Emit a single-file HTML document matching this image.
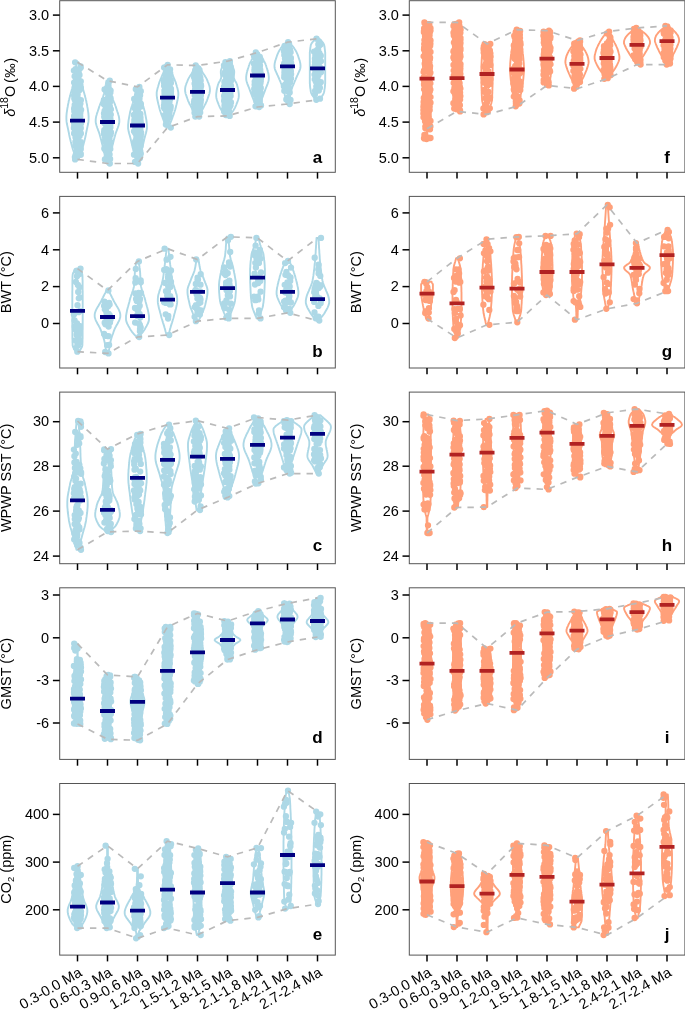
<!DOCTYPE html><html><head><meta charset="utf-8"><style>html,body{margin:0;padding:0;background:#fff;overflow:hidden;}svg{display:block;will-change:transform;}text{font-family:"Liberation Sans",sans-serif;}</style></head><body><svg width="685" height="1009" viewBox="0 0 685 1009"><path d="M75.1 62.3h0M75.1 159.4h0M75.4 93.7h0M80.4 125.5h0M77.5 114.3h0M75.5 69.1h0M80.4 103.5h0M81.1 123.2h0M77.1 118.3h0M74.9 157.1h0M75.3 145.7h0M74.6 76.3h0M76.4 124.3h0M74.6 115.5h0M75.6 128.4h0M75.8 92.8h0M78.0 106.3h0M80.3 113.3h0M79.3 133.1h0M76.9 157.5h0M76.9 102.9h0M77.7 136.5h0M76.6 147.3h0M76.3 129.8h0M74.3 118.6h0M75.9 108.3h0M80.9 142.1h0M74.8 99.8h0M77.5 78.6h0M78.4 115.7h0M80.1 89.3h0M75.5 155.3h0M75.9 79.4h0M75.7 119.5h0M76.8 98.2h0M77.1 112.4h0M80.8 128.0h0M80.0 100.4h0M80.2 68.3h0M74.1 82.6h0M74.1 95.3h0M79.0 121.9h0M80.3 86.8h0M77.3 97.7h0M78.1 107.5h0M73.9 70.6h0M76.7 95.6h0M80.6 142.8h0M79.8 113.6h0M80.1 115.0h0M80.9 87.7h0M75.7 114.0h0M74.7 94.3h0M75.0 96.8h0M77.7 83.7h0M78.8 81.4h0M80.7 122.9h0M79.1 143.9h0M78.6 125.7h0M79.4 135.1h0M77.2 132.7h0M77.9 74.6h0M74.2 96.3h0M79.5 75.0h0M75.6 113.4h0M80.5 142.5h0M78.5 86.8h0M76.1 87.5h0M74.8 96.7h0M75.7 118.9h0M78.5 111.0h0M78.9 113.1h0M74.7 105.0h0M74.4 132.7h0M77.7 94.0h0M78.1 116.2h0M76.7 86.4h0M75.5 137.3h0M78.2 116.8h0M74.0 121.8h0M76.1 112.0h0M77.2 106.2h0M80.8 153.8h0M78.5 116.6h0M80.3 143.9h0M77.3 126.4h0M75.6 101.0h0M75.7 112.4h0M80.8 81.3h0M79.0 132.4h0M76.1 116.1h0M74.1 122.9h0M77.5 88.6h0M78.8 141.8h0M76.9 117.7h0M75.8 71.0h0M78.7 129.1h0M80.6 123.9h0M75.5 106.4h0M74.1 116.0h0M76.3 88.3h0M76.9 113.5h0M78.8 72.9h0M75.3 92.6h0M79.6 136.0h0M79.2 110.9h0M77.5 96.0h0M75.4 86.6h0M80.9 133.5h0M76.1 153.1h0M79.8 141.8h0M75.6 110.4h0M75.5 100.5h0M79.4 130.9h0M76.0 101.6h0M80.8 67.6h0M77.5 87.1h0M75.2 89.7h0M75.5 90.8h0M76.9 92.4h0M78.7 108.4h0M80.7 66.3h0M75.0 91.8h0M76.7 119.2h0M75.4 135.2h0M80.9 100.1h0M74.9 132.6h0M74.3 111.3h0M74.3 119.0h0M76.7 128.6h0M80.4 84.6h0M80.3 116.5h0M79.2 123.1h0M81.1 109.8h0M80.6 111.1h0M76.3 126.3h0M75.2 133.8h0M80.6 133.1h0M79.3 110.3h0M74.1 108.8h0M78.7 136.8h0M76.6 124.7h0M76.6 134.5h0M76.3 117.4h0M75.1 127.6h0M73.9 127.9h0M75.9 112.5h0M76.4 107.6h0M80.8 149.1h0M74.8 105.9h0M80.8 154.8h0M75.4 141.9h0M76.5 109.5h0M79.8 106.1h0M79.8 143.8h0M77.0 149.8h0M74.3 98.4h0M77.3 97.3h0M76.6 89.0h0M80.5 86.5h0M75.3 111.9h0M76.5 123.6h0M80.4 132.2h0M74.1 133.4h0M76.9 135.4h0M79.7 90.1h0M79.4 152.3h0M74.2 108.1h0M74.2 126.0h0M74.4 116.4h0M109.8 80.7h0M109.8 163.5h0M107.3 108.8h0M106.0 106.9h0M107.8 158.8h0M104.8 112.7h0M109.9 116.3h0M106.5 157.5h0M110.0 131.0h0M105.8 107.2h0M106.6 145.5h0M105.7 101.2h0M107.0 102.6h0M105.2 139.5h0M103.9 100.1h0M109.1 132.1h0M105.9 135.7h0M105.7 150.3h0M106.1 127.6h0M107.4 141.8h0M107.0 101.2h0M108.5 128.6h0M108.6 122.7h0M106.5 120.0h0M110.6 90.6h0M110.1 159.0h0M104.3 130.1h0M109.9 98.7h0M110.4 92.4h0M109.5 134.7h0M104.9 136.9h0M109.9 106.5h0M108.5 85.9h0M104.0 113.4h0M104.0 133.6h0M110.8 114.6h0M108.6 106.6h0M105.7 110.3h0M104.6 110.8h0M104.9 141.0h0M105.6 115.8h0M109.5 114.3h0M106.4 118.9h0M105.0 111.4h0M110.4 123.9h0M109.6 97.0h0M105.1 120.7h0M110.3 149.0h0M108.3 145.8h0M109.5 114.2h0M108.7 149.4h0M110.3 98.8h0M109.6 123.6h0M109.9 143.4h0M105.3 150.1h0M108.9 130.3h0M107.7 132.6h0M109.2 115.5h0M107.1 116.0h0M110.3 117.7h0M107.9 121.2h0M105.8 118.6h0M105.6 119.9h0M104.9 122.9h0M107.5 133.4h0M104.3 123.1h0M107.3 122.4h0M104.9 159.4h0M107.4 121.4h0M107.5 156.5h0M107.8 143.3h0M110.1 148.2h0M103.9 122.3h0M110.0 97.9h0M107.3 122.6h0M108.0 133.4h0M108.7 132.8h0M110.0 146.7h0M106.6 110.5h0M106.9 117.3h0M110.8 142.3h0M104.4 148.6h0M108.5 129.2h0M108.5 106.6h0M104.1 131.7h0M108.3 123.1h0M108.8 91.6h0M110.6 134.8h0M106.3 129.5h0M111.0 132.4h0M107.6 100.9h0M107.4 114.0h0M110.4 127.3h0M104.1 134.2h0M109.1 114.3h0M108.4 158.6h0M106.3 122.7h0M110.1 148.0h0M106.5 106.3h0M107.3 142.4h0M107.7 142.1h0M109.4 99.4h0M105.4 99.9h0M107.0 139.6h0M106.9 126.6h0M107.9 153.6h0M109.9 102.3h0M106.0 142.5h0M109.9 132.9h0M106.8 119.6h0M107.5 116.9h0M105.9 127.9h0M107.5 92.7h0M110.9 109.3h0M108.6 83.1h0M109.6 89.6h0M106.3 90.0h0M106.2 133.0h0M106.1 89.0h0M108.1 143.4h0M108.5 107.1h0M109.5 111.2h0M104.2 116.8h0M109.1 109.4h0M110.3 125.2h0M107.8 152.1h0M104.3 148.6h0M106.1 121.4h0M103.9 104.2h0M105.3 138.6h0M110.5 132.7h0M108.3 113.9h0M108.6 154.4h0M109.6 154.3h0M110.5 97.8h0M108.3 100.0h0M108.3 124.7h0M108.4 109.6h0M108.9 154.0h0M108.2 96.6h0M108.8 93.5h0M105.4 101.2h0M108.7 123.9h0M107.2 107.9h0M109.4 141.4h0M104.6 89.5h0M105.2 112.9h0M104.2 113.7h0M109.5 138.1h0M110.5 133.1h0M108.6 114.2h0M106.6 128.2h0M109.8 115.6h0M109.6 133.8h0M107.9 106.6h0M105.8 132.8h0M106.1 115.8h0M106.9 132.2h0M106.2 145.1h0M107.0 121.3h0M108.5 125.5h0M110.6 123.1h0M104.3 113.2h0M108.0 110.1h0M104.2 103.4h0M104.8 115.5h0M109.7 109.9h0M108.0 113.2h0M110.5 119.5h0M107.1 109.9h0M139.4 86.9h0M138.1 163.5h0M137.5 118.5h0M140.8 136.3h0M138.0 98.5h0M136.9 96.8h0M139.5 142.0h0M140.2 143.1h0M138.3 142.8h0M136.6 135.1h0M137.2 122.2h0M137.2 141.8h0M139.1 149.5h0M136.0 110.7h0M136.7 124.2h0M137.9 115.1h0M136.7 120.5h0M136.2 114.7h0M139.6 135.1h0M140.0 116.4h0M137.5 130.3h0M137.1 112.3h0M135.2 132.9h0M136.1 119.7h0M134.9 115.8h0M138.0 133.0h0M138.1 148.8h0M134.5 119.3h0M140.5 130.7h0M136.2 113.5h0M140.0 129.3h0M139.9 158.3h0M140.8 133.4h0M135.4 122.5h0M137.0 147.5h0M140.5 146.0h0M134.0 131.3h0M134.2 123.4h0M138.0 101.4h0M137.5 114.7h0M140.5 117.7h0M139.5 98.3h0M137.8 147.2h0M141.1 132.6h0M137.6 126.7h0M137.6 130.3h0M138.8 146.6h0M136.7 106.4h0M136.5 102.3h0M138.2 93.3h0M136.4 129.6h0M140.7 122.0h0M138.8 156.6h0M137.7 132.7h0M134.6 106.6h0M136.6 138.2h0M136.8 121.2h0M137.9 103.9h0M138.0 106.5h0M140.2 151.0h0M140.8 91.2h0M137.4 138.7h0M137.1 132.2h0M138.4 106.6h0M141.1 123.8h0M136.4 105.2h0M137.7 138.8h0M139.8 141.8h0M135.1 121.5h0M136.2 135.0h0M140.9 103.9h0M139.8 141.6h0M137.6 107.3h0M134.7 98.8h0M140.3 151.2h0M138.9 138.1h0M139.8 123.5h0M141.0 106.6h0M140.3 155.5h0M136.9 142.5h0M135.0 161.9h0M136.0 148.7h0M137.6 97.6h0M137.5 156.8h0M135.3 130.7h0M135.2 141.4h0M138.4 93.0h0M138.2 133.5h0M136.4 107.9h0M141.1 133.8h0M138.5 102.4h0M134.2 143.0h0M136.9 142.2h0M139.6 149.0h0M136.1 124.7h0M138.9 153.7h0M133.9 115.0h0M136.1 115.3h0M140.0 121.0h0M138.1 111.5h0M138.7 116.1h0M135.3 126.2h0M137.5 128.1h0M137.9 100.9h0M135.8 89.2h0M138.6 140.4h0M137.7 131.1h0M141.1 140.7h0M138.0 90.4h0M136.9 124.7h0M134.8 108.3h0M135.0 118.0h0M139.4 132.2h0M134.7 144.1h0M134.6 116.7h0M135.1 146.4h0M137.7 105.3h0M139.8 106.0h0M138.3 135.4h0M139.7 127.6h0M134.3 120.1h0M134.0 154.7h0M139.4 136.0h0M136.2 138.9h0M139.1 128.4h0M136.4 134.5h0M135.1 126.8h0M135.8 110.3h0M134.6 107.5h0M140.4 127.8h0M138.1 96.4h0M136.4 109.4h0M137.1 109.0h0M136.7 130.6h0M134.3 122.2h0M140.3 133.8h0M138.1 110.7h0M140.8 103.9h0M137.1 116.3h0M138.4 152.9h0M135.7 129.5h0M134.2 99.0h0M140.6 120.6h0M140.1 95.3h0M136.2 98.7h0M140.4 113.9h0M139.8 134.1h0M136.1 145.1h0M138.2 157.0h0M140.8 153.6h0M167.7 64.8h0M170.8 127.6h0M171.0 95.9h0M164.1 80.1h0M167.9 109.9h0M169.5 95.2h0M170.2 80.1h0M169.5 87.3h0M168.5 100.1h0M168.5 98.3h0M166.5 90.1h0M165.9 86.9h0M169.6 76.8h0M170.2 79.7h0M170.7 106.5h0M168.8 70.6h0M166.1 117.2h0M169.4 92.6h0M169.2 115.4h0M167.6 87.0h0M168.5 96.5h0M166.4 93.2h0M167.9 109.2h0M166.8 87.9h0M164.3 103.0h0M166.3 119.6h0M166.2 97.0h0M171.0 89.0h0M167.4 100.5h0M166.5 89.3h0M165.7 85.0h0M165.6 87.5h0M166.4 83.4h0M164.9 84.3h0M164.0 82.5h0M170.2 73.1h0M167.2 106.5h0M167.1 90.7h0M168.0 108.7h0M166.1 118.0h0M165.1 104.3h0M164.4 67.3h0M166.1 75.0h0M166.1 83.8h0M169.1 104.9h0M167.9 109.8h0M170.6 92.1h0M166.4 86.7h0M170.5 82.8h0M168.1 111.9h0M164.5 108.4h0M165.2 82.5h0M168.1 104.2h0M171.0 91.7h0M166.5 123.1h0M169.5 112.6h0M167.0 81.2h0M170.2 99.0h0M164.4 90.7h0M167.4 84.3h0M170.4 109.2h0M165.9 79.7h0M165.8 97.2h0M164.1 85.7h0M165.1 99.2h0M165.8 102.4h0M169.0 72.0h0M165.5 87.4h0M166.8 92.9h0M165.3 85.2h0M168.2 87.6h0M170.1 69.3h0M168.6 92.1h0M165.3 98.9h0M169.2 105.8h0M170.8 80.2h0M168.2 117.5h0M164.5 85.3h0M169.7 116.6h0M170.2 87.9h0M166.4 88.0h0M164.9 79.8h0M165.3 100.4h0M167.8 95.8h0M170.2 74.7h0M168.5 101.3h0M170.5 108.0h0M165.4 92.6h0M166.3 70.4h0M169.3 92.4h0M168.6 110.2h0M166.8 114.2h0M168.8 82.6h0M166.3 97.1h0M164.3 86.1h0M166.9 121.6h0M164.2 83.4h0M168.4 100.2h0M166.3 77.1h0M167.5 85.1h0M168.2 115.7h0M165.8 107.3h0M167.2 83.5h0M164.0 105.5h0M170.6 107.4h0M168.0 88.2h0M171.0 90.9h0M164.3 100.3h0M168.3 72.0h0M169.1 80.7h0M166.3 98.1h0M164.6 95.5h0M165.0 79.0h0M164.9 101.8h0M169.4 90.4h0M164.5 92.4h0M169.8 99.4h0M166.9 112.3h0M167.8 89.4h0M168.1 113.5h0M167.9 113.5h0M168.6 79.7h0M168.2 78.2h0M166.3 109.2h0M169.2 86.2h0M165.8 110.1h0M169.0 102.7h0M169.4 99.3h0M169.5 107.2h0M166.1 76.9h0M169.5 71.9h0M170.9 83.0h0M167.2 88.7h0M165.9 124.4h0M167.7 86.3h0M170.7 96.3h0M164.8 115.1h0M164.0 107.5h0M167.3 94.7h0M168.6 117.9h0M169.5 101.8h0M166.5 75.5h0M171.0 94.2h0M165.5 89.2h0M169.3 85.8h0M164.5 93.7h0M164.1 67.6h0M164.9 106.9h0M164.3 82.0h0M167.5 81.3h0M195.7 65.5h0M199.2 116.6h0M195.2 93.9h0M199.6 73.1h0M196.0 73.8h0M194.4 105.3h0M197.9 98.0h0M194.6 106.4h0M197.9 86.0h0M199.6 86.4h0M198.2 77.0h0M197.2 78.9h0M194.1 77.3h0M197.6 76.6h0M194.6 109.9h0M198.6 79.9h0M194.9 90.3h0M198.1 96.0h0M196.4 95.1h0M196.6 83.9h0M198.7 109.6h0M195.1 80.7h0M195.1 70.5h0M200.7 100.4h0M196.3 115.6h0M200.0 100.7h0M200.2 91.3h0M197.4 87.5h0M195.0 91.1h0M194.6 83.6h0M200.2 79.4h0M194.7 79.0h0M197.5 86.4h0M197.8 84.0h0M194.7 100.7h0M197.3 93.3h0M195.1 85.9h0M197.8 86.9h0M197.5 85.3h0M196.5 86.4h0M195.3 116.5h0M196.8 78.5h0M195.4 84.8h0M194.8 75.6h0M195.6 111.9h0M200.2 101.0h0M197.5 98.5h0M200.3 77.5h0M194.0 103.5h0M200.7 101.9h0M197.4 92.4h0M199.6 100.1h0M198.0 97.6h0M198.9 76.9h0M195.6 89.7h0M199.3 92.2h0M195.0 76.8h0M195.8 92.3h0M194.1 107.1h0M196.7 89.0h0M197.6 109.8h0M196.0 85.0h0M200.3 107.3h0M194.5 73.4h0M198.1 106.5h0M195.6 88.6h0M198.2 101.0h0M199.5 89.9h0M199.0 104.3h0M194.3 100.3h0M195.7 92.1h0M198.2 84.4h0M201.0 85.0h0M194.2 75.8h0M198.4 68.5h0M198.9 102.2h0M199.8 82.1h0M196.4 108.1h0M199.7 75.8h0M197.2 84.5h0M200.5 88.1h0M194.0 101.9h0M200.7 86.3h0M196.9 106.9h0M196.8 85.2h0M194.5 112.8h0M195.7 84.5h0M199.2 82.3h0M198.8 104.1h0M195.0 92.4h0M196.4 89.1h0M194.9 108.4h0M195.3 89.7h0M195.5 88.0h0M196.3 91.7h0M200.9 99.8h0M201.1 86.0h0M199.6 100.2h0M197.4 71.5h0M197.5 70.7h0M199.5 104.0h0M200.4 101.8h0M199.3 86.9h0M198.5 110.1h0M195.3 82.6h0M198.4 79.5h0M200.0 81.5h0M199.6 91.6h0M194.6 109.3h0M199.1 75.8h0M196.4 92.9h0M195.1 89.2h0M200.9 95.3h0M198.7 106.5h0M199.3 92.7h0M194.9 94.4h0M199.9 80.4h0M200.6 88.7h0M200.4 88.2h0M199.3 98.2h0M199.9 109.6h0M199.7 96.0h0M198.2 106.4h0M197.0 99.9h0M199.8 80.6h0M199.5 108.3h0M200.2 112.4h0M196.1 70.7h0M200.8 86.7h0M197.7 100.6h0M200.7 80.5h0M194.7 95.2h0M200.9 94.1h0M199.6 108.5h0M195.7 85.5h0M199.9 84.9h0M195.6 76.9h0M195.3 102.7h0M197.2 100.2h0M195.6 107.8h0M197.4 80.4h0M200.4 103.8h0M198.8 113.0h0M199.0 90.3h0M196.7 96.0h0M199.5 70.0h0M199.6 108.7h0M198.8 112.7h0M200.7 99.0h0M199.8 82.5h0M229.9 61.2h0M229.7 115.9h0M227.2 83.4h0M224.8 96.9h0M228.6 79.8h0M225.4 62.1h0M227.0 105.6h0M224.7 94.3h0M230.9 79.5h0M227.8 95.1h0M226.4 66.0h0M224.6 99.6h0M229.2 97.4h0M230.0 71.3h0M230.0 94.6h0M224.6 82.8h0M226.5 106.6h0M226.1 90.0h0M229.4 86.1h0M225.0 74.9h0M228.3 108.4h0M230.9 81.0h0M229.4 95.8h0M223.9 89.8h0M224.4 98.6h0M224.7 85.7h0M228.9 102.2h0M228.2 79.0h0M227.6 92.7h0M227.2 82.7h0M226.8 96.3h0M228.3 102.9h0M228.6 91.0h0M230.5 105.2h0M229.2 100.0h0M229.6 76.4h0M230.5 92.7h0M229.9 104.6h0M229.1 68.9h0M224.1 109.2h0M228.8 101.6h0M230.0 78.3h0M227.0 77.5h0M230.2 71.4h0M225.2 112.8h0M230.7 78.8h0M227.1 67.1h0M229.0 82.8h0M225.7 113.9h0M226.1 85.8h0M226.4 96.1h0M226.2 78.4h0M224.6 102.6h0M227.1 91.8h0M231.0 102.4h0M228.6 90.2h0M230.6 95.7h0M229.4 103.4h0M229.9 106.4h0M231.1 75.7h0M229.3 102.4h0M225.9 83.8h0M225.7 67.3h0M226.9 96.5h0M224.1 95.9h0M225.6 103.6h0M230.3 79.9h0M230.5 105.3h0M226.3 90.3h0M229.4 97.8h0M229.5 68.5h0M230.3 88.7h0M229.6 97.7h0M227.7 83.3h0M224.7 102.5h0M229.8 101.8h0M226.2 96.7h0M228.4 99.7h0M226.5 76.2h0M227.8 94.2h0M230.9 76.1h0M225.1 73.4h0M227.7 105.1h0M228.6 99.5h0M227.8 107.1h0M230.7 68.8h0M226.8 91.6h0M230.5 67.2h0M228.9 95.6h0M230.9 79.3h0M224.5 105.4h0M225.4 84.4h0M226.0 95.7h0M230.4 93.2h0M224.0 89.2h0M225.8 115.1h0M229.1 87.3h0M231.0 86.0h0M225.2 100.0h0M227.1 79.9h0M228.8 83.2h0M228.9 89.4h0M229.3 72.0h0M229.3 91.8h0M225.7 100.7h0M225.8 64.6h0M224.1 100.7h0M228.9 75.6h0M225.4 63.6h0M225.8 105.2h0M230.8 66.8h0M228.5 87.3h0M228.2 68.2h0M228.6 92.0h0M228.2 72.6h0M228.9 101.3h0M226.1 68.5h0M224.4 72.9h0M224.4 81.9h0M224.0 86.6h0M226.5 109.8h0M224.9 65.1h0M224.7 95.4h0M227.5 87.7h0M230.9 72.5h0M228.9 110.7h0M225.9 68.1h0M229.4 86.2h0M225.2 96.0h0M224.6 85.2h0M226.1 100.8h0M226.8 86.9h0M228.9 98.0h0M227.1 99.1h0M229.1 94.0h0M224.6 73.7h0M230.6 95.9h0M226.4 63.3h0M229.9 63.3h0M224.1 111.5h0M229.9 69.6h0M225.5 102.6h0M230.1 70.1h0M229.7 91.6h0M228.7 88.7h0M225.9 93.7h0M224.0 65.4h0M225.3 91.0h0M230.4 82.9h0M225.0 102.0h0M255.8 52.5h0M259.2 107.0h0M260.3 88.4h0M260.4 88.5h0M257.3 60.3h0M260.8 88.0h0M258.2 64.7h0M256.0 72.3h0M257.2 66.2h0M259.1 81.0h0M259.2 68.0h0M254.8 94.2h0M255.3 63.1h0M260.8 73.4h0M254.7 87.5h0M259.8 99.9h0M256.3 65.3h0M255.7 76.4h0M255.7 77.6h0M257.3 57.6h0M261.0 78.6h0M255.0 65.1h0M260.1 58.9h0M256.2 72.2h0M255.1 56.4h0M259.3 93.1h0M256.4 99.3h0M255.3 65.6h0M256.9 99.6h0M259.8 57.0h0M260.1 92.4h0M258.0 77.2h0M254.0 63.7h0M259.4 72.2h0M258.3 62.3h0M260.4 88.1h0M260.8 92.9h0M256.3 65.3h0M260.0 85.5h0M259.8 101.7h0M255.8 64.9h0M256.5 101.6h0M256.6 64.3h0M256.4 76.4h0M256.6 74.4h0M254.7 65.2h0M255.5 80.4h0M260.4 79.3h0M256.9 86.4h0M258.5 97.9h0M260.3 70.0h0M259.3 71.2h0M255.7 66.6h0M260.5 83.1h0M259.7 60.0h0M261.0 60.6h0M259.1 81.0h0M259.3 100.8h0M259.8 65.3h0M255.7 84.4h0M258.6 74.8h0M256.6 58.2h0M259.9 68.3h0M254.9 75.4h0M257.8 88.1h0M256.3 58.9h0M259.8 88.4h0M256.4 83.6h0M260.0 90.2h0M260.0 65.4h0M260.2 81.1h0M254.9 86.5h0M260.7 87.8h0M259.3 65.2h0M258.8 74.8h0M258.6 101.6h0M254.2 92.6h0M260.2 59.5h0M257.8 64.2h0M257.2 54.4h0M256.3 74.6h0M259.5 71.9h0M259.5 76.3h0M260.2 78.8h0M255.4 89.3h0M256.4 87.5h0M255.7 68.9h0M254.6 84.6h0M256.3 92.0h0M254.1 56.3h0M259.6 66.9h0M255.5 106.3h0M254.4 70.8h0M254.4 69.9h0M259.2 78.6h0M255.3 55.5h0M257.2 61.4h0M256.8 86.5h0M259.7 92.2h0M260.8 79.3h0M256.1 55.3h0M258.5 90.2h0M260.3 91.6h0M257.3 65.1h0M260.4 88.7h0M259.2 60.0h0M256.1 84.2h0M260.2 87.1h0M258.0 66.6h0M254.7 81.6h0M258.1 64.5h0M259.9 87.4h0M257.6 63.7h0M257.4 88.6h0M256.9 61.1h0M260.2 95.8h0M258.7 69.7h0M255.4 57.4h0M256.5 80.5h0M256.5 77.7h0M260.8 80.9h0M258.9 91.5h0M254.8 94.8h0M260.5 78.9h0M254.2 88.9h0M258.2 69.8h0M257.0 72.8h0M259.1 86.2h0M257.0 77.3h0M254.6 67.7h0M257.7 59.5h0M259.8 86.3h0M259.6 94.5h0M256.5 94.4h0M255.5 58.3h0M259.3 61.4h0M259.7 97.9h0M255.5 75.7h0M260.3 59.2h0M261.0 105.5h0M288.1 42.2h0M289.7 104.0h0M285.1 69.0h0M287.5 54.7h0M288.0 62.5h0M287.9 53.7h0M286.9 73.1h0M287.8 91.3h0M284.0 64.6h0M284.3 55.0h0M286.9 76.8h0M285.6 68.4h0M289.3 58.2h0M285.6 68.2h0M289.8 71.1h0M285.6 56.8h0M284.6 74.1h0M287.3 54.7h0M286.7 59.0h0M286.3 99.4h0M289.4 47.5h0M285.5 51.0h0M288.7 63.0h0M289.9 57.3h0M287.2 52.2h0M287.5 80.4h0M290.6 52.2h0M288.2 47.5h0M285.2 61.7h0M284.4 53.5h0M284.5 71.3h0M286.3 78.8h0M284.5 52.7h0M288.6 67.1h0M286.9 68.5h0M286.1 84.9h0M287.6 77.6h0M290.6 64.1h0M285.7 68.9h0M285.0 76.5h0M286.1 51.2h0M286.2 63.2h0M290.5 76.2h0M289.0 53.5h0M287.0 71.8h0M285.1 64.7h0M284.2 63.8h0M284.8 71.7h0M290.0 66.1h0M288.6 90.8h0M285.0 65.1h0M288.4 64.6h0M284.3 75.5h0M287.5 62.7h0M286.3 51.3h0M284.6 45.8h0M289.2 69.0h0M289.1 66.0h0M287.6 44.6h0M285.1 49.9h0M288.7 49.1h0M287.0 53.4h0M288.7 64.5h0M284.6 69.0h0M290.4 57.9h0M283.9 85.8h0M285.5 53.3h0M286.8 63.9h0M285.3 84.3h0M284.5 69.4h0M288.8 77.8h0M291.1 63.0h0M286.3 51.0h0M285.8 65.9h0M288.7 67.8h0M285.5 67.5h0M286.8 80.2h0M288.9 65.5h0M287.0 61.9h0M285.0 58.4h0M284.4 72.4h0M287.8 99.2h0M291.0 78.4h0M290.5 99.9h0M284.6 90.2h0M287.5 59.3h0M287.4 87.1h0M285.3 48.2h0M288.7 86.8h0M287.5 82.6h0M289.7 65.1h0M286.0 68.6h0M290.6 70.4h0M289.8 67.0h0M287.3 71.4h0M284.9 88.5h0M287.4 84.2h0M284.8 88.0h0M288.8 81.6h0M288.9 57.6h0M288.1 97.4h0M290.9 70.9h0M284.2 63.4h0M289.0 53.7h0M289.7 92.5h0M284.7 53.7h0M286.2 63.0h0M284.3 90.8h0M288.1 81.2h0M289.1 88.2h0M286.4 70.8h0M288.9 52.1h0M286.5 76.4h0M289.0 52.6h0M285.9 71.3h0M290.9 58.8h0M287.1 78.6h0M283.9 50.9h0M284.6 76.0h0M289.1 44.0h0M290.1 49.9h0M288.5 81.1h0M285.0 64.6h0M290.2 81.4h0M289.1 64.5h0M284.7 46.2h0M286.6 76.4h0M288.7 73.6h0M283.9 86.3h0M284.2 77.3h0M286.4 67.9h0M290.2 58.7h0M291.1 74.1h0M286.2 85.3h0M290.4 58.9h0M289.6 64.7h0M290.1 82.6h0M288.1 64.4h0M290.9 58.0h0M288.5 52.0h0M316.5 38.7h0M316.3 99.8h0M318.3 50.7h0M318.0 68.2h0M315.9 61.5h0M314.5 74.6h0M320.8 55.7h0M316.6 69.5h0M314.7 79.3h0M318.6 71.2h0M317.7 85.8h0M316.3 86.4h0M316.3 53.9h0M320.0 69.9h0M316.3 56.4h0M316.9 82.0h0M320.8 68.2h0M316.5 51.7h0M316.8 60.6h0M315.1 60.7h0M318.7 83.5h0M318.7 53.0h0M317.1 78.7h0M316.8 77.5h0M315.6 55.4h0M319.6 60.7h0M317.2 79.6h0M319.9 87.8h0M316.6 59.3h0M319.2 87.3h0M314.1 68.5h0M315.5 55.2h0M320.8 82.2h0M318.8 90.6h0M318.8 65.5h0M317.5 57.9h0M317.3 49.9h0M315.3 55.9h0M315.1 90.8h0M318.5 64.8h0M318.9 85.9h0M315.8 65.6h0M318.5 75.1h0M314.9 61.9h0M318.3 61.4h0M315.1 59.0h0M317.6 76.9h0M316.2 76.0h0M317.9 50.9h0M314.9 94.3h0M317.4 74.5h0M318.3 58.4h0M314.9 58.6h0M316.1 75.5h0M318.8 46.2h0M317.8 57.7h0M318.3 60.9h0M319.5 53.4h0M318.0 53.6h0M315.5 61.7h0M317.1 87.4h0M319.9 55.1h0M318.0 68.0h0M319.3 42.0h0M316.5 52.6h0M317.1 86.2h0M320.9 72.2h0M319.8 87.6h0M318.6 54.6h0M314.7 65.6h0M318.3 44.3h0M314.1 51.7h0M320.6 44.4h0M320.9 61.2h0M319.1 69.7h0M315.8 81.6h0M320.0 98.7h0M315.2 69.9h0M319.9 61.4h0M317.6 51.5h0" stroke="#ADD8E6" stroke-width="6.3" stroke-linecap="round" fill="none"/><path d="M78.5,62.3 78.6,63.7 78.8,65.1 78.9,66.5 79.0,67.8 79.2,69.2 79.3,70.6 79.5,72.0 79.7,73.4 79.9,74.8 80.1,76.2 80.3,77.6 80.6,78.9 80.9,80.3 81.3,81.7 81.6,83.1 81.9,84.5 82.3,85.9 82.6,87.3 82.9,88.7 83.3,90.0 83.7,91.4 84.1,92.8 84.5,94.2 84.8,95.6 85.2,97.0 85.6,98.4 85.9,99.8 86.3,101.1 86.5,102.5 86.8,103.9 87.1,105.3 87.3,106.7 87.6,108.1 87.8,109.5 88.0,110.8 88.2,112.2 88.4,113.6 88.5,115.0 88.6,116.4 88.6,117.8 88.6,119.2 88.5,120.6 88.4,121.9 88.2,123.3 87.9,124.7 87.6,126.1 87.3,127.5 87.0,128.9 86.7,130.3 86.4,131.7 86.1,133.0 85.9,134.4 85.6,135.8 85.3,137.2 85.0,138.6 84.6,140.0 84.3,141.4 83.9,142.8 83.6,144.1 83.2,145.5 82.8,146.9 82.4,148.3 82.0,149.7 81.5,151.1 81.0,152.5 80.5,153.9 80.0,155.2 79.5,156.6 79.0,158.0 78.5,159.4 76.5,159.4 76.0,158.0 75.5,156.6 75.0,155.2 74.5,153.9 74.0,152.5 73.5,151.1 73.0,149.7 72.6,148.3 72.2,146.9 71.8,145.5 71.4,144.1 71.1,142.8 70.7,141.4 70.4,140.0 70.0,138.6 69.7,137.2 69.4,135.8 69.1,134.4 68.9,133.0 68.6,131.7 68.3,130.3 68.0,128.9 67.7,127.5 67.4,126.1 67.1,124.7 66.8,123.3 66.6,121.9 66.5,120.6 66.4,119.2 66.4,117.8 66.4,116.4 66.5,115.0 66.6,113.6 66.8,112.2 67.0,110.8 67.2,109.5 67.4,108.1 67.7,106.7 67.9,105.3 68.2,103.9 68.5,102.5 68.7,101.1 69.1,99.8 69.4,98.4 69.8,97.0 70.2,95.6 70.5,94.2 70.9,92.8 71.3,91.4 71.7,90.0 72.1,88.7 72.4,87.3 72.7,85.9 73.1,84.5 73.4,83.1 73.7,81.7 74.1,80.3 74.4,78.9 74.7,77.6 74.9,76.2 75.1,74.8 75.3,73.4 75.5,72.0 75.7,70.6 75.8,69.2 76.0,67.8 76.1,66.5 76.2,65.1 76.4,63.7 76.5,62.3ZM108.5,80.7 108.7,81.9 108.9,83.1 109.1,84.2 109.4,85.4 109.6,86.6 109.8,87.8 110.0,89.0 110.2,90.2 110.5,91.3 110.8,92.5 111.0,93.7 111.3,94.9 111.7,96.1 112.0,97.3 112.5,98.4 112.9,99.6 113.4,100.8 113.9,102.0 114.4,103.2 114.9,104.4 115.3,105.5 115.8,106.7 116.1,107.9 116.5,109.1 116.9,110.3 117.3,111.5 117.7,112.6 118.1,113.8 118.4,115.0 118.8,116.2 119.0,117.4 119.2,118.6 119.3,119.7 119.3,120.9 119.3,122.1 119.1,123.3 118.8,124.5 118.5,125.6 118.1,126.8 117.7,128.0 117.2,129.2 116.8,130.4 116.3,131.6 115.9,132.7 115.5,133.9 115.2,135.1 114.9,136.3 114.5,137.5 114.2,138.7 113.9,139.8 113.6,141.0 113.3,142.2 113.0,143.4 112.7,144.6 112.4,145.8 112.1,146.9 111.8,148.1 111.5,149.3 111.2,150.5 111.0,151.7 110.7,152.9 110.5,154.0 110.2,155.2 109.9,156.4 109.7,157.6 109.5,158.8 109.2,160.0 109.0,161.1 108.7,162.3 108.5,163.5 106.5,163.5 106.3,162.3 106.0,161.1 105.8,160.0 105.5,158.8 105.3,157.6 105.1,156.4 104.8,155.2 104.5,154.0 104.3,152.9 104.0,151.7 103.8,150.5 103.5,149.3 103.2,148.1 102.9,146.9 102.6,145.8 102.3,144.6 102.0,143.4 101.7,142.2 101.4,141.0 101.1,139.8 100.8,138.7 100.5,137.5 100.1,136.3 99.8,135.1 99.5,133.9 99.1,132.7 98.7,131.6 98.2,130.4 97.8,129.2 97.3,128.0 96.9,126.8 96.5,125.6 96.2,124.5 95.9,123.3 95.7,122.1 95.7,120.9 95.7,119.7 95.8,118.6 96.0,117.4 96.2,116.2 96.6,115.0 96.9,113.8 97.3,112.6 97.7,111.5 98.1,110.3 98.5,109.1 98.9,107.9 99.2,106.7 99.7,105.5 100.1,104.4 100.6,103.2 101.1,102.0 101.6,100.8 102.1,99.6 102.5,98.4 103.0,97.3 103.3,96.1 103.7,94.9 104.0,93.7 104.2,92.5 104.5,91.3 104.8,90.2 105.0,89.0 105.2,87.8 105.4,86.6 105.6,85.4 105.9,84.2 106.1,83.1 106.3,81.9 106.5,80.7ZM138.4,86.9 138.7,88.0 138.9,89.1 139.1,90.2 139.4,91.3 139.6,92.4 139.8,93.5 140.0,94.6 140.3,95.7 140.5,96.7 140.8,97.8 141.0,98.9 141.3,100.0 141.6,101.1 141.9,102.2 142.2,103.3 142.6,104.4 142.9,105.5 143.3,106.6 143.7,107.7 144.0,108.8 144.3,109.9 144.6,111.0 144.9,112.1 145.1,113.2 145.3,114.3 145.5,115.4 145.7,116.4 145.9,117.5 146.1,118.6 146.3,119.7 146.5,120.8 146.6,121.9 146.7,123.0 146.8,124.1 146.9,125.2 146.9,126.3 146.9,127.4 146.9,128.5 146.7,129.6 146.5,130.7 146.3,131.8 146.0,132.9 145.7,134.0 145.4,135.0 145.1,136.1 144.8,137.2 144.5,138.3 144.2,139.4 144.0,140.5 143.7,141.6 143.5,142.7 143.2,143.8 143.0,144.9 142.7,146.0 142.5,147.1 142.2,148.2 141.9,149.3 141.7,150.4 141.4,151.5 141.1,152.6 140.9,153.7 140.6,154.7 140.3,155.8 140.1,156.9 139.8,158.0 139.5,159.1 139.3,160.2 139.0,161.3 138.7,162.4 138.4,163.5 136.6,163.5 136.3,162.4 136.0,161.3 135.7,160.2 135.5,159.1 135.2,158.0 134.9,156.9 134.7,155.8 134.4,154.7 134.1,153.7 133.9,152.6 133.6,151.5 133.3,150.4 133.1,149.3 132.8,148.2 132.5,147.1 132.3,146.0 132.0,144.9 131.8,143.8 131.5,142.7 131.3,141.6 131.0,140.5 130.8,139.4 130.5,138.3 130.2,137.2 129.9,136.1 129.6,135.0 129.3,134.0 129.0,132.9 128.7,131.8 128.5,130.7 128.3,129.6 128.1,128.5 128.1,127.4 128.1,126.3 128.1,125.2 128.2,124.1 128.3,123.0 128.4,121.9 128.5,120.8 128.7,119.7 128.9,118.6 129.1,117.5 129.3,116.4 129.5,115.4 129.7,114.3 129.9,113.2 130.1,112.1 130.4,111.0 130.7,109.9 131.0,108.8 131.3,107.7 131.7,106.6 132.1,105.5 132.4,104.4 132.8,103.3 133.1,102.2 133.4,101.1 133.7,100.0 134.0,98.9 134.2,97.8 134.5,96.7 134.7,95.7 135.0,94.6 135.2,93.5 135.4,92.4 135.6,91.3 135.9,90.2 136.1,89.1 136.3,88.0 136.6,86.9ZM168.5,64.8 168.8,65.7 169.2,66.6 169.5,67.5 169.9,68.4 170.3,69.3 170.6,70.2 171.0,71.1 171.3,72.0 171.7,72.9 172.1,73.8 172.5,74.7 172.9,75.6 173.2,76.5 173.6,77.4 174.0,78.3 174.4,79.2 174.8,80.1 175.1,80.9 175.5,81.8 175.8,82.7 176.0,83.6 176.3,84.5 176.6,85.4 176.8,86.3 177.1,87.2 177.4,88.1 177.6,89.0 177.8,89.9 178.0,90.8 178.2,91.7 178.3,92.6 178.3,93.5 178.3,94.4 178.3,95.3 178.2,96.2 178.1,97.1 178.0,98.0 177.8,98.9 177.6,99.8 177.4,100.7 177.2,101.6 177.0,102.5 176.8,103.4 176.6,104.3 176.3,105.2 176.1,106.1 175.9,107.0 175.7,107.9 175.4,108.8 175.2,109.7 174.9,110.6 174.6,111.5 174.3,112.3 174.0,113.2 173.7,114.1 173.4,115.0 173.0,115.9 172.7,116.8 172.4,117.7 172.1,118.6 171.7,119.5 171.4,120.4 171.0,121.3 170.7,122.2 170.3,123.1 169.9,124.0 169.6,124.9 169.2,125.8 168.8,126.7 168.5,127.6 166.5,127.6 166.2,126.7 165.8,125.8 165.4,124.9 165.1,124.0 164.7,123.1 164.3,122.2 164.0,121.3 163.6,120.4 163.3,119.5 162.9,118.6 162.6,117.7 162.3,116.8 162.0,115.9 161.6,115.0 161.3,114.1 161.0,113.2 160.7,112.3 160.4,111.5 160.1,110.6 159.8,109.7 159.6,108.8 159.3,107.9 159.1,107.0 158.9,106.1 158.7,105.2 158.4,104.3 158.2,103.4 158.0,102.5 157.8,101.6 157.6,100.7 157.4,99.8 157.2,98.9 157.0,98.0 156.9,97.1 156.8,96.2 156.7,95.3 156.7,94.4 156.7,93.5 156.7,92.6 156.8,91.7 157.0,90.8 157.2,89.9 157.4,89.0 157.6,88.1 157.9,87.2 158.2,86.3 158.4,85.4 158.7,84.5 159.0,83.6 159.2,82.7 159.5,81.8 159.9,80.9 160.2,80.1 160.6,79.2 161.0,78.3 161.4,77.4 161.8,76.5 162.1,75.6 162.5,74.7 162.9,73.8 163.3,72.9 163.7,72.0 164.0,71.1 164.4,70.2 164.7,69.3 165.1,68.4 165.5,67.5 165.8,66.6 166.2,65.7 166.5,64.8ZM198.5,65.5 198.9,66.2 199.3,67.0 199.8,67.7 200.2,68.4 200.6,69.2 201.1,69.9 201.5,70.6 201.9,71.3 202.4,72.1 202.8,72.8 203.3,73.5 203.8,74.3 204.3,75.0 204.8,75.7 205.2,76.5 205.7,77.2 206.1,77.9 206.5,78.6 206.9,79.4 207.2,80.1 207.5,80.8 207.8,81.6 208.1,82.3 208.4,83.0 208.7,83.8 208.9,84.5 209.2,85.2 209.4,85.9 209.6,86.7 209.7,87.4 209.8,88.1 209.9,88.9 209.9,89.6 209.9,90.3 209.9,91.0 209.8,91.8 209.6,92.5 209.5,93.2 209.3,94.0 209.0,94.7 208.8,95.4 208.5,96.2 208.3,96.9 208.0,97.6 207.7,98.3 207.5,99.1 207.2,99.8 207.0,100.5 206.7,101.3 206.3,102.0 206.0,102.7 205.7,103.5 205.3,104.2 204.9,104.9 204.5,105.6 204.1,106.4 203.8,107.1 203.4,107.8 203.0,108.6 202.6,109.3 202.2,110.0 201.8,110.8 201.4,111.5 201.0,112.2 200.6,112.9 200.1,113.7 199.7,114.4 199.3,115.1 198.9,115.9 198.5,116.6 196.5,116.6 196.1,115.9 195.7,115.1 195.3,114.4 194.9,113.7 194.4,112.9 194.0,112.2 193.6,111.5 193.2,110.8 192.8,110.0 192.4,109.3 192.0,108.6 191.6,107.8 191.2,107.1 190.9,106.4 190.5,105.6 190.1,104.9 189.7,104.2 189.3,103.5 189.0,102.7 188.7,102.0 188.3,101.3 188.0,100.5 187.8,99.8 187.5,99.1 187.3,98.3 187.0,97.6 186.7,96.9 186.5,96.2 186.2,95.4 186.0,94.7 185.7,94.0 185.5,93.2 185.4,92.5 185.2,91.8 185.1,91.0 185.1,90.3 185.1,89.6 185.1,88.9 185.2,88.1 185.3,87.4 185.4,86.7 185.6,85.9 185.8,85.2 186.1,84.5 186.3,83.8 186.6,83.0 186.9,82.3 187.2,81.6 187.5,80.8 187.8,80.1 188.1,79.4 188.5,78.6 188.9,77.9 189.3,77.2 189.8,76.5 190.2,75.7 190.7,75.0 191.2,74.3 191.7,73.5 192.2,72.8 192.6,72.1 193.1,71.3 193.5,70.6 193.9,69.9 194.4,69.2 194.8,68.4 195.2,67.7 195.7,67.0 196.1,66.2 196.5,65.5ZM228.5,61.2 229.1,62.0 229.8,62.8 230.5,63.5 231.2,64.3 231.8,65.1 232.3,65.9 232.6,66.7 233.0,67.5 233.3,68.2 233.6,69.0 233.9,69.8 234.1,70.6 234.2,71.4 234.2,72.1 234.2,72.9 234.1,73.7 234.0,74.5 233.9,75.3 233.8,76.0 233.8,76.8 233.8,77.6 234.0,78.4 234.3,79.2 234.6,80.0 235.0,80.7 235.5,81.5 235.9,82.3 236.4,83.1 236.7,83.9 237.0,84.6 237.2,85.4 237.4,86.2 237.6,87.0 237.8,87.8 238.0,88.6 238.1,89.3 238.3,90.1 238.4,90.9 238.5,91.7 238.6,92.5 238.7,93.2 238.8,94.0 238.8,94.8 238.8,95.6 238.8,96.4 238.7,97.1 238.6,97.9 238.4,98.7 238.2,99.5 237.9,100.3 237.7,101.1 237.4,101.8 237.1,102.6 236.8,103.4 236.5,104.2 236.2,105.0 235.9,105.7 235.5,106.5 235.2,107.3 234.8,108.1 234.3,108.9 233.9,109.6 233.4,110.4 232.9,111.2 232.3,112.0 231.7,112.8 230.9,113.6 230.1,114.3 229.3,115.1 228.5,115.9 226.5,115.9 225.7,115.1 224.9,114.3 224.1,113.6 223.3,112.8 222.7,112.0 222.1,111.2 221.6,110.4 221.1,109.6 220.7,108.9 220.2,108.1 219.8,107.3 219.5,106.5 219.1,105.7 218.8,105.0 218.5,104.2 218.2,103.4 217.9,102.6 217.6,101.8 217.3,101.1 217.1,100.3 216.8,99.5 216.6,98.7 216.4,97.9 216.3,97.1 216.2,96.4 216.2,95.6 216.2,94.8 216.2,94.0 216.3,93.2 216.4,92.5 216.5,91.7 216.6,90.9 216.7,90.1 216.9,89.3 217.0,88.6 217.2,87.8 217.4,87.0 217.6,86.2 217.8,85.4 218.0,84.6 218.3,83.9 218.6,83.1 219.1,82.3 219.5,81.5 220.0,80.7 220.4,80.0 220.7,79.2 221.0,78.4 221.2,77.6 221.2,76.8 221.2,76.0 221.1,75.3 221.0,74.5 220.9,73.7 220.8,72.9 220.8,72.1 220.8,71.4 220.9,70.6 221.1,69.8 221.4,69.0 221.7,68.2 222.0,67.5 222.4,66.7 222.7,65.9 223.2,65.1 223.8,64.3 224.5,63.5 225.2,62.8 225.9,62.0 226.5,61.2ZM258.5,52.5 259.0,53.3 259.6,54.1 260.2,54.8 260.7,55.6 261.3,56.4 261.8,57.2 262.3,58.0 262.7,58.7 263.2,59.5 263.6,60.3 264.0,61.1 264.4,61.8 264.8,62.6 265.2,63.4 265.5,64.2 265.8,65.0 266.1,65.7 266.3,66.5 266.6,67.3 266.8,68.1 267.1,68.8 267.3,69.6 267.5,70.4 267.8,71.2 268.0,72.0 268.2,72.7 268.3,73.5 268.5,74.3 268.6,75.1 268.7,75.9 268.8,76.6 268.8,77.4 268.8,78.2 268.8,79.0 268.7,79.8 268.6,80.5 268.4,81.3 268.2,82.1 267.9,82.9 267.7,83.6 267.4,84.4 267.1,85.2 266.8,86.0 266.4,86.8 266.1,87.5 265.8,88.3 265.5,89.1 265.2,89.9 265.0,90.7 264.7,91.4 264.4,92.2 264.1,93.0 263.8,93.8 263.5,94.5 263.2,95.3 262.9,96.1 262.6,96.9 262.3,97.7 262.0,98.4 261.7,99.2 261.4,100.0 261.0,100.8 260.7,101.5 260.4,102.3 260.1,103.1 259.8,103.9 259.4,104.7 259.1,105.4 258.8,106.2 258.5,107.0 256.5,107.0 256.2,106.2 255.9,105.4 255.6,104.7 255.2,103.9 254.9,103.1 254.6,102.3 254.3,101.5 254.0,100.8 253.6,100.0 253.3,99.2 253.0,98.4 252.7,97.7 252.4,96.9 252.1,96.1 251.8,95.3 251.5,94.5 251.2,93.8 250.9,93.0 250.6,92.2 250.3,91.4 250.0,90.7 249.8,89.9 249.5,89.1 249.2,88.3 248.9,87.5 248.6,86.8 248.2,86.0 247.9,85.2 247.6,84.4 247.3,83.6 247.1,82.9 246.8,82.1 246.6,81.3 246.4,80.5 246.3,79.8 246.2,79.0 246.2,78.2 246.2,77.4 246.2,76.6 246.3,75.9 246.4,75.1 246.5,74.3 246.7,73.5 246.8,72.7 247.0,72.0 247.2,71.2 247.5,70.4 247.7,69.6 247.9,68.8 248.2,68.1 248.4,67.3 248.7,66.5 248.9,65.7 249.2,65.0 249.5,64.2 249.8,63.4 250.2,62.6 250.6,61.8 251.0,61.1 251.4,60.3 251.8,59.5 252.3,58.7 252.7,58.0 253.2,57.2 253.7,56.4 254.3,55.6 254.8,54.8 255.4,54.1 256.0,53.3 256.5,52.5ZM288.5,42.2 289.4,43.1 290.4,44.0 291.3,44.8 292.2,45.7 293.0,46.6 293.7,47.5 294.3,48.4 294.8,49.3 295.4,50.1 295.9,51.0 296.4,51.9 296.8,52.8 297.2,53.7 297.6,54.6 297.9,55.4 298.2,56.3 298.5,57.2 298.8,58.1 299.1,59.0 299.4,59.9 299.7,60.7 299.9,61.6 300.1,62.5 300.3,63.4 300.4,64.3 300.5,65.2 300.5,66.0 300.5,66.9 300.4,67.8 300.2,68.7 299.9,69.6 299.6,70.5 299.2,71.3 298.8,72.2 298.4,73.1 298.0,74.0 297.6,74.9 297.2,75.7 296.8,76.6 296.4,77.5 296.0,78.4 295.7,79.3 295.3,80.2 294.9,81.0 294.5,81.9 294.2,82.8 293.8,83.7 293.4,84.6 293.0,85.5 292.6,86.3 292.3,87.2 292.0,88.1 291.7,89.0 291.4,89.9 291.2,90.8 290.9,91.6 290.7,92.5 290.5,93.4 290.3,94.3 290.2,95.2 290.0,96.1 289.8,96.9 289.6,97.8 289.5,98.7 289.3,99.6 289.2,100.5 289.0,101.4 288.8,102.2 288.6,103.1 288.5,104.0 286.5,104.0 286.4,103.1 286.2,102.2 286.0,101.4 285.8,100.5 285.7,99.6 285.5,98.7 285.4,97.8 285.2,96.9 285.0,96.1 284.8,95.2 284.7,94.3 284.5,93.4 284.3,92.5 284.1,91.6 283.8,90.8 283.6,89.9 283.3,89.0 283.0,88.1 282.7,87.2 282.4,86.3 282.0,85.5 281.6,84.6 281.2,83.7 280.8,82.8 280.5,81.9 280.1,81.0 279.7,80.2 279.3,79.3 279.0,78.4 278.6,77.5 278.2,76.6 277.8,75.7 277.4,74.9 277.0,74.0 276.6,73.1 276.2,72.2 275.8,71.3 275.4,70.5 275.1,69.6 274.8,68.7 274.6,67.8 274.5,66.9 274.5,66.0 274.5,65.2 274.6,64.3 274.7,63.4 274.9,62.5 275.1,61.6 275.3,60.7 275.6,59.9 275.9,59.0 276.2,58.1 276.5,57.2 276.8,56.3 277.1,55.4 277.4,54.6 277.8,53.7 278.2,52.8 278.6,51.9 279.1,51.0 279.6,50.1 280.2,49.3 280.7,48.4 281.3,47.5 282.0,46.6 282.8,45.7 283.7,44.8 284.6,44.0 285.6,43.1 286.5,42.2ZM319.4,38.7 320.1,39.6 320.9,40.4 321.7,41.3 322.5,42.2 323.2,43.1 323.7,43.9 324.1,44.8 324.3,45.7 324.4,46.6 324.6,47.4 324.7,48.3 324.8,49.2 324.9,50.0 325.0,50.9 325.1,51.8 325.2,52.7 325.2,53.5 325.2,54.4 325.2,55.3 325.2,56.2 325.2,57.0 325.2,57.9 325.2,58.8 325.2,59.6 325.2,60.5 325.2,61.4 325.2,62.3 325.2,63.1 325.2,64.0 325.2,64.9 325.2,65.8 325.2,66.6 325.2,67.5 325.2,68.4 325.2,69.2 325.2,70.1 325.2,71.0 325.2,71.9 325.2,72.7 325.2,73.6 325.2,74.5 325.2,75.4 325.2,76.2 325.2,77.1 325.2,78.0 325.2,78.9 325.2,79.7 325.2,80.6 325.2,81.5 325.2,82.3 325.2,83.2 325.1,84.1 325.0,85.0 325.0,85.8 324.9,86.7 324.8,87.6 324.7,88.5 324.5,89.3 324.4,90.2 324.3,91.1 324.1,91.9 323.9,92.8 323.5,93.7 323.1,94.6 322.5,95.4 321.9,96.3 321.2,97.2 320.6,98.1 320.0,98.9 319.4,99.8 315.6,99.8 315.0,98.9 314.4,98.1 313.8,97.2 313.1,96.3 312.5,95.4 311.9,94.6 311.5,93.7 311.1,92.8 310.9,91.9 310.7,91.1 310.6,90.2 310.5,89.3 310.3,88.5 310.2,87.6 310.1,86.7 310.0,85.8 310.0,85.0 309.9,84.1 309.8,83.2 309.8,82.3 309.8,81.5 309.8,80.6 309.8,79.7 309.8,78.9 309.8,78.0 309.8,77.1 309.8,76.2 309.8,75.4 309.8,74.5 309.8,73.6 309.8,72.7 309.8,71.9 309.8,71.0 309.8,70.1 309.8,69.2 309.8,68.4 309.8,67.5 309.8,66.6 309.8,65.8 309.8,64.9 309.8,64.0 309.8,63.1 309.8,62.3 309.8,61.4 309.8,60.5 309.8,59.6 309.8,58.8 309.8,57.9 309.8,57.0 309.8,56.2 309.8,55.3 309.8,54.4 309.8,53.5 309.8,52.7 309.9,51.8 310.0,50.9 310.1,50.0 310.2,49.2 310.3,48.3 310.4,47.4 310.6,46.6 310.7,45.7 310.9,44.8 311.3,43.9 311.8,43.1 312.5,42.2 313.3,41.3 314.1,40.4 314.9,39.6 315.6,38.7Z" fill="none" stroke="#ADD8E6" stroke-width="1.9" stroke-linejoin="round"/><path d="M77.5,62.3 L107.5,80.7 L137.5,86.9 L167.5,64.8 L197.5,65.5 L227.5,61.2 L257.5,52.5 L287.5,42.2 L317.5,38.7" fill="none" stroke="#bababa" stroke-width="1.7" stroke-dasharray="6.4,6.05"/><path d="M77.5,159.4 L107.5,163.5 L137.5,163.5 L167.5,127.6 L197.5,116.6 L227.5,115.9 L257.5,107.0 L287.5,104.0 L317.5,99.8" fill="none" stroke="#bababa" stroke-width="1.7" stroke-dasharray="6.4,6.05"/><path d="M70.0 120.6h15M100.0 122.0h15M130.0 125.5h15M160.0 97.7h15M190.0 91.8h15M220.0 90.0h15M250.0 75.5h15M280.0 66.3h15M310.0 68.3h15" stroke="#000080" stroke-width="3.8"/><rect x="59.7" y="0.7" width="275.6" height="171.60000000000002" fill="none" stroke="#555" stroke-width="1"/><line x1="52.900000000000006" y1="15.1" x2="59.7" y2="15.1" stroke="#000" stroke-width="1.5"/><text x="49.2" y="19.8" font-size="14.5" text-anchor="end">3.0</text><line x1="52.900000000000006" y1="50.8" x2="59.7" y2="50.8" stroke="#000" stroke-width="1.5"/><text x="49.2" y="55.5" font-size="14.5" text-anchor="end">3.5</text><line x1="52.900000000000006" y1="86.4" x2="59.7" y2="86.4" stroke="#000" stroke-width="1.5"/><text x="49.2" y="91.10000000000001" font-size="14.5" text-anchor="end">4.0</text><line x1="52.900000000000006" y1="122.1" x2="59.7" y2="122.1" stroke="#000" stroke-width="1.5"/><text x="49.2" y="126.8" font-size="14.5" text-anchor="end">4.5</text><line x1="52.900000000000006" y1="157.8" x2="59.7" y2="157.8" stroke="#000" stroke-width="1.5"/><text x="49.2" y="162.5" font-size="14.5" text-anchor="end">5.0</text><line x1="77.5" y1="172.3" x2="77.5" y2="178.60000000000002" stroke="#000" stroke-width="1.5"/><line x1="107.5" y1="172.3" x2="107.5" y2="178.60000000000002" stroke="#000" stroke-width="1.5"/><line x1="137.5" y1="172.3" x2="137.5" y2="178.60000000000002" stroke="#000" stroke-width="1.5"/><line x1="167.5" y1="172.3" x2="167.5" y2="178.60000000000002" stroke="#000" stroke-width="1.5"/><line x1="197.5" y1="172.3" x2="197.5" y2="178.60000000000002" stroke="#000" stroke-width="1.5"/><line x1="227.5" y1="172.3" x2="227.5" y2="178.60000000000002" stroke="#000" stroke-width="1.5"/><line x1="257.5" y1="172.3" x2="257.5" y2="178.60000000000002" stroke="#000" stroke-width="1.5"/><line x1="287.5" y1="172.3" x2="287.5" y2="178.60000000000002" stroke="#000" stroke-width="1.5"/><line x1="317.5" y1="172.3" x2="317.5" y2="178.60000000000002" stroke="#000" stroke-width="1.5"/><text x="317.5" y="163.0" font-size="17" font-weight="bold" text-anchor="middle">a</text><text transform="translate(15.2,87.4) rotate(-90)" font-size="14.5" text-anchor="middle"><tspan font-style="italic">δ</tspan><tspan font-size="10.5" dy="-7.2">18</tspan><tspan dy="7.2">O</tspan><tspan dx="-1.2"> (</tspan><tspan dx="0.4">‰</tspan><tspan dx="0.5">)</tspan></text><path d="M80.5 268.6h0M77.3 351.7h0M77.5 305.2h0M79.6 325.8h0M75.3 340.3h0M79.1 343.3h0M76.4 270.8h0M79.7 274.1h0M74.6 320.5h0M75.9 281.9h0M78.5 291.8h0M77.4 343.8h0M76.6 334.7h0M78.1 345.6h0M75.5 329.4h0M77.0 276.2h0M73.9 314.5h0M79.7 340.2h0M75.7 326.7h0M79.9 333.9h0M77.9 284.9h0M78.2 292.0h0M78.4 337.7h0M74.8 326.4h0M79.5 287.2h0M76.0 347.9h0M80.1 311.0h0M79.6 330.5h0M78.8 298.3h0M79.8 297.5h0M77.0 323.3h0M78.7 312.2h0M108.4 290.4h0M108.5 353.4h0M110.0 322.5h0M107.3 314.8h0M104.8 302.4h0M106.1 324.3h0M109.0 322.1h0M109.1 303.0h0M105.4 324.3h0M108.5 336.2h0M108.6 326.5h0M108.6 313.8h0M104.1 334.0h0M107.1 345.2h0M106.2 306.0h0M108.2 306.3h0M106.3 321.2h0M104.8 309.3h0M108.7 313.8h0M106.0 335.9h0M109.6 304.5h0M106.1 311.1h0M107.8 316.3h0M109.7 315.1h0M104.7 322.7h0M109.2 317.9h0M104.4 301.6h0M110.6 319.5h0M104.1 305.8h0M109.1 344.9h0M106.6 313.6h0M105.2 352.0h0M138.9 261.4h0M139.2 337.0h0M138.6 292.8h0M136.8 300.9h0M138.0 294.3h0M137.6 310.3h0M135.3 282.5h0M140.7 327.5h0M140.8 282.3h0M139.5 300.7h0M141.0 292.9h0M137.3 315.1h0M139.9 331.3h0M135.6 278.2h0M139.2 300.5h0M139.0 323.5h0M140.7 280.4h0M139.9 324.9h0M140.2 317.5h0M135.8 269.0h0M139.6 313.8h0M137.3 315.9h0M136.1 299.0h0M136.6 294.4h0M139.7 305.7h0M140.0 298.9h0M140.0 328.9h0M138.7 307.7h0M135.1 322.6h0M135.0 308.0h0M138.0 310.5h0M135.4 293.5h0M164.6 248.7h0M169.2 335.0h0M169.7 277.7h0M168.2 274.8h0M164.7 282.8h0M168.2 286.3h0M170.2 281.1h0M171.0 270.5h0M169.4 298.9h0M164.2 269.9h0M170.2 296.1h0M168.7 298.2h0M165.9 302.9h0M170.5 297.6h0M169.8 304.4h0M170.3 287.1h0M165.7 314.3h0M168.1 318.5h0M166.6 259.7h0M166.0 291.2h0M169.4 303.2h0M168.3 316.0h0M166.3 269.2h0M167.8 291.1h0M170.6 304.4h0M168.0 277.7h0M170.5 256.8h0M168.0 298.8h0M171.0 281.8h0M164.1 302.3h0M167.2 295.5h0M167.9 291.2h0M196.2 259.5h0M195.9 321.2h0M200.1 298.0h0M198.5 298.6h0M197.4 313.6h0M196.6 308.3h0M200.5 299.5h0M200.7 274.2h0M197.1 292.1h0M198.0 279.6h0M200.1 291.3h0M195.7 289.9h0M195.8 284.0h0M194.6 316.8h0M197.5 279.8h0M199.4 302.7h0M195.0 290.8h0M197.0 309.5h0M201.0 310.5h0M197.4 298.6h0M196.7 294.5h0M199.9 314.4h0M200.3 302.5h0M196.6 306.8h0M194.8 307.1h0M198.5 309.8h0M199.2 313.8h0M200.5 284.7h0M198.7 303.6h0M196.1 292.3h0M197.6 277.6h0M196.0 305.1h0M230.9 236.8h0M228.7 318.4h0M227.7 273.2h0M228.5 315.5h0M224.6 308.0h0M226.3 317.7h0M225.6 275.0h0M230.0 296.4h0M224.0 267.4h0M227.1 283.8h0M230.2 266.6h0M229.5 284.4h0M229.1 265.4h0M226.1 285.0h0M225.6 271.5h0M229.0 262.5h0M226.1 282.7h0M229.1 309.4h0M226.4 300.5h0M229.4 280.7h0M228.0 240.3h0M229.8 291.3h0M231.0 303.7h0M226.6 290.2h0M231.0 287.8h0M224.0 273.2h0M230.2 252.0h0M224.1 303.4h0M227.8 295.2h0M226.7 302.6h0M229.4 290.2h0M226.2 282.6h0M256.4 237.9h0M260.5 318.4h0M259.6 254.7h0M257.9 282.2h0M257.3 277.3h0M256.3 300.0h0M254.9 275.9h0M260.3 258.7h0M258.3 299.4h0M254.6 273.6h0M260.6 291.7h0M260.3 281.0h0M254.1 296.6h0M258.9 262.9h0M255.6 245.6h0M257.8 296.6h0M259.9 249.8h0M256.4 258.2h0M257.5 259.6h0M258.7 313.4h0M255.3 298.3h0M258.4 283.1h0M257.0 263.7h0M261.0 272.5h0M255.3 262.8h0M259.0 310.3h0M254.2 255.0h0M255.9 267.5h0M254.7 252.4h0M255.0 284.5h0M257.7 262.5h0M255.2 300.2h0M288.0 261.0h0M290.3 312.8h0M287.6 302.2h0M287.6 293.3h0M291.0 267.6h0M285.4 300.6h0M284.0 307.2h0M286.3 289.3h0M286.2 301.1h0M284.8 292.1h0M286.9 310.6h0M284.1 301.6h0M290.5 277.4h0M287.4 282.3h0M290.2 280.9h0M288.9 285.4h0M289.2 276.6h0M289.4 296.1h0M286.1 310.6h0M289.1 297.5h0M285.4 292.4h0M287.9 291.8h0M288.2 275.3h0M289.5 308.8h0M285.1 263.1h0M286.4 271.9h0M289.8 291.2h0M289.7 286.5h0M290.9 302.5h0M284.8 306.4h0M285.4 274.8h0M284.7 284.8h0M321.0 237.9h0M319.3 320.6h0M316.4 297.8h0M314.2 292.2h0M321.0 285.3h0M315.7 318.3h0M320.0 286.8h0M314.7 257.7h0M318.6 264.7h0M316.5 295.6h0M320.3 275.9h0M316.0 292.9h0M314.6 288.9h0M315.3 286.6h0M319.7 298.3h0M320.9 285.3h0M318.5 316.6h0M318.8 288.0h0M315.9 290.7h0M315.9 284.3h0M314.5 312.4h0M321.0 300.7h0M314.2 301.9h0M318.3 269.4h0M316.4 282.8h0M315.2 296.7h0M317.0 283.4h0M320.6 303.3h0M315.7 295.6h0M315.1 292.0h0M318.4 305.9h0M318.6 273.4h0" stroke="#ADD8E6" stroke-width="6.3" stroke-linecap="round" fill="none"/><path d="M79.3,268.6 79.9,269.8 80.7,271.0 81.4,272.2 82.0,273.3 82.3,274.5 82.4,275.7 82.5,276.9 82.5,278.1 82.5,279.3 82.6,280.5 82.6,281.7 82.6,282.8 82.6,284.0 82.6,285.2 82.6,286.4 82.6,287.6 82.6,288.8 82.6,290.0 82.7,291.2 82.7,292.3 82.7,293.5 82.7,294.7 82.7,295.9 82.7,297.1 82.7,298.3 82.7,299.5 82.7,300.7 82.7,301.8 82.7,303.0 82.7,304.2 82.7,305.4 82.7,306.6 82.7,307.8 82.7,309.0 82.7,310.1 82.7,311.3 82.7,312.5 82.7,313.7 82.7,314.9 82.7,316.1 82.7,317.3 82.7,318.5 82.7,319.6 82.7,320.8 82.7,322.0 82.7,323.2 82.7,324.4 82.7,325.6 82.7,326.8 82.7,328.0 82.7,329.1 82.6,330.3 82.6,331.5 82.6,332.7 82.6,333.9 82.6,335.1 82.6,336.3 82.6,337.5 82.6,338.6 82.5,339.8 82.5,341.0 82.5,342.2 82.4,343.4 82.4,344.6 82.3,345.8 81.9,347.0 81.3,348.1 80.6,349.3 79.9,350.5 79.3,351.7 75.7,351.7 75.1,350.5 74.4,349.3 73.7,348.1 73.1,347.0 72.7,345.8 72.6,344.6 72.6,343.4 72.5,342.2 72.5,341.0 72.5,339.8 72.4,338.6 72.4,337.5 72.4,336.3 72.4,335.1 72.4,333.9 72.4,332.7 72.4,331.5 72.4,330.3 72.3,329.1 72.3,328.0 72.3,326.8 72.3,325.6 72.3,324.4 72.3,323.2 72.3,322.0 72.3,320.8 72.3,319.6 72.3,318.5 72.3,317.3 72.3,316.1 72.3,314.9 72.3,313.7 72.3,312.5 72.3,311.3 72.3,310.1 72.3,309.0 72.3,307.8 72.3,306.6 72.3,305.4 72.3,304.2 72.3,303.0 72.3,301.8 72.3,300.7 72.3,299.5 72.3,298.3 72.3,297.1 72.3,295.9 72.3,294.7 72.3,293.5 72.3,292.3 72.3,291.2 72.4,290.0 72.4,288.8 72.4,287.6 72.4,286.4 72.4,285.2 72.4,284.0 72.4,282.8 72.4,281.7 72.4,280.5 72.5,279.3 72.5,278.1 72.5,276.9 72.6,275.7 72.7,274.5 73.0,273.3 73.6,272.2 74.3,271.0 75.1,269.8 75.7,268.6ZM108.5,290.4 108.9,291.3 109.4,292.2 109.8,293.1 110.3,294.0 110.8,294.9 111.2,295.8 111.7,296.7 112.1,297.6 112.6,298.5 113.0,299.4 113.4,300.3 113.9,301.2 114.4,302.1 114.9,303.0 115.4,303.9 116.0,304.8 116.5,305.7 117.1,306.6 117.6,307.5 118.1,308.4 118.6,309.3 119.0,310.2 119.4,311.1 119.7,312.0 120.0,312.9 120.2,313.8 120.3,314.7 120.3,315.6 120.3,316.5 120.2,317.4 119.9,318.3 119.6,319.2 119.3,320.1 118.9,321.0 118.4,321.9 118.0,322.8 117.5,323.7 117.0,324.6 116.4,325.5 116.0,326.4 115.5,327.3 115.0,328.2 114.6,329.1 114.3,330.0 113.9,330.9 113.6,331.8 113.3,332.7 113.0,333.6 112.6,334.5 112.3,335.4 112.0,336.3 111.7,337.2 111.4,338.1 111.2,339.0 110.9,339.9 110.7,340.8 110.5,341.7 110.3,342.6 110.1,343.5 109.9,344.4 109.8,345.3 109.6,346.2 109.5,347.1 109.3,348.0 109.2,348.9 109.0,349.8 108.9,350.7 108.8,351.6 108.6,352.5 108.5,353.4 106.5,353.4 106.4,352.5 106.2,351.6 106.1,350.7 106.0,349.8 105.8,348.9 105.7,348.0 105.5,347.1 105.4,346.2 105.2,345.3 105.1,344.4 104.9,343.5 104.7,342.6 104.5,341.7 104.3,340.8 104.1,339.9 103.8,339.0 103.6,338.1 103.3,337.2 103.0,336.3 102.7,335.4 102.4,334.5 102.0,333.6 101.7,332.7 101.4,331.8 101.1,330.9 100.7,330.0 100.4,329.1 100.0,328.2 99.5,327.3 99.0,326.4 98.6,325.5 98.0,324.6 97.5,323.7 97.0,322.8 96.6,321.9 96.1,321.0 95.7,320.1 95.4,319.2 95.1,318.3 94.8,317.4 94.7,316.5 94.7,315.6 94.7,314.7 94.8,313.8 95.0,312.9 95.3,312.0 95.6,311.1 96.0,310.2 96.4,309.3 96.9,308.4 97.4,307.5 97.9,306.6 98.5,305.7 99.0,304.8 99.6,303.9 100.1,303.0 100.6,302.1 101.1,301.2 101.6,300.3 102.0,299.4 102.4,298.5 102.9,297.6 103.3,296.7 103.8,295.8 104.2,294.9 104.7,294.0 105.2,293.1 105.6,292.2 106.1,291.3 106.5,290.4ZM138.5,261.4 138.7,262.5 138.9,263.6 139.1,264.6 139.3,265.7 139.5,266.8 139.6,267.9 139.8,269.0 139.9,270.0 140.0,271.1 140.1,272.2 140.2,273.3 140.2,274.4 140.3,275.4 140.3,276.5 140.4,277.6 140.4,278.7 140.5,279.8 140.5,280.8 140.6,281.9 140.7,283.0 140.8,284.1 140.9,285.2 141.0,286.2 141.2,287.3 141.5,288.4 141.8,289.5 142.1,290.6 142.5,291.6 142.9,292.7 143.2,293.8 143.6,294.9 144.0,296.0 144.3,297.0 144.7,298.1 145.0,299.2 145.3,300.3 145.5,301.4 145.8,302.4 146.1,303.5 146.4,304.6 146.7,305.7 147.0,306.8 147.3,307.8 147.6,308.9 147.9,310.0 148.1,311.1 148.3,312.2 148.5,313.2 148.7,314.3 148.9,315.4 149.0,316.5 149.0,317.6 149.0,318.6 149.0,319.7 148.8,320.8 148.5,321.9 148.1,323.0 147.6,324.0 147.0,325.1 146.5,326.2 145.8,327.3 145.2,328.4 144.6,329.4 143.9,330.5 143.2,331.6 142.3,332.7 141.3,333.8 140.4,334.8 139.4,335.9 138.5,337.0 136.5,337.0 135.6,335.9 134.6,334.8 133.7,333.8 132.7,332.7 131.8,331.6 131.1,330.5 130.4,329.4 129.8,328.4 129.2,327.3 128.5,326.2 128.0,325.1 127.4,324.0 126.9,323.0 126.5,321.9 126.2,320.8 126.0,319.7 126.0,318.6 126.0,317.6 126.0,316.5 126.1,315.4 126.3,314.3 126.5,313.2 126.7,312.2 126.9,311.1 127.1,310.0 127.4,308.9 127.7,307.8 128.0,306.8 128.3,305.7 128.6,304.6 128.9,303.5 129.2,302.4 129.5,301.4 129.7,300.3 130.0,299.2 130.3,298.1 130.7,297.0 131.0,296.0 131.4,294.9 131.8,293.8 132.1,292.7 132.5,291.6 132.9,290.6 133.2,289.5 133.5,288.4 133.8,287.3 134.0,286.2 134.1,285.2 134.2,284.1 134.3,283.0 134.4,281.9 134.5,280.8 134.5,279.8 134.6,278.7 134.6,277.6 134.7,276.5 134.7,275.4 134.8,274.4 134.8,273.3 134.9,272.2 135.0,271.1 135.1,270.0 135.2,269.0 135.4,267.9 135.5,266.8 135.7,265.7 135.9,264.6 136.1,263.6 136.3,262.5 136.5,261.4ZM168.5,248.7 168.6,249.9 168.7,251.2 168.8,252.4 169.0,253.6 169.1,254.9 169.2,256.1 169.4,257.3 169.5,258.6 169.6,259.8 169.8,261.0 169.9,262.3 170.1,263.5 170.2,264.7 170.4,266.0 170.5,267.2 170.6,268.4 170.8,269.7 170.9,270.9 171.1,272.1 171.3,273.4 171.4,274.6 171.6,275.8 171.8,277.1 172.0,278.3 172.2,279.5 172.4,280.8 172.7,282.0 173.0,283.2 173.4,284.5 173.8,285.7 174.2,286.9 174.6,288.2 175.0,289.4 175.4,290.6 175.8,291.9 176.1,293.1 176.5,294.3 176.8,295.5 177.0,296.8 177.1,298.0 177.2,299.2 177.2,300.5 177.2,301.7 177.1,302.9 176.9,304.2 176.6,305.4 176.4,306.6 176.1,307.9 175.8,309.1 175.4,310.3 175.1,311.6 174.8,312.8 174.4,314.0 174.1,315.3 173.8,316.5 173.5,317.7 173.1,319.0 172.7,320.2 172.4,321.4 172.0,322.7 171.6,323.9 171.2,325.1 170.8,326.4 170.5,327.6 170.1,328.8 169.8,330.1 169.5,331.3 169.1,332.5 168.8,333.8 168.5,335.0 166.5,335.0 166.2,333.8 165.9,332.5 165.5,331.3 165.2,330.1 164.9,328.8 164.5,327.6 164.2,326.4 163.8,325.1 163.4,323.9 163.0,322.7 162.6,321.4 162.3,320.2 161.9,319.0 161.5,317.7 161.2,316.5 160.9,315.3 160.6,314.0 160.2,312.8 159.9,311.6 159.6,310.3 159.2,309.1 158.9,307.9 158.6,306.6 158.4,305.4 158.1,304.2 157.9,302.9 157.8,301.7 157.8,300.5 157.8,299.2 157.9,298.0 158.0,296.8 158.2,295.5 158.5,294.3 158.9,293.1 159.2,291.9 159.6,290.6 160.0,289.4 160.4,288.2 160.8,286.9 161.2,285.7 161.6,284.5 162.0,283.2 162.3,282.0 162.6,280.8 162.8,279.5 163.0,278.3 163.2,277.1 163.4,275.8 163.6,274.6 163.7,273.4 163.9,272.1 164.1,270.9 164.2,269.7 164.4,268.4 164.5,267.2 164.6,266.0 164.8,264.7 164.9,263.5 165.1,262.3 165.2,261.0 165.4,259.8 165.5,258.6 165.6,257.3 165.8,256.1 165.9,254.9 166.0,253.6 166.2,252.4 166.3,251.2 166.4,249.9 166.5,248.7ZM198.5,259.5 198.6,260.4 198.8,261.3 198.9,262.1 199.0,263.0 199.2,263.9 199.3,264.8 199.5,265.7 199.6,266.6 199.8,267.4 200.0,268.3 200.2,269.2 200.4,270.1 200.6,271.0 200.9,271.8 201.2,272.7 201.6,273.6 201.9,274.5 202.3,275.4 202.7,276.2 203.1,277.1 203.4,278.0 203.8,278.9 204.1,279.8 204.4,280.7 204.8,281.5 205.1,282.4 205.5,283.3 205.9,284.2 206.2,285.1 206.5,285.9 206.8,286.8 207.1,287.7 207.3,288.6 207.5,289.5 207.5,290.4 207.5,291.2 207.5,292.1 207.5,293.0 207.4,293.9 207.3,294.8 207.2,295.6 207.0,296.5 206.9,297.4 206.7,298.3 206.5,299.2 206.3,300.0 206.1,300.9 205.9,301.8 205.7,302.7 205.5,303.6 205.3,304.5 205.1,305.3 204.8,306.2 204.6,307.1 204.3,308.0 203.9,308.9 203.6,309.7 203.2,310.6 202.8,311.5 202.5,312.4 202.1,313.3 201.7,314.1 201.3,315.0 200.9,315.9 200.5,316.8 200.1,317.7 199.7,318.6 199.3,319.4 198.9,320.3 198.5,321.2 196.5,321.2 196.1,320.3 195.7,319.4 195.3,318.6 194.9,317.7 194.5,316.8 194.1,315.9 193.7,315.0 193.3,314.1 192.9,313.3 192.5,312.4 192.2,311.5 191.8,310.6 191.4,309.7 191.1,308.9 190.7,308.0 190.4,307.1 190.2,306.2 189.9,305.3 189.7,304.5 189.5,303.6 189.3,302.7 189.1,301.8 188.9,300.9 188.7,300.0 188.5,299.2 188.3,298.3 188.1,297.4 188.0,296.5 187.8,295.6 187.7,294.8 187.6,293.9 187.5,293.0 187.5,292.1 187.5,291.2 187.5,290.4 187.5,289.5 187.7,288.6 187.9,287.7 188.2,286.8 188.5,285.9 188.8,285.1 189.1,284.2 189.5,283.3 189.9,282.4 190.2,281.5 190.6,280.7 190.9,279.8 191.2,278.9 191.6,278.0 191.9,277.1 192.3,276.2 192.7,275.4 193.1,274.5 193.4,273.6 193.8,272.7 194.1,271.8 194.4,271.0 194.6,270.1 194.8,269.2 195.0,268.3 195.2,267.4 195.4,266.6 195.5,265.7 195.7,264.8 195.8,263.9 196.0,263.0 196.1,262.1 196.2,261.3 196.4,260.4 196.5,259.5ZM228.4,236.8 228.5,238.0 228.6,239.1 228.7,240.3 228.8,241.5 228.8,242.6 228.9,243.8 229.0,245.0 229.1,246.1 229.2,247.3 229.2,248.5 229.3,249.6 229.4,250.8 229.5,252.0 229.7,253.1 229.8,254.3 229.9,255.5 230.1,256.6 230.4,257.8 230.7,258.9 231.0,260.1 231.4,261.3 231.7,262.4 232.1,263.6 232.4,264.8 232.7,265.9 233.0,267.1 233.3,268.3 233.5,269.4 233.7,270.6 234.0,271.8 234.2,272.9 234.5,274.1 234.7,275.3 234.9,276.4 235.1,277.6 235.3,278.8 235.5,279.9 235.7,281.1 235.8,282.3 235.9,283.4 236.0,284.6 236.0,285.8 236.0,286.9 236.0,288.1 236.0,289.3 235.9,290.4 235.9,291.6 235.8,292.8 235.7,293.9 235.6,295.1 235.5,296.3 235.4,297.4 235.3,298.6 235.1,299.7 235.0,300.9 234.7,302.1 234.5,303.2 234.1,304.4 233.7,305.6 233.3,306.7 232.9,307.9 232.4,309.1 232.0,310.2 231.5,311.4 231.1,312.6 230.6,313.7 230.1,314.9 229.5,316.1 229.0,317.2 228.4,318.4 226.6,318.4 226.0,317.2 225.5,316.1 224.9,314.9 224.4,313.7 223.9,312.6 223.5,311.4 223.0,310.2 222.6,309.1 222.1,307.9 221.7,306.7 221.3,305.6 220.9,304.4 220.5,303.2 220.3,302.1 220.0,300.9 219.9,299.7 219.7,298.6 219.6,297.4 219.5,296.3 219.4,295.1 219.3,293.9 219.2,292.8 219.1,291.6 219.1,290.4 219.0,289.3 219.0,288.1 219.0,286.9 219.0,285.8 219.0,284.6 219.1,283.4 219.2,282.3 219.3,281.1 219.5,279.9 219.7,278.8 219.9,277.6 220.1,276.4 220.3,275.3 220.5,274.1 220.8,272.9 221.0,271.8 221.3,270.6 221.5,269.4 221.7,268.3 222.0,267.1 222.3,265.9 222.6,264.8 222.9,263.6 223.3,262.4 223.6,261.3 224.0,260.1 224.3,258.9 224.6,257.8 224.9,256.6 225.1,255.5 225.2,254.3 225.3,253.1 225.5,252.0 225.6,250.8 225.7,249.6 225.8,248.5 225.8,247.3 225.9,246.1 226.0,245.0 226.1,243.8 226.2,242.6 226.2,241.5 226.3,240.3 226.4,239.1 226.5,238.0 226.6,236.8ZM258.4,237.9 258.7,239.1 259.0,240.2 259.3,241.3 259.6,242.5 259.9,243.7 260.2,244.8 260.6,245.9 261.0,247.1 261.4,248.2 261.9,249.4 262.3,250.6 262.7,251.7 263.1,252.8 263.4,254.0 263.6,255.2 263.7,256.3 263.9,257.4 264.0,258.6 264.1,259.8 264.3,260.9 264.4,262.1 264.5,263.2 264.6,264.4 264.7,265.5 264.7,266.6 264.8,267.8 264.9,268.9 264.9,270.1 264.9,271.2 264.9,272.4 264.9,273.6 264.9,274.7 264.9,275.9 264.9,277.0 264.9,278.1 264.9,279.3 264.8,280.4 264.8,281.6 264.8,282.8 264.7,283.9 264.7,285.0 264.6,286.2 264.6,287.3 264.5,288.5 264.5,289.6 264.4,290.8 264.4,291.9 264.3,293.1 264.2,294.2 264.2,295.4 264.1,296.5 264.0,297.7 263.9,298.8 263.7,300.0 263.6,301.1 263.5,302.3 263.3,303.4 263.1,304.6 263.0,305.8 262.7,306.9 262.4,308.0 262.0,309.2 261.6,310.3 261.2,311.5 260.7,312.6 260.2,313.8 259.8,314.9 259.3,316.1 258.8,317.2 258.4,318.4 256.6,318.4 256.2,317.2 255.7,316.1 255.2,314.9 254.8,313.8 254.3,312.6 253.8,311.5 253.4,310.3 253.0,309.2 252.6,308.0 252.3,306.9 252.0,305.8 251.9,304.6 251.7,303.4 251.5,302.3 251.4,301.1 251.3,300.0 251.1,298.8 251.0,297.7 250.9,296.5 250.8,295.4 250.8,294.2 250.7,293.1 250.6,291.9 250.6,290.8 250.5,289.6 250.5,288.5 250.4,287.3 250.4,286.2 250.3,285.0 250.3,283.9 250.2,282.8 250.2,281.6 250.2,280.4 250.1,279.3 250.1,278.1 250.1,277.0 250.1,275.9 250.1,274.7 250.1,273.6 250.1,272.4 250.1,271.2 250.1,270.1 250.1,268.9 250.2,267.8 250.3,266.6 250.3,265.5 250.4,264.4 250.5,263.2 250.6,262.1 250.7,260.9 250.9,259.8 251.0,258.6 251.1,257.4 251.3,256.3 251.4,255.2 251.6,254.0 251.9,252.8 252.3,251.7 252.7,250.6 253.1,249.4 253.6,248.2 254.0,247.1 254.4,245.9 254.8,244.8 255.1,243.7 255.4,242.5 255.7,241.3 256.0,240.2 256.3,239.1 256.6,237.9ZM289.4,261.0 289.7,261.7 290.0,262.5 290.4,263.2 290.7,264.0 291.0,264.7 291.3,265.4 291.6,266.2 291.9,266.9 292.2,267.7 292.4,268.4 292.7,269.1 293.0,269.9 293.3,270.6 293.5,271.4 293.8,272.1 294.0,272.8 294.3,273.6 294.5,274.3 294.8,275.1 295.0,275.8 295.2,276.5 295.4,277.3 295.6,278.0 295.8,278.8 296.0,279.5 296.2,280.2 296.4,281.0 296.6,281.7 296.7,282.5 296.9,283.2 297.1,283.9 297.3,284.7 297.4,285.4 297.6,286.2 297.8,286.9 297.9,287.6 298.0,288.4 298.1,289.1 298.2,289.9 298.3,290.6 298.4,291.3 298.4,292.1 298.4,292.8 298.4,293.6 298.4,294.3 298.2,295.0 298.1,295.8 297.9,296.5 297.6,297.3 297.4,298.0 297.1,298.7 296.8,299.5 296.4,300.2 296.1,301.0 295.8,301.7 295.4,302.4 295.1,303.2 294.7,303.9 294.3,304.7 293.9,305.4 293.4,306.1 292.9,306.9 292.3,307.6 291.8,308.4 291.2,309.1 290.6,309.8 290.1,310.6 289.5,311.3 289.0,312.1 288.5,312.8 286.5,312.8 286.0,312.1 285.5,311.3 284.9,310.6 284.4,309.8 283.8,309.1 283.2,308.4 282.7,307.6 282.1,306.9 281.6,306.1 281.1,305.4 280.7,304.7 280.3,303.9 279.9,303.2 279.6,302.4 279.2,301.7 278.9,301.0 278.6,300.2 278.2,299.5 277.9,298.7 277.6,298.0 277.4,297.3 277.1,296.5 276.9,295.8 276.8,295.0 276.6,294.3 276.6,293.6 276.6,292.8 276.6,292.1 276.6,291.3 276.7,290.6 276.8,289.9 276.9,289.1 277.0,288.4 277.1,287.6 277.2,286.9 277.4,286.2 277.6,285.4 277.7,284.7 277.9,283.9 278.1,283.2 278.3,282.5 278.4,281.7 278.6,281.0 278.8,280.2 279.0,279.5 279.2,278.8 279.4,278.0 279.6,277.3 279.8,276.5 280.0,275.8 280.2,275.1 280.5,274.3 280.7,273.6 281.0,272.8 281.2,272.1 281.5,271.4 281.7,270.6 282.0,269.9 282.3,269.1 282.6,268.4 282.8,267.7 283.1,266.9 283.4,266.2 283.7,265.4 284.0,264.7 284.3,264.0 284.6,263.2 285.0,262.5 285.3,261.7 285.6,261.0ZM318.5,237.9 318.5,239.1 318.6,240.3 318.7,241.4 318.8,242.6 318.8,243.8 318.9,245.0 319.0,246.2 319.0,247.4 319.1,248.5 319.2,249.7 319.3,250.9 319.3,252.1 319.4,253.3 319.5,254.4 319.6,255.6 319.7,256.8 319.7,258.0 319.8,259.2 319.9,260.3 320.0,261.5 320.1,262.7 320.3,263.9 320.4,265.1 320.5,266.3 320.6,267.4 320.7,268.6 320.9,269.8 321.0,271.0 321.2,272.2 321.3,273.3 321.5,274.5 321.6,275.7 321.8,276.9 322.0,278.1 322.2,279.2 322.4,280.4 322.7,281.6 323.0,282.8 323.4,284.0 323.8,285.2 324.3,286.3 324.8,287.5 325.3,288.7 325.8,289.9 326.3,291.1 326.8,292.2 327.3,293.4 327.8,294.6 328.2,295.8 328.5,297.0 328.8,298.2 329.0,299.3 329.2,300.5 329.2,301.7 329.2,302.9 328.9,304.1 328.6,305.2 328.1,306.4 327.6,307.6 327.0,308.8 326.3,310.0 325.7,311.1 325.0,312.3 324.3,313.5 323.4,314.7 322.5,315.9 321.5,317.1 320.4,318.2 319.4,319.4 318.5,320.6 316.5,320.6 315.6,319.4 314.6,318.2 313.5,317.1 312.5,315.9 311.6,314.7 310.7,313.5 310.0,312.3 309.3,311.1 308.7,310.0 308.0,308.8 307.4,307.6 306.9,306.4 306.4,305.2 306.1,304.1 305.8,302.9 305.8,301.7 305.8,300.5 306.0,299.3 306.2,298.2 306.5,297.0 306.8,295.8 307.2,294.6 307.7,293.4 308.2,292.2 308.7,291.1 309.2,289.9 309.7,288.7 310.2,287.5 310.7,286.3 311.2,285.2 311.6,284.0 312.0,282.8 312.3,281.6 312.6,280.4 312.8,279.2 313.0,278.1 313.2,276.9 313.4,275.7 313.5,274.5 313.7,273.3 313.8,272.2 314.0,271.0 314.1,269.8 314.3,268.6 314.4,267.4 314.5,266.3 314.6,265.1 314.7,263.9 314.9,262.7 315.0,261.5 315.1,260.3 315.2,259.2 315.3,258.0 315.3,256.8 315.4,255.6 315.5,254.4 315.6,253.3 315.7,252.1 315.7,250.9 315.8,249.7 315.9,248.5 316.0,247.4 316.0,246.2 316.1,245.0 316.2,243.8 316.2,242.6 316.3,241.4 316.4,240.3 316.5,239.1 316.5,237.9Z" fill="none" stroke="#ADD8E6" stroke-width="1.9" stroke-linejoin="round"/><path d="M77.5,268.6 L107.5,290.4 L137.5,261.4 L167.5,248.7 L197.5,259.5 L227.5,236.8 L257.5,237.9 L287.5,261.0 L317.5,237.9" fill="none" stroke="#bababa" stroke-width="1.7" stroke-dasharray="6.4,6.05"/><path d="M77.5,351.7 L107.5,353.4 L137.5,337.0 L167.5,335.0 L197.5,321.2 L227.5,318.4 L257.5,318.4 L287.5,312.8 L317.5,320.6" fill="none" stroke="#bababa" stroke-width="1.7" stroke-dasharray="6.4,6.05"/><path d="M70.0 310.9h15M100.0 317.0h15M130.0 316.2h15M160.0 299.6h15M190.0 291.9h15M220.0 288.2h15M250.0 277.6h15M280.0 291.9h15M310.0 299.2h15" stroke="#000080" stroke-width="3.8"/><rect x="59.7" y="196.39999999999998" width="275.6" height="171.60000000000002" fill="none" stroke="#555" stroke-width="1"/><line x1="52.900000000000006" y1="323.5" x2="59.7" y2="323.5" stroke="#000" stroke-width="1.5"/><text x="49.2" y="328.2" font-size="14.5" text-anchor="end">0</text><line x1="52.900000000000006" y1="286.6" x2="59.7" y2="286.6" stroke="#000" stroke-width="1.5"/><text x="49.2" y="291.3" font-size="14.5" text-anchor="end">2</text><line x1="52.900000000000006" y1="249.8" x2="59.7" y2="249.8" stroke="#000" stroke-width="1.5"/><text x="49.2" y="254.5" font-size="14.5" text-anchor="end">4</text><line x1="52.900000000000006" y1="212.9" x2="59.7" y2="212.9" stroke="#000" stroke-width="1.5"/><text x="49.2" y="217.6" font-size="14.5" text-anchor="end">6</text><line x1="77.5" y1="368.0" x2="77.5" y2="374.3" stroke="#000" stroke-width="1.5"/><line x1="107.5" y1="368.0" x2="107.5" y2="374.3" stroke="#000" stroke-width="1.5"/><line x1="137.5" y1="368.0" x2="137.5" y2="374.3" stroke="#000" stroke-width="1.5"/><line x1="167.5" y1="368.0" x2="167.5" y2="374.3" stroke="#000" stroke-width="1.5"/><line x1="197.5" y1="368.0" x2="197.5" y2="374.3" stroke="#000" stroke-width="1.5"/><line x1="227.5" y1="368.0" x2="227.5" y2="374.3" stroke="#000" stroke-width="1.5"/><line x1="257.5" y1="368.0" x2="257.5" y2="374.3" stroke="#000" stroke-width="1.5"/><line x1="287.5" y1="368.0" x2="287.5" y2="374.3" stroke="#000" stroke-width="1.5"/><line x1="317.5" y1="368.0" x2="317.5" y2="374.3" stroke="#000" stroke-width="1.5"/><text x="317.5" y="357.0" font-size="17" font-weight="bold" text-anchor="middle">b</text><text transform="translate(11.2,282.2) rotate(-90)" font-size="14.5" text-anchor="middle">BWT (°C)</text><path d="M78.1 421.0h0M81.0 549.8h0M75.4 486.8h0M74.4 533.6h0M78.9 443.4h0M74.7 487.2h0M75.5 492.3h0M77.1 536.2h0M81.0 423.4h0M76.2 521.7h0M76.2 509.8h0M77.3 509.4h0M75.1 473.6h0M76.8 505.9h0M78.9 438.2h0M76.2 472.8h0M79.6 470.6h0M75.2 492.1h0M74.6 524.1h0M78.4 519.6h0M77.2 522.4h0M80.5 436.1h0M74.7 462.5h0M79.3 490.3h0M78.7 511.9h0M76.6 461.9h0M74.8 519.1h0M78.3 468.9h0M79.4 464.8h0M77.3 487.1h0M77.3 534.7h0M78.8 510.3h0M78.3 492.5h0M76.9 524.2h0M75.2 431.9h0M77.2 545.2h0M77.9 525.3h0M80.4 492.4h0M81.1 473.8h0M77.9 434.3h0M76.3 507.6h0M75.5 524.9h0M78.4 540.9h0M79.2 422.4h0M75.7 521.3h0M78.9 489.4h0M81.1 472.3h0M76.7 521.8h0M80.7 483.7h0M77.0 509.2h0M78.6 493.5h0M80.1 513.0h0M75.4 530.5h0M76.4 527.1h0M81.0 426.8h0M74.4 462.5h0M76.1 478.7h0M77.3 493.0h0M79.3 527.4h0M78.4 436.9h0M80.6 437.2h0M78.7 544.5h0M73.9 449.6h0M74.4 456.2h0M74.2 489.0h0M77.0 507.8h0M74.1 497.9h0M77.7 515.6h0M78.5 513.0h0M75.4 480.7h0M80.1 500.4h0M76.9 483.9h0M80.8 547.8h0M76.5 463.4h0M78.4 496.9h0M77.8 541.6h0M75.8 453.6h0M79.5 542.9h0M73.9 493.2h0M75.7 495.4h0M76.2 542.6h0M80.3 468.3h0M77.5 505.0h0M74.2 539.5h0M76.1 510.7h0M78.3 439.5h0M79.7 489.6h0M74.7 515.1h0M79.5 529.6h0M76.7 493.0h0M77.7 495.0h0M76.9 539.8h0M77.1 444.8h0M81.0 497.2h0M80.5 421.4h0M80.5 512.9h0M79.2 443.5h0M78.9 518.1h0M74.9 467.9h0M74.2 476.6h0M111.0 449.2h0M111.1 532.0h0M109.7 518.0h0M105.8 501.4h0M108.7 493.3h0M107.5 477.4h0M110.7 524.0h0M107.1 516.2h0M106.5 514.8h0M104.1 450.3h0M107.3 518.9h0M107.7 491.9h0M106.1 520.2h0M104.7 476.1h0M107.4 530.6h0M104.4 513.1h0M105.1 513.3h0M107.1 529.0h0M106.4 511.4h0M107.5 476.1h0M107.7 531.0h0M106.7 485.2h0M104.9 507.3h0M104.0 512.7h0M107.9 507.4h0M110.9 510.2h0M105.9 483.0h0M106.4 455.6h0M106.2 475.0h0M109.2 509.8h0M107.5 517.6h0M109.6 481.9h0M103.9 463.4h0M104.9 491.4h0M105.4 474.2h0M106.6 497.0h0M106.8 479.5h0M106.7 459.7h0M110.9 460.1h0M107.1 490.1h0M108.0 470.6h0M110.8 466.2h0M108.5 470.7h0M108.2 476.0h0M109.9 479.0h0M106.3 510.3h0M104.2 449.4h0M110.8 523.8h0M107.7 523.0h0M108.1 490.7h0M104.4 458.9h0M109.3 500.4h0M106.6 501.2h0M108.5 480.5h0M105.9 520.8h0M110.5 463.4h0M106.6 517.0h0M105.9 505.0h0M110.3 480.8h0M105.5 515.2h0M105.9 460.5h0M107.4 502.2h0M111.0 511.5h0M104.7 493.5h0M105.4 469.2h0M109.6 455.6h0M104.4 522.6h0M106.9 456.5h0M109.5 498.2h0M109.0 451.4h0M109.6 496.1h0M104.7 493.1h0M110.3 527.6h0M106.5 484.2h0M109.8 512.9h0M107.3 508.6h0M110.3 512.1h0M107.3 496.3h0M105.8 489.7h0M105.0 507.7h0M140.6 433.9h0M140.1 531.0h0M138.5 482.1h0M139.7 489.6h0M134.5 448.5h0M137.2 479.4h0M139.7 459.5h0M136.4 504.2h0M134.9 493.1h0M140.1 449.9h0M139.0 447.2h0M134.0 490.5h0M134.4 479.5h0M137.9 503.6h0M140.8 463.9h0M138.3 529.5h0M140.2 471.6h0M134.7 458.8h0M138.0 521.8h0M135.2 483.0h0M136.3 520.2h0M135.0 444.1h0M137.2 484.2h0M134.2 452.0h0M138.6 529.5h0M138.6 493.2h0M140.4 506.8h0M139.4 523.8h0M134.4 519.1h0M140.2 438.5h0M137.8 441.3h0M140.6 528.3h0M137.4 503.5h0M134.5 484.0h0M139.0 443.4h0M135.1 477.2h0M141.0 514.5h0M137.8 445.6h0M140.4 439.0h0M137.4 507.9h0M136.3 445.4h0M138.7 446.5h0M139.0 494.5h0M137.2 434.9h0M135.9 528.4h0M136.9 459.6h0M139.0 521.0h0M135.5 493.0h0M135.0 492.8h0M137.4 508.8h0M138.6 445.0h0M134.4 497.3h0M135.9 444.3h0M140.9 511.2h0M135.8 468.6h0M139.5 490.3h0M136.1 488.8h0M134.5 469.7h0M137.4 495.9h0M140.2 490.4h0M139.5 479.9h0M134.2 464.4h0M139.0 513.6h0M138.4 495.0h0M137.4 458.8h0M138.7 485.6h0M137.7 508.2h0M135.2 468.4h0M138.9 525.0h0M134.8 499.8h0M136.1 476.8h0M140.0 449.5h0M138.0 510.3h0M137.6 490.7h0M139.0 455.0h0M137.4 489.5h0M136.7 487.7h0M137.9 479.4h0M134.1 461.2h0M136.4 524.9h0M134.2 453.1h0M141.1 483.3h0M140.4 442.4h0M138.6 501.9h0M135.0 497.3h0M140.1 437.4h0M135.9 515.0h0M139.7 438.2h0M138.6 521.7h0M138.3 449.9h0M169.0 424.7h0M167.5 533.0h0M164.7 505.0h0M167.3 452.3h0M170.7 463.9h0M166.7 477.8h0M167.9 520.0h0M166.9 463.5h0M167.5 482.6h0M164.2 452.7h0M170.3 497.3h0M168.1 529.8h0M166.4 480.4h0M165.9 463.6h0M165.2 507.3h0M170.6 454.6h0M170.0 517.4h0M166.6 466.8h0M168.2 490.6h0M167.9 460.1h0M165.3 495.6h0M164.1 464.1h0M169.2 530.1h0M165.1 493.5h0M168.0 441.8h0M164.0 444.0h0M164.1 459.9h0M165.1 509.3h0M168.6 532.3h0M168.3 431.4h0M171.0 463.5h0M168.7 493.0h0M167.7 454.7h0M164.0 476.5h0M170.8 440.5h0M167.4 511.2h0M170.1 440.5h0M164.2 470.4h0M169.9 471.8h0M167.3 468.3h0M165.5 455.1h0M166.8 445.3h0M164.4 484.1h0M168.1 502.8h0M165.5 498.0h0M169.0 525.1h0M165.2 471.6h0M168.9 482.5h0M168.3 497.2h0M169.0 501.4h0M170.7 474.1h0M166.0 471.2h0M168.8 436.9h0M166.8 444.6h0M170.3 496.4h0M169.8 523.0h0M169.4 451.3h0M168.2 440.3h0M165.8 487.3h0M170.4 471.1h0M170.9 495.8h0M170.7 434.6h0M166.3 493.9h0M169.8 465.1h0M168.8 480.2h0M169.9 447.4h0M169.7 499.1h0M167.2 515.5h0M166.7 491.8h0M169.6 470.7h0M168.6 484.1h0M167.8 456.5h0M170.2 454.7h0M164.1 447.3h0M164.0 484.8h0M167.2 433.4h0M164.6 446.7h0M170.0 457.8h0M164.5 449.8h0M170.3 428.2h0M195.8 420.7h0M200.0 510.0h0M200.0 440.8h0M198.9 457.3h0M198.9 466.0h0M197.6 462.0h0M198.0 482.3h0M198.7 488.7h0M194.0 452.3h0M197.1 428.9h0M200.9 437.1h0M195.4 492.8h0M197.3 497.3h0M194.5 450.7h0M195.7 485.6h0M199.8 447.7h0M194.1 455.7h0M199.7 440.7h0M199.6 483.8h0M200.2 479.8h0M195.8 446.4h0M200.6 506.3h0M196.6 426.4h0M197.1 434.4h0M200.7 466.9h0M197.8 445.0h0M198.8 436.3h0M194.7 501.5h0M193.9 441.5h0M195.8 430.8h0M194.7 478.6h0M199.8 469.7h0M195.7 487.2h0M200.8 437.0h0M198.8 426.3h0M195.3 446.0h0M199.0 445.5h0M196.2 454.2h0M197.7 468.1h0M194.4 435.7h0M199.9 435.1h0M199.6 453.5h0M198.1 438.6h0M198.9 488.7h0M196.3 487.9h0M194.8 431.8h0M196.2 428.2h0M199.2 451.6h0M198.0 496.0h0M194.9 471.2h0M195.6 435.9h0M197.3 440.4h0M194.0 475.5h0M194.2 489.3h0M197.1 494.6h0M194.9 496.4h0M200.3 477.1h0M194.8 482.9h0M199.3 485.1h0M199.6 433.2h0M196.2 487.9h0M197.8 477.1h0M201.0 484.5h0M198.3 463.3h0M196.7 487.6h0M200.9 466.3h0M195.8 473.3h0M200.8 439.1h0M196.1 500.6h0M196.9 444.7h0M196.2 477.0h0M198.6 467.0h0M200.3 480.6h0M198.9 499.7h0M195.2 499.5h0M201.0 495.4h0M199.1 462.3h0M197.5 486.3h0M200.0 456.4h0M194.7 466.0h0M229.1 428.4h0M227.6 497.4h0M229.4 469.7h0M225.3 482.0h0M225.9 432.7h0M225.4 446.9h0M230.0 455.8h0M229.0 465.5h0M225.0 489.8h0M229.1 447.4h0M224.2 491.8h0M227.3 453.3h0M225.8 496.9h0M229.4 433.0h0M229.1 463.1h0M228.8 445.9h0M225.3 475.4h0M224.2 436.9h0M228.5 434.7h0M228.9 489.1h0M224.0 473.3h0M229.9 485.0h0M230.4 480.4h0M226.5 438.5h0M227.6 474.8h0M228.6 461.3h0M230.6 476.1h0M228.6 482.2h0M227.6 469.1h0M229.4 480.5h0M227.4 447.6h0M224.1 443.1h0M227.8 464.3h0M226.9 478.0h0M226.3 463.5h0M226.7 468.4h0M225.5 463.5h0M226.1 489.2h0M229.3 482.5h0M230.3 436.7h0M227.2 450.0h0M230.0 462.3h0M224.8 454.0h0M227.6 492.2h0M229.3 454.3h0M229.5 483.9h0M226.7 457.1h0M225.1 460.4h0M230.8 481.3h0M228.3 453.9h0M228.6 442.2h0M226.4 440.6h0M224.7 437.5h0M228.0 456.8h0M226.8 475.7h0M230.3 448.7h0M228.7 476.5h0M229.3 466.2h0M228.0 447.9h0M229.3 496.1h0M224.9 469.2h0M231.1 440.8h0M228.1 434.0h0M228.2 482.9h0M225.3 495.4h0M224.6 438.1h0M229.0 484.0h0M229.1 482.8h0M228.7 483.5h0M225.7 431.3h0M254.0 417.4h0M255.6 483.5h0M256.1 449.6h0M260.0 452.7h0M254.6 445.1h0M258.8 474.7h0M260.3 451.1h0M260.9 479.5h0M259.7 431.2h0M254.3 431.9h0M257.4 445.6h0M255.5 418.9h0M254.8 470.9h0M255.7 437.2h0M259.2 452.1h0M258.0 444.2h0M254.8 449.0h0M256.0 483.5h0M254.4 429.3h0M260.6 468.8h0M259.3 453.1h0M257.3 457.3h0M260.8 446.3h0M260.9 442.4h0M255.4 423.4h0M255.7 450.8h0M255.3 442.6h0M258.4 430.6h0M258.2 418.5h0M257.6 429.0h0M259.5 466.2h0M257.7 475.3h0M256.2 474.0h0M258.7 468.7h0M260.7 422.9h0M254.3 457.5h0M257.4 429.2h0M254.9 481.4h0M259.3 461.9h0M257.0 445.0h0M259.9 425.6h0M258.7 435.9h0M260.8 476.9h0M258.1 464.4h0M258.2 433.5h0M260.9 438.0h0M259.7 439.8h0M256.3 452.2h0M254.6 430.5h0M260.5 449.5h0M254.4 463.3h0M260.5 426.1h0M260.6 421.5h0M258.7 426.3h0M260.7 432.5h0M258.3 455.9h0M259.3 445.3h0M258.2 440.7h0M255.5 439.9h0M254.5 449.9h0M259.2 473.2h0M257.2 432.3h0M254.8 449.9h0M257.9 444.2h0M255.8 451.7h0M255.8 475.4h0M260.2 430.1h0M258.4 483.3h0M259.3 435.0h0M259.8 439.6h0M286.9 420.2h0M289.7 473.6h0M290.9 443.5h0M289.3 443.3h0M289.0 436.1h0M289.9 431.7h0M290.5 458.6h0M290.8 427.7h0M287.7 443.4h0M286.7 440.4h0M284.0 448.4h0M287.7 423.4h0M286.5 441.4h0M283.9 421.1h0M291.1 421.2h0M286.1 448.1h0M290.6 448.3h0M284.0 467.5h0M286.5 455.2h0M289.5 426.4h0M288.7 437.3h0M288.7 460.5h0M287.4 448.2h0M284.6 423.3h0M289.9 450.5h0M289.4 438.5h0M287.3 459.5h0M287.9 439.9h0M289.7 434.6h0M287.5 441.2h0M287.3 428.4h0M287.4 447.1h0M289.2 442.2h0M289.2 440.8h0M286.3 451.5h0M289.5 421.7h0M286.6 438.2h0M288.8 429.5h0M286.6 434.7h0M290.4 456.9h0M290.7 424.7h0M289.5 446.0h0M286.6 470.2h0M286.4 465.6h0M287.0 454.9h0M288.3 464.2h0M284.1 444.5h0M287.8 440.1h0M290.6 457.2h0M284.4 423.1h0M290.3 470.0h0M288.0 435.9h0M291.1 472.7h0M289.1 432.2h0M289.1 443.9h0M289.3 424.0h0M286.9 426.2h0M284.7 427.3h0M290.1 439.6h0M290.2 442.7h0M289.1 427.3h0M285.5 427.7h0M287.5 460.9h0M287.6 453.2h0M286.5 437.4h0M287.4 453.3h0M287.2 437.8h0M291.0 443.0h0M288.4 436.8h0M290.9 465.9h0M314.6 415.1h0M318.8 473.6h0M317.3 468.2h0M319.6 460.2h0M316.9 450.0h0M321.0 458.4h0M320.2 454.8h0M316.2 460.9h0M317.8 431.5h0M318.1 467.5h0M317.1 452.9h0M319.8 467.2h0M319.0 457.6h0M319.8 436.3h0M315.7 436.5h0M317.5 461.3h0M317.8 452.7h0M318.1 437.4h0M314.0 427.9h0M319.7 441.3h0M317.1 425.9h0M315.0 436.0h0M320.1 425.9h0M317.9 434.1h0M319.2 458.4h0M319.2 458.5h0M318.4 437.1h0M320.5 464.4h0M314.3 449.0h0M316.3 451.2h0M315.1 450.0h0M318.5 451.6h0M315.5 422.8h0M314.1 433.3h0M314.9 417.3h0M315.2 430.8h0M317.8 470.1h0M317.2 432.0h0M317.2 452.5h0M314.0 454.3h0M317.7 417.7h0M315.7 457.4h0M314.6 455.5h0M314.3 439.1h0M315.0 420.2h0M316.8 459.2h0M315.1 449.3h0M317.2 453.5h0M315.1 432.7h0M319.2 435.3h0M320.2 438.6h0M316.2 435.9h0M314.4 426.1h0M320.8 431.7h0M314.5 460.3h0M318.6 443.6h0M319.3 452.9h0M317.4 428.0h0M320.3 432.8h0M315.0 461.4h0M319.1 441.8h0M320.4 420.4h0M320.4 426.5h0M320.0 432.7h0M317.0 457.3h0M317.6 430.5h0M320.0 450.1h0M316.6 444.0h0M315.7 419.6h0M314.1 460.3h0" stroke="#ADD8E6" stroke-width="6.3" stroke-linecap="round" fill="none"/><path d="M78.5,421.0 78.6,422.8 78.7,424.7 78.9,426.5 79.0,428.4 79.2,430.2 79.3,432.0 79.5,433.9 79.6,435.7 79.7,437.6 79.9,439.4 80.0,441.2 80.1,443.1 80.1,444.9 80.2,446.8 80.3,448.6 80.4,450.4 80.4,452.3 80.5,454.1 80.5,456.0 80.6,457.8 80.7,459.6 80.8,461.5 80.9,463.3 81.0,465.2 81.1,467.0 81.2,468.8 81.4,470.7 81.7,472.5 82.1,474.4 82.7,476.2 83.2,478.0 83.8,479.9 84.4,481.7 84.9,483.6 85.2,485.4 85.6,487.2 86.0,489.1 86.3,490.9 86.7,492.8 87.0,494.6 87.3,496.4 87.5,498.3 87.6,500.1 87.7,502.0 87.7,503.8 87.7,505.6 87.6,507.5 87.4,509.3 87.3,511.2 87.1,513.0 86.8,514.8 86.6,516.7 86.3,518.5 86.1,520.4 85.7,522.2 85.3,524.0 84.9,525.9 84.4,527.7 83.8,529.6 83.3,531.4 82.8,533.2 82.3,535.1 81.8,536.9 81.3,538.8 80.8,540.6 80.4,542.4 79.9,544.3 79.4,546.1 78.9,548.0 78.5,549.8 76.5,549.8 76.1,548.0 75.6,546.1 75.1,544.3 74.6,542.4 74.2,540.6 73.7,538.8 73.2,536.9 72.7,535.1 72.2,533.2 71.7,531.4 71.2,529.6 70.6,527.7 70.1,525.9 69.7,524.0 69.3,522.2 68.9,520.4 68.7,518.5 68.4,516.7 68.2,514.8 67.9,513.0 67.7,511.2 67.6,509.3 67.4,507.5 67.3,505.6 67.3,503.8 67.3,502.0 67.4,500.1 67.5,498.3 67.7,496.4 68.0,494.6 68.3,492.8 68.7,490.9 69.0,489.1 69.4,487.2 69.8,485.4 70.1,483.6 70.6,481.7 71.2,479.9 71.8,478.0 72.3,476.2 72.9,474.4 73.3,472.5 73.6,470.7 73.8,468.8 73.9,467.0 74.0,465.2 74.1,463.3 74.2,461.5 74.3,459.6 74.4,457.8 74.5,456.0 74.5,454.1 74.6,452.3 74.6,450.4 74.7,448.6 74.8,446.8 74.9,444.9 74.9,443.1 75.0,441.2 75.1,439.4 75.3,437.6 75.4,435.7 75.5,433.9 75.7,432.0 75.8,430.2 76.0,428.4 76.1,426.5 76.3,424.7 76.4,422.8 76.5,421.0ZM108.5,449.2 108.7,450.4 108.8,451.6 109.0,452.7 109.3,453.9 109.5,455.1 109.7,456.3 109.9,457.5 110.1,458.7 110.2,459.8 110.4,461.0 110.6,462.2 110.7,463.4 110.8,464.6 110.9,465.8 111.0,466.9 111.1,468.1 111.2,469.3 111.2,470.5 111.3,471.7 111.4,472.9 111.4,474.0 111.5,475.2 111.5,476.4 111.5,477.6 111.6,478.8 111.6,480.0 111.7,481.1 111.7,482.3 111.8,483.5 111.9,484.7 112.0,485.9 112.0,487.1 112.2,488.2 112.3,489.4 112.4,490.6 112.7,491.8 113.0,493.0 113.4,494.1 113.9,495.3 114.5,496.5 115.1,497.7 115.7,498.9 116.2,500.1 116.8,501.2 117.3,502.4 117.7,503.6 118.1,504.8 118.4,506.0 118.6,507.2 118.9,508.3 119.2,509.5 119.5,510.7 119.6,511.9 119.8,513.1 119.8,514.3 119.8,515.4 119.7,516.6 119.4,517.8 119.0,519.0 118.6,520.2 118.1,521.4 117.5,522.5 116.9,523.7 116.2,524.9 115.4,526.1 114.3,527.3 112.9,528.5 111.4,529.6 109.9,530.8 108.5,532.0 106.5,532.0 105.1,530.8 103.6,529.6 102.1,528.5 100.7,527.3 99.6,526.1 98.8,524.9 98.1,523.7 97.5,522.5 96.9,521.4 96.4,520.2 96.0,519.0 95.6,517.8 95.3,516.6 95.2,515.4 95.2,514.3 95.2,513.1 95.4,511.9 95.5,510.7 95.8,509.5 96.1,508.3 96.4,507.2 96.6,506.0 96.9,504.8 97.3,503.6 97.7,502.4 98.2,501.2 98.8,500.1 99.3,498.9 99.9,497.7 100.5,496.5 101.1,495.3 101.6,494.1 102.0,493.0 102.3,491.8 102.6,490.6 102.7,489.4 102.8,488.2 103.0,487.1 103.0,485.9 103.1,484.7 103.2,483.5 103.3,482.3 103.3,481.1 103.4,480.0 103.4,478.8 103.5,477.6 103.5,476.4 103.5,475.2 103.6,474.0 103.6,472.9 103.7,471.7 103.8,470.5 103.8,469.3 103.9,468.1 104.0,466.9 104.1,465.8 104.2,464.6 104.3,463.4 104.4,462.2 104.6,461.0 104.8,459.8 104.9,458.7 105.1,457.5 105.3,456.3 105.5,455.1 105.7,453.9 106.0,452.7 106.2,451.6 106.3,450.4 106.5,449.2ZM138.4,433.9 138.9,435.3 139.4,436.7 139.9,438.1 140.4,439.4 140.9,440.8 141.4,442.2 141.8,443.6 142.2,445.0 142.6,446.4 143.0,447.8 143.3,449.2 143.7,450.5 144.0,451.9 144.4,453.3 144.7,454.7 144.9,456.1 145.2,457.5 145.4,458.9 145.6,460.3 145.7,461.6 145.8,463.0 146.0,464.4 146.1,465.8 146.2,467.2 146.3,468.6 146.5,470.0 146.5,471.4 146.6,472.7 146.7,474.1 146.7,475.5 146.7,476.9 146.7,478.3 146.7,479.7 146.6,481.1 146.6,482.4 146.4,483.8 146.3,485.2 146.1,486.6 146.0,488.0 145.8,489.4 145.6,490.8 145.4,492.2 145.2,493.5 145.1,494.9 144.9,496.3 144.7,497.7 144.6,499.1 144.4,500.5 144.2,501.9 144.0,503.3 143.8,504.6 143.6,506.0 143.4,507.4 143.2,508.8 143.0,510.2 142.8,511.6 142.6,513.0 142.3,514.4 142.1,515.7 141.8,517.1 141.5,518.5 141.2,519.9 140.9,521.3 140.5,522.7 140.2,524.1 139.8,525.5 139.5,526.8 139.1,528.2 138.8,529.6 138.4,531.0 136.6,531.0 136.2,529.6 135.9,528.2 135.5,526.8 135.2,525.5 134.8,524.1 134.5,522.7 134.1,521.3 133.8,519.9 133.5,518.5 133.2,517.1 132.9,515.7 132.7,514.4 132.4,513.0 132.2,511.6 132.0,510.2 131.8,508.8 131.6,507.4 131.4,506.0 131.2,504.6 131.0,503.3 130.8,501.9 130.6,500.5 130.4,499.1 130.3,497.7 130.1,496.3 129.9,494.9 129.8,493.5 129.6,492.2 129.4,490.8 129.2,489.4 129.0,488.0 128.9,486.6 128.7,485.2 128.6,483.8 128.4,482.4 128.4,481.1 128.3,479.7 128.3,478.3 128.3,476.9 128.3,475.5 128.3,474.1 128.4,472.7 128.5,471.4 128.5,470.0 128.7,468.6 128.8,467.2 128.9,465.8 129.0,464.4 129.2,463.0 129.3,461.6 129.4,460.3 129.6,458.9 129.8,457.5 130.1,456.1 130.3,454.7 130.6,453.3 131.0,451.9 131.3,450.5 131.7,449.2 132.0,447.8 132.4,446.4 132.8,445.0 133.2,443.6 133.6,442.2 134.1,440.8 134.6,439.4 135.1,438.1 135.6,436.7 136.1,435.3 136.6,433.9ZM168.5,424.7 169.4,426.2 170.3,427.8 171.3,429.3 172.2,430.9 173.1,432.4 173.8,434.0 174.4,435.5 175.0,437.1 175.5,438.6 176.1,440.2 176.6,441.7 177.1,443.3 177.6,444.8 178.0,446.4 178.4,447.9 178.7,449.5 179.0,451.0 179.3,452.5 179.5,454.1 179.6,455.6 179.6,457.2 179.6,458.7 179.4,460.3 179.2,461.8 178.8,463.4 178.4,464.9 177.9,466.5 177.4,468.0 176.9,469.6 176.4,471.1 175.9,472.7 175.4,474.2 175.0,475.8 174.6,477.3 174.1,478.9 173.6,480.4 173.1,481.9 172.7,483.5 172.3,485.0 171.9,486.6 171.6,488.1 171.4,489.7 171.3,491.2 171.2,492.8 171.1,494.3 171.0,495.9 170.9,497.4 170.9,499.0 170.8,500.5 170.7,502.1 170.7,503.6 170.6,505.2 170.6,506.7 170.5,508.2 170.4,509.8 170.3,511.3 170.2,512.9 170.1,514.4 170.0,516.0 169.8,517.5 169.7,519.1 169.6,520.6 169.4,522.2 169.3,523.7 169.2,525.3 169.0,526.8 168.9,528.4 168.7,529.9 168.6,531.5 168.5,533.0 166.5,533.0 166.4,531.5 166.3,529.9 166.1,528.4 166.0,526.8 165.8,525.3 165.7,523.7 165.6,522.2 165.4,520.6 165.3,519.1 165.2,517.5 165.0,516.0 164.9,514.4 164.8,512.9 164.7,511.3 164.6,509.8 164.5,508.2 164.4,506.7 164.4,505.2 164.3,503.6 164.3,502.1 164.2,500.5 164.1,499.0 164.1,497.4 164.0,495.9 163.9,494.3 163.8,492.8 163.7,491.2 163.6,489.7 163.4,488.1 163.1,486.6 162.7,485.0 162.3,483.5 161.9,481.9 161.4,480.4 160.9,478.9 160.4,477.3 160.0,475.8 159.6,474.2 159.1,472.7 158.6,471.1 158.1,469.6 157.6,468.0 157.1,466.5 156.6,464.9 156.2,463.4 155.8,461.8 155.6,460.3 155.4,458.7 155.4,457.2 155.4,455.6 155.5,454.1 155.7,452.5 156.0,451.0 156.3,449.5 156.6,447.9 157.0,446.4 157.4,444.8 157.9,443.3 158.4,441.7 158.9,440.2 159.5,438.6 160.0,437.1 160.6,435.5 161.2,434.0 161.9,432.4 162.8,430.9 163.7,429.3 164.7,427.8 165.6,426.2 166.5,424.7ZM198.5,420.7 199.1,422.0 199.8,423.3 200.6,424.5 201.3,425.8 202.0,427.1 202.6,428.4 203.1,429.6 203.6,430.9 204.0,432.2 204.5,433.5 204.9,434.7 205.3,436.0 205.7,437.3 206.1,438.6 206.4,439.8 206.7,441.1 206.9,442.4 207.0,443.7 207.0,444.9 207.0,446.2 207.0,447.5 206.9,448.8 206.9,450.0 206.8,451.3 206.6,452.6 206.5,453.9 206.4,455.1 206.2,456.4 206.1,457.7 205.9,459.0 205.7,460.2 205.6,461.5 205.4,462.8 205.2,464.1 205.1,465.4 204.9,466.6 204.8,467.9 204.6,469.2 204.4,470.5 204.2,471.7 204.0,473.0 203.8,474.3 203.6,475.6 203.4,476.8 203.2,478.1 203.0,479.4 202.8,480.7 202.6,481.9 202.4,483.2 202.2,484.5 202.0,485.8 201.8,487.0 201.6,488.3 201.4,489.6 201.2,490.9 201.0,492.1 200.8,493.4 200.6,494.7 200.5,496.0 200.3,497.2 200.1,498.5 199.9,499.8 199.7,501.1 199.5,502.3 199.4,503.6 199.2,504.9 199.0,506.2 198.8,507.4 198.6,508.7 198.5,510.0 196.5,510.0 196.4,508.7 196.2,507.4 196.0,506.2 195.8,504.9 195.6,503.6 195.5,502.3 195.3,501.1 195.1,499.8 194.9,498.5 194.7,497.2 194.5,496.0 194.4,494.7 194.2,493.4 194.0,492.1 193.8,490.9 193.6,489.6 193.4,488.3 193.2,487.0 193.0,485.8 192.8,484.5 192.6,483.2 192.4,481.9 192.2,480.7 192.0,479.4 191.8,478.1 191.6,476.8 191.4,475.6 191.2,474.3 191.0,473.0 190.8,471.7 190.6,470.5 190.4,469.2 190.2,467.9 190.1,466.6 189.9,465.4 189.8,464.1 189.6,462.8 189.4,461.5 189.3,460.2 189.1,459.0 188.9,457.7 188.8,456.4 188.6,455.1 188.5,453.9 188.4,452.6 188.2,451.3 188.1,450.0 188.1,448.8 188.0,447.5 188.0,446.2 188.0,444.9 188.0,443.7 188.1,442.4 188.3,441.1 188.6,439.8 188.9,438.6 189.3,437.3 189.7,436.0 190.1,434.7 190.5,433.5 191.0,432.2 191.4,430.9 191.9,429.6 192.4,428.4 193.0,427.1 193.7,425.8 194.4,424.5 195.2,423.3 195.9,422.0 196.5,420.7ZM228.5,428.4 229.0,429.4 229.5,430.4 230.0,431.4 230.5,432.3 231.1,433.3 231.6,434.3 232.1,435.3 232.6,436.3 233.1,437.3 233.5,438.3 233.9,439.2 234.3,440.2 234.7,441.2 235.1,442.2 235.5,443.2 235.9,444.2 236.3,445.2 236.7,446.1 237.1,447.1 237.4,448.1 237.8,449.1 238.1,450.1 238.4,451.1 238.6,452.1 238.8,453.0 238.9,454.0 239.0,455.0 239.1,456.0 239.0,457.0 239.0,458.0 238.9,459.0 238.8,459.9 238.6,460.9 238.5,461.9 238.3,462.9 238.1,463.9 237.9,464.9 237.6,465.9 237.4,466.8 237.1,467.8 236.9,468.8 236.6,469.8 236.3,470.8 236.1,471.8 235.8,472.8 235.5,473.7 235.3,474.7 235.0,475.7 234.7,476.7 234.5,477.7 234.1,478.7 233.8,479.7 233.5,480.6 233.2,481.6 232.8,482.6 232.5,483.6 232.1,484.6 231.8,485.6 231.5,486.6 231.1,487.5 230.8,488.5 230.5,489.5 230.2,490.5 230.0,491.5 229.7,492.5 229.5,493.5 229.2,494.4 229.0,495.4 228.7,496.4 228.5,497.4 226.5,497.4 226.3,496.4 226.0,495.4 225.8,494.4 225.5,493.5 225.3,492.5 225.0,491.5 224.8,490.5 224.5,489.5 224.2,488.5 223.9,487.5 223.5,486.6 223.2,485.6 222.9,484.6 222.5,483.6 222.2,482.6 221.8,481.6 221.5,480.6 221.2,479.7 220.9,478.7 220.5,477.7 220.3,476.7 220.0,475.7 219.7,474.7 219.5,473.7 219.2,472.8 218.9,471.8 218.7,470.8 218.4,469.8 218.1,468.8 217.9,467.8 217.6,466.8 217.4,465.9 217.1,464.9 216.9,463.9 216.7,462.9 216.5,461.9 216.4,460.9 216.2,459.9 216.1,459.0 216.0,458.0 216.0,457.0 215.9,456.0 216.0,455.0 216.1,454.0 216.2,453.0 216.4,452.1 216.6,451.1 216.9,450.1 217.2,449.1 217.6,448.1 217.9,447.1 218.3,446.1 218.7,445.2 219.1,444.2 219.5,443.2 219.9,442.2 220.3,441.2 220.7,440.2 221.1,439.2 221.5,438.3 221.9,437.3 222.4,436.3 222.9,435.3 223.4,434.3 223.9,433.3 224.5,432.3 225.0,431.4 225.5,430.4 226.0,429.4 226.5,428.4ZM258.5,417.4 259.1,418.3 259.7,419.3 260.4,420.2 261.0,421.2 261.7,422.1 262.3,423.1 262.9,424.0 263.5,425.0 264.1,425.9 264.7,426.8 265.1,427.8 265.6,428.7 266.1,429.7 266.6,430.6 267.0,431.6 267.5,432.5 268.0,433.5 268.5,434.4 268.9,435.3 269.3,436.3 269.7,437.2 270.1,438.2 270.5,439.1 270.8,440.1 271.0,441.0 271.2,442.0 271.4,442.9 271.5,443.8 271.5,444.8 271.5,445.7 271.4,446.7 271.2,447.6 271.0,448.6 270.7,449.5 270.4,450.4 270.0,451.4 269.6,452.3 269.1,453.3 268.7,454.2 268.3,455.2 267.8,456.1 267.4,457.1 267.0,458.0 266.6,458.9 266.3,459.9 265.9,460.8 265.6,461.8 265.3,462.7 265.0,463.7 264.7,464.6 264.4,465.6 264.1,466.5 263.8,467.4 263.5,468.4 263.2,469.3 262.9,470.3 262.6,471.2 262.3,472.2 262.0,473.1 261.7,474.1 261.4,475.0 261.1,475.9 260.7,476.9 260.4,477.8 260.1,478.8 259.8,479.7 259.4,480.7 259.1,481.6 258.8,482.6 258.5,483.5 256.5,483.5 256.2,482.6 255.9,481.6 255.6,480.7 255.2,479.7 254.9,478.8 254.6,477.8 254.3,476.9 253.9,475.9 253.6,475.0 253.3,474.1 253.0,473.1 252.7,472.2 252.4,471.2 252.1,470.3 251.8,469.3 251.5,468.4 251.2,467.4 250.9,466.5 250.6,465.6 250.3,464.6 250.0,463.7 249.7,462.7 249.4,461.8 249.1,460.8 248.7,459.9 248.4,458.9 248.0,458.0 247.6,457.1 247.2,456.1 246.7,455.2 246.3,454.2 245.9,453.3 245.4,452.3 245.0,451.4 244.6,450.4 244.3,449.5 244.0,448.6 243.8,447.6 243.6,446.7 243.5,445.7 243.5,444.8 243.5,443.8 243.6,442.9 243.8,442.0 244.0,441.0 244.2,440.1 244.5,439.1 244.9,438.2 245.3,437.2 245.7,436.3 246.1,435.3 246.5,434.4 247.0,433.5 247.5,432.5 248.0,431.6 248.4,430.6 248.9,429.7 249.4,428.7 249.9,427.8 250.3,426.8 250.9,425.9 251.5,425.0 252.1,424.0 252.7,423.1 253.3,422.1 254.0,421.2 254.6,420.2 255.3,419.3 255.9,418.3 256.5,417.4ZM291.4,420.2 292.3,421.0 293.3,421.7 294.3,422.5 295.5,423.3 296.6,424.0 297.6,424.8 298.6,425.5 299.6,426.3 300.3,427.1 301.0,427.8 301.4,428.6 301.5,429.4 301.5,430.1 301.5,430.9 301.4,431.6 301.3,432.4 301.1,433.2 301.0,433.9 300.8,434.7 300.5,435.5 300.3,436.2 300.0,437.0 299.8,437.7 299.5,438.5 299.2,439.3 298.9,440.0 298.6,440.8 298.4,441.6 298.1,442.3 297.8,443.1 297.6,443.8 297.3,444.6 297.1,445.4 296.8,446.1 296.6,446.9 296.4,447.7 296.1,448.4 295.9,449.2 295.6,450.0 295.4,450.7 295.1,451.5 294.9,452.2 294.6,453.0 294.3,453.8 294.1,454.5 293.8,455.3 293.6,456.1 293.3,456.8 293.1,457.6 292.9,458.3 292.6,459.1 292.4,459.9 292.2,460.6 291.9,461.4 291.7,462.2 291.5,462.9 291.3,463.7 291.0,464.4 290.8,465.2 290.6,466.0 290.4,466.7 290.2,467.5 290.0,468.3 289.8,469.0 289.5,469.8 289.3,470.5 289.1,471.3 288.9,472.1 288.7,472.8 288.5,473.6 286.5,473.6 286.3,472.8 286.1,472.1 285.9,471.3 285.7,470.5 285.5,469.8 285.2,469.0 285.0,468.3 284.8,467.5 284.6,466.7 284.4,466.0 284.2,465.2 284.0,464.4 283.7,463.7 283.5,462.9 283.3,462.2 283.1,461.4 282.8,460.6 282.6,459.9 282.4,459.1 282.1,458.3 281.9,457.6 281.7,456.8 281.4,456.1 281.2,455.3 280.9,454.5 280.7,453.8 280.4,453.0 280.1,452.2 279.9,451.5 279.6,450.7 279.4,450.0 279.1,449.2 278.9,448.4 278.6,447.7 278.4,446.9 278.2,446.1 277.9,445.4 277.7,444.6 277.4,443.8 277.2,443.1 276.9,442.3 276.6,441.6 276.4,440.8 276.1,440.0 275.8,439.3 275.5,438.5 275.2,437.7 275.0,437.0 274.7,436.2 274.5,435.5 274.2,434.7 274.0,433.9 273.9,433.2 273.7,432.4 273.6,431.6 273.5,430.9 273.5,430.1 273.5,429.4 273.6,428.6 274.0,427.8 274.7,427.1 275.4,426.3 276.4,425.5 277.4,424.8 278.4,424.0 279.5,423.3 280.7,422.5 281.7,421.7 282.7,421.0 283.6,420.2ZM320.4,415.1 321.2,415.9 322.0,416.8 323.0,417.6 324.0,418.4 324.9,419.3 325.9,420.1 326.9,421.0 327.8,421.8 328.6,422.6 329.4,423.5 330.0,424.3 330.5,425.1 330.8,426.0 330.9,426.8 330.9,427.6 330.8,428.5 330.6,429.3 330.4,430.1 330.1,431.0 329.8,431.8 329.4,432.7 329.0,433.5 328.6,434.3 328.2,435.2 327.7,436.0 327.3,436.8 326.9,437.7 326.6,438.5 326.3,439.3 326.0,440.2 325.8,441.0 325.7,441.8 325.7,442.7 325.7,443.5 325.7,444.4 325.8,445.2 326.0,446.0 326.1,446.9 326.3,447.7 326.4,448.5 326.6,449.4 326.8,450.2 327.0,451.0 327.1,451.9 327.3,452.7 327.4,453.5 327.5,454.4 327.6,455.2 327.6,456.1 327.5,456.9 327.3,457.7 327.0,458.6 326.6,459.4 326.1,460.2 325.5,461.1 325.0,461.9 324.4,462.7 323.8,463.6 323.2,464.4 322.7,465.2 322.3,466.1 321.8,466.9 321.4,467.8 321.0,468.6 320.6,469.4 320.1,470.3 319.7,471.1 319.3,471.9 318.9,472.8 318.5,473.6 316.5,473.6 316.1,472.8 315.7,471.9 315.3,471.1 314.9,470.3 314.4,469.4 314.0,468.6 313.6,467.8 313.2,466.9 312.7,466.1 312.3,465.2 311.8,464.4 311.2,463.6 310.6,462.7 310.0,461.9 309.5,461.1 308.9,460.2 308.4,459.4 308.0,458.6 307.7,457.7 307.5,456.9 307.4,456.1 307.4,455.2 307.5,454.4 307.6,453.5 307.7,452.7 307.9,451.9 308.0,451.0 308.2,450.2 308.4,449.4 308.6,448.5 308.7,447.7 308.9,446.9 309.0,446.0 309.2,445.2 309.3,444.4 309.3,443.5 309.3,442.7 309.3,441.8 309.2,441.0 309.0,440.2 308.7,439.3 308.4,438.5 308.1,437.7 307.7,436.8 307.3,436.0 306.8,435.2 306.4,434.3 306.0,433.5 305.6,432.7 305.2,431.8 304.9,431.0 304.6,430.1 304.4,429.3 304.2,428.5 304.1,427.6 304.1,426.8 304.2,426.0 304.5,425.1 305.0,424.3 305.6,423.5 306.4,422.6 307.2,421.8 308.1,421.0 309.1,420.1 310.1,419.3 311.0,418.4 312.0,417.6 313.0,416.8 313.8,415.9 314.6,415.1Z" fill="none" stroke="#ADD8E6" stroke-width="1.9" stroke-linejoin="round"/><path d="M77.5,421.0 L107.5,449.2 L137.5,433.9 L167.5,424.7 L197.5,420.7 L227.5,428.4 L257.5,417.4 L287.5,420.2 L317.5,415.1" fill="none" stroke="#bababa" stroke-width="1.7" stroke-dasharray="6.4,6.05"/><path d="M77.5,549.8 L107.5,532.0 L137.5,531.0 L167.5,533.0 L197.5,510.0 L227.5,497.4 L257.5,483.5 L287.5,473.6 L317.5,473.6" fill="none" stroke="#bababa" stroke-width="1.7" stroke-dasharray="6.4,6.05"/><path d="M70.0 500.3h15M100.0 509.9h15M130.0 477.8h15M160.0 459.9h15M190.0 456.6h15M220.0 458.8h15M250.0 444.9h15M280.0 437.6h15M310.0 433.9h15" stroke="#000080" stroke-width="3.8"/><rect x="59.7" y="392.09999999999997" width="275.6" height="171.60000000000008" fill="none" stroke="#555" stroke-width="1"/><line x1="52.900000000000006" y1="556.1" x2="59.7" y2="556.1" stroke="#000" stroke-width="1.5"/><text x="49.2" y="560.8000000000001" font-size="14.5" text-anchor="end">24</text><line x1="52.900000000000006" y1="511.1" x2="59.7" y2="511.1" stroke="#000" stroke-width="1.5"/><text x="49.2" y="515.8000000000001" font-size="14.5" text-anchor="end">26</text><line x1="52.900000000000006" y1="466.2" x2="59.7" y2="466.2" stroke="#000" stroke-width="1.5"/><text x="49.2" y="470.9" font-size="14.5" text-anchor="end">28</text><line x1="52.900000000000006" y1="421.7" x2="59.7" y2="421.7" stroke="#000" stroke-width="1.5"/><text x="49.2" y="426.4" font-size="14.5" text-anchor="end">30</text><line x1="77.5" y1="563.7" x2="77.5" y2="570.0" stroke="#000" stroke-width="1.5"/><line x1="107.5" y1="563.7" x2="107.5" y2="570.0" stroke="#000" stroke-width="1.5"/><line x1="137.5" y1="563.7" x2="137.5" y2="570.0" stroke="#000" stroke-width="1.5"/><line x1="167.5" y1="563.7" x2="167.5" y2="570.0" stroke="#000" stroke-width="1.5"/><line x1="197.5" y1="563.7" x2="197.5" y2="570.0" stroke="#000" stroke-width="1.5"/><line x1="227.5" y1="563.7" x2="227.5" y2="570.0" stroke="#000" stroke-width="1.5"/><line x1="257.5" y1="563.7" x2="257.5" y2="570.0" stroke="#000" stroke-width="1.5"/><line x1="287.5" y1="563.7" x2="287.5" y2="570.0" stroke="#000" stroke-width="1.5"/><line x1="317.5" y1="563.7" x2="317.5" y2="570.0" stroke="#000" stroke-width="1.5"/><text x="317.5" y="550.7" font-size="17" font-weight="bold" text-anchor="middle">c</text><text transform="translate(11.2,477.9) rotate(-90)" font-size="14.5" text-anchor="middle">WPWP SST (°C)</text><path d="M74.2 643.6h0M80.3 723.9h0M79.9 660.0h0M78.2 718.2h0M77.3 699.1h0M79.7 665.3h0M74.1 715.8h0M76.8 706.9h0M75.7 688.4h0M78.3 718.3h0M76.4 699.1h0M78.3 696.2h0M80.4 698.9h0M76.9 659.2h0M74.7 702.5h0M74.0 692.4h0M79.9 715.2h0M77.3 698.8h0M77.1 708.1h0M74.1 693.8h0M74.6 697.1h0M73.9 666.0h0M80.3 684.0h0M74.2 701.7h0M76.2 703.8h0M77.3 647.1h0M78.0 695.9h0M75.5 695.2h0M78.5 674.7h0M78.5 711.1h0M81.0 679.5h0M74.6 692.4h0M76.0 716.0h0M74.6 698.7h0M76.0 696.3h0M75.4 707.9h0M74.1 709.8h0M79.7 699.5h0M75.9 673.5h0M79.3 673.0h0M79.8 680.2h0M79.6 681.7h0M74.1 702.0h0M78.1 718.7h0M80.0 694.3h0M78.5 687.7h0M78.2 710.7h0M77.0 663.2h0M79.8 714.2h0M77.7 682.0h0M76.4 678.1h0M77.5 680.1h0M77.3 679.9h0M75.2 704.6h0M78.7 669.1h0M79.9 669.1h0M78.6 704.0h0M74.0 689.2h0M76.8 648.0h0M79.4 723.6h0M74.8 688.2h0M77.5 673.2h0M78.8 706.4h0M77.7 717.1h0M76.3 671.6h0M74.0 723.5h0M79.0 699.1h0M75.1 686.1h0M78.2 669.1h0M77.7 701.0h0M79.1 699.9h0M74.7 703.5h0M80.9 708.4h0M79.3 716.1h0M80.2 720.4h0M75.2 706.4h0M79.1 680.4h0M76.6 708.2h0M78.9 715.8h0M78.9 685.4h0M76.8 693.4h0M80.7 707.7h0M77.1 698.5h0M77.3 670.1h0M79.0 673.9h0M75.0 713.6h0M80.3 704.8h0M76.3 670.0h0M80.3 711.5h0M74.9 715.2h0M74.8 691.2h0M78.2 674.2h0M75.6 701.1h0M77.1 700.9h0M75.3 650.6h0M79.1 719.2h0M79.2 709.0h0M78.8 661.6h0M74.9 678.0h0M74.2 648.0h0M78.1 703.8h0M74.5 676.0h0M79.1 700.5h0M77.8 672.1h0M80.6 662.6h0M79.8 703.6h0M78.6 689.4h0M79.9 674.7h0M77.6 672.9h0M76.0 713.9h0M74.3 716.4h0M79.0 688.1h0M78.7 676.5h0M78.5 714.5h0M77.6 648.4h0M77.2 714.1h0M80.5 704.2h0M76.6 669.6h0M74.9 689.2h0M80.7 699.1h0M79.4 681.1h0M80.4 670.0h0M81.0 667.5h0M77.0 665.2h0M75.0 700.8h0M77.4 676.8h0M77.4 708.5h0M76.7 701.3h0M79.6 679.3h0M75.7 680.5h0M80.9 708.4h0M75.4 722.5h0M75.9 675.8h0M79.9 665.4h0M75.6 681.0h0M79.1 693.9h0M75.9 721.7h0M76.8 661.5h0M77.3 672.9h0M75.7 716.1h0M79.8 689.7h0M80.7 664.3h0M80.6 679.3h0M75.0 706.0h0M74.1 709.2h0M77.1 675.0h0M79.2 698.6h0M77.8 677.1h0M80.8 664.7h0M81.0 671.4h0M78.8 675.0h0M75.8 717.8h0M76.8 723.8h0M74.4 681.1h0M76.7 713.2h0M79.3 698.2h0M76.2 687.1h0M75.2 717.0h0M77.8 720.1h0M80.4 671.0h0M78.5 718.4h0M74.7 709.8h0M77.0 693.3h0M75.5 710.4h0M79.7 695.7h0M76.9 704.9h0M77.1 705.6h0M80.2 711.0h0M76.0 716.3h0M77.1 678.5h0M108.3 674.9h0M110.8 739.2h0M110.9 737.9h0M108.0 709.6h0M106.3 696.4h0M108.6 702.0h0M109.2 710.7h0M108.8 711.8h0M108.8 700.0h0M106.7 698.3h0M109.1 708.6h0M106.4 720.2h0M105.6 683.0h0M104.6 707.6h0M107.9 730.1h0M105.1 697.0h0M105.9 724.4h0M106.0 723.1h0M106.6 722.6h0M106.9 712.2h0M110.9 711.4h0M107.7 681.5h0M107.9 734.7h0M106.8 724.7h0M107.8 720.8h0M109.8 713.2h0M107.7 708.6h0M107.6 694.7h0M106.4 722.6h0M105.2 679.4h0M105.4 715.7h0M104.5 724.0h0M105.9 698.5h0M104.2 684.3h0M106.9 716.5h0M108.0 717.8h0M104.7 737.4h0M109.3 734.2h0M107.2 688.7h0M108.4 714.4h0M107.0 719.5h0M109.6 718.6h0M108.8 702.8h0M104.8 738.8h0M107.9 687.2h0M105.8 706.4h0M109.3 690.2h0M106.6 676.1h0M105.5 701.1h0M104.1 691.5h0M111.0 688.6h0M104.8 730.5h0M105.7 693.9h0M110.6 698.7h0M104.3 683.9h0M106.9 731.2h0M107.0 727.5h0M108.8 689.7h0M109.5 683.3h0M110.9 710.0h0M106.2 720.7h0M104.5 714.0h0M105.5 683.9h0M103.9 686.8h0M105.8 723.8h0M108.4 704.1h0M110.3 683.9h0M104.6 698.7h0M105.8 698.6h0M110.3 685.4h0M108.1 702.7h0M106.8 731.0h0M104.4 689.6h0M104.3 710.9h0M105.5 720.1h0M108.3 702.0h0M104.3 680.9h0M107.5 730.9h0M109.8 732.8h0M103.9 734.1h0M106.0 702.1h0M106.9 694.9h0M108.3 676.2h0M109.2 710.3h0M108.8 691.6h0M107.0 686.0h0M106.3 731.0h0M108.4 683.3h0M107.2 693.9h0M110.6 720.5h0M107.7 692.4h0M108.1 721.4h0M108.7 697.5h0M107.4 689.1h0M107.4 712.2h0M108.7 713.8h0M108.2 677.7h0M111.1 701.5h0M106.1 710.0h0M107.5 715.1h0M110.9 714.0h0M109.8 734.7h0M107.9 728.1h0M106.1 702.8h0M105.2 705.8h0M106.9 726.0h0M107.0 708.2h0M107.0 698.8h0M105.7 702.3h0M107.4 724.6h0M108.0 687.2h0M104.6 711.3h0M108.6 708.4h0M109.0 678.5h0M105.3 713.1h0M105.7 713.6h0M104.2 687.8h0M107.3 709.5h0M108.8 700.4h0M106.9 731.6h0M108.1 719.4h0M108.3 693.2h0M104.2 691.3h0M104.3 687.3h0M107.6 719.5h0M110.6 682.5h0M109.0 696.6h0M107.1 717.1h0M105.8 730.7h0M104.8 689.2h0M108.6 728.5h0M109.4 736.4h0M106.7 733.1h0M104.5 713.6h0M105.9 721.3h0M109.0 697.5h0M109.5 733.0h0M106.8 724.5h0M110.3 688.6h0M106.7 724.4h0M104.1 733.9h0M105.4 703.7h0M110.3 692.5h0M109.0 691.7h0M104.5 726.5h0M106.0 694.3h0M106.7 682.5h0M107.4 692.9h0M104.1 703.2h0M110.5 733.3h0M107.7 718.5h0M105.8 681.8h0M104.1 691.8h0M108.0 711.6h0M110.6 688.8h0M109.1 698.6h0M110.1 675.5h0M110.2 676.8h0M108.7 676.5h0M104.3 714.7h0M106.1 688.8h0M108.1 698.5h0M106.9 701.5h0M105.5 685.7h0M104.4 703.9h0M110.1 738.6h0M108.7 675.2h0M106.1 731.3h0M107.3 708.2h0M110.2 728.9h0M134.4 676.9h0M140.1 740.3h0M137.0 701.2h0M135.1 697.3h0M134.6 707.9h0M137.7 734.5h0M136.4 694.9h0M137.5 720.7h0M134.7 693.1h0M136.5 708.8h0M137.5 720.5h0M134.5 709.9h0M137.5 692.2h0M140.0 699.5h0M138.1 692.2h0M134.8 689.3h0M138.4 691.4h0M134.5 714.3h0M134.9 692.3h0M134.0 719.2h0M137.7 713.1h0M135.2 698.8h0M135.9 704.5h0M134.8 729.4h0M140.3 705.6h0M134.9 723.6h0M138.8 714.1h0M139.7 723.3h0M137.1 700.8h0M138.1 728.2h0M136.3 695.8h0M139.8 715.2h0M138.8 721.0h0M134.5 714.3h0M139.0 695.0h0M134.9 708.9h0M137.4 721.6h0M135.2 701.2h0M137.4 704.0h0M138.6 733.9h0M139.2 718.8h0M136.2 692.7h0M134.3 709.6h0M137.1 698.5h0M140.5 686.6h0M137.9 733.0h0M138.4 727.7h0M139.4 706.7h0M138.5 727.8h0M140.7 701.8h0M140.8 690.3h0M139.2 720.7h0M139.7 683.5h0M134.9 701.3h0M135.8 706.0h0M139.0 691.2h0M138.1 706.8h0M140.1 683.6h0M139.5 687.9h0M136.3 698.7h0M135.1 726.5h0M138.6 701.2h0M134.7 690.3h0M137.5 728.1h0M135.9 700.1h0M136.8 719.5h0M138.6 700.1h0M138.5 707.6h0M138.3 712.6h0M134.3 706.7h0M140.3 687.5h0M139.0 721.4h0M140.4 708.5h0M138.3 703.6h0M138.6 690.5h0M140.3 712.9h0M139.3 701.1h0M138.5 698.6h0M134.2 694.6h0M134.1 706.0h0M139.1 723.4h0M140.0 734.2h0M136.7 680.3h0M135.4 731.9h0M137.1 726.6h0M140.0 721.7h0M139.3 706.3h0M134.8 691.3h0M135.4 694.2h0M135.4 732.3h0M139.3 712.4h0M135.7 719.9h0M140.3 730.1h0M136.9 729.5h0M135.3 678.9h0M136.9 721.2h0M134.9 698.6h0M140.2 682.5h0M134.1 704.9h0M136.9 691.1h0M136.6 725.8h0M134.2 678.1h0M135.5 736.7h0M141.0 695.2h0M140.1 701.3h0M136.9 678.7h0M140.2 700.5h0M140.4 685.8h0M140.1 731.0h0M139.1 680.4h0M138.0 681.9h0M137.6 713.6h0M139.1 695.0h0M138.2 698.0h0M140.9 690.2h0M135.2 688.9h0M140.4 693.7h0M139.3 711.7h0M137.1 695.2h0M140.0 738.6h0M136.0 724.3h0M136.7 714.8h0M138.1 722.5h0M140.9 696.6h0M135.6 677.2h0M140.0 734.5h0M138.6 702.1h0M140.5 704.4h0M136.1 715.2h0M138.7 709.0h0M140.3 720.0h0M140.3 702.8h0M138.9 693.8h0M139.9 723.4h0M138.5 680.9h0M137.9 690.8h0M135.3 701.9h0M137.6 691.7h0M140.9 704.1h0M140.7 723.4h0M134.2 722.7h0M136.1 728.0h0M135.6 678.4h0M140.0 695.4h0M135.2 713.7h0M139.4 720.5h0M135.3 722.4h0M136.3 704.0h0M140.9 700.4h0M134.8 682.9h0M138.1 739.8h0M135.9 717.6h0M139.3 690.0h0M134.4 738.1h0M138.8 709.4h0M135.8 688.5h0M140.8 725.1h0M136.3 734.2h0M138.7 723.6h0M134.1 732.9h0M140.7 706.3h0M138.5 693.1h0M140.5 730.6h0M139.3 707.9h0M134.3 725.3h0M139.3 692.0h0M136.6 719.6h0M135.3 677.0h0M140.3 686.4h0M138.7 694.3h0M170.3 626.8h0M167.3 723.9h0M167.0 660.7h0M170.4 689.8h0M169.8 650.0h0M170.2 643.5h0M168.8 653.9h0M165.7 698.3h0M164.6 685.5h0M164.4 678.4h0M170.2 635.2h0M167.8 721.2h0M170.0 654.0h0M170.4 702.5h0M165.8 689.0h0M170.5 684.8h0M166.1 629.5h0M165.4 703.7h0M166.0 645.6h0M170.7 683.4h0M170.3 703.0h0M166.6 721.2h0M167.4 662.2h0M169.6 659.1h0M169.4 659.4h0M170.0 651.7h0M166.6 654.3h0M165.8 640.4h0M167.6 647.4h0M170.3 692.2h0M168.2 705.2h0M169.9 675.0h0M165.6 661.0h0M167.5 652.1h0M170.2 647.4h0M168.0 693.2h0M169.4 691.2h0M169.5 631.5h0M167.1 708.2h0M168.7 678.4h0M168.7 649.7h0M167.1 637.6h0M167.6 655.2h0M169.5 707.2h0M169.9 645.5h0M170.6 646.0h0M166.7 648.2h0M168.6 627.5h0M167.8 710.7h0M169.8 663.2h0M165.8 694.8h0M167.3 658.8h0M165.9 638.0h0M169.4 714.7h0M168.8 648.5h0M164.3 652.7h0M165.0 675.5h0M165.2 638.2h0M168.1 705.6h0M169.3 679.0h0M166.5 682.2h0M164.8 723.6h0M168.0 673.8h0M168.2 708.4h0M167.1 680.2h0M166.0 713.3h0M166.5 639.5h0M165.8 650.5h0M169.5 704.3h0M166.7 677.4h0M168.9 713.3h0M167.8 666.2h0M165.8 673.5h0M166.1 707.0h0M168.6 646.5h0M169.8 656.5h0M170.2 701.8h0M165.3 687.5h0M166.0 637.9h0M164.9 686.0h0M165.5 675.5h0M166.8 703.0h0M168.9 688.1h0M170.2 628.6h0M168.1 665.6h0M165.2 717.1h0M166.7 651.0h0M165.2 658.8h0M166.1 674.5h0M168.0 715.4h0M167.5 701.5h0M165.4 653.1h0M166.1 678.7h0M170.0 682.3h0M168.3 648.7h0M168.1 676.8h0M166.4 670.2h0M166.2 642.8h0M169.2 697.4h0M164.4 693.6h0M168.5 676.6h0M170.4 715.6h0M168.4 671.3h0M164.6 663.4h0M164.5 666.2h0M169.3 638.9h0M165.5 653.2h0M167.0 656.3h0M168.5 689.3h0M168.6 710.4h0M166.1 709.9h0M168.7 703.8h0M170.1 651.8h0M167.3 688.6h0M166.8 677.5h0M168.7 720.9h0M169.9 655.7h0M168.7 669.1h0M170.2 718.8h0M169.3 643.0h0M170.4 656.2h0M165.9 664.0h0M168.6 630.2h0M165.6 676.1h0M165.1 673.6h0M166.5 710.3h0M170.4 628.9h0M166.2 682.7h0M166.3 659.0h0M170.2 700.5h0M170.6 672.2h0M169.1 680.6h0M166.6 658.0h0M169.6 660.2h0M164.7 669.6h0M164.4 672.8h0M164.7 628.3h0M166.4 663.8h0M165.8 626.9h0M169.8 714.4h0M167.2 664.4h0M169.7 641.1h0M167.4 691.1h0M166.7 642.7h0M166.5 717.1h0M164.6 647.0h0M167.2 646.5h0M170.4 640.7h0M170.5 648.7h0M170.3 649.9h0M164.9 650.1h0M167.1 667.5h0M169.6 631.8h0M165.3 631.6h0M164.7 656.5h0M165.6 668.3h0M164.8 632.0h0M169.0 640.7h0M168.9 658.9h0M170.6 686.6h0M164.6 676.4h0M168.8 675.1h0M169.4 702.6h0M165.4 647.4h0M164.8 694.1h0M170.6 655.0h0M169.4 672.6h0M164.7 708.8h0M165.5 648.7h0M168.5 649.8h0M194.0 613.4h0M197.8 683.9h0M196.7 625.4h0M194.4 624.0h0M200.5 647.5h0M198.6 673.1h0M201.1 638.4h0M198.5 652.4h0M198.4 659.2h0M194.8 656.1h0M197.3 661.7h0M200.4 637.7h0M197.9 659.6h0M198.5 625.2h0M197.2 648.7h0M196.5 649.1h0M194.0 615.2h0M195.5 627.6h0M195.2 654.9h0M194.6 646.5h0M194.3 662.7h0M199.3 681.6h0M201.1 656.1h0M198.9 623.7h0M199.9 621.7h0M195.4 621.9h0M200.0 642.7h0M196.6 679.5h0M200.1 654.2h0M195.6 640.4h0M196.1 613.8h0M197.7 664.4h0M195.5 661.8h0M195.8 642.4h0M199.1 654.8h0M199.6 651.1h0M201.0 634.1h0M198.6 643.7h0M196.4 676.2h0M197.3 645.5h0M198.1 680.6h0M198.2 647.3h0M200.5 645.9h0M198.0 614.4h0M200.8 648.6h0M197.3 634.8h0M197.1 636.3h0M194.1 620.7h0M196.2 628.9h0M197.4 663.4h0M194.0 648.5h0M197.1 676.4h0M194.7 672.5h0M195.8 629.2h0M200.3 666.7h0M200.5 678.6h0M194.7 677.4h0M198.1 651.6h0M197.4 625.2h0M194.3 614.5h0M196.0 680.8h0M197.7 643.5h0M197.0 679.1h0M198.0 673.7h0M194.4 646.1h0M198.3 655.0h0M198.3 653.8h0M195.3 614.8h0M198.0 660.5h0M200.6 673.1h0M200.3 679.9h0M198.3 653.7h0M197.6 656.9h0M199.3 676.8h0M197.2 676.3h0M199.0 661.6h0M196.6 658.4h0M197.9 640.7h0M199.2 659.1h0M198.1 645.8h0M198.2 683.9h0M196.7 658.2h0M196.4 653.9h0M198.6 632.0h0M197.1 636.4h0M197.1 627.6h0M196.6 640.9h0M196.0 623.4h0M198.4 650.3h0M200.2 635.6h0M195.3 622.2h0M198.6 640.1h0M197.7 630.3h0M198.5 665.9h0M198.7 677.9h0M196.8 633.4h0M194.0 628.2h0M196.5 675.8h0M197.7 641.6h0M198.4 679.4h0M200.6 660.5h0M198.6 642.3h0M198.6 634.1h0M196.4 649.6h0M199.6 645.6h0M194.8 654.1h0M200.3 628.4h0M197.4 649.3h0M197.2 625.5h0M198.9 645.0h0M197.8 626.5h0M201.1 651.7h0M194.8 636.0h0M194.4 679.7h0M198.2 637.8h0M195.5 649.9h0M195.5 621.6h0M201.1 656.8h0M197.7 665.2h0M196.0 617.8h0M196.5 650.4h0M195.5 652.7h0M195.7 637.7h0M194.9 641.4h0M200.9 629.5h0M199.2 647.2h0M196.5 666.6h0M194.7 662.9h0M200.9 632.1h0M200.3 642.9h0M194.6 621.6h0M200.2 663.5h0M197.9 624.2h0M201.0 658.3h0M197.1 657.9h0M197.0 653.0h0M194.0 637.7h0M198.0 655.8h0M195.6 668.1h0M200.2 651.8h0M195.5 655.9h0M200.3 635.3h0M196.3 652.7h0M199.7 681.8h0M199.0 676.5h0M200.6 626.9h0M198.0 656.9h0M196.5 635.3h0M195.8 648.2h0M195.6 635.7h0M194.6 644.8h0M196.1 661.3h0M196.2 671.9h0M199.8 630.0h0M193.9 680.5h0M197.5 669.3h0M197.6 676.2h0M195.0 648.5h0M198.9 624.6h0M195.4 651.6h0M199.3 626.6h0M195.1 619.0h0M200.2 660.6h0M196.1 650.3h0M194.6 675.6h0M195.0 681.4h0M195.4 661.5h0M194.9 616.0h0M196.2 620.8h0M200.9 636.4h0M224.3 621.1h0M227.4 659.6h0M224.3 635.5h0M225.3 650.1h0M225.3 633.7h0M226.7 648.5h0M225.0 628.9h0M230.6 634.2h0M226.1 651.7h0M226.1 636.0h0M224.4 644.8h0M226.6 628.5h0M229.5 628.8h0M227.8 644.1h0M230.3 632.1h0M228.3 640.9h0M228.5 627.5h0M227.0 641.7h0M229.9 646.0h0M227.1 639.2h0M224.9 637.3h0M225.5 632.8h0M229.6 632.6h0M224.3 639.7h0M225.2 641.8h0M228.4 659.1h0M228.8 633.5h0M227.3 659.1h0M228.6 642.4h0M226.9 634.0h0M228.1 640.3h0M224.2 645.5h0M226.9 638.9h0M230.9 628.0h0M228.0 636.5h0M226.4 647.7h0M228.4 635.6h0M230.9 648.1h0M227.3 654.6h0M226.9 653.3h0M229.8 641.5h0M230.0 637.7h0M225.5 638.9h0M228.7 642.0h0M226.1 639.4h0M226.4 653.9h0M229.7 647.6h0M226.5 623.2h0M230.5 653.8h0M227.4 656.5h0M230.1 656.8h0M224.8 646.5h0M226.8 643.0h0M224.1 648.8h0M230.1 648.9h0M230.3 624.9h0M227.4 625.0h0M227.2 647.9h0M230.9 657.2h0M226.7 629.9h0M226.1 633.6h0M224.9 633.2h0M230.5 641.5h0M229.7 651.0h0M227.7 632.7h0M229.2 651.2h0M229.9 659.4h0M228.7 637.5h0M224.7 650.2h0M228.6 633.8h0M230.2 646.0h0M227.3 624.0h0M227.0 641.5h0M228.5 637.9h0M225.3 641.8h0M225.5 645.0h0M228.8 641.7h0M231.1 641.8h0M224.7 647.0h0M228.7 636.5h0M227.5 635.7h0M224.2 641.1h0M225.1 627.3h0M226.1 642.6h0M228.9 643.5h0M224.9 643.8h0M226.6 631.6h0M228.4 642.2h0M229.3 625.4h0M231.1 624.5h0M229.9 659.1h0M225.3 648.6h0M227.9 657.4h0M228.3 639.0h0M227.9 642.5h0M228.2 641.2h0M226.7 640.5h0M225.6 637.7h0M228.7 650.1h0M230.2 645.3h0M228.8 644.6h0M228.6 625.4h0M230.8 626.6h0M225.7 621.7h0M228.0 621.6h0M229.9 633.5h0M228.6 652.5h0M223.9 645.4h0M227.6 646.3h0M229.8 631.4h0M225.4 642.2h0M226.7 643.6h0M231.0 652.7h0M227.2 642.1h0M227.8 630.3h0M228.2 644.0h0M230.0 638.6h0M227.2 627.0h0M230.4 656.2h0M229.0 652.2h0M226.8 629.9h0M228.3 643.9h0M226.1 649.0h0M224.3 625.2h0M227.4 643.3h0M224.2 639.0h0M226.1 628.3h0M230.0 643.6h0M230.9 640.3h0M225.3 639.1h0M258.3 611.1h0M255.1 649.7h0M255.0 617.5h0M255.5 628.5h0M260.6 642.2h0M260.4 631.9h0M254.7 636.1h0M258.0 611.7h0M256.9 637.0h0M254.1 645.8h0M255.7 634.3h0M258.6 612.9h0M254.0 622.7h0M260.8 635.6h0M256.0 634.9h0M256.4 619.8h0M260.7 635.7h0M254.9 621.0h0M254.8 640.2h0M257.3 637.9h0M256.2 623.3h0M256.2 627.1h0M258.1 622.2h0M260.7 637.8h0M256.9 637.4h0M254.2 618.6h0M256.6 633.1h0M260.0 617.3h0M257.0 614.6h0M254.3 626.4h0M255.7 613.7h0M255.5 649.1h0M256.4 619.6h0M256.2 620.2h0M258.7 620.9h0M259.1 635.7h0M254.2 616.3h0M254.9 622.8h0M259.8 629.3h0M260.2 620.2h0M259.6 615.6h0M255.2 623.4h0M258.9 622.5h0M254.4 620.4h0M258.8 643.9h0M255.5 641.8h0M259.9 635.6h0M260.0 638.6h0M257.3 623.0h0M259.1 615.7h0M260.7 636.2h0M260.3 622.7h0M258.6 627.7h0M258.3 615.5h0M256.5 613.2h0M258.8 633.7h0M254.9 623.8h0M257.2 639.3h0M254.5 617.5h0M254.6 644.7h0M258.7 627.2h0M257.0 637.9h0M255.4 622.6h0M260.7 634.1h0M256.0 639.5h0M257.8 637.1h0M257.4 631.3h0M255.2 625.3h0M261.1 639.8h0M259.4 618.7h0M260.3 624.7h0M256.1 626.4h0M260.5 614.2h0M260.5 644.8h0M260.7 622.1h0M255.2 623.0h0M255.0 625.7h0M254.5 619.1h0M254.5 616.9h0M259.0 615.2h0M254.3 631.5h0M257.2 613.4h0M256.5 622.4h0M259.1 622.5h0M254.2 637.7h0M259.1 635.6h0M260.8 619.3h0M256.0 647.0h0M256.8 643.9h0M259.2 629.6h0M256.1 620.5h0M260.0 618.9h0M261.1 647.8h0M255.5 642.1h0M257.3 633.5h0M255.0 631.3h0M257.9 638.6h0M256.7 633.4h0M260.9 617.0h0M259.1 611.8h0M261.0 633.6h0M259.7 642.8h0M259.8 648.2h0M256.7 616.7h0M258.7 623.4h0M254.7 615.7h0M256.4 621.8h0M260.5 619.9h0M261.0 616.1h0M255.1 619.6h0M257.5 622.1h0M256.8 645.7h0M258.4 625.1h0M258.2 640.7h0M255.8 629.4h0M260.2 617.1h0M257.1 623.0h0M259.5 622.1h0M259.1 636.9h0M261.0 619.0h0M257.6 638.0h0M258.1 628.1h0M259.5 616.1h0M255.6 634.3h0M254.2 619.7h0M259.8 619.5h0M258.9 632.9h0M259.3 641.0h0M259.7 628.0h0M255.3 616.9h0M284.5 603.4h0M287.1 642.0h0M284.5 636.8h0M285.4 609.8h0M287.9 629.2h0M288.6 612.4h0M290.7 626.3h0M286.2 616.1h0M285.6 624.0h0M284.3 624.4h0M285.3 619.0h0M284.2 617.7h0M283.9 616.2h0M284.7 615.0h0M287.8 627.5h0M287.2 619.4h0M290.4 617.4h0M287.4 624.4h0M284.5 613.4h0M285.0 611.8h0M288.9 619.1h0M291.0 619.1h0M289.3 619.8h0M285.6 636.1h0M286.4 633.9h0M287.0 607.9h0M287.0 614.2h0M285.9 621.6h0M285.0 629.3h0M284.1 608.4h0M290.2 610.8h0M290.9 626.4h0M290.9 620.8h0M286.6 621.2h0M288.8 640.5h0M285.4 618.2h0M284.7 604.7h0M283.9 612.5h0M286.3 630.5h0M289.6 628.3h0M287.7 616.4h0M285.6 632.9h0M287.4 623.2h0M287.8 624.4h0M285.3 640.5h0M287.1 623.6h0M290.6 638.3h0M287.1 615.1h0M291.0 632.2h0M289.1 636.7h0M284.8 608.3h0M290.5 606.7h0M288.9 623.6h0M287.1 611.6h0M285.3 623.5h0M288.6 622.0h0M285.3 608.8h0M287.2 630.5h0M285.0 616.2h0M286.9 639.0h0M290.9 631.0h0M288.2 605.0h0M287.6 628.2h0M288.4 606.8h0M288.6 609.0h0M288.2 622.9h0M286.0 606.5h0M285.4 627.5h0M288.3 621.6h0M290.6 619.4h0M290.2 637.0h0M287.4 611.3h0M286.0 626.3h0M288.1 607.3h0M284.2 625.6h0M287.5 613.8h0M289.5 623.3h0M290.9 618.9h0M284.6 641.6h0M285.3 617.4h0M287.4 613.1h0M288.3 618.3h0M290.8 634.1h0M284.7 620.4h0M284.8 618.1h0M287.4 640.2h0M289.6 603.6h0M284.1 639.8h0M286.6 611.0h0M289.0 620.8h0M286.9 614.5h0M285.2 614.3h0M284.4 640.1h0M289.4 610.9h0M287.6 621.2h0M287.8 641.7h0M288.8 606.5h0M289.4 622.2h0M286.8 606.8h0M286.5 621.3h0M290.5 630.1h0M284.4 623.5h0M289.5 637.1h0M287.2 610.4h0M287.7 613.1h0M285.7 629.9h0M290.7 619.6h0M286.1 640.5h0M286.2 639.8h0M284.3 640.2h0M290.3 609.4h0M289.9 611.9h0M284.3 627.1h0M285.0 619.1h0M286.0 633.3h0M284.1 603.4h0M287.5 606.8h0M290.0 612.0h0M289.1 620.3h0M287.5 618.8h0M290.9 617.4h0M286.1 613.5h0M286.2 610.6h0M285.8 619.6h0M288.2 615.4h0M287.3 616.0h0M284.8 614.8h0M287.4 638.4h0M290.9 610.0h0M290.2 618.8h0M320.6 597.9h0M315.7 637.0h0M315.2 622.3h0M321.1 616.9h0M320.5 625.1h0M316.2 621.1h0M320.6 609.5h0M314.5 610.8h0M315.5 624.1h0M320.1 629.7h0M314.7 606.6h0M320.1 601.1h0M315.5 606.5h0M319.4 614.2h0M314.8 621.1h0M317.5 624.6h0M318.0 603.4h0M317.9 632.3h0M320.1 630.9h0M314.2 610.9h0M319.0 616.2h0M320.0 634.1h0M317.7 617.3h0M315.6 627.0h0M319.6 623.2h0M317.0 603.2h0M315.8 615.7h0M319.5 602.1h0M319.4 615.8h0M319.8 628.9h0M317.5 608.8h0M314.0 610.3h0M314.1 625.9h0M317.9 625.9h0M314.2 627.8h0M318.4 611.6h0M314.9 630.4h0M319.5 634.0h0M314.0 605.1h0M318.9 615.1h0M315.5 618.1h0M321.1 622.2h0M317.3 617.3h0M317.6 630.5h0M320.0 625.1h0M315.9 625.1h0M320.9 615.6h0M316.0 632.5h0M314.2 630.0h0M315.9 621.3h0M316.5 607.8h0M318.2 618.5h0M314.4 620.3h0M320.4 628.5h0M319.5 617.2h0M319.3 601.5h0M321.0 627.5h0M314.3 625.3h0M318.8 599.5h0M320.1 609.7h0M315.2 603.4h0M316.9 611.4h0M315.3 629.3h0M320.6 609.9h0M317.3 618.5h0M319.9 629.1h0M315.7 634.0h0M318.2 621.3h0M319.3 617.7h0M316.4 626.0h0M315.8 616.5h0M314.5 619.1h0M318.4 608.2h0M316.9 628.4h0M315.3 609.3h0M316.2 622.9h0M316.2 624.6h0M314.8 618.3h0M318.2 631.5h0M315.0 616.2h0M315.5 619.1h0M316.5 617.6h0M321.0 608.9h0M319.0 616.0h0M315.4 615.8h0M320.0 615.3h0M320.7 636.8h0M316.3 615.2h0M319.6 624.3h0M318.4 631.0h0M317.9 622.2h0M320.4 626.4h0M318.7 629.8h0M318.6 614.3h0M320.6 612.9h0M317.2 620.9h0M314.7 604.4h0M314.0 623.2h0M319.1 620.7h0M317.3 616.4h0M320.2 632.1h0M320.9 634.4h0M315.7 622.9h0M315.3 627.5h0M318.0 612.9h0M314.1 611.8h0M314.6 606.9h0M314.4 602.2h0M316.0 603.6h0M317.1 627.6h0M315.3 603.3h0M318.9 619.5h0M319.4 600.7h0M319.9 601.6h0M317.8 605.0h0M319.3 610.5h0M319.6 609.5h0M319.1 611.3h0M316.2 619.9h0M318.0 608.8h0M319.8 620.3h0M315.7 606.1h0M316.5 625.9h0M314.0 619.2h0M318.2 602.5h0M314.7 603.0h0M317.1 601.5h0M315.2 628.3h0M314.7 620.6h0M320.3 622.8h0" stroke="#ADD8E6" stroke-width="6.3" stroke-linecap="round" fill="none"/><path d="M77.7,643.6 77.7,644.7 77.7,645.9 77.7,647.0 77.7,648.2 77.7,649.3 77.7,650.5 77.7,651.6 77.7,652.8 77.7,653.9 77.7,655.1 77.7,656.2 77.7,657.4 77.8,658.5 77.9,659.7 78.2,660.8 78.6,662.0 79.1,663.1 79.3,664.2 79.5,665.4 79.7,666.5 79.8,667.7 80.0,668.8 80.1,670.0 80.2,671.1 80.3,672.3 80.4,673.4 80.4,674.6 80.5,675.7 80.5,676.9 80.6,678.0 80.6,679.2 80.7,680.3 80.7,681.5 80.8,682.6 80.8,683.8 80.8,684.9 80.9,686.0 80.9,687.2 80.9,688.3 81.0,689.5 81.0,690.6 81.0,691.8 81.0,692.9 81.0,694.1 81.0,695.2 81.0,696.4 81.0,697.5 81.0,698.7 81.0,699.8 81.0,701.0 81.0,702.1 81.0,703.3 81.0,704.4 80.9,705.5 80.9,706.7 80.8,707.8 80.8,709.0 80.7,710.1 80.7,711.3 80.6,712.4 80.5,713.6 80.5,714.7 80.4,715.9 80.2,717.0 80.0,718.2 79.8,719.3 79.5,720.5 79.2,721.6 78.9,722.8 78.7,723.9 76.3,723.9 76.1,722.8 75.8,721.6 75.5,720.5 75.2,719.3 75.0,718.2 74.8,717.0 74.6,715.9 74.5,714.7 74.5,713.6 74.4,712.4 74.3,711.3 74.3,710.1 74.2,709.0 74.2,707.8 74.1,706.7 74.1,705.5 74.0,704.4 74.0,703.3 74.0,702.1 74.0,701.0 74.0,699.8 74.0,698.7 74.0,697.5 74.0,696.4 74.0,695.2 74.0,694.1 74.0,692.9 74.0,691.8 74.0,690.6 74.0,689.5 74.1,688.3 74.1,687.2 74.1,686.0 74.2,684.9 74.2,683.8 74.2,682.6 74.3,681.5 74.3,680.3 74.4,679.2 74.4,678.0 74.5,676.9 74.5,675.7 74.6,674.6 74.6,673.4 74.7,672.3 74.8,671.1 74.9,670.0 75.0,668.8 75.2,667.7 75.3,666.5 75.5,665.4 75.7,664.2 75.9,663.1 76.4,662.0 76.8,660.8 77.1,659.7 77.2,658.5 77.3,657.4 77.3,656.2 77.3,655.1 77.3,653.9 77.3,652.8 77.3,651.6 77.3,650.5 77.3,649.3 77.3,648.2 77.3,647.0 77.3,645.9 77.3,644.7 77.3,643.6ZM108.7,674.9 108.9,675.8 109.0,676.7 109.2,677.7 109.4,678.6 109.6,679.5 109.8,680.4 110.0,681.3 110.2,682.2 110.3,683.2 110.4,684.1 110.5,685.0 110.5,685.9 110.5,686.8 110.6,687.8 110.6,688.7 110.6,689.6 110.7,690.5 110.7,691.4 110.7,692.4 110.8,693.3 110.8,694.2 110.8,695.1 110.9,696.0 110.9,696.9 110.9,697.9 110.9,698.8 110.9,699.7 111.0,700.6 111.0,701.5 111.0,702.5 111.0,703.4 111.0,704.3 111.0,705.2 111.0,706.1 111.0,707.0 111.0,708.0 111.0,708.9 111.0,709.8 111.0,710.7 111.0,711.6 111.0,712.6 111.0,713.5 111.0,714.4 111.0,715.3 111.0,716.2 111.0,717.2 111.0,718.1 110.9,719.0 110.9,719.9 110.9,720.8 110.9,721.7 110.8,722.7 110.8,723.6 110.7,724.5 110.7,725.4 110.7,726.3 110.6,727.3 110.6,728.2 110.5,729.1 110.5,730.0 110.4,730.9 110.3,731.9 110.1,732.8 109.9,733.7 109.7,734.6 109.5,735.5 109.3,736.4 109.1,737.4 108.9,738.3 108.7,739.2 106.3,739.2 106.1,738.3 105.9,737.4 105.7,736.4 105.5,735.5 105.3,734.6 105.1,733.7 104.9,732.8 104.7,731.9 104.6,730.9 104.5,730.0 104.5,729.1 104.4,728.2 104.4,727.3 104.3,726.3 104.3,725.4 104.3,724.5 104.2,723.6 104.2,722.7 104.1,721.7 104.1,720.8 104.1,719.9 104.1,719.0 104.0,718.1 104.0,717.2 104.0,716.2 104.0,715.3 104.0,714.4 104.0,713.5 104.0,712.6 104.0,711.6 104.0,710.7 104.0,709.8 104.0,708.9 104.0,708.0 104.0,707.0 104.0,706.1 104.0,705.2 104.0,704.3 104.0,703.4 104.0,702.5 104.0,701.5 104.0,700.6 104.1,699.7 104.1,698.8 104.1,697.9 104.1,696.9 104.1,696.0 104.2,695.1 104.2,694.2 104.2,693.3 104.3,692.4 104.3,691.4 104.3,690.5 104.4,689.6 104.4,688.7 104.4,687.8 104.5,686.8 104.5,685.9 104.5,685.0 104.6,684.1 104.7,683.2 104.8,682.2 105.0,681.3 105.2,680.4 105.4,679.5 105.6,678.6 105.8,677.7 106.0,676.7 106.1,675.8 106.3,674.9ZM138.4,676.9 138.6,677.8 138.7,678.7 138.9,679.6 139.1,680.5 139.2,681.4 139.4,682.3 139.6,683.2 139.8,684.1 139.9,685.1 140.1,686.0 140.3,686.9 140.5,687.8 140.7,688.7 140.9,689.6 141.2,690.5 141.4,691.4 141.8,692.3 142.1,693.2 142.5,694.1 142.9,695.0 143.3,695.9 143.7,696.8 144.0,697.7 144.2,698.6 144.4,699.5 144.5,700.4 144.5,701.4 144.5,702.3 144.4,703.2 144.3,704.1 144.1,705.0 143.9,705.9 143.7,706.8 143.5,707.7 143.2,708.6 143.0,709.5 142.8,710.4 142.5,711.3 142.3,712.2 142.2,713.1 142.0,714.0 141.9,714.9 141.8,715.8 141.8,716.8 141.7,717.7 141.7,718.6 141.6,719.5 141.6,720.4 141.5,721.3 141.5,722.2 141.5,723.1 141.4,724.0 141.4,724.9 141.3,725.8 141.3,726.7 141.2,727.6 141.2,728.5 141.1,729.4 141.0,730.3 140.9,731.2 140.7,732.1 140.5,733.1 140.2,734.0 140.0,734.9 139.7,735.8 139.4,736.7 139.2,737.6 138.9,738.5 138.6,739.4 138.4,740.3 136.6,740.3 136.4,739.4 136.1,738.5 135.8,737.6 135.6,736.7 135.3,735.8 135.0,734.9 134.8,734.0 134.5,733.1 134.3,732.1 134.1,731.2 134.0,730.3 133.9,729.4 133.8,728.5 133.8,727.6 133.7,726.7 133.7,725.8 133.6,724.9 133.6,724.0 133.5,723.1 133.5,722.2 133.5,721.3 133.4,720.4 133.4,719.5 133.3,718.6 133.3,717.7 133.2,716.8 133.2,715.8 133.1,714.9 133.0,714.0 132.8,713.1 132.7,712.2 132.5,711.3 132.2,710.4 132.0,709.5 131.8,708.6 131.5,707.7 131.3,706.8 131.1,705.9 130.9,705.0 130.7,704.1 130.6,703.2 130.5,702.3 130.5,701.4 130.5,700.4 130.6,699.5 130.8,698.6 131.0,697.7 131.3,696.8 131.7,695.9 132.1,695.0 132.5,694.1 132.9,693.2 133.2,692.3 133.6,691.4 133.8,690.5 134.1,689.6 134.3,688.7 134.5,687.8 134.7,686.9 134.9,686.0 135.1,685.1 135.2,684.1 135.4,683.2 135.6,682.3 135.8,681.4 135.9,680.5 136.1,679.6 136.3,678.7 136.4,677.8 136.6,676.9ZM168.2,626.8 168.4,628.2 168.6,629.6 168.9,631.0 169.1,632.3 169.4,633.7 169.6,635.1 169.8,636.5 170.0,637.9 170.1,639.3 170.2,640.7 170.3,642.1 170.4,643.4 170.5,644.8 170.6,646.2 170.7,647.6 170.8,649.0 170.9,650.4 171.0,651.8 171.0,653.2 171.1,654.5 171.2,655.9 171.2,657.3 171.3,658.7 171.3,660.1 171.4,661.5 171.4,662.9 171.5,664.3 171.5,665.6 171.5,667.0 171.5,668.4 171.5,669.8 171.5,671.2 171.5,672.6 171.5,674.0 171.4,675.3 171.2,676.7 171.1,678.1 170.9,679.5 170.8,680.9 170.6,682.3 170.4,683.7 170.3,685.1 170.1,686.4 170.0,687.8 169.9,689.2 169.8,690.6 169.8,692.0 169.7,693.4 169.7,694.8 169.6,696.2 169.6,697.5 169.5,698.9 169.5,700.3 169.5,701.7 169.4,703.1 169.4,704.5 169.4,705.9 169.3,707.3 169.2,708.6 169.2,710.0 169.1,711.4 169.0,712.8 168.9,714.2 168.8,715.6 168.7,717.0 168.6,718.4 168.5,719.7 168.4,721.1 168.3,722.5 168.2,723.9 166.8,723.9 166.7,722.5 166.6,721.1 166.5,719.7 166.4,718.4 166.3,717.0 166.2,715.6 166.1,714.2 166.0,712.8 165.9,711.4 165.8,710.0 165.8,708.6 165.7,707.3 165.6,705.9 165.6,704.5 165.6,703.1 165.5,701.7 165.5,700.3 165.5,698.9 165.4,697.5 165.4,696.2 165.3,694.8 165.3,693.4 165.2,692.0 165.2,690.6 165.1,689.2 165.0,687.8 164.9,686.4 164.7,685.1 164.6,683.7 164.4,682.3 164.2,680.9 164.1,679.5 163.9,678.1 163.8,676.7 163.6,675.3 163.5,674.0 163.5,672.6 163.5,671.2 163.5,669.8 163.5,668.4 163.5,667.0 163.5,665.6 163.5,664.3 163.6,662.9 163.6,661.5 163.7,660.1 163.7,658.7 163.8,657.3 163.8,655.9 163.9,654.5 164.0,653.2 164.0,651.8 164.1,650.4 164.2,649.0 164.3,647.6 164.4,646.2 164.5,644.8 164.6,643.4 164.7,642.1 164.8,640.7 164.9,639.3 165.0,637.9 165.2,636.5 165.4,635.1 165.6,633.7 165.9,632.3 166.1,631.0 166.4,629.6 166.6,628.2 166.8,626.8ZM198.2,613.4 198.4,614.4 198.6,615.4 198.8,616.4 199.0,617.4 199.2,618.4 199.4,619.4 199.6,620.4 199.7,621.5 199.9,622.5 200.0,623.5 200.2,624.5 200.2,625.5 200.3,626.5 200.4,627.5 200.5,628.5 200.6,629.5 200.6,630.5 200.7,631.5 200.8,632.5 200.9,633.5 200.9,634.5 201.0,635.6 201.0,636.6 201.1,637.6 201.2,638.6 201.2,639.6 201.3,640.6 201.3,641.6 201.4,642.6 201.4,643.6 201.4,644.6 201.5,645.6 201.5,646.6 201.5,647.6 201.5,648.6 201.5,649.7 201.5,650.7 201.5,651.7 201.5,652.7 201.5,653.7 201.5,654.7 201.5,655.7 201.5,656.7 201.5,657.7 201.4,658.7 201.4,659.7 201.4,660.7 201.3,661.7 201.3,662.8 201.2,663.8 201.2,664.8 201.1,665.8 201.1,666.8 201.0,667.8 201.0,668.8 200.9,669.8 200.8,670.8 200.7,671.8 200.6,672.8 200.4,673.8 200.2,674.8 200.0,675.8 199.8,676.9 199.5,677.9 199.3,678.9 199.1,679.9 198.8,680.9 198.6,681.9 198.4,682.9 198.2,683.9 196.8,683.9 196.6,682.9 196.4,681.9 196.2,680.9 195.9,679.9 195.7,678.9 195.5,677.9 195.2,676.9 195.0,675.8 194.8,674.8 194.6,673.8 194.4,672.8 194.3,671.8 194.2,670.8 194.1,669.8 194.0,668.8 194.0,667.8 193.9,666.8 193.9,665.8 193.8,664.8 193.8,663.8 193.7,662.8 193.7,661.7 193.6,660.7 193.6,659.7 193.6,658.7 193.5,657.7 193.5,656.7 193.5,655.7 193.5,654.7 193.5,653.7 193.5,652.7 193.5,651.7 193.5,650.7 193.5,649.7 193.5,648.6 193.5,647.6 193.5,646.6 193.5,645.6 193.6,644.6 193.6,643.6 193.6,642.6 193.7,641.6 193.7,640.6 193.8,639.6 193.8,638.6 193.9,637.6 194.0,636.6 194.0,635.6 194.1,634.5 194.1,633.5 194.2,632.5 194.3,631.5 194.4,630.5 194.4,629.5 194.5,628.5 194.6,627.5 194.7,626.5 194.8,625.5 194.8,624.5 195.0,623.5 195.1,622.5 195.3,621.5 195.4,620.4 195.6,619.4 195.8,618.4 196.0,617.4 196.2,616.4 196.4,615.4 196.6,614.4 196.8,613.4ZM228.5,621.1 228.6,621.6 228.7,622.2 228.8,622.8 228.9,623.3 229.0,623.9 229.1,624.4 229.2,625.0 229.3,625.5 229.4,626.1 229.5,626.6 229.6,627.1 229.7,627.7 229.9,628.2 230.0,628.8 230.2,629.4 230.4,629.9 230.6,630.5 230.9,631.0 231.2,631.6 231.6,632.1 232.0,632.6 232.5,633.2 233.0,633.8 233.5,634.3 234.1,634.9 234.6,635.4 235.2,636.0 235.8,636.5 236.7,637.1 237.6,637.6 238.5,638.1 239.4,638.7 240.0,639.2 240.3,639.8 240.3,640.4 239.8,640.9 239.2,641.5 238.3,642.0 237.4,642.6 236.4,643.1 235.6,643.6 235.0,644.2 234.5,644.8 233.9,645.3 233.4,645.9 232.9,646.4 232.4,647.0 231.9,647.5 231.5,648.1 231.1,648.6 230.8,649.1 230.5,649.7 230.3,650.2 230.1,650.8 230.0,651.4 229.8,651.9 229.7,652.5 229.6,653.0 229.5,653.6 229.4,654.1 229.3,654.6 229.2,655.2 229.1,655.8 229.0,656.3 228.9,656.9 228.9,657.4 228.8,658.0 228.7,658.5 228.6,659.1 228.5,659.6 226.5,659.6 226.4,659.1 226.3,658.5 226.2,658.0 226.1,657.4 226.1,656.9 226.0,656.3 225.9,655.8 225.8,655.2 225.7,654.6 225.6,654.1 225.5,653.6 225.4,653.0 225.3,652.5 225.2,651.9 225.0,651.4 224.9,650.8 224.7,650.2 224.5,649.7 224.2,649.1 223.9,648.6 223.5,648.1 223.1,647.5 222.6,647.0 222.1,646.4 221.6,645.9 221.1,645.3 220.5,644.8 220.0,644.2 219.4,643.6 218.6,643.1 217.6,642.6 216.7,642.0 215.8,641.5 215.2,640.9 214.7,640.4 214.7,639.8 215.0,639.2 215.6,638.7 216.5,638.1 217.4,637.6 218.3,637.1 219.2,636.5 219.8,636.0 220.4,635.4 220.9,634.9 221.5,634.3 222.0,633.8 222.5,633.2 223.0,632.6 223.4,632.1 223.8,631.6 224.1,631.0 224.4,630.5 224.6,629.9 224.8,629.4 225.0,628.8 225.1,628.2 225.3,627.7 225.4,627.1 225.5,626.6 225.6,626.1 225.7,625.5 225.8,625.0 225.9,624.4 226.0,623.9 226.1,623.3 226.2,622.8 226.3,622.2 226.4,621.6 226.5,621.1ZM258.5,611.1 259.1,611.7 259.7,612.2 260.3,612.8 261.0,613.3 261.6,613.9 262.2,614.4 262.8,615.0 263.5,615.5 264.2,616.1 264.9,616.6 265.6,617.2 266.3,617.7 266.9,618.3 267.3,618.8 267.6,619.4 267.7,619.9 267.7,620.5 267.4,621.0 267.1,621.6 266.6,622.1 266.0,622.7 265.4,623.2 264.8,623.8 264.1,624.3 263.5,624.9 263.0,625.4 262.6,626.0 262.3,626.5 262.1,627.1 261.9,627.6 261.8,628.2 261.6,628.7 261.5,629.3 261.3,629.8 261.2,630.4 261.1,631.0 261.0,631.5 260.9,632.1 260.8,632.6 260.7,633.2 260.6,633.7 260.5,634.3 260.4,634.8 260.3,635.4 260.2,635.9 260.1,636.5 260.1,637.0 260.0,637.6 259.9,638.1 259.8,638.7 259.7,639.2 259.7,639.8 259.6,640.3 259.5,640.9 259.5,641.4 259.4,642.0 259.3,642.5 259.3,643.1 259.2,643.6 259.1,644.2 259.1,644.7 259.0,645.3 258.9,645.8 258.9,646.4 258.8,646.9 258.7,647.5 258.7,648.0 258.6,648.6 258.5,649.1 258.5,649.7 256.5,649.7 256.5,649.1 256.4,648.6 256.3,648.0 256.3,647.5 256.2,646.9 256.1,646.4 256.1,645.8 256.0,645.3 255.9,644.7 255.9,644.2 255.8,643.6 255.7,643.1 255.7,642.5 255.6,642.0 255.5,641.4 255.5,640.9 255.4,640.3 255.3,639.8 255.3,639.2 255.2,638.7 255.1,638.1 255.0,637.6 254.9,637.0 254.9,636.5 254.8,635.9 254.7,635.4 254.6,634.8 254.5,634.3 254.4,633.7 254.3,633.2 254.2,632.6 254.1,632.1 254.0,631.5 253.9,631.0 253.8,630.4 253.7,629.8 253.5,629.3 253.4,628.7 253.2,628.2 253.1,627.6 252.9,627.1 252.7,626.5 252.4,626.0 252.0,625.4 251.5,624.9 250.9,624.3 250.2,623.8 249.6,623.2 249.0,622.7 248.4,622.1 247.9,621.6 247.6,621.0 247.3,620.5 247.3,619.9 247.4,619.4 247.7,618.8 248.1,618.3 248.7,617.7 249.4,617.2 250.1,616.6 250.8,616.1 251.5,615.5 252.2,615.0 252.8,614.4 253.4,613.9 254.0,613.3 254.7,612.8 255.3,612.2 255.9,611.7 256.5,611.1ZM288.5,603.4 288.8,604.0 289.2,604.5 289.6,605.1 290.0,605.6 290.3,606.2 290.7,606.7 291.1,607.3 291.5,607.8 291.9,608.4 292.2,608.9 292.6,609.5 293.1,610.0 293.5,610.6 294.0,611.1 294.5,611.7 295.0,612.2 295.5,612.8 296.0,613.3 296.4,613.9 296.8,614.4 297.1,615.0 297.3,615.5 297.5,616.1 297.5,616.6 297.5,617.2 297.4,617.7 297.2,618.3 296.9,618.8 296.5,619.4 296.2,619.9 295.7,620.5 295.3,621.0 294.8,621.6 294.4,622.1 293.9,622.7 293.5,623.3 293.1,623.8 292.8,624.4 292.5,624.9 292.3,625.5 292.1,626.0 292.0,626.6 291.9,627.1 291.7,627.7 291.6,628.2 291.5,628.8 291.4,629.3 291.3,629.9 291.2,630.4 291.1,631.0 291.0,631.5 290.9,632.1 290.8,632.6 290.7,633.2 290.6,633.7 290.5,634.3 290.4,634.8 290.3,635.4 290.1,635.9 290.0,636.5 289.9,637.0 289.7,637.6 289.6,638.1 289.4,638.7 289.2,639.2 289.1,639.8 288.9,640.3 288.8,640.9 288.6,641.4 288.5,642.0 286.5,642.0 286.4,641.4 286.2,640.9 286.1,640.3 285.9,639.8 285.8,639.2 285.6,638.7 285.4,638.1 285.3,637.6 285.1,637.0 285.0,636.5 284.9,635.9 284.7,635.4 284.6,634.8 284.5,634.3 284.4,633.7 284.3,633.2 284.2,632.6 284.1,632.1 284.0,631.5 283.9,631.0 283.8,630.4 283.7,629.9 283.6,629.3 283.5,628.8 283.4,628.2 283.3,627.7 283.1,627.1 283.0,626.6 282.9,626.0 282.7,625.5 282.5,624.9 282.2,624.4 281.9,623.8 281.5,623.3 281.1,622.7 280.6,622.1 280.2,621.6 279.7,621.0 279.3,620.5 278.8,619.9 278.5,619.4 278.1,618.8 277.8,618.3 277.6,617.7 277.5,617.2 277.5,616.6 277.5,616.1 277.7,615.5 277.9,615.0 278.2,614.4 278.6,613.9 279.0,613.3 279.5,612.8 280.0,612.2 280.5,611.7 281.0,611.1 281.5,610.6 281.9,610.0 282.4,609.5 282.8,608.9 283.1,608.4 283.5,607.8 283.9,607.3 284.3,606.7 284.7,606.2 285.0,605.6 285.4,605.1 285.8,604.5 286.2,604.0 286.5,603.4ZM318.5,597.9 318.6,598.5 318.8,599.0 318.9,599.6 319.1,600.1 319.2,600.7 319.4,601.3 319.5,601.8 319.7,602.4 319.8,602.9 320.0,603.5 320.1,604.0 320.3,604.6 320.4,605.2 320.6,605.7 320.7,606.3 320.9,606.8 321.0,607.4 321.2,608.0 321.3,608.5 321.5,609.1 321.6,609.6 321.8,610.2 321.9,610.7 322.1,611.3 322.3,611.9 322.5,612.4 322.7,613.0 322.9,613.5 323.1,614.1 323.3,614.7 323.6,615.2 324.0,615.8 324.4,616.3 324.9,616.9 325.4,617.5 325.9,618.0 326.4,618.6 326.9,619.1 327.3,619.7 327.7,620.2 328.0,620.8 328.2,621.4 328.3,621.9 328.3,622.5 328.2,623.0 327.9,623.6 327.5,624.2 327.1,624.7 326.6,625.3 326.0,625.8 325.5,626.4 324.9,626.9 324.3,627.5 323.8,628.1 323.4,628.6 323.0,629.2 322.7,629.7 322.3,630.3 322.0,630.9 321.6,631.4 321.3,632.0 321.0,632.5 320.7,633.1 320.4,633.6 320.0,634.2 319.7,634.8 319.4,635.3 319.1,635.9 318.8,636.4 318.5,637.0 316.5,637.0 316.2,636.4 315.9,635.9 315.6,635.3 315.3,634.8 315.0,634.2 314.6,633.6 314.3,633.1 314.0,632.5 313.7,632.0 313.4,631.4 313.0,630.9 312.7,630.3 312.3,629.7 312.0,629.2 311.6,628.6 311.2,628.1 310.7,627.5 310.1,626.9 309.5,626.4 309.0,625.8 308.4,625.3 307.9,624.7 307.5,624.2 307.1,623.6 306.8,623.0 306.7,622.5 306.7,621.9 306.8,621.4 307.0,620.8 307.3,620.2 307.7,619.7 308.1,619.1 308.6,618.6 309.1,618.0 309.6,617.5 310.1,616.9 310.6,616.3 311.0,615.8 311.4,615.2 311.7,614.7 311.9,614.1 312.1,613.5 312.3,613.0 312.5,612.4 312.7,611.9 312.9,611.3 313.1,610.7 313.2,610.2 313.4,609.6 313.5,609.1 313.7,608.5 313.8,608.0 314.0,607.4 314.1,606.8 314.3,606.3 314.4,605.7 314.6,605.2 314.7,604.6 314.9,604.0 315.0,603.5 315.2,602.9 315.3,602.4 315.5,601.8 315.6,601.3 315.8,600.7 315.9,600.1 316.1,599.6 316.2,599.0 316.4,598.5 316.5,597.9Z" fill="none" stroke="#ADD8E6" stroke-width="1.9" stroke-linejoin="round"/><path d="M77.5,643.6 L107.5,674.9 L137.5,676.9 L167.5,626.8 L197.5,613.4 L227.5,621.1 L257.5,611.1 L287.5,603.4 L317.5,597.9" fill="none" stroke="#bababa" stroke-width="1.7" stroke-dasharray="6.4,6.05"/><path d="M77.5,723.9 L107.5,739.2 L137.5,740.3 L167.5,723.9 L197.5,683.9 L227.5,659.6 L257.5,649.7 L287.5,642.0 L317.5,637.0" fill="none" stroke="#bababa" stroke-width="1.7" stroke-dasharray="6.4,6.05"/><path d="M70.0 698.6h15M100.0 711.0h15M130.0 701.8h15M160.0 670.8h15M190.0 652.4h15M220.0 640.0h15M250.0 623.3h15M280.0 619.5h15M310.0 621.0h15" stroke="#000080" stroke-width="3.8"/><rect x="59.7" y="587.8" width="275.6" height="171.5999999999999" fill="none" stroke="#555" stroke-width="1"/><line x1="52.900000000000006" y1="723.0" x2="59.7" y2="723.0" stroke="#000" stroke-width="1.5"/><text x="49.2" y="727.7" font-size="14.5" text-anchor="end">-6</text><line x1="52.900000000000006" y1="680.5" x2="59.7" y2="680.5" stroke="#000" stroke-width="1.5"/><text x="49.2" y="685.2" font-size="14.5" text-anchor="end">-3</text><line x1="52.900000000000006" y1="637.8" x2="59.7" y2="637.8" stroke="#000" stroke-width="1.5"/><text x="49.2" y="642.5" font-size="14.5" text-anchor="end">0</text><line x1="52.900000000000006" y1="595.0" x2="59.7" y2="595.0" stroke="#000" stroke-width="1.5"/><text x="49.2" y="599.7" font-size="14.5" text-anchor="end">3</text><line x1="77.5" y1="759.3999999999999" x2="77.5" y2="765.6999999999998" stroke="#000" stroke-width="1.5"/><line x1="107.5" y1="759.3999999999999" x2="107.5" y2="765.6999999999998" stroke="#000" stroke-width="1.5"/><line x1="137.5" y1="759.3999999999999" x2="137.5" y2="765.6999999999998" stroke="#000" stroke-width="1.5"/><line x1="167.5" y1="759.3999999999999" x2="167.5" y2="765.6999999999998" stroke="#000" stroke-width="1.5"/><line x1="197.5" y1="759.3999999999999" x2="197.5" y2="765.6999999999998" stroke="#000" stroke-width="1.5"/><line x1="227.5" y1="759.3999999999999" x2="227.5" y2="765.6999999999998" stroke="#000" stroke-width="1.5"/><line x1="257.5" y1="759.3999999999999" x2="257.5" y2="765.6999999999998" stroke="#000" stroke-width="1.5"/><line x1="287.5" y1="759.3999999999999" x2="287.5" y2="765.6999999999998" stroke="#000" stroke-width="1.5"/><line x1="317.5" y1="759.3999999999999" x2="317.5" y2="765.6999999999998" stroke="#000" stroke-width="1.5"/><text x="317.5" y="743.4" font-size="17" font-weight="bold" text-anchor="middle">d</text><text transform="translate(11.2,673.5999999999999) rotate(-90)" font-size="14.5" text-anchor="middle">GMST (°C)</text><path d="M77.6 866.2h0M77.1 928.1h0M77.8 911.9h0M78.7 916.4h0M81.0 899.7h0M78.1 877.8h0M81.0 915.0h0M76.2 893.0h0M78.3 898.7h0M78.1 905.0h0M77.1 901.6h0M77.2 882.7h0M75.6 901.5h0M81.0 911.5h0M74.4 918.9h0M79.7 901.6h0M77.4 879.9h0M76.4 891.1h0M76.1 880.7h0M80.7 918.4h0M76.3 915.8h0M78.1 905.3h0M76.9 900.9h0M78.7 912.6h0M77.9 893.1h0M77.7 901.0h0M74.7 885.4h0M74.1 899.3h0M78.6 917.1h0M73.9 917.8h0M77.6 901.0h0M75.9 880.4h0M79.2 904.3h0M76.2 915.1h0M74.3 914.5h0M75.0 903.3h0M76.3 880.3h0M78.5 906.4h0M79.0 917.9h0M79.9 883.4h0M80.8 874.9h0M77.9 892.7h0M74.2 868.0h0M78.7 909.7h0M76.5 923.9h0M78.3 887.9h0M75.2 918.2h0M76.8 902.5h0M75.7 900.7h0M78.8 901.4h0M80.7 916.6h0M76.5 914.3h0M77.5 908.9h0M78.5 921.1h0M79.4 913.2h0M76.5 874.1h0M75.8 904.1h0M78.6 905.7h0M76.1 909.7h0M77.5 926.0h0M78.4 898.0h0M77.9 913.2h0M80.9 902.3h0M76.4 907.7h0M75.4 918.7h0M76.8 924.8h0M80.4 890.9h0M80.1 926.5h0M74.3 917.3h0M75.1 894.3h0M75.6 913.1h0M79.5 907.6h0M78.9 888.4h0M75.1 912.3h0M79.6 890.6h0M80.1 913.9h0M79.8 908.6h0M76.4 922.4h0M79.8 897.8h0M75.8 919.2h0M80.6 917.2h0M74.9 915.1h0M76.7 904.3h0M76.1 911.6h0M79.8 919.9h0M79.4 925.2h0M77.7 870.3h0M77.8 883.7h0M76.0 896.3h0M78.1 911.3h0M74.2 892.4h0M79.1 910.1h0M80.8 891.8h0M77.2 881.6h0M77.2 885.6h0M78.1 904.9h0M76.6 911.8h0M80.6 904.3h0M75.4 895.8h0M77.4 885.4h0M105.6 845.7h0M106.7 928.1h0M109.4 902.7h0M107.9 871.0h0M104.7 902.5h0M106.5 913.6h0M104.1 909.9h0M107.2 867.1h0M105.6 901.3h0M106.1 907.7h0M106.3 903.0h0M110.1 921.1h0M104.5 913.3h0M104.5 896.9h0M104.8 910.7h0M107.0 863.2h0M107.0 898.0h0M110.6 920.7h0M109.1 886.8h0M105.8 905.1h0M104.8 894.2h0M107.8 904.5h0M109.9 901.6h0M105.5 872.5h0M109.4 891.6h0M106.5 920.9h0M110.8 882.6h0M110.8 877.6h0M105.2 911.5h0M109.7 898.4h0M108.2 880.1h0M106.7 889.8h0M107.6 858.8h0M110.4 919.6h0M107.4 897.9h0M108.0 899.6h0M107.5 915.4h0M104.1 899.9h0M109.4 904.2h0M104.7 909.7h0M110.4 907.9h0M104.0 897.4h0M108.0 889.0h0M105.7 897.1h0M108.8 902.2h0M108.4 897.9h0M109.3 891.2h0M109.8 922.0h0M111.0 907.6h0M104.7 882.0h0M105.6 897.0h0M107.4 898.7h0M110.6 906.6h0M106.8 895.0h0M105.4 901.8h0M107.7 910.4h0M106.2 893.4h0M104.5 921.3h0M109.7 898.3h0M107.2 906.7h0M110.0 918.3h0M104.7 869.4h0M106.3 913.8h0M104.7 891.9h0M110.0 875.9h0M107.1 877.8h0M108.3 907.0h0M104.3 884.8h0M107.1 901.6h0M106.7 909.7h0M109.0 892.8h0M105.6 913.6h0M111.0 891.9h0M106.3 889.1h0M107.6 883.6h0M107.3 906.8h0M106.4 907.0h0M104.3 907.3h0M104.2 912.9h0M110.5 911.1h0M111.0 883.8h0M108.3 889.5h0M104.9 879.0h0M105.3 916.5h0M106.2 923.5h0M104.1 918.0h0M106.4 881.3h0M105.9 903.8h0M106.2 881.1h0M109.9 908.2h0M107.9 909.3h0M111.1 907.8h0M106.1 914.2h0M104.4 901.5h0M109.4 871.3h0M109.1 887.8h0M109.8 900.0h0M106.6 912.4h0M109.8 927.3h0M104.6 913.4h0M134.8 868.8h0M136.1 938.3h0M136.8 919.0h0M140.8 908.1h0M136.3 901.0h0M140.3 901.8h0M134.0 907.5h0M137.3 920.6h0M135.0 924.1h0M134.3 916.2h0M136.0 907.2h0M138.9 918.4h0M138.3 900.6h0M136.0 898.9h0M139.1 915.8h0M139.0 913.9h0M140.1 904.2h0M138.9 906.8h0M134.5 913.8h0M139.5 911.5h0M140.8 898.2h0M140.2 910.0h0M138.6 917.9h0M134.8 922.5h0M140.1 920.1h0M137.5 907.1h0M139.1 901.5h0M140.6 902.5h0M135.4 920.6h0M134.1 909.4h0M140.6 926.3h0M140.3 920.5h0M134.5 928.1h0M137.2 898.6h0M140.1 913.0h0M138.3 920.0h0M137.7 915.3h0M141.1 893.9h0M134.1 908.9h0M136.6 919.4h0M135.0 919.7h0M140.8 876.3h0M138.1 912.7h0M135.8 894.5h0M140.2 904.7h0M140.5 897.8h0M137.4 891.1h0M140.7 913.8h0M135.5 905.6h0M138.9 896.3h0M141.1 903.7h0M135.6 907.0h0M139.0 911.9h0M139.9 910.8h0M140.1 923.5h0M135.8 912.2h0M136.7 923.9h0M134.7 897.6h0M137.5 907.8h0M140.1 935.1h0M136.0 890.9h0M140.2 917.9h0M135.8 889.1h0M137.3 913.6h0M138.7 914.1h0M139.7 924.5h0M140.7 905.6h0M136.5 903.0h0M136.7 922.6h0M139.4 899.1h0M139.6 908.3h0M139.6 903.3h0M135.8 915.0h0M140.1 897.0h0M139.4 885.2h0M138.2 894.6h0M136.3 898.7h0M139.1 906.8h0M134.4 913.4h0M139.2 908.1h0M136.9 916.4h0M139.4 904.1h0M138.1 903.4h0M136.5 917.8h0M136.2 902.8h0M137.5 903.1h0M134.9 911.9h0M135.8 912.0h0M138.5 908.8h0M135.3 903.4h0M140.5 921.8h0M137.7 937.1h0M136.2 907.8h0M135.2 920.9h0M135.9 911.2h0M136.8 921.8h0M134.9 898.2h0M136.1 901.6h0M140.8 925.9h0M140.6 902.2h0M166.6 841.2h0M164.0 928.1h0M166.6 896.8h0M169.4 855.9h0M169.5 904.0h0M167.0 916.8h0M167.1 917.1h0M168.3 912.9h0M164.3 910.1h0M167.7 882.1h0M170.0 914.4h0M164.8 899.4h0M164.5 915.4h0M167.5 863.9h0M168.3 922.0h0M166.6 884.2h0M166.9 879.1h0M170.6 911.5h0M171.1 844.1h0M171.0 898.7h0M165.1 884.0h0M166.2 880.8h0M165.8 865.9h0M170.4 916.9h0M168.3 869.1h0M167.9 870.5h0M164.5 854.9h0M169.6 871.7h0M170.9 873.0h0M165.5 918.1h0M166.0 874.3h0M164.0 900.0h0M170.0 887.5h0M165.6 850.6h0M165.1 880.7h0M170.2 874.4h0M168.8 914.0h0M167.1 887.0h0M165.6 869.1h0M170.8 913.2h0M166.4 910.7h0M169.2 912.7h0M168.5 886.1h0M166.7 908.5h0M170.9 919.1h0M166.9 860.0h0M165.8 870.6h0M165.5 865.3h0M164.2 871.9h0M167.1 868.6h0M170.6 846.3h0M169.2 871.9h0M166.4 910.9h0M166.1 923.9h0M169.7 904.9h0M169.8 859.6h0M166.1 873.7h0M165.7 883.8h0M165.8 910.1h0M169.7 908.0h0M167.3 918.1h0M168.8 885.2h0M168.8 858.8h0M169.7 893.5h0M167.8 846.9h0M164.1 900.3h0M168.7 880.2h0M165.6 874.7h0M170.1 886.5h0M168.1 863.6h0M168.9 921.7h0M168.8 870.3h0M170.0 876.8h0M169.8 856.1h0M170.5 846.2h0M169.8 897.3h0M165.7 869.2h0M169.3 870.9h0M166.4 914.7h0M169.3 886.1h0M167.9 926.6h0M168.0 844.6h0M164.6 905.0h0M165.2 902.5h0M164.8 886.8h0M164.6 896.7h0M170.1 855.2h0M170.5 920.5h0M166.4 881.1h0M167.2 888.6h0M168.0 919.9h0M168.9 876.4h0M164.5 894.8h0M170.9 886.4h0M164.1 868.1h0M164.7 885.4h0M169.1 881.1h0M166.3 883.7h0M168.5 925.9h0M167.9 858.4h0M167.4 885.4h0M167.6 851.7h0M169.8 917.9h0M166.8 870.6h0M169.4 862.6h0M168.1 867.6h0M170.3 908.7h0M164.7 917.2h0M166.0 868.4h0M164.1 909.7h0M164.1 890.1h0M167.8 905.0h0M167.2 883.2h0M165.2 888.5h0M165.0 849.5h0M165.3 884.3h0M170.3 872.5h0M167.9 863.7h0M166.9 910.3h0M168.0 921.1h0M198.2 848.4h0M200.7 935.0h0M198.2 885.9h0M195.7 899.1h0M195.4 926.3h0M199.7 853.6h0M195.8 863.2h0M200.6 882.4h0M197.0 899.7h0M194.6 891.6h0M199.1 924.6h0M199.2 906.8h0M198.7 919.3h0M194.0 882.7h0M196.6 871.9h0M197.4 892.1h0M200.5 910.0h0M194.6 927.6h0M197.0 865.6h0M196.4 888.1h0M198.4 900.0h0M197.2 894.0h0M196.2 884.9h0M197.4 925.9h0M197.8 866.6h0M194.2 878.9h0M196.2 874.6h0M195.7 890.1h0M195.9 879.2h0M196.5 855.7h0M195.9 919.3h0M196.5 880.3h0M198.8 866.6h0M195.6 869.2h0M200.8 925.8h0M194.5 926.1h0M196.0 855.2h0M199.1 884.6h0M198.6 926.9h0M196.1 914.1h0M195.9 906.3h0M199.0 852.9h0M196.6 871.7h0M199.7 879.0h0M200.4 875.6h0M195.0 872.6h0M198.8 872.7h0M195.6 923.9h0M198.0 874.0h0M200.3 866.7h0M198.5 872.6h0M200.2 914.8h0M196.3 910.9h0M195.9 883.6h0M197.8 919.4h0M196.5 918.9h0M197.7 858.0h0M195.7 917.2h0M195.4 884.8h0M198.3 863.0h0M194.7 891.0h0M195.6 923.7h0M194.5 896.5h0M198.9 901.5h0M195.0 885.7h0M195.9 868.5h0M200.1 870.2h0M197.7 917.9h0M197.3 881.8h0M196.3 912.4h0M197.6 862.7h0M199.5 887.4h0M196.5 865.4h0M194.9 863.1h0M195.2 880.3h0M198.9 863.3h0M197.3 880.4h0M200.6 911.5h0M195.5 868.6h0M199.0 891.1h0M196.7 916.5h0M195.9 849.8h0M199.1 903.0h0M196.2 882.2h0M195.5 887.5h0M197.1 875.6h0M197.0 857.8h0M194.5 863.0h0M201.0 919.2h0M196.8 918.1h0M196.5 868.0h0M194.8 866.8h0M195.0 873.3h0M195.2 874.4h0M194.4 919.9h0M197.8 887.7h0M198.6 917.0h0M200.0 869.5h0M195.8 886.3h0M199.7 854.4h0M199.3 887.1h0M194.3 873.4h0M195.3 909.6h0M195.4 863.8h0M200.2 871.7h0M199.3 905.9h0M194.4 855.1h0M195.6 919.7h0M195.1 874.5h0M198.4 875.8h0M197.0 888.4h0M200.7 895.4h0M199.9 898.2h0M196.0 882.3h0M195.9 916.5h0M197.5 878.4h0M196.8 855.2h0M199.6 888.8h0M195.3 919.7h0M200.1 917.7h0M226.1 856.8h0M230.4 920.7h0M230.8 894.4h0M229.0 918.6h0M226.9 885.1h0M226.4 910.1h0M225.2 885.7h0M230.2 906.7h0M230.6 906.3h0M229.0 881.9h0M230.5 876.4h0M226.3 893.5h0M224.5 899.1h0M227.4 861.3h0M231.1 891.6h0M228.2 869.8h0M229.9 880.8h0M228.6 865.4h0M226.9 883.8h0M227.4 918.4h0M225.6 914.4h0M226.7 875.8h0M230.8 892.1h0M230.5 902.2h0M228.3 909.2h0M229.0 904.0h0M226.2 887.6h0M228.5 887.9h0M230.4 890.7h0M224.4 861.7h0M230.9 867.4h0M225.1 919.1h0M224.2 875.1h0M224.1 895.5h0M226.8 873.1h0M229.2 885.7h0M225.6 880.1h0M230.7 858.9h0M229.4 918.6h0M224.9 879.2h0M229.5 876.6h0M225.4 912.4h0M229.0 898.2h0M224.3 864.9h0M229.7 905.8h0M226.4 899.2h0M228.9 893.4h0M224.4 869.2h0M227.5 884.7h0M226.7 871.1h0M225.0 909.6h0M226.9 863.7h0M230.9 908.5h0M224.2 901.3h0M230.8 902.4h0M226.4 879.8h0M229.7 873.9h0M229.8 863.9h0M228.1 900.7h0M228.3 880.7h0M230.9 897.3h0M227.1 905.3h0M229.7 911.9h0M227.4 905.4h0M226.2 891.8h0M231.1 910.7h0M224.9 892.2h0M230.8 874.9h0M229.3 903.7h0M225.2 878.6h0M230.3 890.7h0M224.2 882.5h0M229.1 879.1h0M230.8 896.8h0M229.4 868.2h0M230.5 869.4h0M228.9 905.7h0M229.2 866.5h0M230.4 900.3h0M230.6 884.6h0M226.5 872.6h0M225.2 890.7h0M226.6 871.8h0M224.7 868.8h0M230.4 893.5h0M227.0 879.8h0M230.9 905.9h0M224.7 878.8h0M227.2 873.7h0M228.2 915.3h0M226.6 906.9h0M229.0 919.4h0M225.8 868.0h0M224.1 878.8h0M230.3 911.6h0M227.8 871.2h0M226.2 871.8h0M229.6 870.7h0M224.6 898.6h0M226.1 876.0h0M256.5 847.9h0M258.4 917.4h0M256.5 888.6h0M256.3 891.4h0M256.5 873.9h0M260.0 885.3h0M260.9 879.2h0M259.4 886.7h0M259.4 893.6h0M256.6 887.4h0M259.1 888.9h0M258.7 876.2h0M261.0 848.1h0M255.6 884.4h0M253.9 864.3h0M257.6 875.8h0M259.0 891.5h0M256.2 885.1h0M260.9 885.1h0M255.3 892.4h0M258.5 882.3h0M260.0 885.3h0M261.0 863.3h0M256.7 859.6h0M259.2 916.2h0M254.9 886.6h0M257.5 905.2h0M254.9 901.2h0M259.5 881.4h0M257.7 854.3h0M254.3 885.5h0M260.9 893.9h0M257.5 892.2h0M260.0 906.0h0M260.5 882.7h0M258.1 890.3h0M257.1 885.3h0M258.8 907.4h0M257.5 902.1h0M255.2 909.8h0M253.9 896.3h0M259.4 894.7h0M260.5 866.7h0M259.0 889.1h0M257.7 876.3h0M259.9 891.4h0M256.3 885.4h0M255.9 895.4h0M259.6 870.1h0M260.3 882.9h0M257.9 878.1h0M257.7 885.6h0M258.3 888.2h0M256.7 884.7h0M257.0 872.3h0M288.0 790.6h0M285.1 908.6h0M287.5 885.5h0M289.4 873.4h0M284.6 871.7h0M290.6 843.2h0M289.3 894.7h0M286.5 802.7h0M284.6 884.1h0M288.8 853.8h0M287.0 872.4h0M291.1 822.8h0M287.3 853.7h0M288.3 899.6h0M286.3 863.5h0M285.0 804.0h0M286.8 821.5h0M285.5 800.7h0M287.5 851.6h0M285.7 864.0h0M289.1 836.7h0M290.1 826.9h0M288.8 857.0h0M285.9 816.2h0M284.3 901.6h0M289.3 851.8h0M286.8 878.0h0M290.9 854.6h0M284.8 829.0h0M288.3 886.2h0M290.1 845.2h0M286.1 799.9h0M286.7 885.8h0M285.8 857.9h0M284.0 832.6h0M290.8 906.0h0M286.8 821.9h0M289.8 872.0h0M283.9 806.7h0M290.4 846.2h0M316.2 811.6h0M318.0 904.1h0M319.5 856.8h0M320.7 839.8h0M318.0 854.2h0M320.3 842.3h0M320.3 814.3h0M320.9 825.1h0M315.4 888.7h0M317.2 863.5h0M318.3 844.9h0M318.3 834.8h0M314.6 860.9h0M318.0 816.5h0M320.5 837.7h0M317.8 840.4h0M315.2 857.5h0M316.1 844.7h0M320.4 864.6h0M316.9 880.1h0M314.5 822.8h0M316.0 870.7h0M318.0 895.5h0M315.1 867.0h0M317.4 836.5h0M317.4 845.4h0M318.7 901.1h0M315.9 859.2h0M315.3 888.2h0M317.3 890.4h0M315.2 859.1h0M317.9 866.7h0M316.7 879.5h0M320.0 847.7h0M315.2 853.7h0M317.7 814.3h0M315.9 876.2h0M314.9 885.6h0M314.9 893.4h0M317.9 883.0h0" stroke="#ADD8E6" stroke-width="6.3" stroke-linecap="round" fill="none"/><path d="M78.5,866.2 78.6,867.1 78.7,868.0 78.8,868.9 78.9,869.7 79.1,870.6 79.2,871.5 79.3,872.4 79.4,873.3 79.5,874.2 79.7,875.0 79.8,875.9 79.9,876.8 80.0,877.7 80.2,878.6 80.3,879.5 80.4,880.3 80.5,881.2 80.7,882.1 80.8,883.0 80.9,883.9 81.0,884.8 81.2,885.7 81.3,886.5 81.4,887.4 81.5,888.3 81.7,889.2 81.8,890.1 81.9,891.0 82.1,891.8 82.2,892.7 82.4,893.6 82.5,894.5 82.7,895.4 82.9,896.3 83.1,897.2 83.2,898.0 83.5,898.9 83.8,899.8 84.1,900.7 84.4,901.6 84.8,902.5 85.2,903.3 85.6,904.2 86.0,905.1 86.3,906.0 86.6,906.9 86.9,907.8 87.1,908.6 87.3,909.5 87.3,910.4 87.3,911.3 87.3,912.2 87.1,913.1 87.0,914.0 86.8,914.8 86.5,915.7 86.2,916.6 85.9,917.5 85.5,918.4 85.1,919.3 84.7,920.1 84.3,921.0 83.8,921.9 83.3,922.8 82.8,923.7 82.1,924.6 81.2,925.4 80.3,926.3 79.3,927.2 78.5,928.1 76.5,928.1 75.7,927.2 74.7,926.3 73.8,925.4 72.9,924.6 72.2,923.7 71.7,922.8 71.2,921.9 70.7,921.0 70.3,920.1 69.9,919.3 69.5,918.4 69.1,917.5 68.8,916.6 68.5,915.7 68.2,914.8 68.0,914.0 67.9,913.1 67.7,912.2 67.7,911.3 67.7,910.4 67.7,909.5 67.9,908.6 68.1,907.8 68.4,906.9 68.7,906.0 69.0,905.1 69.4,904.2 69.8,903.3 70.2,902.5 70.6,901.6 70.9,900.7 71.2,899.8 71.5,898.9 71.8,898.0 71.9,897.2 72.1,896.3 72.3,895.4 72.5,894.5 72.6,893.6 72.8,892.7 72.9,891.8 73.1,891.0 73.2,890.1 73.3,889.2 73.5,888.3 73.6,887.4 73.7,886.5 73.8,885.7 74.0,884.8 74.1,883.9 74.2,883.0 74.3,882.1 74.5,881.2 74.6,880.3 74.7,879.5 74.8,878.6 75.0,877.7 75.1,876.8 75.2,875.9 75.3,875.0 75.5,874.2 75.6,873.3 75.7,872.4 75.8,871.5 75.9,870.6 76.1,869.7 76.2,868.9 76.3,868.0 76.4,867.1 76.5,866.2ZM107.9,845.7 107.9,846.9 107.9,848.1 107.9,849.2 107.9,850.4 107.9,851.6 107.9,852.8 107.9,853.9 107.9,855.1 107.9,856.3 108.0,857.5 108.0,858.6 108.0,859.8 108.0,861.0 108.1,862.2 108.2,863.4 108.3,864.5 108.4,865.7 108.5,866.9 108.7,868.1 108.8,869.2 109.0,870.4 109.3,871.6 109.6,872.8 109.8,874.0 110.1,875.1 110.4,876.3 110.7,877.5 111.0,878.7 111.3,879.8 111.6,881.0 111.8,882.2 112.0,883.4 112.3,884.5 112.5,885.7 112.7,886.9 112.9,888.1 113.2,889.3 113.4,890.4 113.6,891.6 113.9,892.8 114.2,894.0 114.5,895.1 114.8,896.3 115.2,897.5 115.8,898.7 116.4,899.8 117.0,901.0 117.6,902.2 118.1,903.4 118.5,904.6 118.8,905.7 118.8,906.9 118.7,908.1 118.3,909.3 117.9,910.4 117.3,911.6 116.6,912.8 115.9,914.0 115.2,915.2 114.6,916.3 114.0,917.5 113.4,918.7 112.8,919.9 112.2,921.0 111.6,922.2 111.0,923.4 110.3,924.6 109.7,925.7 109.1,926.9 108.5,928.1 106.5,928.1 105.9,926.9 105.3,925.7 104.7,924.6 104.0,923.4 103.4,922.2 102.8,921.0 102.2,919.9 101.6,918.7 101.0,917.5 100.4,916.3 99.8,915.2 99.1,914.0 98.4,912.8 97.7,911.6 97.1,910.4 96.7,909.3 96.3,908.1 96.2,906.9 96.2,905.7 96.5,904.6 96.9,903.4 97.4,902.2 98.0,901.0 98.6,899.8 99.2,898.7 99.8,897.5 100.2,896.3 100.5,895.1 100.8,894.0 101.1,892.8 101.4,891.6 101.6,890.4 101.8,889.3 102.1,888.1 102.3,886.9 102.5,885.7 102.7,884.5 103.0,883.4 103.2,882.2 103.4,881.0 103.7,879.8 104.0,878.7 104.3,877.5 104.6,876.3 104.9,875.1 105.2,874.0 105.4,872.8 105.7,871.6 106.0,870.4 106.2,869.2 106.3,868.1 106.5,866.9 106.6,865.7 106.7,864.5 106.8,863.4 106.9,862.2 107.0,861.0 107.0,859.8 107.0,858.6 107.0,857.5 107.1,856.3 107.1,855.1 107.1,853.9 107.1,852.8 107.1,851.6 107.1,850.4 107.1,849.2 107.1,848.1 107.1,846.9 107.1,845.7ZM137.9,868.8 137.9,869.8 137.9,870.8 137.9,871.8 137.9,872.8 137.9,873.8 137.9,874.8 137.9,875.8 137.9,876.7 138.0,877.7 138.0,878.7 138.0,879.7 138.0,880.7 138.1,881.7 138.1,882.7 138.3,883.7 138.4,884.7 138.5,885.7 138.7,886.7 138.9,887.7 139.1,888.7 139.5,889.6 139.9,890.6 140.4,891.6 141.0,892.6 141.7,893.6 142.3,894.6 142.9,895.6 143.5,896.6 144.1,897.6 144.5,898.6 145.0,899.6 145.6,900.6 146.1,901.6 146.7,902.6 147.2,903.5 147.7,904.5 148.2,905.5 148.7,906.5 149.1,907.5 149.5,908.5 149.8,909.5 150.1,910.5 150.3,911.5 150.3,912.5 150.3,913.5 150.1,914.5 149.8,915.5 149.3,916.5 148.7,917.4 148.1,918.4 147.3,919.4 146.6,920.4 145.8,921.4 145.1,922.4 144.3,923.4 143.7,924.4 143.1,925.4 142.4,926.4 141.6,927.4 140.9,928.4 140.2,929.4 139.6,930.4 139.1,931.3 138.9,932.3 138.7,933.3 138.5,934.3 138.4,935.3 138.3,936.3 138.2,937.3 138.1,938.3 136.9,938.3 136.8,937.3 136.7,936.3 136.6,935.3 136.5,934.3 136.3,933.3 136.1,932.3 135.9,931.3 135.4,930.4 134.8,929.4 134.1,928.4 133.4,927.4 132.6,926.4 131.9,925.4 131.3,924.4 130.7,923.4 129.9,922.4 129.2,921.4 128.4,920.4 127.7,919.4 126.9,918.4 126.3,917.4 125.7,916.5 125.2,915.5 124.9,914.5 124.7,913.5 124.7,912.5 124.7,911.5 124.9,910.5 125.2,909.5 125.5,908.5 125.9,907.5 126.3,906.5 126.8,905.5 127.3,904.5 127.8,903.5 128.3,902.6 128.9,901.6 129.4,900.6 130.0,899.6 130.5,898.6 130.9,897.6 131.5,896.6 132.1,895.6 132.7,894.6 133.3,893.6 134.0,892.6 134.6,891.6 135.1,890.6 135.5,889.6 135.9,888.7 136.1,887.7 136.3,886.7 136.5,885.7 136.6,884.7 136.7,883.7 136.9,882.7 136.9,881.7 137.0,880.7 137.0,879.7 137.0,878.7 137.0,877.7 137.1,876.7 137.1,875.8 137.1,874.8 137.1,873.8 137.1,872.8 137.1,871.8 137.1,870.8 137.1,869.8 137.1,868.8ZM168.2,841.2 168.5,842.4 168.8,843.7 169.2,844.9 169.5,846.2 169.8,847.4 170.0,848.6 170.2,849.9 170.3,851.1 170.4,852.4 170.4,853.6 170.5,854.9 170.6,856.1 170.7,857.3 170.7,858.6 170.8,859.8 170.9,861.1 170.9,862.3 171.0,863.5 171.0,864.8 171.1,866.0 171.1,867.3 171.2,868.5 171.2,869.8 171.3,871.0 171.3,872.2 171.3,873.5 171.4,874.7 171.4,876.0 171.4,877.2 171.5,878.4 171.5,879.7 171.5,880.9 171.5,882.2 171.5,883.4 171.5,884.7 171.5,885.9 171.5,887.1 171.5,888.4 171.5,889.6 171.5,890.9 171.5,892.1 171.5,893.3 171.5,894.6 171.5,895.8 171.5,897.1 171.5,898.3 171.4,899.5 171.4,900.8 171.4,902.0 171.3,903.3 171.3,904.5 171.3,905.8 171.2,907.0 171.2,908.2 171.1,909.5 171.1,910.7 171.0,912.0 171.0,913.2 170.9,914.4 170.8,915.7 170.7,916.9 170.5,918.2 170.3,919.4 170.0,920.7 169.7,921.9 169.4,923.1 169.1,924.4 168.7,925.6 168.4,926.9 168.2,928.1 166.8,928.1 166.6,926.9 166.3,925.6 165.9,924.4 165.6,923.1 165.3,921.9 165.0,920.7 164.7,919.4 164.5,918.2 164.3,916.9 164.2,915.7 164.1,914.4 164.0,913.2 164.0,912.0 163.9,910.7 163.9,909.5 163.8,908.2 163.8,907.0 163.7,905.8 163.7,904.5 163.7,903.3 163.6,902.0 163.6,900.8 163.6,899.5 163.5,898.3 163.5,897.1 163.5,895.8 163.5,894.6 163.5,893.3 163.5,892.1 163.5,890.9 163.5,889.6 163.5,888.4 163.5,887.1 163.5,885.9 163.5,884.7 163.5,883.4 163.5,882.2 163.5,880.9 163.5,879.7 163.5,878.4 163.6,877.2 163.6,876.0 163.6,874.7 163.7,873.5 163.7,872.2 163.7,871.0 163.8,869.8 163.8,868.5 163.9,867.3 163.9,866.0 164.0,864.8 164.0,863.5 164.1,862.3 164.1,861.1 164.2,859.8 164.3,858.6 164.3,857.3 164.4,856.1 164.5,854.9 164.6,853.6 164.6,852.4 164.7,851.1 164.8,849.9 165.0,848.6 165.2,847.4 165.5,846.2 165.8,844.9 166.2,843.7 166.5,842.4 166.8,841.2ZM198.2,848.4 198.5,849.6 198.8,850.9 199.2,852.1 199.6,853.3 199.9,854.6 200.2,855.8 200.5,857.1 200.7,858.3 200.8,859.5 200.9,860.8 201.0,862.0 201.0,863.2 201.1,864.5 201.1,865.7 201.1,867.0 201.2,868.2 201.2,869.4 201.3,870.7 201.3,871.9 201.3,873.1 201.4,874.4 201.4,875.6 201.4,876.9 201.4,878.1 201.5,879.3 201.5,880.6 201.5,881.8 201.5,883.0 201.5,884.3 201.5,885.5 201.5,886.8 201.5,888.0 201.5,889.2 201.5,890.5 201.5,891.7 201.5,892.9 201.5,894.2 201.5,895.4 201.5,896.6 201.5,897.9 201.5,899.1 201.5,900.4 201.5,901.6 201.4,902.8 201.4,904.1 201.4,905.3 201.4,906.5 201.3,907.8 201.3,909.0 201.3,910.3 201.2,911.5 201.2,912.7 201.1,914.0 201.1,915.2 201.0,916.4 201.0,917.7 200.9,918.9 200.9,920.2 200.8,921.4 200.6,922.6 200.5,923.9 200.3,925.1 200.0,926.3 199.8,927.6 199.5,928.8 199.2,930.1 198.9,931.3 198.7,932.5 198.4,933.8 198.2,935.0 196.8,935.0 196.6,933.8 196.3,932.5 196.1,931.3 195.8,930.1 195.5,928.8 195.2,927.6 195.0,926.3 194.7,925.1 194.5,923.9 194.4,922.6 194.2,921.4 194.1,920.2 194.1,918.9 194.0,917.7 194.0,916.4 193.9,915.2 193.9,914.0 193.8,912.7 193.8,911.5 193.7,910.3 193.7,909.0 193.7,907.8 193.6,906.5 193.6,905.3 193.6,904.1 193.6,902.8 193.5,901.6 193.5,900.4 193.5,899.1 193.5,897.9 193.5,896.6 193.5,895.4 193.5,894.2 193.5,892.9 193.5,891.7 193.5,890.5 193.5,889.2 193.5,888.0 193.5,886.8 193.5,885.5 193.5,884.3 193.5,883.0 193.5,881.8 193.5,880.6 193.5,879.3 193.6,878.1 193.6,876.9 193.6,875.6 193.6,874.4 193.7,873.1 193.7,871.9 193.7,870.7 193.8,869.4 193.8,868.2 193.9,867.0 193.9,865.7 193.9,864.5 194.0,863.2 194.0,862.0 194.1,860.8 194.2,859.5 194.3,858.3 194.5,857.1 194.8,855.8 195.1,854.6 195.4,853.3 195.8,852.1 196.2,850.9 196.5,849.6 196.8,848.4ZM228.8,856.8 229.1,857.7 229.4,858.6 229.6,859.5 229.9,860.5 230.2,861.4 230.4,862.3 230.6,863.2 230.8,864.1 230.9,865.0 230.9,865.9 231.0,866.8 231.1,867.8 231.1,868.7 231.2,869.6 231.2,870.5 231.3,871.4 231.3,872.3 231.3,873.2 231.4,874.1 231.4,875.1 231.4,876.0 231.5,876.9 231.5,877.8 231.5,878.7 231.5,879.6 231.5,880.5 231.5,881.4 231.5,882.4 231.5,883.3 231.5,884.2 231.5,885.1 231.5,886.0 231.5,886.9 231.5,887.8 231.5,888.8 231.5,889.7 231.5,890.6 231.5,891.5 231.5,892.4 231.5,893.3 231.4,894.2 231.4,895.1 231.4,896.1 231.4,897.0 231.3,897.9 231.3,898.8 231.3,899.7 231.3,900.6 231.2,901.5 231.2,902.4 231.2,903.4 231.1,904.3 231.1,905.2 231.1,906.1 231.0,907.0 231.0,907.9 230.9,908.8 230.9,909.7 230.8,910.7 230.7,911.6 230.6,912.5 230.5,913.4 230.3,914.3 230.1,915.2 229.9,916.1 229.7,917.0 229.4,918.0 229.2,918.9 229.0,919.8 228.8,920.7 226.2,920.7 226.0,919.8 225.8,918.9 225.6,918.0 225.3,917.0 225.1,916.1 224.9,915.2 224.7,914.3 224.5,913.4 224.4,912.5 224.3,911.6 224.2,910.7 224.1,909.7 224.1,908.8 224.0,907.9 224.0,907.0 223.9,906.1 223.9,905.2 223.9,904.3 223.8,903.4 223.8,902.4 223.8,901.5 223.7,900.6 223.7,899.7 223.7,898.8 223.7,897.9 223.6,897.0 223.6,896.1 223.6,895.1 223.6,894.2 223.5,893.3 223.5,892.4 223.5,891.5 223.5,890.6 223.5,889.7 223.5,888.8 223.5,887.8 223.5,886.9 223.5,886.0 223.5,885.1 223.5,884.2 223.5,883.3 223.5,882.4 223.5,881.4 223.5,880.5 223.5,879.6 223.5,878.7 223.5,877.8 223.5,876.9 223.6,876.0 223.6,875.1 223.6,874.1 223.7,873.2 223.7,872.3 223.7,871.4 223.8,870.5 223.8,869.6 223.9,868.7 223.9,867.8 224.0,866.8 224.1,865.9 224.1,865.0 224.2,864.1 224.4,863.2 224.6,862.3 224.8,861.4 225.1,860.5 225.4,859.5 225.6,858.6 225.9,857.7 226.2,856.8ZM258.4,847.9 258.6,848.9 258.8,849.9 258.9,850.9 259.1,851.9 259.3,852.9 259.4,853.9 259.6,854.9 259.7,855.8 259.9,856.8 260.0,857.8 260.2,858.8 260.3,859.8 260.4,860.8 260.5,861.8 260.6,862.8 260.7,863.8 260.8,864.8 260.9,865.8 260.9,866.8 261.0,867.8 261.1,868.8 261.2,869.7 261.2,870.7 261.3,871.7 261.4,872.7 261.5,873.7 261.6,874.7 261.6,875.7 261.7,876.7 261.8,877.7 261.9,878.7 262.0,879.7 262.1,880.7 262.3,881.7 262.5,882.6 262.7,883.6 262.9,884.6 263.1,885.6 263.4,886.6 263.6,887.6 263.8,888.6 264.0,889.6 264.1,890.6 264.2,891.6 264.2,892.6 264.2,893.6 264.1,894.6 264.0,895.6 263.8,896.5 263.6,897.5 263.3,898.5 263.1,899.5 262.8,900.5 262.5,901.5 262.3,902.5 262.1,903.5 261.8,904.5 261.6,905.5 261.4,906.5 261.1,907.5 260.8,908.5 260.6,909.5 260.3,910.4 260.0,911.4 259.8,912.4 259.5,913.4 259.2,914.4 259.0,915.4 258.7,916.4 258.4,917.4 256.6,917.4 256.3,916.4 256.0,915.4 255.8,914.4 255.5,913.4 255.2,912.4 255.0,911.4 254.7,910.4 254.4,909.5 254.2,908.5 253.9,907.5 253.6,906.5 253.4,905.5 253.2,904.5 252.9,903.5 252.7,902.5 252.5,901.5 252.2,900.5 251.9,899.5 251.7,898.5 251.4,897.5 251.2,896.5 251.0,895.6 250.9,894.6 250.8,893.6 250.8,892.6 250.8,891.6 250.9,890.6 251.0,889.6 251.2,888.6 251.4,887.6 251.6,886.6 251.9,885.6 252.1,884.6 252.3,883.6 252.5,882.6 252.7,881.7 252.9,880.7 253.0,879.7 253.1,878.7 253.2,877.7 253.3,876.7 253.4,875.7 253.4,874.7 253.5,873.7 253.6,872.7 253.7,871.7 253.8,870.7 253.8,869.7 253.9,868.8 254.0,867.8 254.1,866.8 254.1,865.8 254.2,864.8 254.3,863.8 254.4,862.8 254.5,861.8 254.6,860.8 254.7,859.8 254.8,858.8 255.0,857.8 255.1,856.8 255.3,855.8 255.4,854.9 255.6,853.9 255.7,852.9 255.9,851.9 256.1,850.9 256.2,849.9 256.4,848.9 256.6,847.9ZM288.3,790.6 288.6,792.3 289.0,794.0 289.3,795.7 289.6,797.3 289.9,799.0 290.0,800.7 290.1,802.4 290.2,804.1 290.3,805.8 290.3,807.5 290.4,809.1 290.5,810.8 290.6,812.5 290.7,814.2 290.7,815.9 290.8,817.6 290.9,819.3 290.9,820.9 291.0,822.6 291.1,824.3 291.1,826.0 291.2,827.7 291.2,829.4 291.3,831.1 291.3,832.7 291.3,834.4 291.4,836.1 291.4,837.8 291.4,839.5 291.5,841.2 291.5,842.9 291.5,844.5 291.5,846.2 291.5,847.9 291.5,849.6 291.5,851.3 291.5,853.0 291.5,854.7 291.5,856.3 291.5,858.0 291.5,859.7 291.5,861.4 291.5,863.1 291.5,864.8 291.5,866.5 291.5,868.1 291.5,869.8 291.5,871.5 291.4,873.2 291.4,874.9 291.4,876.6 291.4,878.3 291.3,879.9 291.3,881.6 291.3,883.3 291.2,885.0 291.2,886.7 291.1,888.4 291.1,890.1 291.0,891.7 291.0,893.4 290.9,895.1 290.9,896.8 290.8,898.5 290.7,900.2 290.5,901.9 290.0,903.5 289.5,905.2 288.9,906.9 288.3,908.6 286.7,908.6 286.1,906.9 285.5,905.2 285.0,903.5 284.5,901.9 284.3,900.2 284.2,898.5 284.1,896.8 284.1,895.1 284.0,893.4 284.0,891.7 283.9,890.1 283.9,888.4 283.8,886.7 283.8,885.0 283.7,883.3 283.7,881.6 283.7,879.9 283.6,878.3 283.6,876.6 283.6,874.9 283.6,873.2 283.5,871.5 283.5,869.8 283.5,868.1 283.5,866.5 283.5,864.8 283.5,863.1 283.5,861.4 283.5,859.7 283.5,858.0 283.5,856.3 283.5,854.7 283.5,853.0 283.5,851.3 283.5,849.6 283.5,847.9 283.5,846.2 283.5,844.5 283.5,842.9 283.5,841.2 283.6,839.5 283.6,837.8 283.6,836.1 283.7,834.4 283.7,832.7 283.7,831.1 283.8,829.4 283.8,827.7 283.9,826.0 283.9,824.3 284.0,822.6 284.1,820.9 284.1,819.3 284.2,817.6 284.3,815.9 284.3,814.2 284.4,812.5 284.5,810.8 284.6,809.1 284.7,807.5 284.7,805.8 284.8,804.1 284.9,802.4 285.0,800.7 285.1,799.0 285.4,797.3 285.7,795.7 286.0,794.0 286.4,792.3 286.7,790.6ZM318.3,811.6 318.6,812.9 318.9,814.2 319.2,815.6 319.5,816.9 319.7,818.2 319.9,819.5 320.0,820.9 320.1,822.2 320.2,823.5 320.3,824.8 320.3,826.1 320.4,827.5 320.5,828.8 320.6,830.1 320.6,831.4 320.7,832.7 320.8,834.1 320.8,835.4 320.9,836.7 321.0,838.0 321.0,839.4 321.1,840.7 321.1,842.0 321.2,843.3 321.2,844.6 321.3,846.0 321.3,847.3 321.3,848.6 321.4,849.9 321.4,851.2 321.4,852.6 321.5,853.9 321.5,855.2 321.5,856.5 321.5,857.9 321.5,859.2 321.5,860.5 321.5,861.8 321.5,863.1 321.5,864.5 321.5,865.8 321.5,867.1 321.5,868.4 321.5,869.7 321.5,871.1 321.5,872.4 321.5,873.7 321.5,875.0 321.4,876.4 321.4,877.7 321.4,879.0 321.4,880.3 321.3,881.6 321.3,883.0 321.2,884.3 321.2,885.6 321.1,886.9 321.1,888.2 321.0,889.6 321.0,890.9 320.9,892.2 320.8,893.5 320.7,894.9 320.6,896.2 320.3,897.5 320.0,898.8 319.6,900.1 319.1,901.5 318.7,902.8 318.3,904.1 316.7,904.1 316.3,902.8 315.9,901.5 315.4,900.1 315.0,898.8 314.7,897.5 314.4,896.2 314.3,894.9 314.2,893.5 314.1,892.2 314.0,890.9 314.0,889.6 313.9,888.2 313.9,886.9 313.8,885.6 313.8,884.3 313.7,883.0 313.7,881.6 313.6,880.3 313.6,879.0 313.6,877.7 313.6,876.4 313.5,875.0 313.5,873.7 313.5,872.4 313.5,871.1 313.5,869.7 313.5,868.4 313.5,867.1 313.5,865.8 313.5,864.5 313.5,863.1 313.5,861.8 313.5,860.5 313.5,859.2 313.5,857.9 313.5,856.5 313.5,855.2 313.5,853.9 313.6,852.6 313.6,851.2 313.6,849.9 313.7,848.6 313.7,847.3 313.7,846.0 313.8,844.6 313.8,843.3 313.9,842.0 313.9,840.7 314.0,839.4 314.0,838.0 314.1,836.7 314.2,835.4 314.2,834.1 314.3,832.7 314.4,831.4 314.4,830.1 314.5,828.8 314.6,827.5 314.7,826.1 314.7,824.8 314.8,823.5 314.9,822.2 315.0,820.9 315.1,819.5 315.3,818.2 315.5,816.9 315.8,815.6 316.1,814.2 316.4,812.9 316.7,811.6Z" fill="none" stroke="#ADD8E6" stroke-width="1.9" stroke-linejoin="round"/><path d="M77.5,866.2 L107.5,845.7 L137.5,868.8 L167.5,841.2 L197.5,848.4 L227.5,856.8 L257.5,847.9 L287.5,790.6 L317.5,811.6" fill="none" stroke="#bababa" stroke-width="1.7" stroke-dasharray="6.4,6.05"/><path d="M77.5,928.1 L107.5,928.1 L137.5,938.3 L167.5,928.1 L197.5,935.0 L227.5,920.7 L257.5,917.4 L287.5,908.6 L317.5,904.1" fill="none" stroke="#bababa" stroke-width="1.7" stroke-dasharray="6.4,6.05"/><path d="M70.0 906.6h15M100.0 902.5h15M130.0 910.7h15M160.0 889.7h15M190.0 892.5h15M220.0 883.2h15M250.0 892.5h15M280.0 855.0h15M310.0 865.1h15" stroke="#000080" stroke-width="3.8"/><rect x="59.7" y="783.5" width="275.6" height="171.5999999999999" fill="none" stroke="#555" stroke-width="1"/><line x1="52.900000000000006" y1="909.8" x2="59.7" y2="909.8" stroke="#000" stroke-width="1.5"/><text x="49.2" y="914.5" font-size="14.5" text-anchor="end">200</text><line x1="52.900000000000006" y1="862.1" x2="59.7" y2="862.1" stroke="#000" stroke-width="1.5"/><text x="49.2" y="866.8000000000001" font-size="14.5" text-anchor="end">300</text><line x1="52.900000000000006" y1="814.4" x2="59.7" y2="814.4" stroke="#000" stroke-width="1.5"/><text x="49.2" y="819.1" font-size="14.5" text-anchor="end">400</text><line x1="77.5" y1="955.0999999999999" x2="77.5" y2="961.3999999999999" stroke="#000" stroke-width="1.5"/><line x1="107.5" y1="955.0999999999999" x2="107.5" y2="961.3999999999999" stroke="#000" stroke-width="1.5"/><line x1="137.5" y1="955.0999999999999" x2="137.5" y2="961.3999999999999" stroke="#000" stroke-width="1.5"/><line x1="167.5" y1="955.0999999999999" x2="167.5" y2="961.3999999999999" stroke="#000" stroke-width="1.5"/><line x1="197.5" y1="955.0999999999999" x2="197.5" y2="961.3999999999999" stroke="#000" stroke-width="1.5"/><line x1="227.5" y1="955.0999999999999" x2="227.5" y2="961.3999999999999" stroke="#000" stroke-width="1.5"/><line x1="257.5" y1="955.0999999999999" x2="257.5" y2="961.3999999999999" stroke="#000" stroke-width="1.5"/><line x1="287.5" y1="955.0999999999999" x2="287.5" y2="961.3999999999999" stroke="#000" stroke-width="1.5"/><line x1="317.5" y1="955.0999999999999" x2="317.5" y2="961.3999999999999" stroke="#000" stroke-width="1.5"/><text x="317.5" y="939.7" font-size="17" font-weight="bold" text-anchor="middle">e</text><text transform="translate(11.2,869.3) rotate(-90)" font-size="14.5" text-anchor="middle">CO<tspan font-size="9.5" dy="3">2</tspan><tspan dy="-3"> (ppm)</tspan></text><text transform="translate(83.0,975.0999999999999) rotate(-30)" font-size="14.5" text-anchor="end">0.3-0.0 Ma</text><text transform="translate(113.0,975.0999999999999) rotate(-30)" font-size="14.5" text-anchor="end">0.6-0.3 Ma</text><text transform="translate(143.0,975.0999999999999) rotate(-30)" font-size="14.5" text-anchor="end">0.9-0.6 Ma</text><text transform="translate(173.0,975.0999999999999) rotate(-30)" font-size="14.5" text-anchor="end">1.2-0.9 Ma</text><text transform="translate(203.0,975.0999999999999) rotate(-30)" font-size="14.5" text-anchor="end">1.5-1.2 Ma</text><text transform="translate(233.0,975.0999999999999) rotate(-30)" font-size="14.5" text-anchor="end">1.8-1.5 Ma</text><text transform="translate(263.0,975.0999999999999) rotate(-30)" font-size="14.5" text-anchor="end">2.1-1.8 Ma</text><text transform="translate(293.0,975.0999999999999) rotate(-30)" font-size="14.5" text-anchor="end">2.4-2.1 Ma</text><text transform="translate(323.0,975.0999999999999) rotate(-30)" font-size="14.5" text-anchor="end">2.7-2.4 Ma</text><path d="M424.4 22.3h0M426.6 139.0h0M425.6 82.9h0M426.0 101.6h0M425.0 52.6h0M426.3 115.0h0M430.5 97.1h0M424.4 134.9h0M429.4 79.6h0M429.1 37.3h0M426.7 114.2h0M428.4 138.2h0M427.4 56.8h0M430.5 52.0h0M423.8 98.0h0M428.9 56.0h0M429.3 105.8h0M428.1 109.9h0M430.4 43.7h0M423.8 77.5h0M427.8 80.7h0M428.8 59.1h0M423.9 31.2h0M427.3 32.5h0M429.3 124.2h0M428.2 82.8h0M426.1 35.5h0M429.3 127.2h0M430.0 129.3h0M425.0 101.5h0M425.2 43.0h0M429.3 55.2h0M428.8 39.1h0M426.5 56.0h0M430.5 121.0h0M430.4 89.6h0M427.7 114.3h0M426.1 125.5h0M424.0 138.2h0M423.5 117.3h0M426.2 124.5h0M426.5 32.8h0M424.0 70.6h0M425.0 121.0h0M429.6 46.7h0M428.8 92.3h0M426.0 83.3h0M424.2 44.1h0M430.1 66.1h0M429.9 59.3h0M428.9 76.8h0M428.3 69.8h0M428.3 39.2h0M425.3 126.6h0M427.4 101.7h0M423.4 106.8h0M425.7 43.0h0M424.7 96.6h0M424.2 138.6h0M428.6 72.4h0M426.6 104.3h0M425.7 35.2h0M429.0 41.1h0M428.0 104.0h0M428.3 46.0h0M429.9 31.9h0M424.7 55.2h0M426.6 30.5h0M423.9 80.5h0M428.7 31.5h0M428.8 121.6h0M423.6 105.2h0M425.9 42.3h0M423.9 32.3h0M429.3 64.3h0M427.8 28.2h0M425.2 89.1h0M428.4 117.3h0M430.1 57.7h0M429.7 39.1h0M426.2 80.7h0M423.6 56.3h0M426.1 107.3h0M425.3 85.8h0M428.5 91.9h0M425.8 60.7h0M429.5 81.5h0M425.4 113.8h0M429.8 91.6h0M430.1 41.5h0M427.3 37.6h0M423.7 77.5h0M429.1 37.2h0M429.6 74.6h0M424.4 77.7h0M428.6 137.7h0M424.1 28.5h0M425.7 36.2h0M425.5 109.7h0M424.5 23.0h0M428.0 47.0h0M430.5 138.0h0M427.0 67.7h0M430.2 45.8h0M425.3 104.5h0M424.3 115.2h0M425.4 61.4h0M429.3 24.2h0M425.7 115.2h0M425.9 92.7h0M429.7 27.8h0M427.8 35.3h0M426.3 111.6h0M429.7 106.5h0M424.4 40.1h0M424.8 96.1h0M427.8 36.4h0M427.0 30.0h0M428.3 120.9h0M429.3 79.5h0M428.3 68.2h0M424.7 63.7h0M428.6 91.3h0M425.1 42.1h0M424.1 89.3h0M425.5 83.0h0M426.2 84.4h0M427.0 92.5h0M424.2 71.7h0M428.0 62.0h0M426.1 94.2h0M430.5 28.2h0M426.9 50.6h0M429.4 106.8h0M429.2 80.7h0M427.8 38.0h0M428.2 53.3h0M424.0 49.4h0M429.9 68.5h0M430.4 83.3h0M430.0 52.3h0M424.0 83.9h0M424.9 70.6h0M425.7 39.9h0M424.7 101.7h0M425.2 105.5h0M424.1 47.7h0M427.6 38.2h0M429.7 87.2h0M425.8 90.4h0M429.4 74.1h0M429.6 35.3h0M427.5 111.4h0M429.6 33.5h0M425.2 42.4h0M427.8 39.1h0M428.0 104.1h0M423.4 113.4h0M430.5 30.5h0M425.3 97.7h0M427.1 62.7h0M429.1 66.5h0M426.8 102.4h0M424.3 97.9h0M430.5 102.7h0M429.7 110.0h0M427.0 91.5h0M425.7 52.5h0M423.4 110.1h0M425.7 56.1h0M430.5 40.5h0M428.8 82.8h0M424.5 98.0h0M428.1 34.8h0M424.0 80.3h0M426.9 96.2h0M430.3 28.0h0M423.6 101.9h0M427.0 66.0h0M430.4 126.5h0M424.1 116.7h0M426.6 118.1h0M429.2 105.5h0M429.5 62.8h0M427.3 63.2h0M427.6 60.8h0M427.3 94.9h0M428.2 32.1h0M430.4 72.7h0M428.1 37.1h0M425.0 35.9h0M425.1 34.0h0M426.9 105.0h0M428.2 89.7h0M429.1 34.5h0M425.4 128.3h0M424.8 105.2h0M424.0 84.7h0M428.9 31.0h0M423.6 72.1h0M459.2 22.3h0M460.1 111.4h0M457.7 23.3h0M457.6 46.1h0M456.5 32.0h0M455.8 39.8h0M456.1 85.5h0M453.4 91.3h0M455.1 108.6h0M456.8 45.9h0M455.8 44.4h0M457.8 90.0h0M454.5 52.2h0M456.2 75.0h0M460.1 47.6h0M455.0 76.9h0M460.5 50.1h0M453.4 51.6h0M460.4 73.8h0M460.4 88.6h0M460.0 76.1h0M460.6 29.5h0M460.4 66.1h0M457.0 109.1h0M459.3 25.3h0M454.7 66.0h0M459.3 85.7h0M454.6 64.9h0M459.6 91.6h0M458.9 56.7h0M458.3 61.5h0M459.0 33.9h0M455.8 84.4h0M459.2 26.8h0M460.0 87.2h0M458.0 71.7h0M458.3 99.9h0M455.1 56.0h0M456.3 52.0h0M458.5 98.7h0M457.6 43.2h0M457.3 27.2h0M454.4 58.6h0M453.5 25.9h0M456.9 25.7h0M459.3 61.7h0M460.5 39.5h0M454.4 24.4h0M460.5 49.6h0M455.4 94.2h0M460.4 96.1h0M456.4 71.9h0M459.2 105.5h0M457.5 79.5h0M458.0 58.6h0M453.9 90.3h0M454.4 103.4h0M459.9 52.5h0M453.8 75.3h0M457.8 96.2h0M460.2 44.8h0M458.0 91.4h0M457.5 31.1h0M458.5 98.3h0M459.1 36.6h0M455.5 85.1h0M454.2 53.1h0M455.6 37.5h0M457.9 87.8h0M455.0 51.2h0M455.9 77.5h0M456.7 47.6h0M455.9 105.5h0M458.1 48.0h0M460.2 32.6h0M457.3 106.2h0M459.2 39.9h0M455.1 47.1h0M459.8 58.6h0M459.6 83.1h0M454.2 24.4h0M453.5 32.7h0M456.4 56.3h0M455.2 47.6h0M453.5 65.0h0M454.6 43.7h0M459.3 87.5h0M456.9 72.8h0M458.0 65.8h0M457.0 54.3h0M454.2 92.2h0M460.5 56.6h0M460.2 27.9h0M456.6 107.3h0M460.4 68.6h0M458.2 28.5h0M456.4 52.6h0M454.2 108.6h0M460.5 64.1h0M453.7 70.6h0M456.4 88.2h0M455.7 84.8h0M458.7 42.1h0M456.2 61.9h0M453.8 35.5h0M456.2 25.6h0M453.6 56.8h0M457.6 102.9h0M460.1 99.6h0M458.2 26.2h0M460.3 55.0h0M457.5 47.5h0M457.4 87.2h0M457.5 91.1h0M453.6 33.3h0M455.7 75.0h0M456.8 31.0h0M457.3 48.7h0M459.9 105.2h0M458.5 39.9h0M455.8 70.0h0M460.5 37.8h0M457.8 59.6h0M453.9 76.7h0M457.1 54.0h0M455.5 71.6h0M456.3 102.9h0M457.8 50.8h0M459.4 64.9h0M458.6 29.2h0M460.2 70.6h0M457.5 100.2h0M454.2 81.8h0M457.6 55.5h0M459.7 41.0h0M455.8 107.9h0M460.4 32.7h0M453.9 58.8h0M457.8 92.7h0M455.0 83.2h0M457.6 81.9h0M455.1 33.1h0M457.2 76.5h0M454.8 105.8h0M460.1 110.4h0M460.0 37.4h0M457.1 64.4h0M454.6 74.7h0M457.4 25.5h0M454.9 32.1h0M460.1 92.6h0M459.5 36.9h0M454.3 34.4h0M454.4 29.9h0M458.0 51.2h0M455.2 103.7h0M454.3 50.7h0M454.6 81.9h0M453.7 82.9h0M459.6 52.5h0M454.4 36.2h0M453.9 42.6h0M455.4 99.5h0M453.6 51.0h0M459.0 102.7h0M458.9 32.6h0M457.2 46.6h0M460.5 48.5h0M460.0 50.9h0M457.6 98.8h0M454.5 69.5h0M458.8 53.0h0M453.4 57.4h0M460.3 74.5h0M459.1 50.5h0M458.3 81.6h0M454.3 104.6h0M459.2 38.3h0M459.1 32.3h0M460.2 47.8h0M456.5 106.6h0M456.1 51.0h0M459.7 86.1h0M456.5 48.6h0M458.2 53.7h0M458.8 49.4h0M454.9 64.3h0M457.5 70.7h0M459.2 85.5h0M460.5 42.9h0M455.2 73.9h0M455.8 32.3h0M456.7 38.9h0M454.6 67.3h0M453.4 103.2h0M458.2 92.7h0M458.7 45.1h0M456.4 48.1h0M454.4 88.0h0M456.3 45.7h0M490.3 43.9h0M483.6 114.4h0M488.9 52.5h0M483.5 48.6h0M484.2 47.7h0M483.7 52.5h0M484.8 91.1h0M487.4 85.7h0M486.4 72.1h0M487.5 47.5h0M489.9 83.0h0M485.8 50.7h0M483.9 66.4h0M489.9 74.5h0M490.5 79.1h0M490.4 75.6h0M489.9 56.5h0M487.3 60.2h0M484.1 90.0h0M490.1 59.9h0M490.3 53.5h0M486.0 106.2h0M484.7 56.6h0M483.8 46.5h0M486.3 78.5h0M485.1 57.2h0M485.9 49.4h0M485.9 73.6h0M489.2 77.9h0M486.4 93.6h0M484.6 44.1h0M487.7 65.0h0M486.9 102.5h0M483.9 82.5h0M486.8 93.9h0M485.5 108.2h0M485.2 52.5h0M489.9 54.8h0M490.6 56.6h0M486.9 85.4h0M489.8 108.3h0M486.4 70.5h0M489.6 57.4h0M487.1 66.6h0M485.6 104.6h0M485.7 46.7h0M489.9 50.7h0M489.6 61.2h0M490.1 83.9h0M490.1 97.3h0M485.2 73.3h0M483.6 49.4h0M488.3 71.2h0M487.6 53.0h0M485.8 54.4h0M485.2 105.8h0M488.6 56.7h0M489.0 83.8h0M484.5 91.7h0M485.8 63.8h0M485.7 108.0h0M485.4 98.2h0M488.9 79.8h0M483.5 74.7h0M485.8 70.0h0M489.1 81.2h0M483.9 77.5h0M486.5 70.2h0M490.4 53.4h0M490.4 64.9h0M488.5 91.8h0M489.0 82.7h0M487.9 111.2h0M486.4 61.0h0M483.6 77.8h0M486.9 91.9h0M483.4 108.5h0M484.1 75.9h0M487.1 81.9h0M489.9 98.7h0M516.7 29.6h0M515.7 106.3h0M516.2 60.0h0M516.6 39.7h0M515.6 33.8h0M516.0 65.4h0M516.8 75.1h0M519.6 81.3h0M519.2 82.1h0M519.6 59.0h0M516.8 60.8h0M520.3 90.1h0M513.8 45.4h0M519.5 73.4h0M518.2 74.3h0M513.6 78.9h0M519.5 87.8h0M515.8 53.9h0M517.8 78.1h0M513.8 57.6h0M518.1 30.8h0M518.1 71.1h0M515.9 103.5h0M515.8 101.5h0M519.1 73.9h0M520.0 38.0h0M513.4 83.4h0M515.5 41.8h0M517.2 38.5h0M515.7 53.7h0M515.8 82.8h0M517.5 82.5h0M519.5 68.7h0M519.2 45.0h0M516.2 96.0h0M519.7 71.2h0M520.4 84.9h0M514.4 76.4h0M514.7 73.3h0M520.4 42.5h0M514.1 83.2h0M515.2 67.3h0M520.6 70.3h0M519.3 53.2h0M514.8 57.7h0M516.3 99.0h0M520.6 44.4h0M515.2 66.1h0M519.0 63.6h0M515.2 66.1h0M516.5 40.6h0M520.2 72.9h0M518.1 40.2h0M516.5 73.4h0M520.3 49.1h0M519.9 87.2h0M520.2 44.4h0M517.2 47.0h0M514.3 79.6h0M515.7 32.2h0M514.7 37.3h0M515.4 89.6h0M514.5 53.8h0M518.2 71.3h0M519.0 43.5h0M513.6 69.0h0M519.3 63.6h0M519.2 72.5h0M517.1 96.9h0M520.5 69.9h0M514.1 90.2h0M513.7 73.0h0M514.2 35.8h0M514.4 68.2h0M518.9 44.6h0M517.9 42.9h0M514.3 50.0h0M519.3 103.5h0M518.5 85.7h0M517.5 97.8h0M515.3 48.0h0M516.2 59.5h0M520.5 86.4h0M517.8 66.4h0M513.8 89.5h0M516.5 51.3h0M517.5 64.6h0M518.4 97.4h0M517.2 86.0h0M514.9 81.9h0M518.3 40.3h0M517.0 57.1h0M518.2 96.6h0M520.5 83.5h0M519.9 34.7h0M515.7 33.3h0M518.9 74.1h0M514.9 93.9h0M515.9 94.8h0M513.8 96.6h0M519.1 52.5h0M515.0 86.6h0M519.4 59.0h0M517.7 69.4h0M519.3 71.2h0M518.4 64.1h0M514.7 58.7h0M518.7 100.2h0M519.2 56.3h0M516.5 40.1h0M519.1 36.8h0M515.7 50.8h0M514.1 45.3h0M517.1 62.3h0M513.9 54.9h0M516.0 67.6h0M520.1 31.0h0M519.6 100.3h0M518.8 74.3h0M516.3 39.9h0M514.5 96.4h0M517.1 30.7h0M514.0 69.6h0M518.9 53.9h0M519.2 57.6h0M514.0 51.9h0M515.7 38.8h0M517.2 56.4h0M516.2 95.1h0M518.4 56.7h0M549.0 30.7h0M548.8 85.4h0M548.0 67.0h0M547.6 35.0h0M547.8 39.1h0M543.9 39.2h0M548.0 51.1h0M547.8 63.4h0M549.8 46.4h0M548.9 53.9h0M546.9 40.1h0M547.8 65.5h0M545.4 75.2h0M545.1 62.7h0M544.5 79.7h0M547.7 63.6h0M545.5 35.5h0M545.0 80.3h0M548.6 52.4h0M549.8 57.2h0M544.3 52.6h0M550.5 64.3h0M546.0 69.6h0M546.5 49.9h0M548.3 84.1h0M549.9 70.6h0M549.5 58.6h0M549.5 45.7h0M547.8 63.6h0M547.9 44.7h0M543.4 35.7h0M547.3 64.4h0M543.8 66.0h0M549.9 48.2h0M545.4 78.8h0M548.0 79.4h0M543.8 54.7h0M549.3 38.3h0M544.8 64.4h0M543.8 42.6h0M545.6 32.9h0M548.3 66.0h0M547.7 37.8h0M545.5 65.1h0M546.4 79.0h0M543.5 64.5h0M544.7 51.3h0M544.1 52.1h0M550.3 58.8h0M544.8 51.3h0M548.1 79.4h0M548.1 54.9h0M544.0 53.5h0M548.9 41.8h0M549.2 44.5h0M548.9 42.6h0M544.1 68.1h0M543.9 53.7h0M548.1 39.6h0M550.3 38.4h0M548.6 58.5h0M543.5 35.5h0M548.2 61.5h0M544.2 44.3h0M544.9 72.6h0M546.3 38.7h0M548.4 39.5h0M545.9 45.5h0M545.3 57.4h0M548.7 38.8h0M545.9 36.7h0M546.1 74.8h0M544.0 66.8h0M545.4 66.2h0M548.8 55.8h0M543.5 74.7h0M547.1 57.6h0M545.5 41.2h0M548.1 69.2h0M545.2 64.3h0M546.8 73.4h0M548.1 55.2h0M550.1 71.5h0M544.4 67.3h0M547.0 84.8h0M547.8 64.4h0M543.6 58.1h0M544.4 53.6h0M545.0 64.8h0M546.4 42.1h0M543.4 60.8h0M544.9 54.3h0M546.6 53.5h0M549.1 64.7h0M550.3 50.2h0M549.9 32.7h0M544.1 49.8h0M544.1 32.9h0M547.5 64.1h0M547.1 70.2h0M544.3 65.3h0M547.1 79.7h0M550.1 31.9h0M546.9 72.3h0M546.6 64.4h0M545.8 54.4h0M547.9 71.7h0M550.3 59.3h0M547.6 60.5h0M545.9 76.1h0M548.4 60.9h0M547.3 72.6h0M547.8 55.4h0M546.3 71.6h0M544.1 64.6h0M548.9 67.6h0M545.6 70.4h0M543.9 73.4h0M546.0 56.7h0M545.0 46.0h0M548.5 81.6h0M543.6 31.7h0M549.4 70.6h0M547.6 70.0h0M544.1 74.1h0M548.7 82.6h0M546.3 71.5h0M547.7 44.5h0M545.5 36.3h0M544.5 71.2h0M545.8 49.0h0M547.6 42.7h0M550.5 47.8h0M548.2 58.2h0M547.0 46.6h0M548.8 33.3h0M548.8 42.1h0M546.1 65.8h0M543.7 82.4h0M549.7 36.5h0M544.5 63.4h0M544.6 72.3h0M545.6 44.5h0M548.4 83.7h0M546.5 38.7h0M546.4 46.6h0M544.5 37.8h0M549.0 53.0h0M548.7 52.6h0M547.9 31.6h0M549.9 51.4h0M543.7 70.7h0M549.3 59.7h0M549.0 31.2h0M546.8 68.2h0M546.1 82.5h0M550.5 36.8h0M549.1 42.2h0M550.2 48.1h0M543.7 79.9h0M580.0 40.5h0M574.1 88.7h0M575.9 76.4h0M577.1 66.7h0M580.2 54.2h0M579.8 44.4h0M579.1 53.3h0M574.5 55.5h0M578.8 64.2h0M578.3 66.3h0M573.7 61.4h0M576.4 65.8h0M577.1 65.7h0M574.7 58.5h0M574.5 79.2h0M576.3 51.0h0M573.4 70.9h0M575.8 72.3h0M577.1 62.0h0M575.3 71.6h0M577.1 77.2h0M579.8 42.4h0M576.8 50.1h0M576.2 73.1h0M578.3 62.6h0M579.8 49.8h0M574.3 56.0h0M579.4 64.2h0M579.9 45.2h0M580.0 82.1h0M574.8 66.7h0M579.9 74.5h0M575.8 46.0h0M575.9 48.4h0M575.5 72.7h0M579.1 66.1h0M578.0 58.9h0M574.5 56.7h0M575.6 65.1h0M577.6 72.9h0M579.4 76.8h0M577.8 80.8h0M578.2 46.9h0M575.6 49.6h0M579.5 50.4h0M577.8 57.4h0M577.7 79.2h0M575.4 51.2h0M577.5 72.1h0M575.7 85.0h0M576.3 58.7h0M580.2 68.7h0M576.6 66.8h0M574.8 55.3h0M576.4 45.1h0M575.0 48.8h0M578.5 65.1h0M574.9 81.2h0M578.5 41.3h0M576.7 69.9h0M576.4 64.5h0M577.6 71.7h0M580.4 49.2h0M577.7 77.8h0M574.9 47.7h0M575.7 56.4h0M574.4 76.1h0M578.0 70.0h0M579.9 57.2h0M573.8 60.6h0M575.3 54.9h0M574.2 43.7h0M577.2 57.5h0M579.4 67.4h0M574.5 48.9h0M579.4 75.4h0M576.3 51.7h0M577.3 66.7h0M577.7 79.1h0M580.1 41.7h0M580.2 58.1h0M580.5 54.5h0M577.6 63.7h0M580.3 60.5h0M579.1 80.2h0M577.5 43.3h0M577.7 75.8h0M575.6 69.2h0M574.5 81.2h0M576.7 63.2h0M575.2 72.4h0M573.4 51.4h0M580.1 58.5h0M574.9 56.0h0M580.4 68.8h0M577.0 47.0h0M575.3 43.1h0M576.3 59.9h0M574.1 78.5h0M577.4 63.9h0M575.6 48.3h0M573.4 65.7h0M575.0 49.8h0M576.4 47.2h0M580.0 60.0h0M575.0 77.5h0M579.4 46.4h0M576.6 71.1h0M575.9 63.7h0M576.2 56.1h0M609.1 31.7h0M604.3 78.8h0M605.4 55.9h0M606.5 60.4h0M605.7 73.4h0M608.1 59.1h0M609.5 56.1h0M609.3 40.6h0M608.0 49.4h0M607.3 58.3h0M608.2 42.7h0M605.5 57.1h0M608.5 65.0h0M604.7 65.3h0M610.1 71.3h0M608.9 51.0h0M608.7 51.5h0M606.8 66.6h0M607.7 78.2h0M606.7 47.8h0M608.2 74.6h0M604.0 54.7h0M607.0 66.9h0M606.4 71.4h0M609.7 70.9h0M604.0 59.5h0M609.6 56.5h0M610.2 45.2h0M610.3 67.2h0M605.4 57.9h0M605.6 77.6h0M604.5 52.1h0M609.1 48.5h0M608.5 67.5h0M605.0 66.2h0M608.5 71.8h0M605.2 47.5h0M609.0 74.7h0M603.8 63.4h0M609.7 49.1h0M606.4 51.4h0M609.8 66.7h0M607.1 33.5h0M604.3 47.4h0M608.9 47.9h0M608.6 51.7h0M603.6 70.0h0M604.4 59.4h0M604.4 65.3h0M606.3 58.1h0M607.4 59.3h0M607.6 56.1h0M610.0 39.9h0M606.8 49.8h0M607.3 57.4h0M608.4 47.7h0M610.3 40.9h0M610.0 64.4h0M607.2 66.7h0M606.2 70.7h0M604.2 62.9h0M604.6 74.2h0M604.8 60.1h0M606.7 65.9h0M607.7 53.3h0M604.1 61.6h0M607.2 59.3h0M609.7 61.0h0M609.8 36.7h0M609.6 58.7h0M609.4 52.0h0M606.8 58.7h0M607.0 75.4h0M603.9 50.0h0M610.4 69.0h0M606.5 72.9h0M603.5 53.0h0M609.6 41.3h0M608.8 41.5h0M608.2 49.3h0M605.0 57.8h0M603.9 63.2h0M607.6 48.5h0M604.9 45.8h0M607.3 68.3h0M608.5 67.4h0M606.0 69.8h0M609.3 70.5h0M609.7 54.1h0M610.5 51.7h0M603.7 59.6h0M606.9 43.3h0M608.8 60.5h0M605.9 48.1h0M608.7 65.4h0M604.4 50.1h0M607.0 60.9h0M610.6 75.2h0M606.2 47.4h0M604.0 46.2h0M607.4 52.7h0M604.6 58.4h0M607.1 65.8h0M609.8 74.8h0M610.4 37.5h0M608.4 33.4h0M608.4 73.1h0M606.4 67.7h0M608.1 64.8h0M607.2 46.2h0M636.2 28.0h0M640.6 64.6h0M637.7 42.8h0M640.3 45.2h0M636.2 54.9h0M634.6 40.5h0M638.4 55.0h0M638.8 48.0h0M639.0 38.3h0M639.0 42.8h0M640.5 59.8h0M640.1 33.5h0M638.4 31.5h0M635.8 43.2h0M636.9 54.6h0M634.0 29.0h0M636.4 55.9h0M636.0 44.9h0M635.9 31.9h0M639.3 42.2h0M633.9 43.1h0M636.4 52.1h0M636.0 49.6h0M635.8 50.4h0M638.3 54.4h0M637.6 29.6h0M639.8 47.4h0M638.9 37.9h0M638.9 32.8h0M639.9 45.1h0M640.1 61.0h0M637.7 46.9h0M635.1 58.7h0M635.1 44.2h0M637.9 53.8h0M638.0 61.0h0M634.8 40.7h0M640.6 46.8h0M637.6 49.4h0M633.5 37.0h0M635.4 43.5h0M638.0 46.9h0M635.4 59.4h0M637.8 36.6h0M637.4 54.3h0M640.3 39.2h0M633.5 32.4h0M633.6 37.3h0M635.4 36.5h0M639.3 34.7h0M636.1 38.4h0M636.4 51.7h0M639.5 59.8h0M640.4 62.2h0M639.3 44.8h0M639.7 53.6h0M637.3 42.6h0M636.5 54.5h0M636.2 33.2h0M634.1 45.1h0M636.4 49.4h0M633.5 55.5h0M636.8 54.5h0M636.3 48.0h0M633.5 39.6h0M637.4 54.8h0M636.1 30.6h0M637.7 39.9h0M639.7 35.4h0M639.9 38.1h0M636.1 45.5h0M637.5 46.0h0M640.3 44.7h0M640.5 40.6h0M635.4 56.6h0M635.4 33.1h0M634.6 48.5h0M640.3 35.4h0M637.2 46.5h0M635.1 31.6h0M639.7 54.5h0M639.8 46.3h0M635.5 31.2h0M637.6 46.1h0M636.1 33.3h0M639.4 43.0h0M640.2 47.5h0M639.9 36.5h0M635.3 56.8h0M633.7 41.6h0M634.9 45.0h0M637.3 53.2h0M638.8 47.5h0M637.1 59.9h0M639.7 50.0h0M636.0 46.1h0M637.1 35.8h0M636.8 57.9h0M639.4 51.8h0M637.5 62.2h0M665.4 25.8h0M666.7 64.6h0M668.6 43.7h0M668.1 39.6h0M667.2 30.4h0M668.2 38.9h0M665.8 45.4h0M670.4 48.6h0M670.5 58.6h0M669.4 45.0h0M668.3 52.2h0M663.8 57.2h0M665.9 48.0h0M665.4 39.3h0M670.1 49.9h0M668.0 47.4h0M668.2 43.4h0M667.8 51.1h0M670.6 32.5h0M667.1 36.5h0M665.1 41.0h0M670.5 37.3h0M665.3 40.5h0M668.0 47.6h0M667.4 31.5h0M670.3 37.9h0M668.9 40.6h0M670.5 44.7h0M669.1 43.3h0M667.9 50.1h0M664.4 42.8h0M664.6 31.5h0M666.0 49.1h0M665.9 43.2h0M664.7 45.3h0M668.0 34.6h0M669.8 61.1h0M667.3 46.7h0M668.9 35.6h0M666.1 55.3h0M666.1 44.3h0M668.0 52.6h0M664.5 31.0h0M668.6 43.3h0M668.4 41.9h0M665.9 33.5h0M670.1 30.8h0M669.2 50.9h0M668.6 50.3h0M666.7 34.8h0M667.5 40.0h0M667.9 45.9h0M670.6 30.4h0M668.0 40.5h0M665.3 60.5h0M669.5 40.5h0M667.7 43.2h0M666.6 49.4h0M667.8 31.0h0M666.8 48.9h0M666.2 28.1h0M667.2 26.5h0M669.6 60.4h0M669.8 46.5h0M670.1 51.6h0M668.2 36.7h0M663.5 53.2h0M669.5 50.5h0M663.6 45.2h0M669.7 59.2h0M666.3 51.5h0M666.8 58.7h0M666.1 34.7h0M668.9 40.1h0M669.3 39.1h0M670.0 63.5h0M665.5 53.9h0M670.6 56.0h0M666.1 31.8h0M667.3 38.0h0M667.6 30.7h0M664.5 48.9h0M667.3 40.8h0M665.5 49.9h0M664.8 44.8h0M663.6 32.0h0M667.7 27.7h0M663.9 33.8h0M668.5 36.4h0M668.1 48.9h0M668.6 38.0h0M665.7 43.3h0M669.5 36.4h0M669.8 41.2h0M668.3 52.7h0M665.2 51.9h0M669.8 41.8h0M667.0 51.7h0M665.5 46.2h0M665.7 42.7h0" stroke="#FFA07A" stroke-width="6.3" stroke-linecap="round" fill="none"/><path d="M429.0,22.3 429.4,24.0 429.9,25.6 430.4,27.3 430.6,29.0 430.7,30.6 430.8,32.3 430.8,34.0 430.8,35.6 430.8,37.3 430.8,39.0 430.9,40.6 430.9,42.3 430.9,44.0 430.9,45.6 430.9,47.3 430.9,49.0 431.0,50.6 431.0,52.3 431.0,54.0 431.0,55.6 431.0,57.3 431.0,59.0 431.0,60.6 431.0,62.3 431.0,64.0 431.0,65.6 431.0,67.3 431.0,69.0 431.0,70.6 431.0,72.3 431.0,74.0 431.0,75.6 431.0,77.3 431.0,79.0 431.0,80.7 431.0,82.3 431.0,84.0 431.0,85.7 431.0,87.3 431.0,89.0 431.0,90.7 431.0,92.3 431.0,94.0 431.0,95.7 431.0,97.3 431.0,99.0 431.0,100.7 431.0,102.3 430.9,104.0 430.9,105.7 430.9,107.3 430.9,109.0 430.9,110.7 430.8,112.3 430.8,114.0 430.8,115.7 430.8,117.3 430.7,119.0 430.7,120.7 430.5,122.3 430.2,124.0 429.7,125.7 429.2,127.3 428.3,129.0 427.4,130.7 427.4,132.3 427.3,134.0 427.3,135.7 427.3,137.3 427.3,139.0 426.7,139.0 426.7,137.3 426.7,135.7 426.7,134.0 426.6,132.3 426.6,130.7 425.7,129.0 424.8,127.3 424.3,125.7 423.8,124.0 423.5,122.3 423.3,120.7 423.3,119.0 423.2,117.3 423.2,115.7 423.2,114.0 423.2,112.3 423.1,110.7 423.1,109.0 423.1,107.3 423.1,105.7 423.1,104.0 423.0,102.3 423.0,100.7 423.0,99.0 423.0,97.3 423.0,95.7 423.0,94.0 423.0,92.3 423.0,90.7 423.0,89.0 423.0,87.3 423.0,85.7 423.0,84.0 423.0,82.3 423.0,80.7 423.0,79.0 423.0,77.3 423.0,75.6 423.0,74.0 423.0,72.3 423.0,70.6 423.0,69.0 423.0,67.3 423.0,65.6 423.0,64.0 423.0,62.3 423.0,60.6 423.0,59.0 423.0,57.3 423.0,55.6 423.0,54.0 423.0,52.3 423.0,50.6 423.1,49.0 423.1,47.3 423.1,45.6 423.1,44.0 423.1,42.3 423.1,40.6 423.2,39.0 423.2,37.3 423.2,35.6 423.2,34.0 423.2,32.3 423.3,30.6 423.4,29.0 423.6,27.3 424.1,25.6 424.6,24.0 425.0,22.3ZM459.0,22.3 459.4,23.6 459.8,24.8 460.3,26.1 460.7,27.4 460.9,28.7 461.0,29.9 461.1,31.2 461.1,32.5 461.1,33.8 461.1,35.0 461.1,36.3 461.1,37.6 461.1,38.8 461.1,40.1 461.1,41.4 461.1,42.7 461.1,43.9 461.1,45.2 461.1,46.5 461.1,47.8 461.1,49.0 461.1,50.3 461.1,51.6 461.1,52.8 461.1,54.1 461.1,55.4 461.1,56.7 461.1,57.9 461.1,59.2 461.1,60.5 461.1,61.8 461.1,63.0 461.1,64.3 461.1,65.6 461.1,66.9 461.1,68.1 461.1,69.4 461.1,70.7 461.1,71.9 461.1,73.2 461.1,74.5 461.1,75.8 461.1,77.0 461.0,78.3 461.0,79.6 461.0,80.9 461.0,82.1 461.0,83.4 461.0,84.7 461.0,85.9 461.0,87.2 461.0,88.5 460.9,89.8 460.9,91.0 460.9,92.3 460.8,93.6 460.8,94.9 460.8,96.1 460.7,97.4 460.7,98.7 460.6,99.9 460.6,101.2 460.5,102.5 460.4,103.8 460.4,105.0 460.2,106.3 459.8,107.6 459.3,108.9 458.8,110.1 458.4,111.4 455.6,111.4 455.2,110.1 454.7,108.9 454.2,107.6 453.8,106.3 453.6,105.0 453.6,103.8 453.5,102.5 453.4,101.2 453.4,99.9 453.3,98.7 453.3,97.4 453.2,96.1 453.2,94.9 453.2,93.6 453.1,92.3 453.1,91.0 453.1,89.8 453.0,88.5 453.0,87.2 453.0,85.9 453.0,84.7 453.0,83.4 453.0,82.1 453.0,80.9 453.0,79.6 453.0,78.3 452.9,77.0 452.9,75.8 452.9,74.5 452.9,73.2 452.9,71.9 452.9,70.7 452.9,69.4 452.9,68.1 452.9,66.9 452.9,65.6 452.9,64.3 452.9,63.0 452.9,61.8 452.9,60.5 452.9,59.2 452.9,57.9 452.9,56.7 452.9,55.4 452.9,54.1 452.9,52.8 452.9,51.6 452.9,50.3 452.9,49.0 452.9,47.8 452.9,46.5 452.9,45.2 452.9,43.9 452.9,42.7 452.9,41.4 452.9,40.1 452.9,38.8 452.9,37.6 452.9,36.3 452.9,35.0 452.9,33.8 452.9,32.5 452.9,31.2 453.0,29.9 453.1,28.7 453.3,27.4 453.7,26.1 454.2,24.8 454.6,23.6 455.0,22.3ZM488.8,43.9 489.3,44.9 489.8,45.9 490.4,46.9 490.9,47.9 491.3,48.9 491.5,49.9 491.6,50.9 491.7,52.0 491.8,53.0 491.9,54.0 491.9,55.0 492.0,56.0 492.1,57.0 492.2,58.0 492.2,59.0 492.3,60.0 492.3,61.0 492.4,62.0 492.4,63.0 492.5,64.0 492.5,65.0 492.5,66.1 492.6,67.1 492.6,68.1 492.6,69.1 492.6,70.1 492.6,71.1 492.6,72.1 492.6,73.1 492.6,74.1 492.6,75.1 492.6,76.1 492.6,77.1 492.6,78.1 492.6,79.2 492.6,80.2 492.6,81.2 492.6,82.2 492.6,83.2 492.5,84.2 492.5,85.2 492.5,86.2 492.5,87.2 492.4,88.2 492.4,89.2 492.4,90.2 492.3,91.2 492.3,92.2 492.3,93.2 492.2,94.3 492.2,95.3 492.1,96.3 492.1,97.3 492.0,98.3 492.0,99.3 491.9,100.3 491.8,101.3 491.5,102.3 491.3,103.3 490.9,104.3 490.6,105.3 490.2,106.3 489.9,107.3 489.6,108.4 489.3,109.4 489.0,110.4 488.7,111.4 488.5,112.4 488.2,113.4 487.9,114.4 486.1,114.4 485.8,113.4 485.5,112.4 485.3,111.4 485.0,110.4 484.7,109.4 484.4,108.4 484.1,107.3 483.8,106.3 483.4,105.3 483.1,104.3 482.7,103.3 482.5,102.3 482.2,101.3 482.1,100.3 482.0,99.3 482.0,98.3 481.9,97.3 481.9,96.3 481.8,95.3 481.8,94.3 481.7,93.2 481.7,92.2 481.7,91.2 481.6,90.2 481.6,89.2 481.6,88.2 481.5,87.2 481.5,86.2 481.5,85.2 481.5,84.2 481.4,83.2 481.4,82.2 481.4,81.2 481.4,80.2 481.4,79.2 481.4,78.1 481.4,77.1 481.4,76.1 481.4,75.1 481.4,74.1 481.4,73.1 481.4,72.1 481.4,71.1 481.4,70.1 481.4,69.1 481.4,68.1 481.4,67.1 481.5,66.1 481.5,65.0 481.5,64.0 481.6,63.0 481.6,62.0 481.7,61.0 481.7,60.0 481.8,59.0 481.8,58.0 481.9,57.0 482.0,56.0 482.1,55.0 482.1,54.0 482.2,53.0 482.3,52.0 482.4,50.9 482.5,49.9 482.7,48.9 483.1,47.9 483.6,46.9 484.2,45.9 484.7,44.9 485.2,43.9ZM517.9,29.6 518.2,30.7 518.5,31.8 518.9,32.9 519.2,34.0 519.5,35.1 519.8,36.2 520.1,37.3 520.4,38.4 520.6,39.5 520.8,40.6 521.0,41.7 521.2,42.7 521.3,43.8 521.5,44.9 521.7,46.0 521.9,47.1 522.0,48.2 522.2,49.3 522.4,50.4 522.5,51.5 522.7,52.6 522.8,53.7 523.0,54.8 523.1,55.9 523.2,57.0 523.3,58.1 523.4,59.2 523.5,60.3 523.6,61.4 523.7,62.5 523.8,63.6 523.8,64.7 523.9,65.8 523.9,66.9 523.9,67.9 523.9,69.0 523.9,70.1 523.9,71.2 523.9,72.3 523.8,73.4 523.7,74.5 523.6,75.6 523.5,76.7 523.4,77.8 523.3,78.9 523.2,80.0 523.0,81.1 522.8,82.2 522.7,83.3 522.5,84.4 522.3,85.5 522.2,86.6 522.0,87.7 521.8,88.8 521.7,89.9 521.5,91.0 521.3,92.1 521.1,93.2 520.8,94.2 520.6,95.3 520.3,96.4 520.1,97.5 519.8,98.6 519.5,99.7 519.3,100.8 519.0,101.9 518.7,103.0 518.4,104.1 518.2,105.2 517.9,106.3 516.1,106.3 515.8,105.2 515.6,104.1 515.3,103.0 515.0,101.9 514.7,100.8 514.5,99.7 514.2,98.6 513.9,97.5 513.7,96.4 513.4,95.3 513.2,94.2 512.9,93.2 512.7,92.1 512.5,91.0 512.3,89.9 512.2,88.8 512.0,87.7 511.8,86.6 511.7,85.5 511.5,84.4 511.3,83.3 511.2,82.2 511.0,81.1 510.8,80.0 510.7,78.9 510.6,77.8 510.5,76.7 510.4,75.6 510.3,74.5 510.2,73.4 510.1,72.3 510.1,71.2 510.1,70.1 510.1,69.0 510.1,67.9 510.1,66.9 510.1,65.8 510.2,64.7 510.2,63.6 510.3,62.5 510.4,61.4 510.5,60.3 510.6,59.2 510.7,58.1 510.8,57.0 510.9,55.9 511.0,54.8 511.2,53.7 511.3,52.6 511.5,51.5 511.6,50.4 511.8,49.3 512.0,48.2 512.1,47.1 512.3,46.0 512.5,44.9 512.7,43.8 512.8,42.7 513.0,41.7 513.2,40.6 513.4,39.5 513.6,38.4 513.9,37.3 514.2,36.2 514.5,35.1 514.8,34.0 515.1,32.9 515.5,31.8 515.8,30.7 516.1,29.6ZM548.2,30.7 548.5,31.5 548.7,32.3 549.0,33.0 549.2,33.8 549.5,34.6 549.8,35.4 550.0,36.2 550.2,37.0 550.4,37.7 550.6,38.5 550.7,39.3 550.7,40.1 550.8,40.9 550.8,41.6 550.8,42.4 550.8,43.2 550.9,44.0 550.9,44.8 550.9,45.5 550.9,46.3 550.9,47.1 550.9,47.9 551.0,48.7 551.0,49.5 551.0,50.2 551.0,51.0 551.0,51.8 551.0,52.6 551.0,53.4 551.0,54.1 551.0,54.9 551.0,55.7 551.0,56.5 551.0,57.3 551.0,58.0 551.0,58.8 551.0,59.6 551.0,60.4 551.0,61.2 551.0,62.0 551.0,62.7 551.0,63.5 551.0,64.3 551.0,65.1 551.0,65.9 551.0,66.6 551.0,67.4 550.9,68.2 550.9,69.0 550.9,69.8 550.9,70.6 550.9,71.3 550.8,72.1 550.8,72.9 550.8,73.7 550.8,74.5 550.7,75.2 550.7,76.0 550.6,76.8 550.4,77.6 550.2,78.4 550.0,79.1 549.8,79.9 549.6,80.7 549.4,81.5 549.1,82.3 548.9,83.1 548.7,83.8 548.4,84.6 548.2,85.4 545.8,85.4 545.6,84.6 545.3,83.8 545.1,83.1 544.9,82.3 544.6,81.5 544.4,80.7 544.2,79.9 544.0,79.1 543.8,78.4 543.6,77.6 543.4,76.8 543.3,76.0 543.3,75.2 543.2,74.5 543.2,73.7 543.2,72.9 543.2,72.1 543.1,71.3 543.1,70.6 543.1,69.8 543.1,69.0 543.1,68.2 543.0,67.4 543.0,66.6 543.0,65.9 543.0,65.1 543.0,64.3 543.0,63.5 543.0,62.7 543.0,62.0 543.0,61.2 543.0,60.4 543.0,59.6 543.0,58.8 543.0,58.0 543.0,57.3 543.0,56.5 543.0,55.7 543.0,54.9 543.0,54.1 543.0,53.4 543.0,52.6 543.0,51.8 543.0,51.0 543.0,50.2 543.0,49.5 543.0,48.7 543.1,47.9 543.1,47.1 543.1,46.3 543.1,45.5 543.1,44.8 543.1,44.0 543.2,43.2 543.2,42.4 543.2,41.6 543.2,40.9 543.3,40.1 543.3,39.3 543.4,38.5 543.6,37.7 543.8,37.0 544.0,36.2 544.2,35.4 544.5,34.6 544.8,33.8 545.0,33.0 545.3,32.3 545.5,31.5 545.8,30.7ZM578.0,40.5 578.3,41.2 578.7,41.9 579.1,42.6 579.5,43.3 580.1,43.9 580.7,44.6 581.3,45.3 581.8,46.0 582.3,46.7 582.8,47.4 583.3,48.1 583.8,48.8 584.2,49.5 584.7,50.1 585.1,50.8 585.5,51.5 585.8,52.2 586.2,52.9 586.5,53.6 586.8,54.3 587.1,55.0 587.4,55.6 587.6,56.3 587.8,57.0 588.0,57.7 588.2,58.4 588.3,59.1 588.4,59.8 588.5,60.5 588.6,61.2 588.6,61.8 588.6,62.5 588.5,63.2 588.4,63.9 588.2,64.6 588.0,65.3 587.9,66.0 587.6,66.7 587.4,67.4 587.2,68.0 587.0,68.7 586.7,69.4 586.5,70.1 586.2,70.8 585.9,71.5 585.6,72.2 585.3,72.9 585.0,73.6 584.7,74.2 584.4,74.9 584.1,75.6 583.8,76.3 583.5,77.0 583.1,77.7 582.8,78.4 582.4,79.1 582.1,79.7 581.7,80.4 581.3,81.1 581.0,81.8 580.6,82.5 580.2,83.2 579.8,83.9 579.4,84.6 579.0,85.3 578.8,85.9 578.6,86.6 578.4,87.3 578.2,88.0 578.0,88.7 576.0,88.7 575.8,88.0 575.6,87.3 575.4,86.6 575.2,85.9 575.0,85.3 574.6,84.6 574.2,83.9 573.8,83.2 573.4,82.5 573.0,81.8 572.7,81.1 572.3,80.4 571.9,79.7 571.6,79.1 571.2,78.4 570.9,77.7 570.5,77.0 570.2,76.3 569.9,75.6 569.6,74.9 569.3,74.2 569.0,73.6 568.7,72.9 568.4,72.2 568.1,71.5 567.8,70.8 567.5,70.1 567.3,69.4 567.0,68.7 566.8,68.0 566.6,67.4 566.4,66.7 566.1,66.0 566.0,65.3 565.8,64.6 565.6,63.9 565.5,63.2 565.4,62.5 565.4,61.8 565.4,61.2 565.5,60.5 565.6,59.8 565.7,59.1 565.8,58.4 566.0,57.7 566.2,57.0 566.4,56.3 566.6,55.6 566.9,55.0 567.2,54.3 567.5,53.6 567.8,52.9 568.2,52.2 568.5,51.5 568.9,50.8 569.3,50.1 569.8,49.5 570.2,48.8 570.7,48.1 571.2,47.4 571.7,46.7 572.2,46.0 572.7,45.3 573.3,44.6 573.9,43.9 574.5,43.3 574.9,42.6 575.3,41.9 575.7,41.2 576.0,40.5ZM608.0,31.7 608.3,32.4 608.6,33.0 608.9,33.7 609.2,34.4 609.6,35.1 610.0,35.7 610.5,36.4 611.0,37.1 611.5,37.8 611.9,38.4 612.4,39.1 612.8,39.8 613.2,40.4 613.6,41.1 614.0,41.8 614.4,42.5 614.7,43.1 615.1,43.8 615.4,44.5 615.8,45.2 616.1,45.8 616.4,46.5 616.7,47.2 617.0,47.8 617.3,48.5 617.5,49.2 617.8,49.9 618.0,50.5 618.2,51.2 618.4,51.9 618.6,52.6 618.8,53.2 618.9,53.9 619.1,54.6 619.2,55.2 619.3,55.9 619.4,56.6 619.4,57.3 619.4,57.9 619.4,58.6 619.3,59.3 619.1,60.0 618.9,60.6 618.7,61.3 618.4,62.0 618.1,62.7 617.8,63.3 617.5,64.0 617.2,64.7 616.8,65.3 616.5,66.0 616.1,66.7 615.7,67.4 615.3,68.0 614.9,68.7 614.4,69.4 614.0,70.1 613.5,70.7 613.0,71.4 612.5,72.1 612.0,72.7 611.5,73.4 611.0,74.1 610.4,74.8 609.8,75.4 609.3,76.1 608.9,76.8 608.6,77.5 608.3,78.1 608.0,78.8 606.0,78.8 605.7,78.1 605.4,77.5 605.1,76.8 604.7,76.1 604.2,75.4 603.6,74.8 603.0,74.1 602.5,73.4 602.0,72.7 601.5,72.1 601.0,71.4 600.5,70.7 600.0,70.1 599.6,69.4 599.1,68.7 598.7,68.0 598.3,67.4 597.9,66.7 597.5,66.0 597.2,65.3 596.8,64.7 596.5,64.0 596.2,63.3 595.9,62.7 595.6,62.0 595.3,61.3 595.1,60.6 594.9,60.0 594.7,59.3 594.6,58.6 594.6,57.9 594.6,57.3 594.6,56.6 594.7,55.9 594.8,55.2 594.9,54.6 595.1,53.9 595.2,53.2 595.4,52.6 595.6,51.9 595.8,51.2 596.0,50.5 596.2,49.9 596.5,49.2 596.7,48.5 597.0,47.8 597.3,47.2 597.6,46.5 597.9,45.8 598.2,45.2 598.6,44.5 598.9,43.8 599.3,43.1 599.6,42.5 600.0,41.8 600.4,41.1 600.8,40.4 601.2,39.8 601.6,39.1 602.1,38.4 602.5,37.8 603.0,37.1 603.5,36.4 604.0,35.7 604.4,35.1 604.8,34.4 605.1,33.7 605.4,33.0 605.7,32.4 606.0,31.7ZM638.0,28.0 638.5,28.5 639.1,29.0 639.7,29.6 640.4,30.1 641.2,30.6 641.9,31.1 642.7,31.7 643.4,32.2 644.0,32.7 644.6,33.2 645.2,33.8 645.8,34.3 646.3,34.8 646.8,35.3 647.2,35.8 647.6,36.4 648.0,36.9 648.4,37.4 648.7,37.9 649.0,38.5 649.2,39.0 649.4,39.5 649.6,40.0 649.8,40.5 649.9,41.1 650.0,41.6 650.0,42.1 650.0,42.6 650.0,43.2 649.9,43.7 649.7,44.2 649.5,44.7 649.2,45.3 649.0,45.8 648.8,46.3 648.6,46.8 648.3,47.3 648.1,47.9 647.8,48.4 647.5,48.9 647.2,49.4 646.9,50.0 646.6,50.5 646.4,51.0 646.0,51.5 645.7,52.1 645.4,52.6 645.1,53.1 644.8,53.6 644.4,54.1 644.1,54.7 643.8,55.2 643.4,55.7 643.1,56.2 642.7,56.8 642.4,57.3 642.0,57.8 641.6,58.3 641.3,58.8 640.9,59.4 640.5,59.9 640.1,60.4 639.7,60.9 639.3,61.5 639.0,62.0 638.8,62.5 638.6,63.0 638.4,63.6 638.2,64.1 638.0,64.6 636.0,64.6 635.8,64.1 635.6,63.6 635.4,63.0 635.2,62.5 635.0,62.0 634.7,61.5 634.3,60.9 633.9,60.4 633.5,59.9 633.1,59.4 632.7,58.8 632.4,58.3 632.0,57.8 631.6,57.3 631.3,56.8 630.9,56.2 630.6,55.7 630.2,55.2 629.9,54.7 629.6,54.1 629.2,53.6 628.9,53.1 628.6,52.6 628.3,52.1 628.0,51.5 627.6,51.0 627.4,50.5 627.1,50.0 626.8,49.4 626.5,48.9 626.2,48.4 625.9,47.9 625.7,47.3 625.4,46.8 625.2,46.3 625.0,45.8 624.8,45.3 624.5,44.7 624.3,44.2 624.1,43.7 624.0,43.2 624.0,42.6 624.0,42.1 624.0,41.6 624.1,41.1 624.2,40.5 624.4,40.0 624.6,39.5 624.8,39.0 625.0,38.5 625.3,37.9 625.6,37.4 626.0,36.9 626.4,36.4 626.8,35.8 627.2,35.3 627.7,34.8 628.2,34.3 628.8,33.8 629.4,33.2 630.0,32.7 630.6,32.2 631.3,31.7 632.1,31.1 632.8,30.6 633.6,30.1 634.3,29.6 634.9,29.0 635.5,28.5 636.0,28.0ZM668.0,25.8 668.5,26.4 669.1,26.9 669.6,27.5 670.3,28.0 671.1,28.6 671.9,29.1 672.6,29.7 673.2,30.2 673.8,30.8 674.4,31.3 675.0,31.9 675.5,32.5 676.0,33.0 676.4,33.6 676.9,34.1 677.2,34.7 677.6,35.2 677.9,35.8 678.2,36.3 678.4,36.9 678.6,37.4 678.8,38.0 678.9,38.5 679.0,39.1 679.1,39.7 679.1,40.2 679.1,40.8 679.1,41.3 678.9,41.9 678.7,42.4 678.5,43.0 678.3,43.5 678.1,44.1 677.9,44.6 677.7,45.2 677.5,45.8 677.2,46.3 677.0,46.9 676.8,47.4 676.5,48.0 676.2,48.5 676.0,49.1 675.7,49.6 675.4,50.2 675.2,50.7 674.9,51.3 674.6,51.9 674.3,52.4 674.0,53.0 673.7,53.5 673.4,54.1 673.1,54.6 672.8,55.2 672.5,55.7 672.1,56.3 671.8,56.8 671.5,57.4 671.2,57.9 670.8,58.5 670.5,59.1 670.1,59.6 669.7,60.2 669.4,60.7 669.1,61.3 668.8,61.8 668.6,62.4 668.5,62.9 668.3,63.5 668.1,64.0 668.0,64.6 666.0,64.6 665.9,64.0 665.7,63.5 665.5,62.9 665.4,62.4 665.2,61.8 664.9,61.3 664.6,60.7 664.3,60.2 663.9,59.6 663.5,59.1 663.2,58.5 662.8,57.9 662.5,57.4 662.2,56.8 661.9,56.3 661.5,55.7 661.2,55.2 660.9,54.6 660.6,54.1 660.3,53.5 660.0,53.0 659.7,52.4 659.4,51.9 659.1,51.3 658.8,50.7 658.6,50.2 658.3,49.6 658.0,49.1 657.8,48.5 657.5,48.0 657.2,47.4 657.0,46.9 656.8,46.3 656.5,45.8 656.3,45.2 656.1,44.6 655.9,44.1 655.7,43.5 655.5,43.0 655.3,42.4 655.1,41.9 654.9,41.3 654.9,40.8 654.9,40.2 654.9,39.7 655.0,39.1 655.1,38.5 655.2,38.0 655.4,37.4 655.6,36.9 655.8,36.3 656.1,35.8 656.4,35.2 656.8,34.7 657.1,34.1 657.6,33.6 658.0,33.0 658.5,32.5 659.0,31.9 659.6,31.3 660.2,30.8 660.8,30.2 661.4,29.7 662.1,29.1 662.9,28.6 663.7,28.0 664.4,27.5 664.9,26.9 665.5,26.4 666.0,25.8Z" fill="none" stroke="#FFA07A" stroke-width="1.9" stroke-linejoin="round"/><path d="M427.0,22.3 L457.0,22.3 L487.0,43.9 L517.0,29.6 L547.0,30.7 L577.0,40.5 L607.0,31.7 L637.0,28.0 L667.0,25.8" fill="none" stroke="#bababa" stroke-width="1.7" stroke-dasharray="6.4,6.05"/><path d="M427.0,128.8 L457.0,111.4 L487.0,114.4 L517.0,106.3 L547.0,85.4 L577.0,88.7 L607.0,78.8 L637.0,64.6 L667.0,64.6" fill="none" stroke="#bababa" stroke-width="1.7" stroke-dasharray="6.4,6.05"/><path d="M419.5 78.7h15M449.5 78.1h15M479.5 74.0h15M509.5 69.5h15M539.5 58.7h15M569.5 63.9h15M599.5 58.0h15M629.5 44.9h15M659.5 41.2h15" stroke="#B22222" stroke-width="3.8"/><rect x="409.3" y="0.7" width="275.59999999999997" height="171.60000000000002" fill="none" stroke="#555" stroke-width="1"/><line x1="402.5" y1="15.1" x2="409.3" y2="15.1" stroke="#000" stroke-width="1.5"/><text x="398.8" y="19.8" font-size="14.5" text-anchor="end">3.0</text><line x1="402.5" y1="50.8" x2="409.3" y2="50.8" stroke="#000" stroke-width="1.5"/><text x="398.8" y="55.5" font-size="14.5" text-anchor="end">3.5</text><line x1="402.5" y1="86.4" x2="409.3" y2="86.4" stroke="#000" stroke-width="1.5"/><text x="398.8" y="91.10000000000001" font-size="14.5" text-anchor="end">4.0</text><line x1="402.5" y1="122.1" x2="409.3" y2="122.1" stroke="#000" stroke-width="1.5"/><text x="398.8" y="126.8" font-size="14.5" text-anchor="end">4.5</text><line x1="402.5" y1="157.8" x2="409.3" y2="157.8" stroke="#000" stroke-width="1.5"/><text x="398.8" y="162.5" font-size="14.5" text-anchor="end">5.0</text><line x1="427.0" y1="172.3" x2="427.0" y2="178.60000000000002" stroke="#000" stroke-width="1.5"/><line x1="457.0" y1="172.3" x2="457.0" y2="178.60000000000002" stroke="#000" stroke-width="1.5"/><line x1="487.0" y1="172.3" x2="487.0" y2="178.60000000000002" stroke="#000" stroke-width="1.5"/><line x1="517.0" y1="172.3" x2="517.0" y2="178.60000000000002" stroke="#000" stroke-width="1.5"/><line x1="547.0" y1="172.3" x2="547.0" y2="178.60000000000002" stroke="#000" stroke-width="1.5"/><line x1="577.0" y1="172.3" x2="577.0" y2="178.60000000000002" stroke="#000" stroke-width="1.5"/><line x1="607.0" y1="172.3" x2="607.0" y2="178.60000000000002" stroke="#000" stroke-width="1.5"/><line x1="637.0" y1="172.3" x2="637.0" y2="178.60000000000002" stroke="#000" stroke-width="1.5"/><line x1="667.0" y1="172.3" x2="667.0" y2="178.60000000000002" stroke="#000" stroke-width="1.5"/><text x="667.0" y="163.0" font-size="17" font-weight="bold" text-anchor="middle">f</text><text transform="translate(365.2,87.4) rotate(-90)" font-size="14.5" text-anchor="middle"><tspan font-style="italic">δ</tspan><tspan font-size="10.5" dy="-7.2">18</tspan><tspan dy="7.2">O</tspan><tspan dx="-1.2"> (</tspan><tspan dx="0.4">‰</tspan><tspan dx="0.5">)</tspan></text><path d="M424.5 281.8h0M428.6 318.6h0M425.1 294.8h0M425.2 312.9h0M425.7 300.0h0M427.4 287.4h0M427.2 296.3h0M428.8 312.6h0M426.3 283.7h0M426.5 282.3h0M426.4 291.2h0M423.4 294.3h0M429.9 300.9h0M425.6 311.4h0M428.9 291.3h0M428.9 308.2h0M429.5 296.9h0M428.5 300.4h0M459.9 258.3h0M454.8 338.0h0M458.3 327.9h0M454.9 313.1h0M453.5 291.9h0M454.0 277.9h0M454.5 309.1h0M460.6 315.5h0M460.3 281.9h0M454.6 290.2h0M456.6 301.6h0M459.2 279.4h0M459.1 273.5h0M459.9 309.0h0M454.3 328.9h0M456.1 275.8h0M457.8 333.5h0M456.3 331.5h0M455.3 300.1h0M456.1 330.4h0M456.0 321.5h0M460.0 325.2h0M458.5 269.4h0M456.0 269.4h0M457.3 326.0h0M456.0 299.8h0M457.9 308.9h0M459.3 282.7h0M456.1 318.8h0M455.6 281.6h0M486.5 239.3h0M489.4 324.8h0M485.1 296.2h0M488.1 266.7h0M486.4 281.6h0M487.9 258.4h0M486.8 295.6h0M484.9 243.9h0M486.4 255.4h0M485.4 250.4h0M486.6 292.1h0M484.0 286.7h0M487.6 244.2h0M488.2 278.3h0M490.5 291.4h0M483.9 271.4h0M487.1 261.2h0M487.5 297.8h0M488.5 270.4h0M483.4 304.7h0M483.6 243.9h0M487.0 276.5h0M487.4 268.4h0M487.2 297.1h0M488.2 284.0h0M483.9 253.3h0M484.9 270.6h0M486.0 277.6h0M485.7 289.6h0M490.4 251.3h0M489.5 279.9h0M488.9 299.2h0M488.0 256.1h0M489.3 309.9h0M489.1 248.1h0M518.8 236.9h0M517.3 322.3h0M513.5 261.4h0M520.2 296.6h0M515.1 298.2h0M514.2 283.5h0M516.2 257.4h0M520.0 288.3h0M516.6 308.1h0M519.1 257.0h0M515.7 266.2h0M515.6 303.2h0M513.9 296.0h0M515.0 265.5h0M520.3 290.9h0M516.5 269.3h0M519.6 281.9h0M513.9 283.6h0M518.2 250.0h0M517.4 289.7h0M515.0 267.4h0M519.2 243.3h0M517.6 279.0h0M516.1 302.0h0M516.4 237.2h0M515.4 263.6h0M516.9 305.7h0M519.6 291.5h0M518.1 311.0h0M517.3 250.0h0M514.2 266.9h0M513.8 258.1h0M514.9 257.5h0M517.4 308.3h0M516.2 311.1h0M550.6 235.9h0M546.1 295.1h0M547.8 283.5h0M544.2 292.8h0M545.0 275.6h0M549.8 286.4h0M545.1 282.6h0M543.4 267.7h0M548.8 275.3h0M550.3 255.0h0M545.7 250.8h0M545.5 236.0h0M547.0 247.2h0M547.0 271.0h0M546.2 287.9h0M548.3 254.6h0M549.3 285.0h0M543.4 292.4h0M546.3 283.3h0M547.0 294.5h0M549.3 289.0h0M543.9 269.7h0M550.4 280.2h0M545.8 283.0h0M544.1 282.8h0M546.1 260.2h0M543.9 263.0h0M545.8 248.1h0M543.6 272.2h0M545.7 293.2h0M546.3 288.6h0M548.1 270.9h0M549.9 294.0h0M547.4 272.8h0M549.3 260.5h0M545.0 274.6h0M544.6 283.4h0M549.3 292.6h0M549.1 288.6h0M546.6 253.0h0M549.0 288.9h0M543.8 279.4h0M549.5 256.2h0M545.3 271.0h0M546.6 246.0h0M544.0 261.6h0M549.6 269.7h0M549.5 281.1h0M543.9 283.8h0M547.8 277.0h0M545.0 258.6h0M546.7 282.8h0M547.4 247.6h0M550.3 248.4h0M546.7 266.5h0M544.2 283.6h0M546.6 271.7h0M547.5 266.8h0M543.5 248.9h0M550.1 270.9h0M549.0 275.2h0M547.6 265.1h0M545.4 258.5h0M546.2 289.8h0M546.1 245.0h0M550.1 253.5h0M544.9 271.5h0M549.2 264.6h0M549.6 245.9h0M545.1 265.2h0M576.7 233.7h0M574.9 319.7h0M575.0 274.5h0M574.6 265.9h0M573.6 290.3h0M578.6 266.0h0M574.7 240.4h0M578.3 263.7h0M576.1 278.9h0M574.1 275.0h0M575.0 278.9h0M578.6 302.3h0M575.7 241.0h0M577.4 272.1h0M574.0 249.6h0M580.2 281.9h0M576.7 284.0h0M579.2 296.2h0M575.0 256.6h0M580.2 261.9h0M575.1 302.3h0M578.3 251.0h0M579.9 253.1h0M578.0 280.9h0M574.2 246.3h0M579.7 234.2h0M579.0 237.3h0M578.3 244.6h0M577.9 289.6h0M573.8 263.9h0M575.6 267.3h0M575.8 287.5h0M575.1 243.7h0M579.2 251.3h0M574.3 274.9h0M575.3 276.8h0M574.7 283.4h0M574.6 253.9h0M579.7 283.9h0M573.7 291.1h0M573.7 243.8h0M578.9 284.0h0M575.6 267.9h0M575.5 288.7h0M574.6 251.1h0M577.8 265.5h0M574.2 280.7h0M576.5 263.3h0M578.0 260.2h0M573.4 249.8h0M576.6 255.6h0M574.4 261.9h0M573.7 288.3h0M579.1 304.4h0M573.6 301.1h0M574.7 286.7h0M580.3 306.9h0M573.7 268.8h0M576.6 274.6h0M578.5 250.9h0M607.8 204.8h0M606.3 308.8h0M606.1 263.9h0M606.7 231.9h0M605.9 267.4h0M609.8 302.3h0M606.3 228.6h0M608.8 292.4h0M607.4 244.7h0M606.6 232.7h0M607.7 256.0h0M609.0 260.5h0M606.8 282.7h0M608.2 283.9h0M605.4 291.3h0M608.3 240.7h0M605.1 289.2h0M605.4 239.1h0M610.1 224.8h0M608.4 270.4h0M608.0 263.5h0M605.6 254.1h0M607.5 253.9h0M605.5 293.5h0M605.0 260.5h0M608.0 272.7h0M604.4 260.6h0M603.6 277.2h0M608.2 292.2h0M606.0 251.0h0M605.9 248.5h0M607.9 266.0h0M609.7 207.3h0M608.1 228.6h0M604.3 247.0h0M635.9 243.1h0M637.0 303.3h0M633.6 299.1h0M639.4 264.4h0M633.5 261.3h0M639.0 270.0h0M635.5 277.8h0M636.0 280.0h0M639.3 293.2h0M633.6 274.8h0M636.7 265.9h0M634.5 267.5h0M638.8 268.3h0M638.7 258.3h0M634.9 267.5h0M639.1 259.0h0M634.5 261.7h0M634.5 267.4h0M634.6 257.5h0M636.4 271.5h0M640.1 267.7h0M635.4 257.3h0M636.6 254.0h0M637.3 265.6h0M639.5 289.0h0M634.9 284.5h0M635.8 264.0h0M634.4 264.1h0M640.2 265.9h0M638.8 273.9h0M637.0 300.3h0M636.0 249.3h0M637.6 267.1h0M636.0 276.3h0M636.0 247.8h0M667.6 229.9h0M665.3 291.2h0M669.0 272.0h0M665.3 236.1h0M668.1 291.1h0M666.5 255.9h0M667.7 258.7h0M667.3 274.6h0M666.6 269.5h0M668.7 250.1h0M669.2 253.1h0M663.7 264.2h0M663.9 246.3h0M667.1 258.9h0M668.9 232.0h0M668.7 238.3h0M668.5 268.3h0M665.8 272.8h0M667.2 262.9h0M667.5 266.7h0M664.1 236.9h0M668.2 275.1h0M663.6 283.0h0M667.1 271.9h0M666.6 287.6h0M666.9 252.4h0M669.5 258.5h0M668.5 246.3h0M667.7 258.8h0M666.8 279.7h0" stroke="#FFA07A" stroke-width="6.3" stroke-linecap="round" fill="none"/><path d="M431.6,281.8 431.8,282.3 432.1,282.9 432.4,283.4 432.7,283.9 432.9,284.4 432.9,285.0 432.9,285.5 432.9,286.0 432.9,286.5 432.9,287.1 432.9,287.6 432.9,288.1 432.9,288.6 432.9,289.2 432.9,289.7 432.9,290.2 432.8,290.7 432.8,291.3 432.8,291.8 432.8,292.3 432.8,292.8 432.8,293.4 432.7,293.9 432.7,294.4 432.6,294.9 432.6,295.5 432.5,296.0 432.5,296.5 432.4,297.0 432.4,297.6 432.3,298.1 432.2,298.6 432.1,299.1 432.0,299.7 432.0,300.2 431.9,300.7 431.8,301.3 431.7,301.8 431.6,302.3 431.5,302.8 431.4,303.4 431.3,303.9 431.2,304.4 431.1,304.9 431.0,305.5 430.9,306.0 430.8,306.5 430.7,307.0 430.6,307.6 430.5,308.1 430.4,308.6 430.3,309.1 430.1,309.7 430.0,310.2 429.9,310.7 429.8,311.2 429.6,311.8 429.5,312.3 429.4,312.8 429.2,313.3 429.1,313.9 429.0,314.4 428.8,314.9 428.7,315.4 428.6,316.0 428.4,316.5 428.3,317.0 428.2,317.5 428.0,318.1 427.9,318.6 426.1,318.6 426.0,318.1 425.8,317.5 425.7,317.0 425.6,316.5 425.4,316.0 425.3,315.4 425.2,314.9 425.0,314.4 424.9,313.9 424.8,313.3 424.6,312.8 424.5,312.3 424.4,311.8 424.2,311.2 424.1,310.7 424.0,310.2 423.9,309.7 423.7,309.1 423.6,308.6 423.5,308.1 423.4,307.6 423.3,307.0 423.2,306.5 423.1,306.0 423.0,305.5 422.9,304.9 422.8,304.4 422.7,303.9 422.6,303.4 422.5,302.8 422.4,302.3 422.3,301.8 422.2,301.3 422.1,300.7 422.0,300.2 422.0,299.7 421.9,299.1 421.8,298.6 421.7,298.1 421.6,297.6 421.6,297.0 421.5,296.5 421.5,296.0 421.4,295.5 421.4,294.9 421.3,294.4 421.3,293.9 421.2,293.4 421.2,292.8 421.2,292.3 421.2,291.8 421.2,291.3 421.2,290.7 421.1,290.2 421.1,289.7 421.1,289.2 421.1,288.6 421.1,288.1 421.1,287.6 421.1,287.1 421.1,286.5 421.1,286.0 421.1,285.5 421.1,285.0 421.1,284.4 421.3,283.9 421.6,283.4 421.9,282.9 422.2,282.3 422.4,281.8ZM457.9,258.3 458.2,259.4 458.5,260.6 458.8,261.7 459.2,262.9 459.5,264.0 459.8,265.1 460.1,266.3 460.3,267.4 460.5,268.5 460.6,269.7 460.7,270.8 460.7,272.0 460.8,273.1 460.9,274.2 460.9,275.4 461.0,276.5 461.0,277.7 461.1,278.8 461.1,279.9 461.2,281.1 461.2,282.2 461.2,283.3 461.3,284.5 461.3,285.6 461.3,286.8 461.4,287.9 461.4,289.0 461.4,290.2 461.4,291.3 461.5,292.5 461.5,293.6 461.5,294.7 461.5,295.9 461.5,297.0 461.5,298.1 461.5,299.3 461.5,300.4 461.5,301.6 461.5,302.7 461.5,303.8 461.5,305.0 461.5,306.1 461.5,307.3 461.5,308.4 461.5,309.5 461.4,310.7 461.4,311.8 461.3,313.0 461.3,314.1 461.2,315.2 461.2,316.4 461.1,317.5 461.1,318.6 461.0,319.8 460.9,320.9 460.8,322.1 460.8,323.2 460.7,324.3 460.6,325.5 460.5,326.6 460.3,327.8 460.1,328.9 459.8,330.0 459.6,331.2 459.3,332.3 459.0,333.4 458.7,334.6 458.4,335.7 458.2,336.9 457.9,338.0 456.1,338.0 455.8,336.9 455.6,335.7 455.3,334.6 455.0,333.4 454.7,332.3 454.4,331.2 454.2,330.0 453.9,328.9 453.7,327.8 453.5,326.6 453.4,325.5 453.3,324.3 453.2,323.2 453.2,322.1 453.1,320.9 453.0,319.8 452.9,318.6 452.9,317.5 452.8,316.4 452.8,315.2 452.7,314.1 452.7,313.0 452.6,311.8 452.6,310.7 452.5,309.5 452.5,308.4 452.5,307.3 452.5,306.1 452.5,305.0 452.5,303.8 452.5,302.7 452.5,301.6 452.5,300.4 452.5,299.3 452.5,298.1 452.5,297.0 452.5,295.9 452.5,294.7 452.5,293.6 452.5,292.5 452.6,291.3 452.6,290.2 452.6,289.0 452.6,287.9 452.7,286.8 452.7,285.6 452.7,284.5 452.8,283.3 452.8,282.2 452.8,281.1 452.9,279.9 452.9,278.8 453.0,277.7 453.0,276.5 453.1,275.4 453.1,274.2 453.2,273.1 453.3,272.0 453.3,270.8 453.4,269.7 453.5,268.5 453.7,267.4 453.9,266.3 454.2,265.1 454.5,264.0 454.8,262.9 455.2,261.7 455.5,260.6 455.8,259.4 456.1,258.3ZM487.8,239.3 488.0,240.5 488.3,241.7 488.5,243.0 488.7,244.2 488.9,245.4 489.2,246.6 489.4,247.9 489.6,249.1 489.8,250.3 490.0,251.5 490.1,252.7 490.3,254.0 490.4,255.2 490.5,256.4 490.6,257.6 490.7,258.8 490.8,260.1 490.9,261.3 491.0,262.5 491.1,263.7 491.2,264.9 491.2,266.2 491.3,267.4 491.4,268.6 491.5,269.8 491.5,271.1 491.6,272.3 491.7,273.5 491.7,274.7 491.8,275.9 491.8,277.2 491.9,278.4 491.9,279.6 492.0,280.8 492.0,282.1 492.0,283.3 492.0,284.5 492.0,285.7 492.0,286.9 492.0,288.2 492.0,289.4 492.0,290.6 492.0,291.8 491.9,293.0 491.9,294.3 491.8,295.5 491.8,296.7 491.7,297.9 491.6,299.2 491.6,300.4 491.5,301.6 491.4,302.8 491.3,304.0 491.2,305.3 491.1,306.5 491.0,307.7 490.9,308.9 490.8,310.1 490.6,311.4 490.5,312.6 490.3,313.8 490.0,315.0 489.8,316.2 489.5,317.5 489.2,318.7 488.9,319.9 488.6,321.1 488.4,322.4 488.1,323.6 487.8,324.8 486.2,324.8 485.9,323.6 485.6,322.4 485.4,321.1 485.1,319.9 484.8,318.7 484.5,317.5 484.2,316.2 484.0,315.0 483.7,313.8 483.5,312.6 483.4,311.4 483.2,310.1 483.1,308.9 483.0,307.7 482.9,306.5 482.8,305.3 482.7,304.0 482.6,302.8 482.5,301.6 482.4,300.4 482.4,299.2 482.3,297.9 482.2,296.7 482.2,295.5 482.1,294.3 482.1,293.0 482.0,291.8 482.0,290.6 482.0,289.4 482.0,288.2 482.0,286.9 482.0,285.7 482.0,284.5 482.0,283.3 482.0,282.1 482.0,280.8 482.1,279.6 482.1,278.4 482.2,277.2 482.2,275.9 482.3,274.7 482.3,273.5 482.4,272.3 482.5,271.1 482.5,269.8 482.6,268.6 482.7,267.4 482.8,266.2 482.8,264.9 482.9,263.7 483.0,262.5 483.1,261.3 483.2,260.1 483.3,258.8 483.4,257.6 483.5,256.4 483.6,255.2 483.7,254.0 483.9,252.7 484.0,251.5 484.2,250.3 484.4,249.1 484.6,247.9 484.8,246.6 485.1,245.4 485.3,244.2 485.5,243.0 485.7,241.7 486.0,240.5 486.2,239.3ZM517.8,236.9 518.1,238.1 518.4,239.3 518.6,240.6 518.9,241.8 519.2,243.0 519.5,244.2 519.7,245.4 519.9,246.7 520.1,247.9 520.3,249.1 520.4,250.3 520.5,251.5 520.6,252.8 520.7,254.0 520.8,255.2 520.9,256.4 520.9,257.6 521.0,258.9 521.1,260.1 521.2,261.3 521.2,262.5 521.3,263.7 521.4,265.0 521.5,266.2 521.5,267.4 521.6,268.6 521.6,269.8 521.7,271.1 521.7,272.3 521.8,273.5 521.8,274.7 521.9,275.9 521.9,277.2 521.9,278.4 522.0,279.6 522.0,280.8 522.0,282.0 522.0,283.3 522.0,284.5 522.0,285.7 522.0,286.9 522.0,288.1 522.0,289.4 522.0,290.6 522.0,291.8 522.0,293.0 522.0,294.2 521.9,295.5 521.9,296.7 521.9,297.9 521.8,299.1 521.8,300.3 521.7,301.6 521.7,302.8 521.6,304.0 521.5,305.2 521.4,306.4 521.4,307.7 521.3,308.9 521.2,310.1 521.1,311.3 520.8,312.5 520.5,313.8 520.2,315.0 519.8,316.2 519.4,317.4 519.0,318.6 518.6,319.9 518.2,321.1 517.8,322.3 516.2,322.3 515.8,321.1 515.4,319.9 515.0,318.6 514.6,317.4 514.2,316.2 513.8,315.0 513.5,313.8 513.2,312.5 512.9,311.3 512.8,310.1 512.7,308.9 512.6,307.7 512.6,306.4 512.5,305.2 512.4,304.0 512.3,302.8 512.3,301.6 512.2,300.3 512.2,299.1 512.1,297.9 512.1,296.7 512.1,295.5 512.0,294.2 512.0,293.0 512.0,291.8 512.0,290.6 512.0,289.4 512.0,288.1 512.0,286.9 512.0,285.7 512.0,284.5 512.0,283.3 512.0,282.0 512.0,280.8 512.0,279.6 512.1,278.4 512.1,277.2 512.1,275.9 512.2,274.7 512.2,273.5 512.3,272.3 512.3,271.1 512.4,269.8 512.4,268.6 512.5,267.4 512.5,266.2 512.6,265.0 512.7,263.7 512.8,262.5 512.8,261.3 512.9,260.1 513.0,258.9 513.1,257.6 513.1,256.4 513.2,255.2 513.3,254.0 513.4,252.8 513.5,251.5 513.6,250.3 513.7,249.1 513.9,247.9 514.1,246.7 514.3,245.4 514.5,244.2 514.8,243.0 515.1,241.8 515.4,240.6 515.6,239.3 515.9,238.1 516.2,236.9ZM548.7,235.9 549.0,236.7 549.2,237.6 549.5,238.4 549.8,239.3 550.1,240.1 550.4,241.0 550.6,241.8 550.9,242.7 551.0,243.5 551.2,244.4 551.3,245.2 551.4,246.0 551.4,246.9 551.5,247.7 551.6,248.6 551.6,249.4 551.7,250.3 551.8,251.1 551.8,252.0 551.9,252.8 551.9,253.7 552.0,254.5 552.1,255.4 552.1,256.2 552.1,257.0 552.2,257.9 552.2,258.7 552.3,259.6 552.3,260.4 552.3,261.3 552.4,262.1 552.4,263.0 552.4,263.8 552.5,264.7 552.5,265.5 552.5,266.3 552.5,267.2 552.5,268.0 552.5,268.9 552.5,269.7 552.5,270.6 552.5,271.4 552.5,272.3 552.5,273.1 552.5,274.0 552.5,274.8 552.5,275.6 552.4,276.5 552.4,277.3 552.3,278.2 552.3,279.0 552.2,279.9 552.1,280.7 552.1,281.6 552.0,282.4 551.9,283.3 551.8,284.1 551.7,285.0 551.6,285.8 551.5,286.6 551.3,287.5 551.2,288.3 551.0,289.2 550.8,290.0 550.5,290.9 550.1,291.7 549.8,292.6 549.4,293.4 549.0,294.3 548.7,295.1 545.3,295.1 545.0,294.3 544.6,293.4 544.2,292.6 543.9,291.7 543.5,290.9 543.2,290.0 543.0,289.2 542.8,288.3 542.7,287.5 542.5,286.6 542.4,285.8 542.3,285.0 542.2,284.1 542.1,283.3 542.0,282.4 541.9,281.6 541.9,280.7 541.8,279.9 541.7,279.0 541.7,278.2 541.6,277.3 541.6,276.5 541.5,275.6 541.5,274.8 541.5,274.0 541.5,273.1 541.5,272.3 541.5,271.4 541.5,270.6 541.5,269.7 541.5,268.9 541.5,268.0 541.5,267.2 541.5,266.3 541.5,265.5 541.5,264.7 541.6,263.8 541.6,263.0 541.6,262.1 541.7,261.3 541.7,260.4 541.7,259.6 541.8,258.7 541.8,257.9 541.9,257.0 541.9,256.2 541.9,255.4 542.0,254.5 542.1,253.7 542.1,252.8 542.2,252.0 542.2,251.1 542.3,250.3 542.4,249.4 542.4,248.6 542.5,247.7 542.6,246.9 542.6,246.0 542.7,245.2 542.8,244.4 543.0,243.5 543.1,242.7 543.4,241.8 543.6,241.0 543.9,240.1 544.2,239.3 544.5,238.4 544.8,237.6 545.0,236.7 545.3,235.9ZM578.6,233.7 578.8,234.9 579.1,236.2 579.4,237.4 579.7,238.6 580.0,239.8 580.3,241.1 580.5,242.3 580.7,243.5 580.9,244.8 581.0,246.0 581.1,247.2 581.1,248.4 581.2,249.7 581.3,250.9 581.4,252.1 581.5,253.4 581.5,254.6 581.6,255.8 581.7,257.0 581.7,258.3 581.8,259.5 581.8,260.7 581.9,262.0 581.9,263.2 581.9,264.4 582.0,265.6 582.0,266.9 582.0,268.1 582.0,269.3 582.0,270.6 582.0,271.8 582.0,273.0 582.0,274.2 582.0,275.5 582.0,276.7 582.0,277.9 581.9,279.2 581.9,280.4 581.8,281.6 581.8,282.8 581.7,284.1 581.6,285.3 581.6,286.5 581.5,287.8 581.4,289.0 581.3,290.2 581.2,291.4 581.1,292.7 580.9,293.9 580.8,295.1 580.7,296.4 580.5,297.6 580.3,298.8 579.9,300.0 579.4,301.3 578.9,302.5 578.4,303.7 578.2,305.0 578.1,306.2 578.0,307.4 577.9,308.6 577.8,309.9 577.8,311.1 577.7,312.3 577.7,313.6 577.7,314.8 577.6,316.0 577.6,317.2 577.5,318.5 577.5,319.7 576.5,319.7 576.5,318.5 576.4,317.2 576.4,316.0 576.3,314.8 576.3,313.6 576.3,312.3 576.2,311.1 576.2,309.9 576.1,308.6 576.0,307.4 575.9,306.2 575.8,305.0 575.6,303.7 575.1,302.5 574.6,301.3 574.1,300.0 573.7,298.8 573.5,297.6 573.3,296.4 573.2,295.1 573.1,293.9 572.9,292.7 572.8,291.4 572.7,290.2 572.6,289.0 572.5,287.8 572.4,286.5 572.4,285.3 572.3,284.1 572.2,282.8 572.2,281.6 572.1,280.4 572.1,279.2 572.0,277.9 572.0,276.7 572.0,275.5 572.0,274.2 572.0,273.0 572.0,271.8 572.0,270.6 572.0,269.3 572.0,268.1 572.0,266.9 572.0,265.6 572.1,264.4 572.1,263.2 572.1,262.0 572.2,260.7 572.2,259.5 572.3,258.3 572.3,257.0 572.4,255.8 572.5,254.6 572.5,253.4 572.6,252.1 572.7,250.9 572.8,249.7 572.9,248.4 572.9,247.2 573.0,246.0 573.1,244.8 573.3,243.5 573.5,242.3 573.7,241.1 574.0,239.8 574.3,238.6 574.6,237.4 574.9,236.2 575.2,234.9 575.4,233.7ZM607.8,204.8 607.9,206.3 608.0,207.8 608.1,209.3 608.2,210.7 608.3,212.2 608.4,213.7 608.5,215.2 608.6,216.7 608.7,218.2 608.8,219.7 608.9,221.1 609.0,222.6 609.1,224.1 609.2,225.6 609.3,227.1 609.4,228.6 609.5,230.1 609.6,231.5 609.7,233.0 609.8,234.5 609.9,236.0 610.0,237.5 610.1,239.0 610.3,240.5 610.4,241.9 610.5,243.4 610.6,244.9 610.7,246.4 610.9,247.9 611.0,249.4 611.1,250.9 611.2,252.3 611.2,253.8 611.3,255.3 611.4,256.8 611.4,258.3 611.5,259.8 611.5,261.3 611.5,262.7 611.5,264.2 611.5,265.7 611.5,267.2 611.5,268.7 611.5,270.2 611.5,271.7 611.4,273.1 611.4,274.6 611.3,276.1 611.3,277.6 611.2,279.1 611.2,280.6 611.1,282.1 611.0,283.5 611.0,285.0 610.9,286.5 610.8,288.0 610.8,289.5 610.7,291.0 610.5,292.5 610.4,293.9 610.2,295.4 609.9,296.9 609.7,298.4 609.4,299.9 609.1,301.4 608.9,302.9 608.6,304.3 608.3,305.8 608.1,307.3 607.8,308.8 606.2,308.8 605.9,307.3 605.7,305.8 605.4,304.3 605.1,302.9 604.9,301.4 604.6,299.9 604.3,298.4 604.1,296.9 603.8,295.4 603.6,293.9 603.5,292.5 603.3,291.0 603.2,289.5 603.2,288.0 603.1,286.5 603.0,285.0 603.0,283.5 602.9,282.1 602.8,280.6 602.8,279.1 602.7,277.6 602.7,276.1 602.6,274.6 602.6,273.1 602.5,271.7 602.5,270.2 602.5,268.7 602.5,267.2 602.5,265.7 602.5,264.2 602.5,262.7 602.5,261.3 602.5,259.8 602.6,258.3 602.6,256.8 602.7,255.3 602.8,253.8 602.8,252.3 602.9,250.9 603.0,249.4 603.1,247.9 603.3,246.4 603.4,244.9 603.5,243.4 603.6,241.9 603.7,240.5 603.9,239.0 604.0,237.5 604.1,236.0 604.2,234.5 604.3,233.0 604.4,231.5 604.5,230.1 604.6,228.6 604.7,227.1 604.8,225.6 604.9,224.1 605.0,222.6 605.1,221.1 605.2,219.7 605.3,218.2 605.4,216.7 605.5,215.2 605.6,213.7 605.7,212.2 605.8,210.7 605.9,209.3 606.0,207.8 606.1,206.3 606.2,204.8ZM638.0,243.1 638.2,244.0 638.4,244.8 638.6,245.7 638.8,246.5 638.9,247.4 639.1,248.3 639.3,249.1 639.5,250.0 639.7,250.8 639.9,251.7 640.2,252.6 640.4,253.4 640.6,254.3 640.9,255.1 641.2,256.0 641.5,256.9 641.8,257.7 642.1,258.6 642.4,259.4 642.8,260.3 643.3,261.2 643.8,262.0 644.5,262.9 645.6,263.7 646.9,264.6 648.1,265.5 649.1,266.3 649.8,267.2 649.9,268.0 649.6,268.9 649.0,269.8 648.1,270.6 647.1,271.5 646.0,272.3 645.1,273.2 644.3,274.1 643.8,274.9 643.5,275.8 643.3,276.6 643.0,277.5 642.8,278.4 642.6,279.2 642.5,280.1 642.3,280.9 642.2,281.8 642.0,282.7 641.9,283.5 641.8,284.4 641.7,285.2 641.5,286.1 641.4,287.0 641.3,287.8 641.1,288.7 641.0,289.5 640.8,290.4 640.6,291.3 640.4,292.1 640.2,293.0 640.1,293.8 639.9,294.7 639.7,295.6 639.5,296.4 639.3,297.3 639.1,298.1 638.9,299.0 638.7,299.9 638.5,300.7 638.3,301.6 638.2,302.4 638.0,303.3 636.0,303.3 635.8,302.4 635.7,301.6 635.5,300.7 635.3,299.9 635.1,299.0 634.9,298.1 634.7,297.3 634.5,296.4 634.3,295.6 634.1,294.7 633.9,293.8 633.8,293.0 633.6,292.1 633.4,291.3 633.2,290.4 633.0,289.5 632.9,288.7 632.7,287.8 632.6,287.0 632.5,286.1 632.3,285.2 632.2,284.4 632.1,283.5 632.0,282.7 631.8,281.8 631.7,280.9 631.5,280.1 631.4,279.2 631.2,278.4 631.0,277.5 630.7,276.6 630.5,275.8 630.2,274.9 629.7,274.1 628.9,273.2 628.0,272.3 626.9,271.5 625.9,270.6 625.0,269.8 624.4,268.9 624.1,268.0 624.2,267.2 624.9,266.3 625.9,265.5 627.1,264.6 628.4,263.7 629.5,262.9 630.2,262.0 630.7,261.2 631.2,260.3 631.6,259.4 631.9,258.6 632.2,257.7 632.5,256.9 632.8,256.0 633.1,255.1 633.4,254.3 633.6,253.4 633.8,252.6 634.1,251.7 634.3,250.8 634.5,250.0 634.7,249.1 634.9,248.3 635.1,247.4 635.2,246.5 635.4,245.7 635.6,244.8 635.8,244.0 636.0,243.1ZM667.9,229.9 668.3,230.8 668.6,231.7 669.0,232.5 669.4,233.4 669.8,234.3 670.1,235.2 670.5,236.0 670.8,236.9 671.1,237.8 671.4,238.7 671.6,239.5 671.7,240.4 671.8,241.3 672.0,242.2 672.1,243.0 672.2,243.9 672.3,244.8 672.4,245.7 672.5,246.5 672.6,247.4 672.7,248.3 672.8,249.2 672.9,250.0 672.9,250.9 673.0,251.8 673.0,252.7 673.0,253.5 673.0,254.4 673.0,255.3 673.0,256.2 673.0,257.0 673.0,257.9 673.0,258.8 673.0,259.7 673.0,260.6 672.9,261.4 672.9,262.3 672.9,263.2 672.8,264.1 672.8,264.9 672.7,265.8 672.7,266.7 672.6,267.6 672.6,268.4 672.5,269.3 672.5,270.2 672.4,271.1 672.4,271.9 672.3,272.8 672.2,273.7 672.2,274.6 672.1,275.4 672.0,276.3 671.8,277.2 671.7,278.1 671.5,278.9 671.3,279.8 671.1,280.7 670.8,281.6 670.6,282.4 670.3,283.3 670.0,284.2 669.8,285.1 669.5,285.9 669.2,286.8 668.9,287.7 668.7,288.6 668.4,289.4 668.2,290.3 667.9,291.2 666.1,291.2 665.8,290.3 665.6,289.4 665.3,288.6 665.1,287.7 664.8,286.8 664.5,285.9 664.2,285.1 664.0,284.2 663.7,283.3 663.4,282.4 663.2,281.6 662.9,280.7 662.7,279.8 662.5,278.9 662.3,278.1 662.2,277.2 662.0,276.3 661.9,275.4 661.8,274.6 661.8,273.7 661.7,272.8 661.6,271.9 661.6,271.1 661.5,270.2 661.5,269.3 661.4,268.4 661.4,267.6 661.3,266.7 661.3,265.8 661.2,264.9 661.2,264.1 661.1,263.2 661.1,262.3 661.1,261.4 661.0,260.6 661.0,259.7 661.0,258.8 661.0,257.9 661.0,257.0 661.0,256.2 661.0,255.3 661.0,254.4 661.0,253.5 661.0,252.7 661.0,251.8 661.1,250.9 661.1,250.0 661.2,249.2 661.3,248.3 661.4,247.4 661.5,246.5 661.6,245.7 661.7,244.8 661.8,243.9 661.9,243.0 662.0,242.2 662.2,241.3 662.3,240.4 662.4,239.5 662.6,238.7 662.9,237.8 663.2,236.9 663.5,236.0 663.9,235.2 664.2,234.3 664.6,233.4 665.0,232.5 665.4,231.7 665.7,230.8 666.1,229.9Z" fill="none" stroke="#FFA07A" stroke-width="1.9" stroke-linejoin="round"/><path d="M427.0,281.8 L457.0,258.3 L487.0,239.3 L517.0,236.9 L547.0,235.9 L577.0,233.7 L607.0,204.8 L637.0,243.1 L667.0,229.9" fill="none" stroke="#bababa" stroke-width="1.7" stroke-dasharray="6.4,6.05"/><path d="M427.0,318.6 L457.0,338.0 L487.0,324.8 L517.0,322.3 L547.0,295.1 L577.0,319.7 L607.0,308.8 L637.0,303.3 L667.0,291.2" fill="none" stroke="#bababa" stroke-width="1.7" stroke-dasharray="6.4,6.05"/><path d="M419.5 293.7h15M449.5 303.3h15M479.5 287.6h15M509.5 288.6h15M539.5 272.0h15M569.5 272.0h15M599.5 264.3h15M629.5 267.8h15M659.5 255.1h15" stroke="#B22222" stroke-width="3.8"/><rect x="409.3" y="196.39999999999998" width="275.59999999999997" height="171.60000000000002" fill="none" stroke="#555" stroke-width="1"/><line x1="402.5" y1="323.5" x2="409.3" y2="323.5" stroke="#000" stroke-width="1.5"/><text x="398.8" y="328.2" font-size="14.5" text-anchor="end">0</text><line x1="402.5" y1="286.6" x2="409.3" y2="286.6" stroke="#000" stroke-width="1.5"/><text x="398.8" y="291.3" font-size="14.5" text-anchor="end">2</text><line x1="402.5" y1="249.8" x2="409.3" y2="249.8" stroke="#000" stroke-width="1.5"/><text x="398.8" y="254.5" font-size="14.5" text-anchor="end">4</text><line x1="402.5" y1="212.9" x2="409.3" y2="212.9" stroke="#000" stroke-width="1.5"/><text x="398.8" y="217.6" font-size="14.5" text-anchor="end">6</text><line x1="427.0" y1="368.0" x2="427.0" y2="374.3" stroke="#000" stroke-width="1.5"/><line x1="457.0" y1="368.0" x2="457.0" y2="374.3" stroke="#000" stroke-width="1.5"/><line x1="487.0" y1="368.0" x2="487.0" y2="374.3" stroke="#000" stroke-width="1.5"/><line x1="517.0" y1="368.0" x2="517.0" y2="374.3" stroke="#000" stroke-width="1.5"/><line x1="547.0" y1="368.0" x2="547.0" y2="374.3" stroke="#000" stroke-width="1.5"/><line x1="577.0" y1="368.0" x2="577.0" y2="374.3" stroke="#000" stroke-width="1.5"/><line x1="607.0" y1="368.0" x2="607.0" y2="374.3" stroke="#000" stroke-width="1.5"/><line x1="637.0" y1="368.0" x2="637.0" y2="374.3" stroke="#000" stroke-width="1.5"/><line x1="667.0" y1="368.0" x2="667.0" y2="374.3" stroke="#000" stroke-width="1.5"/><text x="667.0" y="357.0" font-size="17" font-weight="bold" text-anchor="middle">g</text><text transform="translate(361.2,282.2) rotate(-90)" font-size="14.5" text-anchor="middle">BWT (°C)</text><path d="M423.6 414.5h0M429.6 533.0h0M430.1 494.8h0M428.5 444.7h0M429.4 466.5h0M427.6 463.3h0M424.4 470.4h0M425.2 480.1h0M426.3 478.5h0M427.6 438.8h0M426.4 464.6h0M423.4 483.0h0M427.9 485.7h0M427.0 451.9h0M426.0 423.9h0M427.8 503.5h0M427.7 483.7h0M428.4 455.6h0M428.4 476.3h0M430.4 490.1h0M429.1 469.5h0M429.6 482.1h0M423.8 452.6h0M428.6 491.4h0M425.3 489.4h0M429.7 447.5h0M424.5 503.8h0M426.1 494.6h0M427.1 447.9h0M423.7 448.8h0M428.3 460.3h0M430.0 458.1h0M424.5 509.4h0M425.0 490.6h0M425.0 470.2h0M425.2 449.3h0M427.4 438.2h0M423.6 467.0h0M427.9 471.4h0M429.1 491.0h0M425.5 447.1h0M428.1 491.4h0M425.2 440.7h0M428.4 504.1h0M425.9 487.4h0M424.2 455.5h0M424.2 451.7h0M425.3 425.2h0M428.5 473.0h0M430.4 466.5h0M423.6 456.8h0M429.2 427.5h0M424.6 479.6h0M429.6 419.2h0M426.8 469.0h0M425.2 421.2h0M429.4 420.2h0M429.1 466.3h0M426.4 466.7h0M426.1 493.2h0M428.4 440.3h0M426.2 443.3h0M430.2 484.7h0M430.2 485.7h0M427.7 438.6h0M429.4 470.0h0M424.3 436.1h0M426.5 468.7h0M426.3 480.3h0M426.2 486.8h0M425.7 425.0h0M429.4 420.0h0M424.8 437.4h0M424.1 489.1h0M423.4 415.8h0M428.0 525.3h0M423.7 459.7h0M430.0 431.2h0M427.8 503.7h0M425.0 448.1h0M426.2 468.1h0M429.7 431.7h0M424.4 451.1h0M427.3 428.3h0M426.8 445.4h0M427.2 487.8h0M429.5 427.9h0M425.2 438.8h0M427.4 509.3h0M424.6 444.8h0M426.9 482.3h0M424.0 488.7h0M424.2 475.1h0M427.4 533.0h0M428.7 489.4h0M427.4 461.4h0M423.6 504.6h0M428.0 492.6h0M429.4 425.3h0M429.5 484.0h0M423.7 438.7h0M428.8 450.6h0M423.6 437.7h0M428.6 444.2h0M426.7 419.8h0M423.9 456.0h0M425.9 484.0h0M425.2 437.8h0M428.7 480.4h0M426.0 480.2h0M453.6 420.6h0M454.3 507.5h0M457.1 457.6h0M459.9 420.8h0M455.2 445.9h0M456.2 461.9h0M457.8 429.5h0M459.7 464.5h0M457.8 451.6h0M458.8 460.9h0M455.9 505.4h0M455.2 439.6h0M459.6 424.5h0M458.0 453.1h0M454.4 453.2h0M458.6 471.3h0M454.1 462.9h0M459.1 482.3h0M458.3 433.2h0M459.7 458.8h0M456.3 427.4h0M455.2 470.1h0M460.1 494.9h0M453.6 473.8h0M457.0 423.3h0M455.6 479.1h0M454.2 492.6h0M454.9 453.3h0M460.6 493.3h0M454.1 458.4h0M460.1 449.4h0M455.8 500.7h0M458.5 456.5h0M456.1 496.6h0M453.6 483.4h0M457.9 483.0h0M454.2 430.4h0M453.8 443.3h0M454.5 498.4h0M459.9 436.2h0M455.6 443.0h0M457.5 481.5h0M456.0 474.0h0M456.0 477.2h0M454.0 422.8h0M453.5 447.5h0M459.1 480.1h0M455.3 471.5h0M460.2 476.0h0M453.9 429.9h0M459.5 475.0h0M459.4 447.8h0M459.5 442.5h0M457.1 430.8h0M453.8 452.2h0M458.8 481.2h0M459.2 445.9h0M455.0 489.0h0M459.0 437.5h0M453.6 464.5h0M457.7 459.8h0M453.4 472.9h0M454.3 479.6h0M456.7 500.2h0M459.9 482.4h0M459.5 469.1h0M458.7 423.5h0M453.8 479.1h0M460.2 492.3h0M454.8 452.2h0M458.1 436.5h0M457.1 448.5h0M455.9 440.1h0M456.4 433.2h0M458.9 450.8h0M455.0 427.8h0M460.0 480.9h0M460.0 440.4h0M455.5 461.9h0M457.2 456.6h0M459.6 470.2h0M457.2 449.8h0M453.8 485.9h0M457.6 463.1h0M454.5 442.9h0M459.1 498.3h0M454.5 450.0h0M457.3 424.2h0M455.5 458.2h0M458.1 467.3h0M489.4 419.0h0M483.8 507.1h0M489.6 450.3h0M489.2 476.4h0M486.5 463.4h0M485.2 431.5h0M484.1 434.6h0M489.5 455.1h0M490.1 465.5h0M488.7 445.0h0M486.8 466.2h0M484.1 445.7h0M490.3 472.1h0M488.9 430.7h0M483.7 450.4h0M484.4 459.1h0M489.8 458.3h0M485.7 453.6h0M486.1 430.6h0M484.1 423.1h0M483.8 434.8h0M485.9 473.0h0M490.2 484.7h0M488.7 443.4h0M486.3 431.4h0M486.1 447.5h0M489.5 434.4h0M484.9 490.1h0M485.9 457.0h0M488.9 489.0h0M487.6 437.7h0M488.5 489.5h0M485.3 436.3h0M486.9 465.5h0M486.5 438.3h0M486.5 471.9h0M485.2 486.8h0M489.1 442.2h0M484.3 478.8h0M487.3 436.5h0M485.8 453.1h0M484.3 463.1h0M488.0 469.1h0M489.9 490.6h0M488.0 427.4h0M486.7 446.1h0M485.7 487.6h0M485.3 446.6h0M484.6 462.8h0M489.1 480.4h0M488.0 451.2h0M485.0 460.6h0M488.0 488.9h0M487.6 457.3h0M483.5 446.6h0M488.8 451.5h0M488.3 441.2h0M484.0 430.1h0M485.3 438.2h0M489.9 468.7h0M486.1 471.3h0M488.1 462.6h0M487.2 444.6h0M487.3 439.4h0M483.5 476.0h0M489.4 427.1h0M486.6 488.3h0M488.1 425.9h0M487.6 479.2h0M485.8 434.3h0M486.0 451.2h0M483.4 435.4h0M485.6 460.4h0M483.8 480.7h0M486.9 480.7h0M519.6 414.9h0M515.5 488.1h0M520.2 440.5h0M520.4 457.5h0M513.4 414.9h0M516.8 456.9h0M514.7 458.8h0M516.6 425.2h0M514.1 446.4h0M520.1 464.1h0M520.4 449.6h0M514.9 424.0h0M514.3 431.8h0M516.8 430.3h0M518.7 462.0h0M515.6 483.2h0M518.2 456.8h0M518.7 431.9h0M514.8 464.9h0M516.7 455.2h0M520.2 449.5h0M514.6 480.4h0M516.6 477.4h0M516.8 446.0h0M514.0 439.7h0M520.5 480.4h0M515.2 464.2h0M517.7 450.7h0M520.0 420.0h0M513.4 474.4h0M518.9 453.4h0M517.5 485.8h0M520.3 472.4h0M518.7 415.4h0M514.6 454.1h0M513.6 446.4h0M519.6 468.6h0M516.1 434.0h0M517.5 435.3h0M515.0 452.9h0M517.8 467.0h0M517.2 420.9h0M520.2 450.2h0M515.4 432.5h0M520.1 435.0h0M514.9 417.6h0M519.4 444.8h0M515.1 424.4h0M520.2 443.3h0M518.7 465.7h0M514.9 468.1h0M519.2 451.0h0M520.1 442.9h0M518.8 472.7h0M516.6 423.1h0M514.9 444.8h0M514.9 459.2h0M517.3 441.1h0M515.9 430.1h0M514.9 415.9h0M518.5 444.3h0M514.6 419.9h0M514.3 473.6h0M519.7 463.0h0M513.9 480.5h0M515.0 422.4h0M515.4 424.5h0M519.1 416.8h0M516.0 421.7h0M517.9 441.7h0M516.1 486.0h0M515.5 476.7h0M519.3 468.2h0M513.9 434.6h0M515.9 459.3h0M547.0 410.6h0M548.6 489.4h0M550.2 413.6h0M544.6 431.5h0M550.5 466.2h0M543.6 446.5h0M543.5 454.4h0M547.3 481.8h0M544.7 446.7h0M545.7 456.6h0M547.1 440.2h0M547.2 449.7h0M545.4 466.0h0M544.3 457.3h0M549.6 439.9h0M548.4 439.0h0M549.4 422.3h0M550.1 416.9h0M549.6 450.3h0M547.0 471.0h0M543.8 434.4h0M549.9 452.1h0M545.9 427.9h0M548.0 443.5h0M544.5 439.6h0M546.2 474.6h0M548.2 429.5h0M546.7 443.4h0M544.2 421.2h0M546.0 450.9h0M546.5 439.4h0M550.2 438.8h0M549.7 466.6h0M549.5 470.0h0M543.4 456.2h0M550.2 460.4h0M548.5 482.4h0M543.7 474.3h0M546.9 436.3h0M550.0 412.7h0M546.4 423.3h0M547.5 427.0h0M545.5 439.1h0M550.4 441.1h0M545.8 480.0h0M544.7 456.9h0M548.9 441.5h0M547.7 445.8h0M549.4 420.3h0M548.0 448.7h0M545.9 436.5h0M549.3 427.3h0M547.3 446.2h0M547.2 430.8h0M545.8 418.2h0M546.0 424.3h0M543.4 431.6h0M548.8 468.6h0M548.6 429.9h0M546.2 431.5h0M545.0 438.0h0M544.5 411.2h0M544.2 451.3h0M547.6 449.0h0M547.6 429.6h0M547.2 464.5h0M549.2 427.1h0M546.4 417.9h0M546.9 487.1h0M545.5 433.6h0M546.9 435.4h0M543.5 419.2h0M549.8 446.3h0M549.2 477.5h0M547.5 418.0h0M548.5 472.5h0M550.3 426.9h0M545.5 439.0h0M550.2 442.2h0M544.7 413.2h0M547.8 427.7h0M548.0 436.3h0M543.9 455.4h0M549.1 463.0h0M544.2 462.3h0M544.4 446.5h0M545.2 446.4h0M548.1 459.1h0M550.3 450.3h0M547.9 429.1h0M579.4 424.4h0M580.2 477.4h0M573.9 427.5h0M576.3 462.8h0M576.8 457.7h0M575.2 458.3h0M579.5 456.2h0M573.8 429.2h0M579.7 445.6h0M577.1 439.2h0M575.5 450.2h0M573.7 469.9h0M576.7 437.3h0M579.6 438.5h0M575.3 453.0h0M576.7 464.0h0M580.2 436.7h0M580.3 476.7h0M579.3 469.6h0M578.9 442.1h0M579.3 451.6h0M574.6 443.2h0M580.4 463.2h0M579.9 466.3h0M578.9 443.2h0M574.5 473.7h0M573.5 448.9h0M579.4 462.3h0M574.9 458.3h0M573.8 446.2h0M574.2 464.2h0M577.8 437.5h0M578.4 429.8h0M573.6 465.5h0M578.8 437.7h0M575.0 446.3h0M579.8 459.8h0M575.8 440.6h0M577.8 439.7h0M580.0 468.8h0M577.7 432.9h0M575.8 468.7h0M573.9 450.3h0M577.9 429.7h0M580.1 452.5h0M575.7 452.3h0M578.0 427.8h0M575.4 458.2h0M578.6 456.2h0M577.2 433.8h0M579.0 458.1h0M574.9 456.7h0M576.9 445.4h0M574.5 450.3h0M577.5 465.7h0M573.7 447.3h0M575.0 440.7h0M574.0 431.7h0M579.1 434.5h0M575.9 455.7h0M576.6 431.3h0M573.8 464.0h0M574.8 460.9h0M580.1 455.8h0M574.8 446.2h0M578.5 432.9h0M578.7 428.9h0M575.5 435.5h0M578.1 438.6h0M577.2 456.9h0M580.4 460.5h0M574.3 456.1h0M575.7 454.4h0M577.0 449.7h0M578.5 460.4h0M603.8 412.8h0M610.3 466.4h0M610.1 424.4h0M609.7 454.2h0M606.6 414.6h0M610.2 439.4h0M608.9 464.3h0M604.6 440.0h0M606.4 425.3h0M607.0 443.1h0M604.5 461.2h0M607.8 447.5h0M608.7 444.6h0M604.0 427.3h0M607.7 420.1h0M608.8 465.4h0M609.7 439.0h0M609.3 425.6h0M608.5 426.2h0M604.2 452.0h0M608.2 445.8h0M608.0 450.1h0M606.0 440.8h0M604.7 426.6h0M606.0 426.4h0M604.1 437.6h0M608.1 430.7h0M607.2 443.6h0M610.4 437.3h0M605.3 441.6h0M605.7 436.9h0M604.6 435.4h0M610.0 418.9h0M606.7 420.2h0M609.1 444.5h0M603.6 436.4h0M609.7 454.3h0M609.3 431.6h0M607.1 423.2h0M605.2 459.5h0M607.6 427.0h0M610.5 452.3h0M604.7 446.6h0M607.0 462.3h0M610.4 440.9h0M608.8 437.0h0M603.5 423.0h0M604.3 463.6h0M606.7 457.2h0M605.5 422.2h0M605.3 433.2h0M607.4 438.6h0M608.6 459.6h0M607.9 440.3h0M609.2 428.1h0M604.7 453.3h0M604.9 416.4h0M604.0 440.4h0M607.9 450.4h0M610.2 452.7h0M604.8 436.5h0M605.7 448.8h0M607.1 446.2h0M604.7 422.9h0M609.6 449.7h0M605.1 441.8h0M608.5 428.4h0M604.3 422.3h0M610.6 462.8h0M606.2 419.9h0M606.7 445.8h0M606.3 427.6h0M607.4 426.3h0M605.4 431.0h0M607.2 414.1h0M634.6 409.1h0M633.6 471.9h0M640.2 444.7h0M638.9 434.9h0M633.8 434.2h0M639.1 413.7h0M635.7 468.3h0M638.4 425.8h0M634.4 437.0h0M639.7 423.9h0M636.6 417.0h0M637.4 435.4h0M637.2 432.9h0M633.8 428.0h0M636.9 442.1h0M637.2 411.2h0M634.1 437.2h0M637.9 419.6h0M636.8 469.0h0M639.3 420.9h0M635.0 454.0h0M637.4 447.7h0M636.0 432.0h0M635.1 463.6h0M634.4 419.4h0M636.6 451.7h0M634.4 414.4h0M634.9 427.2h0M639.1 421.1h0M638.9 451.1h0M639.9 427.5h0M639.1 443.6h0M636.5 439.5h0M633.8 444.2h0M633.9 449.6h0M638.3 439.5h0M640.3 417.4h0M639.4 470.2h0M636.0 423.3h0M639.5 443.1h0M639.0 460.5h0M638.0 443.8h0M639.5 470.1h0M635.0 438.9h0M638.1 442.6h0M639.0 416.8h0M637.1 448.6h0M639.2 435.3h0M638.4 452.7h0M635.2 417.7h0M638.2 413.7h0M638.7 433.5h0M638.0 455.8h0M635.3 411.5h0M633.8 427.2h0M636.7 470.7h0M638.7 459.8h0M638.8 440.9h0M640.0 425.5h0M639.3 443.8h0M636.9 454.1h0M635.7 433.8h0M637.2 429.4h0M639.8 437.1h0M635.5 420.7h0M634.8 468.8h0M639.8 437.3h0M640.2 433.1h0M638.6 450.7h0M640.4 422.7h0M669.0 413.9h0M670.0 443.9h0M670.3 426.2h0M669.6 430.2h0M669.5 426.6h0M668.3 421.2h0M667.9 426.4h0M664.2 439.9h0M668.1 421.6h0M669.5 426.8h0M666.2 428.8h0M664.3 432.7h0M664.9 419.5h0M669.8 417.5h0M669.7 441.7h0M665.5 415.9h0M664.7 438.3h0M668.6 434.2h0M666.3 421.9h0M665.4 418.3h0M669.9 418.5h0M664.5 422.0h0M667.9 421.0h0M670.3 430.8h0M664.1 430.8h0M667.7 437.5h0M664.0 421.5h0M667.8 424.7h0M664.0 422.5h0M667.4 443.5h0M667.6 424.1h0M668.9 424.9h0M666.2 427.5h0M664.4 420.6h0M669.9 415.9h0M668.0 429.2h0M668.2 418.9h0M667.0 434.7h0M670.1 427.4h0M667.3 416.4h0M665.1 415.4h0M666.8 416.3h0M668.6 424.3h0M666.8 419.1h0M666.5 424.2h0M665.7 429.2h0M665.4 419.5h0M666.0 424.8h0M665.9 433.3h0M668.4 422.6h0" stroke="#FFA07A" stroke-width="6.3" stroke-linecap="round" fill="none"/><path d="M428.4,414.5 428.7,416.2 429.1,417.9 429.5,419.6 429.9,421.3 430.2,423.0 430.4,424.7 430.4,426.4 430.5,428.0 430.5,429.7 430.6,431.4 430.6,433.1 430.7,434.8 430.7,436.5 430.7,438.2 430.8,439.9 430.8,441.6 430.8,443.3 430.9,445.0 430.9,446.7 430.9,448.4 430.9,450.1 431.0,451.7 431.0,453.4 431.0,455.1 431.0,456.8 431.0,458.5 431.0,460.2 431.0,461.9 431.0,463.6 431.0,465.3 431.0,467.0 431.0,468.7 431.0,470.4 431.0,472.1 431.0,473.8 431.0,475.4 431.0,477.1 431.0,478.8 431.0,480.5 431.0,482.2 431.0,483.9 430.9,485.6 430.9,487.3 430.9,489.0 430.8,490.7 430.8,492.4 430.8,494.1 430.7,495.8 430.7,497.4 430.6,499.1 430.5,500.8 430.5,502.5 430.4,504.2 430.3,505.9 430.0,507.6 429.6,509.3 429.2,511.0 428.7,512.7 428.3,514.4 427.8,516.1 427.4,517.8 427.4,519.5 427.4,521.1 427.3,522.8 427.3,524.5 427.3,526.2 427.3,527.9 427.3,529.6 427.3,531.3 427.3,533.0 426.7,533.0 426.7,531.3 426.7,529.6 426.7,527.9 426.7,526.2 426.7,524.5 426.7,522.8 426.6,521.1 426.6,519.5 426.6,517.8 426.2,516.1 425.7,514.4 425.3,512.7 424.8,511.0 424.4,509.3 424.0,507.6 423.7,505.9 423.6,504.2 423.5,502.5 423.5,500.8 423.4,499.1 423.3,497.4 423.3,495.8 423.2,494.1 423.2,492.4 423.2,490.7 423.1,489.0 423.1,487.3 423.1,485.6 423.0,483.9 423.0,482.2 423.0,480.5 423.0,478.8 423.0,477.1 423.0,475.4 423.0,473.8 423.0,472.1 423.0,470.4 423.0,468.7 423.0,467.0 423.0,465.3 423.0,463.6 423.0,461.9 423.0,460.2 423.0,458.5 423.0,456.8 423.0,455.1 423.0,453.4 423.0,451.7 423.1,450.1 423.1,448.4 423.1,446.7 423.1,445.0 423.2,443.3 423.2,441.6 423.2,439.9 423.3,438.2 423.3,436.5 423.3,434.8 423.4,433.1 423.4,431.4 423.5,429.7 423.5,428.0 423.6,426.4 423.6,424.7 423.8,423.0 424.1,421.3 424.5,419.6 424.9,417.9 425.3,416.2 425.6,414.5ZM458.4,420.6 458.6,421.8 459.0,423.1 459.3,424.3 459.6,425.6 459.9,426.8 460.2,428.0 460.3,429.3 460.4,430.5 460.5,431.8 460.5,433.0 460.6,434.3 460.6,435.5 460.7,436.7 460.7,438.0 460.8,439.2 460.8,440.5 460.9,441.7 460.9,442.9 460.9,444.2 461.0,445.4 461.0,446.7 461.0,447.9 461.0,449.2 461.0,450.4 461.0,451.6 461.0,452.9 461.0,454.1 461.0,455.4 461.0,456.6 461.0,457.8 461.0,459.1 461.0,460.3 461.0,461.6 461.0,462.8 461.0,464.1 461.0,465.3 461.0,466.5 461.0,467.8 460.9,469.0 460.9,470.3 460.9,471.5 460.9,472.7 460.9,474.0 460.8,475.2 460.8,476.5 460.8,477.7 460.7,478.9 460.7,480.2 460.7,481.4 460.6,482.7 460.6,483.9 460.6,485.2 460.5,486.4 460.5,487.6 460.4,488.9 460.4,490.1 460.3,491.4 460.1,492.6 459.9,493.8 459.6,495.1 459.4,496.3 459.1,497.6 458.9,498.8 458.7,500.1 458.5,501.3 458.3,502.5 458.2,503.8 458.0,505.0 457.8,506.3 457.7,507.5 456.3,507.5 456.2,506.3 456.0,505.0 455.8,503.8 455.7,502.5 455.5,501.3 455.3,500.1 455.1,498.8 454.9,497.6 454.6,496.3 454.4,495.1 454.1,493.8 453.9,492.6 453.7,491.4 453.6,490.1 453.6,488.9 453.5,487.6 453.5,486.4 453.4,485.2 453.4,483.9 453.4,482.7 453.3,481.4 453.3,480.2 453.3,478.9 453.2,477.7 453.2,476.5 453.2,475.2 453.1,474.0 453.1,472.7 453.1,471.5 453.1,470.3 453.1,469.0 453.0,467.8 453.0,466.5 453.0,465.3 453.0,464.1 453.0,462.8 453.0,461.6 453.0,460.3 453.0,459.1 453.0,457.8 453.0,456.6 453.0,455.4 453.0,454.1 453.0,452.9 453.0,451.6 453.0,450.4 453.0,449.2 453.0,447.9 453.0,446.7 453.0,445.4 453.1,444.2 453.1,442.9 453.1,441.7 453.2,440.5 453.2,439.2 453.3,438.0 453.3,436.7 453.4,435.5 453.4,434.3 453.5,433.0 453.5,431.8 453.6,430.5 453.7,429.3 453.8,428.0 454.1,426.8 454.4,425.6 454.7,424.3 455.0,423.1 455.4,421.8 455.6,420.6ZM488.4,419.0 488.6,420.3 488.9,421.5 489.2,422.8 489.4,424.0 489.7,425.3 489.9,426.6 490.2,427.8 490.3,429.1 490.4,430.3 490.5,431.6 490.5,432.8 490.6,434.1 490.6,435.4 490.7,436.6 490.7,437.9 490.8,439.1 490.8,440.4 490.9,441.7 490.9,442.9 490.9,444.2 491.0,445.4 491.0,446.7 491.0,447.9 491.0,449.2 491.0,450.5 491.0,451.7 491.0,453.0 491.0,454.2 491.0,455.5 491.0,456.8 491.0,458.0 491.0,459.3 491.0,460.5 491.0,461.8 491.0,463.1 490.9,464.3 490.9,465.6 490.9,466.8 490.8,468.1 490.8,469.3 490.7,470.6 490.7,471.9 490.6,473.1 490.6,474.4 490.5,475.6 490.5,476.9 490.4,478.2 490.3,479.4 490.2,480.7 490.2,481.9 490.1,483.2 490.0,484.4 489.9,485.7 489.8,487.0 489.7,488.2 489.3,489.5 488.7,490.7 488.1,492.0 487.6,493.3 487.5,494.5 487.5,495.8 487.4,497.0 487.4,498.3 487.4,499.5 487.4,500.8 487.3,502.1 487.3,503.3 487.3,504.6 487.3,505.8 487.3,507.1 486.7,507.1 486.7,505.8 486.7,504.6 486.7,503.3 486.7,502.1 486.6,500.8 486.6,499.5 486.6,498.3 486.6,497.0 486.5,495.8 486.5,494.5 486.4,493.3 485.9,492.0 485.3,490.7 484.7,489.5 484.3,488.2 484.2,487.0 484.1,485.7 484.0,484.4 483.9,483.2 483.8,481.9 483.8,480.7 483.7,479.4 483.6,478.2 483.5,476.9 483.5,475.6 483.4,474.4 483.4,473.1 483.3,471.9 483.3,470.6 483.2,469.3 483.2,468.1 483.1,466.8 483.1,465.6 483.1,464.3 483.0,463.1 483.0,461.8 483.0,460.5 483.0,459.3 483.0,458.0 483.0,456.8 483.0,455.5 483.0,454.2 483.0,453.0 483.0,451.7 483.0,450.5 483.0,449.2 483.0,447.9 483.0,446.7 483.0,445.4 483.1,444.2 483.1,442.9 483.1,441.7 483.2,440.4 483.2,439.1 483.3,437.9 483.3,436.6 483.4,435.4 483.4,434.1 483.5,432.8 483.5,431.6 483.6,430.3 483.7,429.1 483.8,427.8 484.1,426.6 484.3,425.3 484.6,424.0 484.8,422.8 485.1,421.5 485.4,420.3 485.6,419.0ZM518.2,414.9 518.5,415.9 518.8,417.0 519.2,418.0 519.5,419.1 519.8,420.1 520.1,421.2 520.3,422.2 520.6,423.3 520.7,424.3 520.8,425.4 520.8,426.4 520.8,427.4 520.9,428.5 520.9,429.5 520.9,430.6 521.0,431.6 521.0,432.7 521.0,433.7 521.0,434.8 521.0,435.8 521.0,436.9 521.0,437.9 521.0,439.0 521.0,440.0 521.0,441.0 520.9,442.1 520.8,443.1 520.7,444.2 520.6,445.2 520.5,446.3 520.4,447.3 520.3,448.4 520.2,449.4 520.1,450.5 520.0,451.5 519.9,452.5 519.9,453.6 519.8,454.6 519.8,455.7 519.8,456.7 519.7,457.8 519.7,458.8 519.7,459.9 519.7,460.9 519.7,462.0 519.7,463.0 519.7,464.0 519.7,465.1 519.6,466.1 519.6,467.2 519.6,468.2 519.6,469.3 519.6,470.3 519.6,471.4 519.6,472.4 519.5,473.5 519.5,474.5 519.5,475.6 519.4,476.6 519.3,477.6 519.2,478.7 519.0,479.7 518.9,480.8 518.7,481.8 518.5,482.9 518.3,483.9 518.1,485.0 518.0,486.0 517.8,487.1 517.6,488.1 516.4,488.1 516.2,487.1 516.0,486.0 515.9,485.0 515.7,483.9 515.5,482.9 515.3,481.8 515.1,480.8 515.0,479.7 514.8,478.7 514.7,477.6 514.6,476.6 514.5,475.6 514.5,474.5 514.5,473.5 514.4,472.4 514.4,471.4 514.4,470.3 514.4,469.3 514.4,468.2 514.4,467.2 514.4,466.1 514.3,465.1 514.3,464.0 514.3,463.0 514.3,462.0 514.3,460.9 514.3,459.9 514.3,458.8 514.3,457.8 514.2,456.7 514.2,455.7 514.2,454.6 514.1,453.6 514.1,452.5 514.0,451.5 513.9,450.5 513.8,449.4 513.7,448.4 513.6,447.3 513.5,446.3 513.4,445.2 513.3,444.2 513.2,443.1 513.1,442.1 513.0,441.0 513.0,440.0 513.0,439.0 513.0,437.9 513.0,436.9 513.0,435.8 513.0,434.8 513.0,433.7 513.0,432.7 513.0,431.6 513.1,430.6 513.1,429.5 513.1,428.5 513.2,427.4 513.2,426.4 513.2,425.4 513.3,424.3 513.4,423.3 513.7,422.2 513.9,421.2 514.2,420.1 514.5,419.1 514.8,418.0 515.2,417.0 515.5,415.9 515.8,414.9ZM548.9,410.6 549.1,411.7 549.4,412.9 549.7,414.0 549.9,415.1 550.2,416.2 550.4,417.4 550.6,418.5 550.7,419.6 550.8,420.7 550.8,421.9 550.9,423.0 550.9,424.1 550.9,425.2 551.0,426.4 551.0,427.5 551.0,428.6 551.0,429.7 551.0,430.9 551.0,432.0 551.0,433.1 551.0,434.2 551.0,435.4 551.0,436.5 551.0,437.6 551.0,438.7 551.0,439.9 551.0,441.0 551.0,442.1 550.9,443.2 550.9,444.4 550.9,445.5 550.9,446.6 550.8,447.7 550.8,448.9 550.7,450.0 550.7,451.1 550.7,452.3 550.6,453.4 550.6,454.5 550.5,455.6 550.5,456.8 550.4,457.9 550.4,459.0 550.3,460.1 550.3,461.3 550.2,462.4 550.2,463.5 550.1,464.6 550.1,465.8 550.0,466.9 549.9,468.0 549.8,469.1 549.7,470.3 549.6,471.4 549.4,472.5 548.9,473.6 548.2,474.8 547.6,475.9 547.4,477.0 547.4,478.1 547.3,479.3 547.3,480.4 547.3,481.5 547.3,482.6 547.3,483.8 547.3,484.9 547.3,486.0 547.3,487.1 547.3,488.3 547.2,489.4 546.8,489.4 546.7,488.3 546.7,487.1 546.7,486.0 546.7,484.9 546.7,483.8 546.7,482.6 546.7,481.5 546.7,480.4 546.7,479.3 546.6,478.1 546.6,477.0 546.4,475.9 545.8,474.8 545.1,473.6 544.6,472.5 544.4,471.4 544.3,470.3 544.2,469.1 544.1,468.0 544.0,466.9 543.9,465.8 543.9,464.6 543.8,463.5 543.8,462.4 543.7,461.3 543.7,460.1 543.6,459.0 543.6,457.9 543.5,456.8 543.5,455.6 543.4,454.5 543.4,453.4 543.3,452.3 543.3,451.1 543.3,450.0 543.2,448.9 543.2,447.7 543.1,446.6 543.1,445.5 543.1,444.4 543.1,443.2 543.0,442.1 543.0,441.0 543.0,439.9 543.0,438.7 543.0,437.6 543.0,436.5 543.0,435.4 543.0,434.2 543.0,433.1 543.0,432.0 543.0,430.9 543.0,429.7 543.0,428.6 543.0,427.5 543.0,426.4 543.1,425.2 543.1,424.1 543.1,423.0 543.2,421.9 543.2,420.7 543.3,419.6 543.4,418.5 543.6,417.4 543.8,416.2 544.1,415.1 544.3,414.0 544.6,412.9 544.9,411.7 545.1,410.6ZM578.9,424.4 579.1,425.2 579.5,425.9 579.8,426.7 580.1,427.4 580.4,428.2 580.6,428.9 580.7,429.7 580.8,430.5 580.8,431.2 580.8,432.0 580.9,432.7 580.9,433.5 580.9,434.2 580.9,435.0 580.9,435.8 581.0,436.5 581.0,437.3 581.0,438.0 581.0,438.8 581.0,439.5 581.0,440.3 581.0,441.1 581.0,441.8 581.0,442.6 581.0,443.3 581.0,444.1 581.0,444.8 581.0,445.6 581.0,446.4 581.0,447.1 581.0,447.9 581.0,448.6 581.0,449.4 581.0,450.1 581.0,450.9 580.9,451.7 580.9,452.4 580.9,453.2 580.9,453.9 580.8,454.7 580.8,455.4 580.8,456.2 580.7,457.0 580.7,457.7 580.6,458.5 580.6,459.2 580.5,460.0 580.5,460.7 580.4,461.5 580.4,462.3 580.3,463.0 580.2,463.8 580.2,464.5 580.1,465.3 579.9,466.0 579.6,466.8 579.2,467.6 578.8,468.3 578.5,469.1 578.3,469.8 578.1,470.6 578.0,471.3 577.9,472.1 577.8,472.9 577.7,473.6 577.6,474.4 577.6,475.1 577.5,475.9 577.4,476.6 577.3,477.4 576.7,477.4 576.6,476.6 576.5,475.9 576.4,475.1 576.4,474.4 576.3,473.6 576.2,472.9 576.1,472.1 576.0,471.3 575.9,470.6 575.7,469.8 575.5,469.1 575.2,468.3 574.8,467.6 574.4,466.8 574.1,466.0 573.9,465.3 573.8,464.5 573.8,463.8 573.7,463.0 573.6,462.3 573.6,461.5 573.5,460.7 573.5,460.0 573.4,459.2 573.4,458.5 573.3,457.7 573.3,457.0 573.2,456.2 573.2,455.4 573.2,454.7 573.1,453.9 573.1,453.2 573.1,452.4 573.1,451.7 573.0,450.9 573.0,450.1 573.0,449.4 573.0,448.6 573.0,447.9 573.0,447.1 573.0,446.4 573.0,445.6 573.0,444.8 573.0,444.1 573.0,443.3 573.0,442.6 573.0,441.8 573.0,441.1 573.0,440.3 573.0,439.5 573.0,438.8 573.0,438.0 573.0,437.3 573.0,436.5 573.1,435.8 573.1,435.0 573.1,434.2 573.1,433.5 573.1,432.7 573.2,432.0 573.2,431.2 573.2,430.5 573.3,429.7 573.4,428.9 573.6,428.2 573.9,427.4 574.2,426.7 574.5,425.9 574.9,425.2 575.1,424.4ZM607.9,412.8 608.3,413.6 608.7,414.3 609.1,415.1 609.5,415.9 609.9,416.6 610.3,417.4 610.7,418.2 611.0,418.9 611.2,419.7 611.3,420.5 611.4,421.2 611.5,422.0 611.6,422.8 611.7,423.5 611.8,424.3 611.8,425.1 611.9,425.8 612.0,426.6 612.1,427.3 612.2,428.1 612.4,428.9 612.6,429.6 612.9,430.4 613.2,431.2 613.5,431.9 613.8,432.7 614.0,433.5 614.2,434.2 614.2,435.0 614.2,435.8 614.0,436.5 613.8,437.3 613.5,438.1 613.1,438.8 612.8,439.6 612.5,440.4 612.3,441.1 612.2,441.9 612.1,442.7 612.1,443.4 612.1,444.2 612.0,445.0 612.0,445.7 612.0,446.5 612.0,447.3 611.9,448.0 611.9,448.8 611.9,449.6 611.9,450.3 611.9,451.1 611.9,451.9 611.8,452.6 611.8,453.4 611.8,454.1 611.7,454.9 611.6,455.7 611.6,456.4 611.4,457.2 611.3,458.0 611.1,458.7 610.9,459.5 610.7,460.3 610.5,461.0 610.2,461.8 610.0,462.6 609.8,463.3 609.5,464.1 609.3,464.9 609.1,465.6 608.9,466.4 605.1,466.4 604.9,465.6 604.7,464.9 604.5,464.1 604.2,463.3 604.0,462.6 603.8,461.8 603.5,461.0 603.3,460.3 603.1,459.5 602.9,458.7 602.7,458.0 602.6,457.2 602.4,456.4 602.4,455.7 602.3,454.9 602.2,454.1 602.2,453.4 602.2,452.6 602.1,451.9 602.1,451.1 602.1,450.3 602.1,449.6 602.1,448.8 602.1,448.0 602.0,447.3 602.0,446.5 602.0,445.7 602.0,445.0 601.9,444.2 601.9,443.4 601.9,442.7 601.8,441.9 601.7,441.1 601.5,440.4 601.2,439.6 600.9,438.8 600.5,438.1 600.2,437.3 600.0,436.5 599.8,435.8 599.8,435.0 599.8,434.2 600.0,433.5 600.2,432.7 600.5,431.9 600.8,431.2 601.1,430.4 601.4,429.6 601.6,428.9 601.8,428.1 601.9,427.3 602.0,426.6 602.1,425.8 602.2,425.1 602.2,424.3 602.3,423.5 602.4,422.8 602.5,422.0 602.6,421.2 602.7,420.5 602.8,419.7 603.0,418.9 603.3,418.2 603.7,417.4 604.1,416.6 604.5,415.9 604.9,415.1 605.3,414.3 605.7,413.6 606.1,412.8ZM638.9,409.1 639.7,410.0 640.5,410.9 641.3,411.8 642.1,412.7 642.9,413.6 643.4,414.5 643.8,415.4 644.1,416.3 644.4,417.2 644.7,418.1 644.9,419.0 645.1,419.9 645.3,420.8 645.3,421.7 645.3,422.6 645.2,423.5 645.0,424.4 644.8,425.2 644.5,426.1 644.2,427.0 643.9,427.9 643.6,428.8 643.3,429.7 643.0,430.6 642.8,431.5 642.6,432.4 642.5,433.3 642.4,434.2 642.3,435.1 642.2,436.0 642.1,436.9 642.0,437.8 641.9,438.7 641.8,439.6 641.7,440.5 641.6,441.4 641.5,442.3 641.5,443.2 641.4,444.1 641.3,445.0 641.2,445.9 641.1,446.8 641.0,447.7 641.0,448.6 640.9,449.5 640.8,450.4 640.6,451.3 640.5,452.2 640.4,453.1 640.3,454.0 640.2,454.9 640.1,455.8 640.0,456.6 639.9,457.5 639.7,458.4 639.6,459.3 639.5,460.2 639.4,461.1 639.3,462.0 639.1,462.9 639.0,463.8 638.9,464.7 638.8,465.6 638.7,466.5 638.5,467.4 638.4,468.3 638.3,469.2 638.2,470.1 638.1,471.0 637.9,471.9 636.1,471.9 635.9,471.0 635.8,470.1 635.7,469.2 635.6,468.3 635.5,467.4 635.3,466.5 635.2,465.6 635.1,464.7 635.0,463.8 634.9,462.9 634.7,462.0 634.6,461.1 634.5,460.2 634.4,459.3 634.3,458.4 634.1,457.5 634.0,456.6 633.9,455.8 633.8,454.9 633.7,454.0 633.6,453.1 633.5,452.2 633.4,451.3 633.2,450.4 633.1,449.5 633.0,448.6 633.0,447.7 632.9,446.8 632.8,445.9 632.7,445.0 632.6,444.1 632.5,443.2 632.5,442.3 632.4,441.4 632.3,440.5 632.2,439.6 632.1,438.7 632.0,437.8 631.9,436.9 631.8,436.0 631.7,435.1 631.6,434.2 631.5,433.3 631.4,432.4 631.2,431.5 631.0,430.6 630.7,429.7 630.4,428.8 630.1,427.9 629.8,427.0 629.5,426.1 629.2,425.2 629.0,424.4 628.8,423.5 628.7,422.6 628.7,421.7 628.7,420.8 628.9,419.9 629.1,419.0 629.3,418.1 629.6,417.2 629.9,416.3 630.2,415.4 630.6,414.5 631.1,413.6 631.9,412.7 632.7,411.8 633.5,410.9 634.3,410.0 635.1,409.1ZM668.9,413.9 669.7,414.3 670.4,414.8 671.2,415.2 672.0,415.6 672.7,416.0 673.5,416.5 674.2,416.9 674.8,417.3 675.4,417.8 676.0,418.2 676.5,418.6 677.0,419.0 677.6,419.5 678.1,419.9 678.6,420.3 679.1,420.8 679.6,421.2 680.1,421.6 680.5,422.0 680.9,422.5 681.2,422.9 681.5,423.3 681.7,423.8 681.9,424.2 681.9,424.6 681.9,425.0 681.7,425.5 681.4,425.9 681.0,426.3 680.5,426.8 679.9,427.2 679.2,427.6 678.5,428.0 677.9,428.5 677.2,428.9 676.6,429.3 676.0,429.8 675.5,430.2 675.1,430.6 674.6,431.0 674.1,431.5 673.6,431.9 673.1,432.3 672.6,432.8 672.1,433.2 671.7,433.6 671.3,434.0 670.9,434.5 670.5,434.9 670.3,435.3 670.0,435.8 669.8,436.2 669.7,436.6 669.5,437.0 669.4,437.5 669.3,437.9 669.2,438.3 669.1,438.8 669.0,439.2 668.9,439.6 668.8,440.0 668.7,440.5 668.6,440.9 668.5,441.3 668.4,441.8 668.3,442.2 668.3,442.6 668.2,443.0 668.1,443.5 668.0,443.9 666.0,443.9 665.9,443.5 665.8,443.0 665.7,442.6 665.7,442.2 665.6,441.8 665.5,441.3 665.4,440.9 665.3,440.5 665.2,440.0 665.1,439.6 665.0,439.2 664.9,438.8 664.8,438.3 664.7,437.9 664.6,437.5 664.5,437.0 664.3,436.6 664.2,436.2 664.0,435.8 663.7,435.3 663.5,434.9 663.1,434.5 662.7,434.0 662.3,433.6 661.9,433.2 661.4,432.8 660.9,432.3 660.4,431.9 659.9,431.5 659.4,431.0 658.9,430.6 658.5,430.2 658.0,429.8 657.4,429.3 656.8,428.9 656.1,428.5 655.5,428.0 654.8,427.6 654.1,427.2 653.5,426.8 653.0,426.3 652.6,425.9 652.3,425.5 652.1,425.0 652.1,424.6 652.1,424.2 652.3,423.8 652.5,423.3 652.8,422.9 653.1,422.5 653.5,422.0 653.9,421.6 654.4,421.2 654.9,420.8 655.4,420.3 655.9,419.9 656.4,419.5 657.0,419.0 657.5,418.6 658.0,418.2 658.6,417.8 659.2,417.3 659.8,416.9 660.5,416.5 661.3,416.0 662.0,415.6 662.8,415.2 663.6,414.8 664.3,414.3 665.1,413.9Z" fill="none" stroke="#FFA07A" stroke-width="1.9" stroke-linejoin="round"/><path d="M427.0,414.5 L457.0,420.6 L487.0,419.0 L517.0,414.9 L547.0,410.6 L577.0,424.4 L607.0,412.8 L637.0,409.1 L667.0,413.9" fill="none" stroke="#bababa" stroke-width="1.7" stroke-dasharray="6.4,6.05"/><path d="M427.0,533.0 L457.0,507.5 L487.0,507.1 L517.0,488.1 L547.0,489.4 L577.0,477.4 L607.0,466.4 L637.0,471.9 L667.0,443.9" fill="none" stroke="#bababa" stroke-width="1.7" stroke-dasharray="6.4,6.05"/><path d="M419.5 471.7h15M449.5 454.7h15M479.5 452.7h15M509.5 437.8h15M539.5 432.7h15M569.5 443.9h15M599.5 435.8h15M629.5 425.9h15M659.5 424.8h15" stroke="#B22222" stroke-width="3.8"/><rect x="409.3" y="392.09999999999997" width="275.59999999999997" height="171.60000000000008" fill="none" stroke="#555" stroke-width="1"/><line x1="402.5" y1="556.1" x2="409.3" y2="556.1" stroke="#000" stroke-width="1.5"/><text x="398.8" y="560.8000000000001" font-size="14.5" text-anchor="end">24</text><line x1="402.5" y1="511.1" x2="409.3" y2="511.1" stroke="#000" stroke-width="1.5"/><text x="398.8" y="515.8000000000001" font-size="14.5" text-anchor="end">26</text><line x1="402.5" y1="466.2" x2="409.3" y2="466.2" stroke="#000" stroke-width="1.5"/><text x="398.8" y="470.9" font-size="14.5" text-anchor="end">28</text><line x1="402.5" y1="421.7" x2="409.3" y2="421.7" stroke="#000" stroke-width="1.5"/><text x="398.8" y="426.4" font-size="14.5" text-anchor="end">30</text><line x1="427.0" y1="563.7" x2="427.0" y2="570.0" stroke="#000" stroke-width="1.5"/><line x1="457.0" y1="563.7" x2="457.0" y2="570.0" stroke="#000" stroke-width="1.5"/><line x1="487.0" y1="563.7" x2="487.0" y2="570.0" stroke="#000" stroke-width="1.5"/><line x1="517.0" y1="563.7" x2="517.0" y2="570.0" stroke="#000" stroke-width="1.5"/><line x1="547.0" y1="563.7" x2="547.0" y2="570.0" stroke="#000" stroke-width="1.5"/><line x1="577.0" y1="563.7" x2="577.0" y2="570.0" stroke="#000" stroke-width="1.5"/><line x1="607.0" y1="563.7" x2="607.0" y2="570.0" stroke="#000" stroke-width="1.5"/><line x1="637.0" y1="563.7" x2="637.0" y2="570.0" stroke="#000" stroke-width="1.5"/><line x1="667.0" y1="563.7" x2="667.0" y2="570.0" stroke="#000" stroke-width="1.5"/><text x="667.0" y="550.7" font-size="17" font-weight="bold" text-anchor="middle">h</text><text transform="translate(361.2,477.9) rotate(-90)" font-size="14.5" text-anchor="middle">WPWP SST (°C)</text><path d="M425.2 623.2h0M427.4 719.8h0M425.7 680.1h0M426.5 657.7h0M428.4 692.3h0M426.8 705.3h0M426.0 680.3h0M424.6 698.7h0M429.4 648.1h0M423.6 646.1h0M427.1 670.3h0M427.1 642.9h0M430.0 705.7h0M426.1 630.8h0M428.1 648.9h0M427.1 680.6h0M429.2 679.4h0M427.2 639.7h0M430.2 668.1h0M427.4 686.3h0M424.3 651.0h0M430.2 624.8h0M424.1 681.9h0M423.7 625.5h0M426.1 637.3h0M428.1 660.8h0M427.9 669.5h0M424.0 697.4h0M427.9 684.8h0M428.5 645.4h0M428.4 712.4h0M427.7 649.8h0M425.8 697.4h0M423.9 640.5h0M424.2 678.3h0M424.4 632.4h0M426.8 658.0h0M428.0 632.3h0M427.3 682.8h0M428.3 691.1h0M425.9 623.6h0M424.7 626.0h0M427.6 703.3h0M429.4 697.9h0M426.1 638.4h0M424.5 659.0h0M430.0 661.4h0M424.2 652.9h0M428.1 647.6h0M426.2 650.1h0M426.5 656.0h0M429.8 673.8h0M424.9 706.9h0M429.3 673.6h0M430.0 653.3h0M429.4 680.0h0M430.5 678.9h0M429.1 642.5h0M424.0 704.8h0M425.7 703.9h0M424.1 662.6h0M425.5 630.0h0M426.8 636.9h0M426.3 672.4h0M429.9 706.0h0M430.3 707.8h0M428.5 672.3h0M427.2 690.4h0M429.7 693.4h0M424.0 651.6h0M423.7 670.0h0M429.8 672.7h0M427.2 705.7h0M429.6 635.4h0M428.3 690.4h0M427.3 676.5h0M426.2 652.3h0M428.8 678.7h0M430.2 636.6h0M427.2 680.5h0M425.1 652.2h0M426.3 714.2h0M425.5 633.3h0M429.4 659.2h0M425.8 635.1h0M427.4 691.1h0M426.3 661.0h0M423.9 646.4h0M430.0 708.6h0M428.2 630.2h0M428.6 654.0h0M425.7 700.1h0M430.3 710.0h0M426.8 691.5h0M426.3 685.8h0M423.8 685.9h0M428.3 712.1h0M428.1 660.8h0M428.0 689.1h0M424.3 639.9h0M426.6 675.6h0M426.7 702.3h0M423.6 709.8h0M423.6 623.9h0M427.2 707.9h0M424.2 713.5h0M428.3 682.2h0M425.0 675.2h0M429.2 653.5h0M425.7 662.1h0M426.0 717.2h0M426.0 695.5h0M428.6 697.5h0M427.7 703.3h0M429.7 682.7h0M425.7 626.9h0M429.9 693.0h0M425.0 665.1h0M429.5 642.5h0M429.4 647.9h0M428.5 677.3h0M425.1 700.4h0M424.0 638.3h0M425.8 709.1h0M426.7 699.9h0M430.4 714.3h0M425.1 659.3h0M428.3 647.0h0M426.5 690.5h0M424.0 707.9h0M430.5 667.4h0M425.1 669.1h0M424.2 627.1h0M424.4 672.4h0M423.7 668.0h0M427.8 662.3h0M423.5 673.1h0M428.7 656.1h0M424.9 713.7h0M425.5 640.0h0M460.1 623.2h0M455.0 710.6h0M459.9 696.9h0M457.6 695.4h0M458.7 638.1h0M456.2 629.8h0M459.7 677.1h0M456.7 674.9h0M454.9 650.7h0M458.1 686.7h0M457.9 662.0h0M456.5 657.6h0M455.2 676.1h0M457.8 654.0h0M454.8 707.3h0M459.0 694.0h0M454.5 663.3h0M458.7 685.3h0M456.8 662.8h0M457.8 628.2h0M459.7 649.6h0M456.3 624.5h0M457.6 665.1h0M457.8 668.7h0M459.7 697.1h0M460.4 628.3h0M460.3 694.4h0M459.8 669.5h0M458.1 641.2h0M457.6 664.0h0M454.2 664.6h0M456.1 673.1h0M454.9 670.7h0M455.1 697.4h0M456.7 662.7h0M456.1 653.0h0M454.0 629.0h0M455.9 656.6h0M458.1 680.3h0M457.9 682.8h0M459.4 668.4h0M457.8 667.1h0M456.2 652.1h0M457.9 640.1h0M460.2 672.6h0M456.9 639.3h0M456.4 664.3h0M460.1 635.0h0M459.0 703.6h0M456.9 674.8h0M456.1 669.4h0M454.6 668.9h0M458.4 645.6h0M459.7 668.4h0M456.2 673.3h0M459.2 679.0h0M460.2 704.4h0M455.0 635.1h0M458.8 650.2h0M454.8 687.6h0M460.2 665.1h0M456.7 680.0h0M454.2 630.6h0M455.4 705.6h0M455.5 628.7h0M460.6 695.4h0M456.8 687.1h0M454.0 648.5h0M455.1 639.4h0M458.9 644.4h0M457.8 683.5h0M454.9 646.4h0M455.8 660.3h0M458.4 623.5h0M458.9 706.6h0M454.6 666.6h0M459.4 700.0h0M455.5 704.8h0M456.5 655.1h0M456.1 628.5h0M459.4 696.8h0M455.5 686.2h0M457.2 667.1h0M456.7 625.4h0M457.1 678.5h0M458.4 629.7h0M459.6 666.6h0M456.6 648.1h0M458.9 686.7h0M455.9 626.4h0M456.1 682.9h0M454.7 710.0h0M455.7 670.6h0M458.2 689.9h0M455.1 658.4h0M455.8 634.9h0M454.2 700.0h0M456.3 676.8h0M456.1 693.2h0M455.3 705.9h0M453.4 628.6h0M454.1 686.6h0M458.7 627.6h0M457.6 628.9h0M459.9 662.5h0M454.1 684.5h0M460.4 659.7h0M459.1 636.9h0M455.9 674.4h0M456.6 631.5h0M455.9 645.0h0M460.2 654.4h0M457.6 659.2h0M454.2 704.4h0M455.5 635.2h0M455.9 631.0h0M457.0 685.2h0M457.1 635.5h0M459.5 690.5h0M455.6 689.9h0M459.1 668.7h0M458.4 661.0h0M457.8 686.1h0M458.4 702.3h0M459.6 649.8h0M459.2 667.8h0M457.8 699.7h0M453.9 670.5h0M454.1 669.3h0M453.9 643.7h0M453.6 672.0h0M454.7 682.4h0M456.2 691.0h0M456.5 657.9h0M457.2 688.5h0M457.2 644.9h0M458.3 688.5h0M456.1 699.0h0M459.0 680.2h0M459.6 627.7h0M484.2 648.3h0M485.7 703.5h0M487.3 657.1h0M486.3 672.6h0M488.3 672.8h0M485.0 682.6h0M487.1 702.0h0M485.3 687.8h0M489.0 694.2h0M485.5 654.6h0M489.2 676.9h0M486.3 700.9h0M486.9 654.1h0M489.9 697.2h0M483.9 692.2h0M490.2 671.8h0M483.7 697.2h0M484.3 680.3h0M484.2 662.2h0M487.0 656.7h0M487.7 684.2h0M489.5 675.9h0M487.1 691.2h0M484.4 701.3h0M485.0 661.0h0M483.4 652.7h0M486.1 685.9h0M487.6 696.0h0M486.6 683.2h0M485.8 650.4h0M487.0 659.4h0M483.8 693.3h0M487.2 650.7h0M485.7 695.6h0M487.2 687.8h0M486.1 689.9h0M489.0 699.0h0M486.6 670.0h0M483.9 681.3h0M486.2 663.5h0M487.9 666.1h0M484.7 652.9h0M488.0 682.4h0M485.4 689.1h0M490.0 685.5h0M486.9 678.3h0M490.3 672.6h0M484.6 663.7h0M485.6 674.5h0M486.6 702.2h0M485.0 688.0h0M486.1 674.4h0M485.5 661.5h0M489.0 692.1h0M485.5 673.4h0M489.4 660.8h0M489.3 686.7h0M485.8 695.9h0M485.0 684.4h0M487.6 659.1h0M490.1 663.6h0M484.0 661.7h0M489.6 649.0h0M487.0 654.0h0M486.7 698.5h0M485.1 670.4h0M490.5 668.0h0M485.0 660.8h0M485.0 659.0h0M489.4 691.8h0M484.5 679.5h0M488.2 668.9h0M483.5 651.8h0M487.0 667.7h0M483.7 698.1h0M488.0 662.2h0M486.9 660.9h0M484.9 682.1h0M484.9 652.5h0M484.5 665.7h0M490.4 648.6h0M487.0 681.1h0M483.7 684.8h0M484.6 665.0h0M484.8 682.3h0M487.9 651.9h0M484.9 687.0h0M483.4 670.4h0M490.5 683.2h0M487.4 693.6h0M489.0 678.0h0M483.5 655.1h0M484.2 665.2h0M487.7 657.2h0M487.2 682.7h0M490.0 681.4h0M490.4 689.5h0M483.6 678.8h0M486.8 687.6h0M483.6 677.0h0M487.7 666.3h0M490.3 678.9h0M486.0 683.4h0M485.5 691.8h0M487.0 651.4h0M488.2 674.0h0M489.5 687.0h0M483.9 673.9h0M484.7 659.6h0M486.2 682.6h0M484.9 697.3h0M488.8 671.6h0M486.0 682.5h0M485.6 693.6h0M485.7 688.1h0M485.6 686.8h0M490.4 698.4h0M488.6 658.1h0M486.8 667.1h0M483.5 669.1h0M514.1 623.2h0M513.9 710.2h0M514.8 672.1h0M517.3 693.0h0M515.1 623.4h0M515.9 697.3h0M519.8 638.8h0M518.6 680.2h0M520.0 651.7h0M520.0 639.4h0M515.6 632.5h0M514.6 688.9h0M517.5 683.8h0M519.1 652.9h0M514.7 677.8h0M516.1 674.5h0M514.0 707.3h0M519.3 660.1h0M515.6 664.2h0M516.6 656.9h0M518.5 684.1h0M513.8 670.8h0M516.5 687.9h0M515.8 633.4h0M519.8 667.8h0M513.9 623.6h0M518.2 691.8h0M517.4 706.1h0M515.1 649.9h0M519.5 668.9h0M520.1 690.1h0M515.9 689.8h0M520.4 698.7h0M517.5 652.2h0M518.4 665.1h0M516.4 689.8h0M515.0 676.6h0M513.7 693.9h0M518.2 696.2h0M516.7 666.4h0M516.7 681.4h0M516.7 637.9h0M519.5 632.9h0M514.7 693.0h0M519.5 695.2h0M517.0 700.8h0M516.0 673.0h0M516.2 635.9h0M519.1 695.0h0M517.3 691.4h0M516.3 652.0h0M515.2 646.2h0M516.7 673.0h0M517.6 694.7h0M516.2 632.5h0M516.3 665.9h0M517.1 700.1h0M516.9 690.0h0M518.5 690.7h0M515.5 642.3h0M516.0 682.8h0M515.3 667.0h0M513.9 678.2h0M519.0 627.8h0M516.0 691.3h0M514.2 693.6h0M519.9 694.9h0M515.2 630.5h0M514.4 674.7h0M518.0 669.9h0M520.0 625.6h0M516.7 705.6h0M514.2 679.9h0M518.7 665.7h0M515.9 677.0h0M518.9 656.3h0M519.2 641.5h0M513.4 683.0h0M516.0 623.2h0M519.2 626.6h0M519.2 650.9h0M515.3 636.9h0M519.6 680.7h0M515.7 695.9h0M517.4 627.6h0M517.1 675.2h0M515.1 672.0h0M517.1 640.5h0M515.0 632.1h0M515.5 686.8h0M520.6 661.8h0M516.2 631.2h0M518.6 661.9h0M515.6 699.3h0M517.0 643.9h0M517.5 707.7h0M514.0 675.3h0M518.2 625.3h0M516.9 649.9h0M518.6 684.2h0M514.0 677.4h0M515.3 638.0h0M514.6 672.9h0M515.6 641.8h0M519.7 672.1h0M519.2 641.7h0M515.1 634.8h0M515.6 659.3h0M515.3 682.5h0M519.7 678.8h0M513.6 683.6h0M518.2 637.8h0M520.3 635.3h0M515.8 659.6h0M519.1 652.8h0M515.9 694.0h0M515.8 682.3h0M515.8 679.0h0M514.7 641.4h0M516.6 645.7h0M513.5 699.0h0M519.6 690.5h0M519.2 681.0h0M519.9 669.3h0M515.7 631.4h0M517.2 685.6h0M513.7 632.7h0M514.4 625.9h0M520.6 678.0h0M515.2 630.7h0M518.7 636.6h0M519.5 673.8h0M515.4 707.9h0M519.3 692.6h0M518.6 702.8h0M519.6 690.6h0M514.8 674.2h0M517.3 645.4h0M520.3 675.1h0M519.9 680.7h0M544.7 612.1h0M544.7 677.9h0M548.7 632.3h0M547.0 613.7h0M548.8 638.9h0M543.5 671.8h0M547.6 652.3h0M544.1 671.3h0M547.0 653.5h0M544.0 665.1h0M549.3 664.3h0M549.5 648.4h0M549.3 642.7h0M546.8 666.9h0M547.9 651.7h0M545.8 662.2h0M545.7 620.3h0M549.0 670.4h0M545.2 675.1h0M549.1 653.1h0M544.8 659.4h0M546.5 622.9h0M545.4 676.6h0M544.8 633.1h0M547.5 646.0h0M544.0 630.6h0M544.3 669.1h0M549.4 666.2h0M544.1 619.4h0M549.1 661.2h0M549.9 670.9h0M544.8 664.5h0M550.1 640.8h0M549.8 659.8h0M548.6 636.9h0M543.9 625.9h0M545.7 612.7h0M550.5 634.0h0M548.7 639.8h0M548.1 630.9h0M548.9 632.6h0M544.6 629.1h0M549.3 616.2h0M546.9 672.7h0M546.3 667.2h0M550.5 651.9h0M550.5 671.7h0M545.0 643.4h0M546.9 640.1h0M547.0 613.7h0M547.4 652.7h0M547.3 615.4h0M546.9 662.3h0M549.2 620.6h0M547.9 672.7h0M544.9 636.2h0M547.1 673.1h0M550.6 639.3h0M543.5 640.2h0M547.3 657.9h0M545.8 617.7h0M543.8 634.2h0M547.2 671.1h0M550.0 657.0h0M549.8 630.5h0M546.7 653.3h0M544.9 658.0h0M549.5 623.7h0M545.2 634.6h0M548.1 662.6h0M545.0 669.8h0M549.7 621.1h0M545.4 674.9h0M545.8 620.3h0M548.1 649.0h0M549.6 675.1h0M546.0 658.4h0M547.2 639.3h0M550.2 616.8h0M547.9 642.1h0M547.2 612.4h0M549.6 649.5h0M546.7 648.8h0M549.4 645.6h0M546.1 657.4h0M549.8 646.8h0M545.9 659.2h0M550.3 625.1h0M549.4 650.8h0M545.5 652.7h0M544.7 667.1h0M549.1 626.8h0M544.2 673.9h0M547.5 670.2h0M544.7 641.3h0M547.2 638.8h0M548.4 636.1h0M543.7 624.6h0M545.9 663.5h0M545.2 618.8h0M549.3 664.5h0M548.5 644.0h0M545.3 628.2h0M548.0 672.9h0M543.9 634.0h0M543.8 624.5h0M548.3 658.9h0M546.9 628.9h0M545.9 645.3h0M545.2 629.4h0M547.6 622.3h0M550.0 671.7h0M545.3 661.9h0M544.2 633.4h0M547.9 652.7h0M544.0 625.3h0M545.0 673.8h0M543.8 658.9h0M544.0 621.0h0M548.8 644.8h0M544.8 635.6h0M550.0 642.7h0M545.5 622.4h0M545.9 659.4h0M548.6 634.2h0M548.7 621.1h0M544.3 653.5h0M547.1 665.3h0M544.4 658.1h0M548.9 630.8h0M574.3 611.6h0M578.6 649.3h0M575.0 638.7h0M575.4 642.0h0M576.1 623.2h0M575.4 648.0h0M576.9 629.9h0M574.5 620.5h0M575.4 621.8h0M577.7 642.0h0M576.6 617.5h0M574.2 624.7h0M577.8 617.6h0M578.2 622.4h0M577.9 629.6h0M576.4 618.1h0M577.2 634.9h0M575.8 624.1h0M579.8 625.2h0M576.7 613.8h0M578.5 619.8h0M578.4 646.1h0M576.6 622.5h0M574.5 647.9h0M576.2 639.6h0M578.6 641.7h0M576.0 635.7h0M574.4 648.2h0M576.6 639.7h0M578.6 636.0h0M580.2 636.0h0M578.9 627.1h0M574.7 633.3h0M575.2 626.4h0M578.2 622.4h0M575.4 648.9h0M575.8 629.1h0M579.6 612.6h0M580.4 639.0h0M579.6 640.8h0M578.9 622.2h0M577.3 615.9h0M575.0 634.3h0M576.0 620.6h0M575.4 634.3h0M577.5 620.9h0M574.9 646.5h0M579.8 636.5h0M576.1 630.5h0M577.0 637.3h0M580.2 631.8h0M578.3 630.7h0M578.4 637.4h0M573.7 621.6h0M580.1 631.8h0M576.7 625.0h0M573.6 620.3h0M576.6 633.8h0M580.5 646.9h0M576.2 616.3h0M577.5 626.9h0M576.5 644.7h0M580.4 642.0h0M578.9 631.0h0M577.2 630.2h0M575.0 634.1h0M574.8 639.3h0M575.4 646.4h0M580.0 643.2h0M575.7 646.6h0M579.0 624.3h0M579.8 635.7h0M578.1 649.1h0M576.9 623.6h0M579.2 643.2h0M580.1 626.0h0M578.2 615.1h0M578.5 636.3h0M579.4 625.7h0M573.7 635.9h0M576.0 622.4h0M578.9 643.6h0M576.8 628.0h0M577.0 622.5h0M575.3 627.1h0M579.2 619.1h0M578.9 629.2h0M573.9 628.5h0M575.4 622.3h0M576.4 617.1h0M576.6 635.1h0M579.0 625.5h0M579.1 619.3h0M579.2 627.1h0M574.4 624.0h0M574.8 647.3h0M575.7 630.2h0M579.0 615.5h0M574.1 626.9h0M580.0 618.6h0M574.1 646.0h0M574.9 631.6h0M575.9 629.0h0M580.3 634.5h0M575.4 629.2h0M574.9 640.9h0M574.6 643.9h0M578.2 627.0h0M573.6 628.5h0M574.4 632.4h0M580.2 632.9h0M578.0 612.4h0M576.5 626.7h0M578.6 626.7h0M579.8 647.2h0M573.9 619.5h0M579.3 623.0h0M573.9 637.6h0M580.0 627.1h0M577.5 643.0h0M609.6 608.8h0M607.7 636.6h0M607.1 619.2h0M607.3 614.9h0M605.9 613.1h0M603.7 622.1h0M605.3 631.2h0M604.1 612.5h0M606.9 628.0h0M608.5 622.4h0M609.8 631.6h0M608.3 628.4h0M607.6 627.4h0M607.3 629.7h0M607.8 630.3h0M610.3 622.6h0M609.7 630.8h0M604.2 613.1h0M606.4 621.7h0M608.9 619.1h0M605.8 618.1h0M610.6 612.5h0M609.4 609.1h0M603.6 610.6h0M609.7 616.4h0M606.8 625.5h0M603.4 618.2h0M608.1 611.5h0M605.5 612.5h0M609.6 627.6h0M606.3 624.5h0M609.5 615.0h0M607.6 627.1h0M607.2 626.0h0M609.2 614.7h0M609.9 611.2h0M607.7 633.3h0M604.0 621.2h0M610.1 614.4h0M605.3 625.3h0M607.3 614.9h0M607.2 612.5h0M603.7 621.4h0M610.5 622.2h0M604.1 613.0h0M609.8 625.3h0M608.9 622.7h0M608.1 629.3h0M609.5 635.7h0M607.8 612.6h0M603.9 617.7h0M606.4 616.4h0M607.4 619.0h0M607.7 627.6h0M609.0 613.2h0M610.2 634.4h0M608.8 628.2h0M608.9 611.4h0M610.5 609.6h0M604.5 610.1h0M603.4 628.9h0M605.5 629.6h0M604.9 623.8h0M606.8 631.0h0M603.6 619.6h0M607.3 610.7h0M605.2 618.1h0M605.2 633.1h0M606.1 609.6h0M608.2 618.6h0M607.4 611.7h0M608.2 612.1h0M605.0 618.1h0M605.4 631.9h0M607.5 613.3h0M605.5 615.9h0M609.4 615.7h0M603.4 622.8h0M607.2 622.9h0M606.0 633.5h0M603.5 619.0h0M606.3 635.4h0M606.3 635.8h0M610.0 625.5h0M604.6 626.6h0M606.0 609.2h0M605.0 610.3h0M607.5 612.1h0M608.1 626.2h0M608.2 611.1h0M609.6 621.0h0M606.4 619.7h0M606.9 620.5h0M609.9 631.1h0M608.5 635.7h0M606.1 609.8h0M605.4 622.3h0M609.1 611.3h0M605.0 609.9h0M605.8 611.7h0M607.3 625.6h0M607.8 619.7h0M610.1 630.0h0M605.2 616.0h0M603.8 624.7h0M608.0 614.5h0M607.5 633.0h0M603.6 631.8h0M606.9 614.8h0M606.7 612.8h0M633.5 603.3h0M637.1 629.6h0M637.6 617.7h0M639.2 618.5h0M636.2 609.5h0M639.8 609.3h0M635.9 610.0h0M639.7 611.1h0M640.6 613.6h0M634.5 604.8h0M639.7 619.7h0M639.1 616.3h0M636.1 611.3h0M635.2 612.1h0M639.6 626.1h0M635.6 620.5h0M634.3 620.4h0M639.0 604.9h0M633.8 606.6h0M634.9 628.3h0M638.2 628.4h0M639.9 624.2h0M640.0 622.2h0M637.9 624.3h0M634.0 624.3h0M640.1 614.9h0M637.2 604.9h0M637.7 627.4h0M635.5 621.1h0M635.0 619.3h0M634.6 615.7h0M639.3 629.1h0M636.9 605.4h0M635.7 614.6h0M640.5 611.4h0M638.8 606.3h0M635.9 603.6h0M639.9 605.0h0M638.7 607.5h0M635.5 612.6h0M637.1 610.3h0M634.8 613.7h0M639.3 614.1h0M634.9 612.0h0M635.3 613.4h0M637.1 611.4h0M635.1 622.7h0M633.7 614.2h0M638.8 608.2h0M638.8 627.7h0M636.1 607.3h0M634.7 614.6h0M640.0 610.8h0M634.9 608.2h0M638.8 614.0h0M639.5 620.5h0M636.0 606.2h0M639.9 625.9h0M635.9 626.2h0M634.9 606.9h0M637.8 622.7h0M634.2 604.7h0M633.6 622.8h0M637.5 607.6h0M637.7 611.2h0M638.8 604.6h0M638.1 623.5h0M634.3 613.6h0M637.0 622.9h0M639.2 604.4h0M635.1 626.6h0M637.8 617.9h0M637.8 609.0h0M639.3 612.1h0M634.0 611.9h0M637.0 619.2h0M638.3 617.6h0M638.1 607.5h0M638.4 605.0h0M637.3 619.6h0M633.7 608.6h0M639.2 608.3h0M638.8 623.3h0M635.2 609.0h0M634.6 615.2h0M639.5 607.9h0M636.0 620.0h0M637.2 613.4h0M635.5 624.9h0M635.3 607.1h0M634.3 610.0h0M637.3 610.2h0M639.2 621.0h0M635.3 621.9h0M633.7 613.6h0M639.3 623.8h0M639.7 608.0h0M638.3 625.1h0M634.7 620.7h0M638.3 608.4h0M636.3 625.0h0M635.5 615.6h0M634.8 606.3h0M634.2 610.2h0M633.7 619.6h0M635.5 611.1h0M639.8 620.3h0M636.6 604.6h0M638.4 613.1h0M634.8 606.6h0M665.5 596.8h0M663.7 620.8h0M666.7 604.0h0M667.6 602.1h0M664.1 609.1h0M668.1 615.0h0M665.9 603.9h0M665.5 604.7h0M668.4 618.7h0M663.7 607.7h0M664.4 604.8h0M667.0 610.4h0M669.4 598.8h0M667.1 606.4h0M665.5 616.3h0M665.8 611.3h0M670.5 608.7h0M668.0 600.8h0M663.9 616.7h0M668.1 615.2h0M670.1 605.1h0M664.3 602.1h0M666.0 603.9h0M663.8 601.4h0M663.7 596.9h0M667.0 599.7h0M668.6 602.5h0M666.6 613.4h0M667.6 599.1h0M668.9 599.1h0M664.7 602.1h0M669.1 612.9h0M669.9 607.7h0M665.3 605.4h0M668.8 610.1h0M666.8 613.4h0M664.8 598.4h0M669.1 620.4h0M667.1 618.1h0M664.5 600.7h0M668.1 603.5h0M669.0 601.6h0M666.7 615.2h0M666.6 609.9h0M665.3 616.8h0M664.0 608.7h0M669.0 598.7h0M664.6 608.4h0M667.9 612.3h0M664.7 607.9h0M670.1 602.9h0M664.6 600.7h0M665.6 604.5h0M663.8 607.4h0M666.1 614.2h0M666.5 610.9h0M669.5 610.6h0M663.7 604.4h0M669.8 610.8h0M665.8 617.6h0M669.1 616.7h0M666.3 617.6h0M669.3 603.0h0M666.2 618.4h0M670.0 600.2h0M664.0 599.6h0M667.0 606.7h0M669.9 612.0h0M667.3 603.3h0M665.9 603.7h0M669.5 603.1h0M665.7 606.3h0M665.3 603.0h0M665.6 614.0h0M669.8 606.4h0M665.3 611.4h0M669.4 609.7h0M669.8 612.2h0M667.6 601.4h0M667.7 603.9h0M665.4 603.2h0M667.6 605.6h0M669.2 608.8h0M665.9 613.0h0M666.0 601.9h0M663.6 607.3h0M663.8 597.7h0M670.4 597.3h0M666.0 602.4h0M663.6 608.1h0M663.5 617.1h0M666.4 602.9h0M668.5 608.7h0M664.4 611.3h0M669.6 608.1h0M665.4 601.2h0M669.9 605.2h0M664.9 605.0h0M666.5 612.1h0M665.8 600.1h0M663.6 614.1h0M664.7 611.1h0M666.7 601.1h0M665.8 604.1h0M664.5 607.2h0M664.5 613.1h0M667.5 601.4h0M669.3 612.2h0M668.6 603.5h0M670.1 612.2h0" stroke="#FFA07A" stroke-width="6.3" stroke-linecap="round" fill="none"/><path d="M428.9,623.2 429.3,624.6 429.8,626.0 430.3,627.3 430.6,628.7 430.7,630.1 430.8,631.5 430.8,632.9 430.8,634.2 430.8,635.6 430.9,637.0 430.9,638.4 430.9,639.8 430.9,641.1 430.9,642.5 431.0,643.9 431.0,645.3 431.0,646.7 431.0,648.0 431.0,649.4 431.0,650.8 431.0,652.2 431.0,653.6 431.0,654.9 431.0,656.3 431.0,657.7 431.0,659.1 431.0,660.5 431.0,661.8 431.0,663.2 431.0,664.6 431.0,666.0 431.0,667.4 431.0,668.7 430.9,670.1 430.8,671.5 430.7,672.9 430.6,674.3 430.5,675.6 430.4,677.0 430.3,678.4 430.2,679.8 430.0,681.2 429.9,682.5 429.6,683.9 429.3,685.3 428.8,686.7 428.3,688.1 427.9,689.4 427.8,690.8 427.9,692.2 428.3,693.6 428.8,695.0 429.3,696.3 429.7,697.7 429.8,699.1 429.8,700.5 429.8,701.9 429.8,703.2 429.8,704.6 429.8,706.0 429.7,707.4 429.7,708.8 429.7,710.1 429.6,711.5 429.6,712.9 429.5,714.3 429.4,715.7 429.1,717.0 428.7,718.4 428.2,719.8 425.8,719.8 425.3,718.4 424.9,717.0 424.6,715.7 424.5,714.3 424.4,712.9 424.4,711.5 424.3,710.1 424.3,708.8 424.3,707.4 424.2,706.0 424.2,704.6 424.2,703.2 424.2,701.9 424.2,700.5 424.2,699.1 424.3,697.7 424.7,696.3 425.2,695.0 425.7,693.6 426.1,692.2 426.2,690.8 426.1,689.4 425.7,688.1 425.2,686.7 424.7,685.3 424.4,683.9 424.1,682.5 424.0,681.2 423.8,679.8 423.7,678.4 423.6,677.0 423.5,675.6 423.4,674.3 423.3,672.9 423.2,671.5 423.1,670.1 423.0,668.7 423.0,667.4 423.0,666.0 423.0,664.6 423.0,663.2 423.0,661.8 423.0,660.5 423.0,659.1 423.0,657.7 423.0,656.3 423.0,654.9 423.0,653.6 423.0,652.2 423.0,650.8 423.0,649.4 423.0,648.0 423.0,646.7 423.0,645.3 423.0,643.9 423.1,642.5 423.1,641.1 423.1,639.8 423.1,638.4 423.1,637.0 423.2,635.6 423.2,634.2 423.2,632.9 423.2,631.5 423.3,630.1 423.4,628.7 423.7,627.3 424.2,626.0 424.7,624.6 425.1,623.2ZM458.9,623.2 459.3,624.4 459.7,625.7 460.1,626.9 460.5,628.2 460.7,629.4 460.8,630.7 460.8,631.9 460.8,633.2 460.8,634.4 460.8,635.7 460.9,636.9 460.9,638.2 460.9,639.4 460.9,640.7 460.9,641.9 460.9,643.2 460.9,644.4 461.0,645.7 461.0,646.9 461.0,648.2 461.0,649.4 461.0,650.7 461.0,651.9 461.0,653.2 461.0,654.4 461.0,655.7 461.0,656.9 461.0,658.2 461.0,659.4 461.0,660.7 461.0,661.9 461.0,663.2 461.0,664.4 461.0,665.7 461.0,666.9 461.0,668.1 461.0,669.4 461.0,670.6 461.0,671.9 461.0,673.1 461.0,674.4 461.0,675.6 461.0,676.9 461.0,678.1 461.0,679.4 461.0,680.6 461.0,681.9 460.9,683.1 460.9,684.4 460.9,685.6 460.9,686.9 460.8,688.1 460.8,689.4 460.8,690.6 460.7,691.9 460.7,693.1 460.7,694.4 460.6,695.6 460.6,696.9 460.5,698.1 460.5,699.4 460.4,700.6 460.2,701.9 460.0,703.1 459.8,704.4 459.5,705.6 459.2,706.9 458.8,708.1 458.5,709.4 458.2,710.6 455.8,710.6 455.5,709.4 455.2,708.1 454.8,706.9 454.5,705.6 454.2,704.4 454.0,703.1 453.8,701.9 453.6,700.6 453.5,699.4 453.5,698.1 453.4,696.9 453.4,695.6 453.3,694.4 453.3,693.1 453.3,691.9 453.2,690.6 453.2,689.4 453.2,688.1 453.1,686.9 453.1,685.6 453.1,684.4 453.1,683.1 453.0,681.9 453.0,680.6 453.0,679.4 453.0,678.1 453.0,676.9 453.0,675.6 453.0,674.4 453.0,673.1 453.0,671.9 453.0,670.6 453.0,669.4 453.0,668.1 453.0,666.9 453.0,665.7 453.0,664.4 453.0,663.2 453.0,661.9 453.0,660.7 453.0,659.4 453.0,658.2 453.0,656.9 453.0,655.7 453.0,654.4 453.0,653.2 453.0,651.9 453.0,650.7 453.0,649.4 453.0,648.2 453.0,646.9 453.0,645.7 453.1,644.4 453.1,643.2 453.1,641.9 453.1,640.7 453.1,639.4 453.1,638.2 453.1,636.9 453.2,635.7 453.2,634.4 453.2,633.2 453.2,631.9 453.2,630.7 453.3,629.4 453.5,628.2 453.9,626.9 454.3,625.7 454.7,624.4 455.1,623.2ZM488.9,648.3 489.1,649.1 489.4,649.9 489.7,650.7 489.9,651.5 490.2,652.2 490.4,653.0 490.6,653.8 490.7,654.6 490.8,655.4 490.8,656.2 490.8,657.0 490.8,657.8 490.9,658.6 490.9,659.3 490.9,660.1 490.9,660.9 491.0,661.7 491.0,662.5 491.0,663.3 491.0,664.1 491.0,664.9 491.0,665.6 491.0,666.4 491.0,667.2 491.0,668.0 491.0,668.8 491.0,669.6 491.0,670.4 491.0,671.2 491.0,672.0 491.0,672.7 491.0,673.5 491.0,674.3 491.0,675.1 491.0,675.9 491.0,676.7 491.0,677.5 491.0,678.3 491.0,679.1 491.0,679.8 491.0,680.6 490.9,681.4 490.9,682.2 490.9,683.0 490.9,683.8 490.9,684.6 490.8,685.4 490.8,686.2 490.8,686.9 490.8,687.7 490.7,688.5 490.7,689.3 490.7,690.1 490.6,690.9 490.6,691.7 490.6,692.5 490.5,693.2 490.5,694.0 490.4,694.8 490.4,695.6 490.3,696.4 490.1,697.2 489.9,698.0 489.7,698.8 489.5,699.6 489.2,700.3 488.9,701.1 488.7,701.9 488.5,702.7 488.2,703.5 485.8,703.5 485.5,702.7 485.3,701.9 485.1,701.1 484.8,700.3 484.5,699.6 484.3,698.8 484.1,698.0 483.9,697.2 483.7,696.4 483.6,695.6 483.6,694.8 483.5,694.0 483.5,693.2 483.4,692.5 483.4,691.7 483.4,690.9 483.3,690.1 483.3,689.3 483.3,688.5 483.2,687.7 483.2,686.9 483.2,686.2 483.2,685.4 483.1,684.6 483.1,683.8 483.1,683.0 483.1,682.2 483.1,681.4 483.0,680.6 483.0,679.8 483.0,679.1 483.0,678.3 483.0,677.5 483.0,676.7 483.0,675.9 483.0,675.1 483.0,674.3 483.0,673.5 483.0,672.7 483.0,672.0 483.0,671.2 483.0,670.4 483.0,669.6 483.0,668.8 483.0,668.0 483.0,667.2 483.0,666.4 483.0,665.6 483.0,664.9 483.0,664.1 483.0,663.3 483.0,662.5 483.0,661.7 483.1,660.9 483.1,660.1 483.1,659.3 483.1,658.6 483.2,657.8 483.2,657.0 483.2,656.2 483.2,655.4 483.3,654.6 483.4,653.8 483.6,653.0 483.8,652.2 484.1,651.5 484.3,650.7 484.6,649.9 484.9,649.1 485.1,648.3ZM518.9,623.2 519.3,624.4 519.7,625.7 520.1,626.9 520.5,628.2 520.7,629.4 520.8,630.7 520.8,631.9 520.8,633.1 520.9,634.4 520.9,635.6 520.9,636.9 520.9,638.1 521.0,639.4 521.0,640.6 521.0,641.8 521.0,643.1 521.0,644.3 521.0,645.6 521.0,646.8 521.0,648.1 521.0,649.3 521.0,650.5 521.0,651.8 521.0,653.0 521.0,654.3 521.0,655.5 521.0,656.8 521.0,658.0 521.0,659.2 521.0,660.5 521.0,661.7 521.0,663.0 521.0,664.2 521.0,665.5 521.0,666.7 521.0,667.9 521.0,669.2 520.9,670.4 520.9,671.7 520.9,672.9 520.9,674.2 520.9,675.4 520.8,676.6 520.8,677.9 520.8,679.1 520.8,680.4 520.7,681.6 520.7,682.9 520.7,684.1 520.6,685.3 520.6,686.6 520.6,687.8 520.5,689.1 520.5,690.3 520.5,691.6 520.4,692.8 520.4,694.0 520.3,695.3 520.3,696.5 520.2,697.8 520.2,699.0 520.1,700.3 520.0,701.5 519.7,702.7 519.4,704.0 519.1,705.2 518.7,706.5 518.3,707.7 518.0,709.0 517.6,710.2 516.4,710.2 516.0,709.0 515.7,707.7 515.3,706.5 514.9,705.2 514.6,704.0 514.3,702.7 514.0,701.5 513.9,700.3 513.8,699.0 513.8,697.8 513.7,696.5 513.7,695.3 513.6,694.0 513.6,692.8 513.5,691.6 513.5,690.3 513.5,689.1 513.4,687.8 513.4,686.6 513.4,685.3 513.3,684.1 513.3,682.9 513.3,681.6 513.2,680.4 513.2,679.1 513.2,677.9 513.2,676.6 513.1,675.4 513.1,674.2 513.1,672.9 513.1,671.7 513.1,670.4 513.0,669.2 513.0,667.9 513.0,666.7 513.0,665.5 513.0,664.2 513.0,663.0 513.0,661.7 513.0,660.5 513.0,659.2 513.0,658.0 513.0,656.8 513.0,655.5 513.0,654.3 513.0,653.0 513.0,651.8 513.0,650.5 513.0,649.3 513.0,648.1 513.0,646.8 513.0,645.6 513.0,644.3 513.0,643.1 513.0,641.8 513.0,640.6 513.0,639.4 513.1,638.1 513.1,636.9 513.1,635.6 513.1,634.4 513.2,633.1 513.2,631.9 513.2,630.7 513.3,629.4 513.5,628.2 513.9,626.9 514.3,625.7 514.7,624.4 515.1,623.2ZM548.9,612.1 549.1,613.0 549.4,614.0 549.7,614.9 549.9,615.9 550.2,616.8 550.4,617.7 550.6,618.7 550.7,619.6 550.8,620.6 550.8,621.5 550.8,622.4 550.9,623.4 550.9,624.3 550.9,625.3 551.0,626.2 551.0,627.1 551.0,628.1 551.0,629.0 551.0,630.0 551.0,630.9 551.0,631.8 551.0,632.8 551.0,633.7 551.0,634.7 551.0,635.6 551.0,636.5 551.0,637.5 551.0,638.4 551.0,639.4 551.0,640.3 551.0,641.2 551.0,642.2 551.0,643.1 551.0,644.1 551.0,645.0 551.0,645.9 550.9,646.9 550.9,647.8 550.9,648.8 550.9,649.7 550.9,650.6 550.8,651.6 550.8,652.5 550.8,653.5 550.8,654.4 550.7,655.3 550.7,656.3 550.7,657.2 550.7,658.2 550.6,659.1 550.6,660.0 550.6,661.0 550.5,661.9 550.5,662.9 550.4,663.8 550.4,664.7 550.3,665.7 550.3,666.6 550.2,667.6 550.2,668.5 550.1,669.4 550.1,670.4 549.9,671.3 549.7,672.3 549.4,673.2 549.1,674.1 548.7,675.1 548.3,676.0 547.9,677.0 547.6,677.9 546.4,677.9 546.1,677.0 545.7,676.0 545.3,675.1 544.9,674.1 544.6,673.2 544.3,672.3 544.1,671.3 543.9,670.4 543.9,669.4 543.8,668.5 543.8,667.6 543.7,666.6 543.7,665.7 543.6,664.7 543.6,663.8 543.5,662.9 543.5,661.9 543.4,661.0 543.4,660.0 543.4,659.1 543.3,658.2 543.3,657.2 543.3,656.3 543.3,655.3 543.2,654.4 543.2,653.5 543.2,652.5 543.2,651.6 543.1,650.6 543.1,649.7 543.1,648.8 543.1,647.8 543.1,646.9 543.0,645.9 543.0,645.0 543.0,644.1 543.0,643.1 543.0,642.2 543.0,641.2 543.0,640.3 543.0,639.4 543.0,638.4 543.0,637.5 543.0,636.5 543.0,635.6 543.0,634.7 543.0,633.7 543.0,632.8 543.0,631.8 543.0,630.9 543.0,630.0 543.0,629.0 543.0,628.1 543.0,627.1 543.0,626.2 543.1,625.3 543.1,624.3 543.1,623.4 543.2,622.4 543.2,621.5 543.2,620.6 543.3,619.6 543.4,618.7 543.6,617.7 543.8,616.8 544.1,615.9 544.3,614.9 544.6,614.0 544.9,613.0 545.1,612.1ZM578.9,611.6 579.2,612.1 579.4,612.7 579.6,613.2 579.9,613.8 580.1,614.3 580.3,614.8 580.6,615.4 580.8,615.9 581.1,616.4 581.3,617.0 581.6,617.5 581.8,618.1 582.1,618.6 582.4,619.1 582.7,619.7 583.0,620.2 583.3,620.8 583.7,621.3 584.0,621.8 584.3,622.4 584.6,622.9 584.9,623.4 585.2,624.0 585.4,624.5 585.7,625.1 585.9,625.6 586.1,626.1 586.4,626.7 586.6,627.2 586.8,627.8 587.1,628.3 587.2,628.8 587.4,629.4 587.5,629.9 587.5,630.5 587.5,631.0 587.5,631.5 587.3,632.1 587.1,632.6 586.9,633.1 586.6,633.7 586.3,634.2 586.0,634.8 585.7,635.3 585.3,635.8 585.0,636.4 584.7,636.9 584.4,637.5 584.1,638.0 583.8,638.5 583.4,639.1 583.0,639.6 582.7,640.1 582.3,640.7 581.9,641.2 581.6,641.8 581.2,642.3 580.9,642.8 580.6,643.4 580.4,643.9 580.1,644.5 579.9,645.0 579.6,645.5 579.4,646.1 579.1,646.6 578.9,647.1 578.7,647.7 578.4,648.2 578.2,648.8 578.0,649.3 576.0,649.3 575.8,648.8 575.6,648.2 575.3,647.7 575.1,647.1 574.9,646.6 574.6,646.1 574.4,645.5 574.1,645.0 573.9,644.5 573.6,643.9 573.4,643.4 573.1,642.8 572.8,642.3 572.4,641.8 572.1,641.2 571.7,640.7 571.3,640.1 571.0,639.6 570.6,639.1 570.2,638.5 569.9,638.0 569.6,637.5 569.3,636.9 569.0,636.4 568.7,635.8 568.3,635.3 568.0,634.8 567.7,634.2 567.4,633.7 567.1,633.1 566.9,632.6 566.7,632.1 566.5,631.5 566.5,631.0 566.5,630.5 566.5,629.9 566.6,629.4 566.8,628.8 566.9,628.3 567.2,627.8 567.4,627.2 567.6,626.7 567.9,626.1 568.1,625.6 568.3,625.1 568.6,624.5 568.8,624.0 569.1,623.4 569.4,622.9 569.7,622.4 570.0,621.8 570.3,621.3 570.7,620.8 571.0,620.2 571.3,619.7 571.6,619.1 571.9,618.6 572.2,618.1 572.4,617.5 572.7,617.0 572.9,616.4 573.2,615.9 573.4,615.4 573.7,614.8 573.9,614.3 574.1,613.8 574.4,613.2 574.6,612.7 574.8,612.1 575.1,611.6ZM610.8,608.8 611.7,609.2 612.7,609.6 613.7,610.0 614.7,610.4 615.6,610.8 616.3,611.2 616.8,611.6 617.0,612.0 617.0,612.4 617.0,612.8 617.0,613.2 616.9,613.6 616.8,614.0 616.7,614.4 616.6,614.8 616.5,615.2 616.4,615.6 616.3,615.9 616.1,616.3 616.0,616.7 615.9,617.1 615.8,617.5 615.6,617.9 615.5,618.3 615.4,618.7 615.2,619.1 615.1,619.5 614.9,619.9 614.8,620.3 614.6,620.7 614.4,621.1 614.3,621.5 614.1,621.9 613.9,622.3 613.7,622.7 613.5,623.1 613.4,623.5 613.2,623.9 613.0,624.3 612.9,624.7 612.7,625.1 612.6,625.5 612.4,625.9 612.3,626.3 612.1,626.7 612.0,627.1 611.8,627.5 611.7,627.9 611.5,628.3 611.4,628.7 611.2,629.1 611.0,629.5 610.9,629.8 610.7,630.2 610.6,630.6 610.4,631.0 610.2,631.4 610.1,631.8 609.9,632.2 609.7,632.6 609.5,633.0 609.4,633.4 609.2,633.8 609.0,634.2 608.8,634.6 608.7,635.0 608.5,635.4 608.3,635.8 608.1,636.2 608.0,636.6 606.0,636.6 605.9,636.2 605.7,635.8 605.5,635.4 605.3,635.0 605.2,634.6 605.0,634.2 604.8,633.8 604.6,633.4 604.5,633.0 604.3,632.6 604.1,632.2 603.9,631.8 603.8,631.4 603.6,631.0 603.4,630.6 603.3,630.2 603.1,629.8 603.0,629.5 602.8,629.1 602.6,628.7 602.5,628.3 602.3,627.9 602.2,627.5 602.0,627.1 601.9,626.7 601.7,626.3 601.6,625.9 601.4,625.5 601.3,625.1 601.1,624.7 601.0,624.3 600.8,623.9 600.6,623.5 600.5,623.1 600.3,622.7 600.1,622.3 599.9,621.9 599.7,621.5 599.6,621.1 599.4,620.7 599.2,620.3 599.1,619.9 598.9,619.5 598.8,619.1 598.6,618.7 598.5,618.3 598.4,617.9 598.2,617.5 598.1,617.1 598.0,616.7 597.9,616.3 597.7,615.9 597.6,615.6 597.5,615.2 597.4,614.8 597.3,614.4 597.2,614.0 597.1,613.6 597.0,613.2 597.0,612.8 597.0,612.4 597.0,612.0 597.2,611.6 597.7,611.2 598.4,610.8 599.3,610.4 600.3,610.0 601.3,609.6 602.3,609.2 603.2,608.8ZM641.8,603.3 642.5,603.7 643.3,604.1 644.1,604.4 645.0,604.8 645.9,605.2 646.7,605.6 647.5,605.9 648.2,606.3 648.9,606.7 649.4,607.1 649.7,607.4 649.9,607.8 649.9,608.2 649.9,608.6 649.9,608.9 649.8,609.3 649.7,609.7 649.5,610.1 649.4,610.4 649.2,610.8 649.1,611.2 648.9,611.6 648.7,611.9 648.5,612.3 648.3,612.7 648.1,613.1 647.9,613.4 647.7,613.8 647.5,614.2 647.3,614.6 647.1,614.9 646.9,615.3 646.6,615.7 646.3,616.1 646.1,616.5 645.8,616.8 645.5,617.2 645.2,617.6 644.9,618.0 644.6,618.3 644.3,618.7 644.0,619.1 643.7,619.5 643.4,619.8 643.2,620.2 642.9,620.6 642.7,621.0 642.5,621.3 642.2,621.7 642.0,622.1 641.8,622.5 641.6,622.8 641.4,623.2 641.2,623.6 641.0,624.0 640.8,624.3 640.6,624.7 640.4,625.1 640.2,625.5 640.0,625.8 639.8,626.2 639.6,626.6 639.4,627.0 639.2,627.3 639.0,627.7 638.8,628.1 638.6,628.5 638.4,628.8 638.2,629.2 638.0,629.6 636.0,629.6 635.8,629.2 635.6,628.8 635.4,628.5 635.2,628.1 635.0,627.7 634.8,627.3 634.6,627.0 634.4,626.6 634.2,626.2 634.0,625.8 633.8,625.5 633.6,625.1 633.4,624.7 633.2,624.3 633.0,624.0 632.8,623.6 632.6,623.2 632.4,622.8 632.2,622.5 632.0,622.1 631.8,621.7 631.5,621.3 631.3,621.0 631.1,620.6 630.8,620.2 630.6,619.8 630.3,619.5 630.0,619.1 629.7,618.7 629.4,618.3 629.1,618.0 628.8,617.6 628.5,617.2 628.2,616.8 627.9,616.5 627.7,616.1 627.4,615.7 627.1,615.3 626.9,614.9 626.7,614.6 626.5,614.2 626.3,613.8 626.1,613.4 625.9,613.1 625.7,612.7 625.5,612.3 625.3,611.9 625.1,611.6 624.9,611.2 624.8,610.8 624.6,610.4 624.5,610.1 624.3,609.7 624.2,609.3 624.1,608.9 624.1,608.6 624.1,608.2 624.1,607.8 624.3,607.4 624.6,607.1 625.1,606.7 625.8,606.3 626.5,605.9 627.3,605.6 628.1,605.2 629.0,604.8 629.9,604.4 630.7,604.1 631.5,603.7 632.2,603.3ZM672.8,596.8 673.3,597.1 674.0,597.5 674.6,597.8 675.3,598.2 676.0,598.5 676.7,598.9 677.3,599.2 677.9,599.5 678.4,599.9 678.8,600.2 679.0,600.6 679.1,600.9 679.1,601.3 679.1,601.6 679.0,601.9 678.9,602.3 678.7,602.6 678.6,603.0 678.4,603.3 678.1,603.7 677.9,604.0 677.7,604.3 677.5,604.7 677.2,605.0 677.0,605.4 676.8,605.7 676.6,606.1 676.4,606.4 676.2,606.7 676.0,607.1 675.8,607.4 675.6,607.8 675.3,608.1 675.1,608.5 674.9,608.8 674.6,609.1 674.4,609.5 674.2,609.8 674.0,610.2 673.7,610.5 673.5,610.9 673.3,611.2 673.1,611.5 672.9,611.9 672.7,612.2 672.4,612.6 672.3,612.9 672.1,613.3 671.9,613.6 671.7,613.9 671.5,614.3 671.3,614.6 671.1,615.0 670.9,615.3 670.7,615.7 670.5,616.0 670.4,616.3 670.2,616.7 670.0,617.0 669.8,617.4 669.6,617.7 669.4,618.1 669.3,618.4 669.1,618.7 668.9,619.1 668.7,619.4 668.5,619.8 668.3,620.1 668.2,620.5 668.0,620.8 666.0,620.8 665.8,620.5 665.7,620.1 665.5,619.8 665.3,619.4 665.1,619.1 664.9,618.7 664.7,618.4 664.6,618.1 664.4,617.7 664.2,617.4 664.0,617.0 663.8,616.7 663.6,616.3 663.5,616.0 663.3,615.7 663.1,615.3 662.9,615.0 662.7,614.6 662.5,614.3 662.3,613.9 662.1,613.6 661.9,613.3 661.7,612.9 661.6,612.6 661.3,612.2 661.1,611.9 660.9,611.5 660.7,611.2 660.5,610.9 660.3,610.5 660.0,610.2 659.8,609.8 659.6,609.5 659.4,609.1 659.1,608.8 658.9,608.5 658.7,608.1 658.4,607.8 658.2,607.4 658.0,607.1 657.8,606.7 657.6,606.4 657.4,606.1 657.2,605.7 657.0,605.4 656.8,605.0 656.5,604.7 656.3,604.3 656.1,604.0 655.9,603.7 655.6,603.3 655.4,603.0 655.3,602.6 655.1,602.3 655.0,601.9 654.9,601.6 654.9,601.3 654.9,600.9 655.0,600.6 655.2,600.2 655.6,599.9 656.1,599.5 656.7,599.2 657.3,598.9 658.0,598.5 658.7,598.2 659.4,597.8 660.0,597.5 660.7,597.1 661.2,596.8Z" fill="none" stroke="#FFA07A" stroke-width="1.9" stroke-linejoin="round"/><path d="M427.0,623.2 L457.0,623.2 L487.0,648.3 L517.0,623.2 L547.0,612.1 L577.0,611.6 L607.0,608.8 L637.0,603.3 L667.0,596.8" fill="none" stroke="#bababa" stroke-width="1.7" stroke-dasharray="6.4,6.05"/><path d="M427.0,719.8 L457.0,710.6 L487.0,703.5 L517.0,710.2 L547.0,677.9 L577.0,649.3 L607.0,636.6 L637.0,629.6 L667.0,620.8" fill="none" stroke="#bababa" stroke-width="1.7" stroke-dasharray="6.4,6.05"/><path d="M419.5 663.6h15M449.5 670.8h15M479.5 670.8h15M509.5 652.8h15M539.5 633.4h15M569.5 630.7h15M599.5 619.3h15M629.5 612.1h15M659.5 604.9h15" stroke="#B22222" stroke-width="3.8"/><rect x="409.3" y="587.8" width="275.59999999999997" height="171.5999999999999" fill="none" stroke="#555" stroke-width="1"/><line x1="402.5" y1="723.0" x2="409.3" y2="723.0" stroke="#000" stroke-width="1.5"/><text x="398.8" y="727.7" font-size="14.5" text-anchor="end">-6</text><line x1="402.5" y1="680.5" x2="409.3" y2="680.5" stroke="#000" stroke-width="1.5"/><text x="398.8" y="685.2" font-size="14.5" text-anchor="end">-3</text><line x1="402.5" y1="637.8" x2="409.3" y2="637.8" stroke="#000" stroke-width="1.5"/><text x="398.8" y="642.5" font-size="14.5" text-anchor="end">0</text><line x1="402.5" y1="595.0" x2="409.3" y2="595.0" stroke="#000" stroke-width="1.5"/><text x="398.8" y="599.7" font-size="14.5" text-anchor="end">3</text><line x1="427.0" y1="759.3999999999999" x2="427.0" y2="765.6999999999998" stroke="#000" stroke-width="1.5"/><line x1="457.0" y1="759.3999999999999" x2="457.0" y2="765.6999999999998" stroke="#000" stroke-width="1.5"/><line x1="487.0" y1="759.3999999999999" x2="487.0" y2="765.6999999999998" stroke="#000" stroke-width="1.5"/><line x1="517.0" y1="759.3999999999999" x2="517.0" y2="765.6999999999998" stroke="#000" stroke-width="1.5"/><line x1="547.0" y1="759.3999999999999" x2="547.0" y2="765.6999999999998" stroke="#000" stroke-width="1.5"/><line x1="577.0" y1="759.3999999999999" x2="577.0" y2="765.6999999999998" stroke="#000" stroke-width="1.5"/><line x1="607.0" y1="759.3999999999999" x2="607.0" y2="765.6999999999998" stroke="#000" stroke-width="1.5"/><line x1="637.0" y1="759.3999999999999" x2="637.0" y2="765.6999999999998" stroke="#000" stroke-width="1.5"/><line x1="667.0" y1="759.3999999999999" x2="667.0" y2="765.6999999999998" stroke="#000" stroke-width="1.5"/><text x="667.0" y="743.4" font-size="17" font-weight="bold" text-anchor="middle">i</text><text transform="translate(361.2,673.5999999999999) rotate(-90)" font-size="14.5" text-anchor="middle">GMST (°C)</text><path d="M423.4 842.2h0M425.8 914.8h0M424.5 876.8h0M428.7 851.8h0M423.6 903.4h0M429.4 850.2h0M428.5 870.0h0M428.9 854.4h0M424.6 907.4h0M428.0 904.5h0M430.6 911.7h0M424.6 881.5h0M430.2 896.0h0M424.7 851.5h0M427.6 865.5h0M423.4 864.3h0M426.8 893.7h0M425.2 908.2h0M428.8 891.0h0M424.6 884.1h0M425.5 858.3h0M426.9 865.0h0M429.3 865.0h0M430.0 874.3h0M427.9 893.7h0M426.3 879.8h0M424.4 881.0h0M429.4 896.1h0M427.3 863.1h0M425.0 910.5h0M424.8 906.8h0M426.4 883.2h0M428.5 844.1h0M426.4 909.6h0M429.8 874.9h0M424.7 914.6h0M428.3 900.3h0M427.0 867.2h0M430.0 845.3h0M426.5 862.8h0M423.8 885.8h0M425.9 846.2h0M428.4 884.8h0M427.6 868.3h0M423.5 877.9h0M427.5 866.1h0M427.3 852.0h0M427.2 872.2h0M429.5 908.4h0M427.0 908.0h0M425.3 848.7h0M427.2 843.2h0M429.3 882.8h0M429.9 906.8h0M424.9 874.3h0M428.6 876.4h0M426.1 876.2h0M426.7 878.3h0M424.3 911.1h0M425.9 857.4h0M426.0 874.4h0M427.3 885.7h0M427.6 868.6h0M424.7 873.2h0M427.1 884.2h0M426.8 874.6h0M429.3 877.3h0M427.1 845.5h0M424.1 899.4h0M429.1 880.6h0M423.5 913.8h0M430.1 872.1h0M424.3 879.3h0M424.1 895.4h0M426.3 871.7h0M426.7 858.9h0M429.4 883.7h0M428.8 863.9h0M429.6 857.1h0M427.6 872.5h0M429.1 899.5h0M423.9 889.4h0M425.6 889.6h0M428.8 899.6h0M428.0 879.8h0M423.6 867.5h0M423.5 887.0h0M424.6 891.6h0M424.8 909.0h0M429.3 885.1h0M424.3 880.2h0M428.8 870.7h0M430.5 900.6h0M424.2 897.6h0M426.1 858.1h0M429.1 879.9h0M425.9 861.9h0M429.2 862.6h0M424.2 853.3h0M425.1 893.3h0M426.2 845.9h0M430.5 865.1h0M424.4 894.0h0M423.9 896.2h0M423.5 877.4h0M428.5 882.2h0M424.0 874.0h0M429.8 878.9h0M425.2 844.9h0M425.1 874.2h0M423.9 908.2h0M426.2 878.5h0M423.6 856.2h0M423.7 908.4h0M428.1 854.9h0M429.1 859.8h0M424.2 892.1h0M426.9 878.1h0M425.4 848.2h0M425.0 852.1h0M427.2 872.6h0M426.0 898.8h0M428.4 877.2h0M426.2 882.2h0M423.6 888.8h0M424.2 885.3h0M427.1 910.7h0M429.4 870.2h0M425.6 873.6h0M428.7 872.9h0M423.6 882.6h0M429.9 883.1h0M428.0 889.9h0M423.5 879.9h0M427.4 895.2h0M426.8 894.0h0M424.7 846.5h0M429.2 898.6h0M427.1 913.2h0M430.4 882.5h0M427.2 905.0h0M430.1 883.4h0M426.8 888.0h0M426.0 914.4h0M425.9 873.4h0M423.4 847.1h0M424.8 896.0h0M426.3 877.7h0M429.2 886.3h0M429.4 852.1h0M429.0 898.4h0M427.2 903.9h0M428.3 883.7h0M423.7 874.2h0M424.3 902.5h0M426.8 885.7h0M428.0 890.9h0M424.4 876.1h0M424.9 902.6h0M428.5 884.1h0M459.0 853.5h0M453.8 927.1h0M457.6 870.3h0M459.0 890.3h0M454.3 855.6h0M458.3 873.6h0M454.8 885.4h0M457.9 882.8h0M459.4 880.9h0M455.6 864.4h0M458.0 903.1h0M458.3 899.5h0M459.4 885.9h0M460.3 872.6h0M454.2 861.2h0M457.9 885.5h0M453.7 900.7h0M456.0 881.1h0M458.5 905.3h0M460.2 880.9h0M458.3 874.0h0M460.5 867.6h0M453.6 914.3h0M454.4 903.4h0M453.6 904.0h0M457.4 853.7h0M460.0 899.4h0M454.1 876.1h0M454.1 885.9h0M456.6 872.5h0M459.9 898.3h0M459.3 890.9h0M457.2 900.0h0M455.5 868.0h0M454.6 864.2h0M456.6 870.4h0M457.9 875.6h0M454.6 901.6h0M460.1 903.0h0M460.2 893.0h0M458.6 883.9h0M459.7 884.5h0M459.4 869.9h0M454.4 890.1h0M455.7 866.7h0M457.1 868.0h0M456.4 891.9h0M457.9 873.3h0M455.2 906.2h0M453.6 868.4h0M458.1 896.7h0M455.2 878.7h0M454.3 874.6h0M455.3 897.8h0M456.9 913.8h0M457.6 899.4h0M457.3 864.0h0M458.1 892.6h0M456.8 870.2h0M457.4 903.7h0M454.1 860.8h0M459.8 865.1h0M453.8 899.1h0M458.1 870.1h0M455.8 904.3h0M453.6 868.0h0M458.3 885.9h0M458.9 896.0h0M457.9 894.0h0M457.1 855.3h0M457.4 862.5h0M454.5 881.8h0M454.8 882.9h0M455.2 866.3h0M453.8 894.8h0M458.4 877.2h0M454.6 890.2h0M457.8 889.1h0M454.3 899.0h0M454.7 865.3h0M458.2 897.9h0M455.9 889.1h0M453.6 868.5h0M459.4 859.0h0M459.9 912.7h0M455.9 883.3h0M460.5 864.3h0M460.4 890.5h0M453.4 858.6h0M458.9 875.1h0M454.3 896.1h0M456.8 896.8h0M455.0 882.1h0M457.1 870.9h0M456.3 891.9h0M459.5 869.5h0M454.6 883.2h0M457.7 887.2h0M454.2 902.7h0M459.9 861.7h0M455.9 880.9h0M456.2 856.3h0M455.6 861.7h0M459.8 890.8h0M458.4 882.2h0M459.8 922.8h0M458.8 856.7h0M454.2 884.1h0M458.7 860.6h0M454.7 890.6h0M456.1 890.0h0M454.7 877.7h0M457.5 878.9h0M454.7 882.7h0M455.4 913.3h0M460.4 879.9h0M457.0 868.8h0M457.2 909.2h0M459.9 903.5h0M456.0 878.8h0M456.9 883.7h0M460.0 880.7h0M458.9 923.6h0M459.5 892.5h0M457.2 889.9h0M454.3 891.1h0M455.5 879.1h0M456.4 899.4h0M453.7 886.1h0M454.7 899.1h0M484.0 873.9h0M486.4 932.2h0M489.4 898.5h0M488.5 891.1h0M490.2 903.7h0M484.9 908.9h0M483.7 886.1h0M484.6 888.9h0M485.2 900.3h0M484.7 884.2h0M484.8 884.7h0M485.6 876.9h0M486.8 897.3h0M484.1 900.7h0M490.0 898.7h0M485.6 900.2h0M483.8 907.0h0M487.5 903.7h0M485.4 904.1h0M485.2 886.2h0M487.3 908.3h0M485.5 885.0h0M486.2 896.3h0M486.0 901.5h0M490.5 895.9h0M487.5 894.1h0M488.3 896.7h0M487.6 886.1h0M488.2 876.0h0M488.8 894.9h0M483.5 877.9h0M487.4 913.2h0M486.6 890.4h0M485.6 894.7h0M484.7 888.8h0M485.6 876.3h0M486.3 893.3h0M485.0 890.8h0M485.8 884.5h0M490.3 886.0h0M487.6 901.3h0M490.4 890.9h0M487.5 877.9h0M486.8 898.2h0M484.9 890.9h0M483.7 910.7h0M489.9 876.8h0M483.4 883.9h0M488.9 895.5h0M489.2 889.9h0M485.9 876.0h0M485.3 885.8h0M486.0 900.8h0M486.5 882.6h0M485.0 901.8h0M487.6 877.8h0M488.4 890.3h0M485.3 889.1h0M488.4 898.8h0M484.5 916.7h0M485.4 891.7h0M488.6 896.1h0M488.7 896.2h0M486.0 909.5h0M486.2 895.5h0M489.7 887.7h0M488.4 904.2h0M486.9 889.1h0M489.6 901.0h0M488.8 900.8h0M484.5 902.5h0M486.7 894.2h0M490.5 880.8h0M483.7 895.7h0M490.1 892.8h0M490.1 902.7h0M484.4 882.6h0M484.7 891.3h0M485.4 878.8h0M488.6 893.5h0M484.4 890.6h0M488.5 893.4h0M485.0 885.2h0M489.0 886.2h0M484.8 896.7h0M484.5 884.1h0M489.1 885.5h0M483.4 879.3h0M486.7 887.2h0M486.4 894.7h0M486.5 896.2h0M483.8 924.9h0M485.0 883.6h0M487.7 889.4h0M485.7 914.6h0M490.5 898.0h0M487.6 895.6h0M484.0 894.0h0M486.3 891.8h0M486.2 893.8h0M516.9 843.3h0M514.0 917.9h0M516.7 860.4h0M515.1 872.0h0M513.6 862.5h0M513.9 894.3h0M518.2 913.1h0M518.6 857.3h0M515.0 888.0h0M519.1 894.8h0M514.2 886.7h0M513.4 883.2h0M519.6 871.8h0M518.2 853.2h0M515.0 864.1h0M519.1 860.4h0M515.4 855.1h0M519.4 890.2h0M519.6 850.2h0M518.2 882.5h0M517.1 885.5h0M515.8 856.7h0M518.0 897.7h0M519.6 894.1h0M519.9 881.2h0M514.4 890.1h0M518.5 879.1h0M515.1 865.1h0M514.7 888.7h0M518.5 872.9h0M514.8 874.2h0M518.1 906.4h0M514.0 873.6h0M514.7 857.5h0M518.5 860.8h0M516.9 882.5h0M516.6 897.9h0M514.7 901.5h0M519.3 906.0h0M519.3 888.2h0M518.0 877.7h0M519.8 856.2h0M514.4 892.2h0M518.3 877.3h0M513.8 892.6h0M514.4 898.3h0M514.4 853.3h0M516.5 861.6h0M520.3 897.3h0M517.5 895.4h0M516.8 869.8h0M515.5 845.6h0M520.4 853.8h0M519.7 864.0h0M518.3 855.2h0M513.4 896.0h0M514.6 872.9h0M516.1 916.1h0M515.1 886.8h0M519.2 870.2h0M516.9 896.4h0M517.2 886.3h0M514.0 875.1h0M515.6 880.4h0M516.8 872.3h0M518.2 874.6h0M513.4 845.7h0M515.4 849.2h0M518.7 860.0h0M519.8 886.9h0M515.4 863.6h0M515.0 887.8h0M517.0 883.8h0M516.8 862.1h0M514.5 846.6h0M516.9 868.8h0M516.4 904.9h0M518.7 874.4h0M515.5 856.2h0M520.5 902.6h0M518.7 872.9h0M515.1 899.2h0M518.7 878.8h0M518.8 881.7h0M518.1 898.6h0M519.9 882.5h0M515.2 856.2h0M516.1 857.2h0M514.8 888.1h0M514.5 876.6h0M517.9 852.3h0M513.9 890.7h0M519.0 872.8h0M515.8 888.0h0M518.5 861.1h0M520.5 855.3h0M517.1 871.1h0M519.6 874.9h0M519.5 862.0h0M519.7 896.1h0M517.1 908.6h0M517.3 858.5h0M518.8 867.4h0M517.6 888.3h0M515.1 849.0h0M519.7 855.0h0M517.6 888.4h0M518.2 869.9h0M518.0 861.6h0M518.5 860.2h0M516.9 885.3h0M515.6 854.7h0M514.2 849.6h0M516.1 884.4h0M517.3 892.7h0M520.4 896.5h0M513.5 856.0h0M515.7 857.9h0M520.3 856.3h0M518.5 875.1h0M519.8 886.4h0M514.7 883.2h0M516.2 873.3h0M516.9 887.0h0M519.8 882.6h0M517.7 907.2h0M517.3 917.5h0M520.3 876.4h0M516.8 863.4h0M519.8 846.2h0M544.4 845.3h0M550.0 924.4h0M544.0 894.2h0M544.7 902.6h0M546.5 870.1h0M549.9 893.4h0M549.3 865.1h0M550.1 869.4h0M546.8 884.1h0M550.2 899.0h0M548.0 866.7h0M543.6 898.7h0M550.5 870.8h0M544.3 881.2h0M548.2 907.2h0M546.9 897.9h0M544.1 896.2h0M546.7 876.9h0M544.3 847.4h0M550.2 863.2h0M549.2 918.6h0M547.1 864.8h0M550.3 886.4h0M547.4 889.9h0M545.5 873.3h0M547.3 875.8h0M550.5 868.4h0M544.6 898.6h0M548.9 884.5h0M543.6 867.2h0M548.1 871.5h0M543.9 904.6h0M546.1 890.4h0M543.9 852.1h0M543.5 901.6h0M547.0 853.4h0M549.1 891.5h0M544.3 872.5h0M548.8 888.4h0M548.6 911.5h0M550.5 860.6h0M544.7 915.3h0M547.4 869.9h0M544.7 885.6h0M546.8 896.5h0M544.2 905.7h0M544.7 875.2h0M547.6 892.4h0M545.0 854.2h0M544.5 856.9h0M544.4 869.2h0M545.4 893.2h0M549.4 906.1h0M549.1 883.3h0M547.9 890.0h0M544.7 868.1h0M550.3 853.8h0M546.8 871.2h0M545.5 866.9h0M550.6 856.2h0M543.7 881.6h0M545.0 905.5h0M547.8 855.1h0M545.4 917.5h0M547.1 886.6h0M544.9 879.2h0M545.7 860.8h0M549.8 898.0h0M547.9 875.2h0M549.4 883.2h0M550.3 878.5h0M544.9 895.8h0M547.1 883.6h0M543.5 869.5h0M545.2 914.4h0M545.0 863.7h0M550.2 878.0h0M548.8 898.9h0M547.5 902.0h0M544.2 881.1h0M545.3 920.2h0M545.5 860.7h0M546.9 903.0h0M549.0 859.7h0M543.7 914.0h0M548.5 860.2h0M544.3 908.1h0M549.2 847.1h0M545.9 897.0h0M547.3 848.2h0M546.3 888.8h0M549.7 872.5h0M550.5 887.8h0M547.3 851.1h0M546.6 898.3h0M546.4 884.7h0M546.0 900.7h0M545.6 910.5h0M543.9 904.4h0M550.0 891.8h0M543.5 881.8h0M545.6 878.8h0M549.6 858.0h0M548.9 900.5h0M546.7 887.2h0M548.4 856.2h0M550.6 868.4h0M544.4 864.2h0M548.9 891.2h0M549.6 856.1h0M545.2 884.1h0M546.4 879.3h0M544.8 868.6h0M544.6 918.8h0M550.3 906.7h0M547.1 871.5h0M543.6 897.9h0M545.1 890.1h0M546.1 860.0h0M546.0 885.1h0M545.9 908.3h0M546.1 894.0h0M547.9 865.2h0M549.9 889.0h0M550.3 895.0h0M547.6 871.6h0M550.1 861.0h0M546.6 907.9h0M546.9 905.7h0M549.6 869.2h0M575.2 858.0h0M573.7 927.4h0M577.6 880.2h0M576.6 891.8h0M578.2 899.4h0M576.6 910.0h0M576.4 919.9h0M578.1 917.8h0M577.8 894.1h0M579.7 898.9h0M575.0 921.0h0M577.1 886.2h0M574.1 920.2h0M579.5 916.2h0M575.4 899.1h0M579.5 905.8h0M573.9 922.5h0M574.4 918.0h0M579.7 914.9h0M578.3 891.8h0M575.8 881.2h0M575.9 894.9h0M580.0 875.0h0M573.9 922.5h0M579.0 892.5h0M577.5 872.5h0M575.6 874.6h0M575.0 908.0h0M579.5 897.9h0M576.8 903.6h0M579.8 879.0h0M574.8 880.4h0M577.0 871.5h0M580.2 903.4h0M575.2 874.4h0M579.1 908.0h0M574.0 910.7h0M578.4 918.7h0M575.9 879.8h0M575.4 860.0h0M576.1 917.4h0M573.8 909.6h0M579.2 882.5h0M577.2 873.8h0M575.3 894.5h0M606.1 831.1h0M603.6 935.1h0M608.6 901.1h0M609.8 900.2h0M606.6 907.0h0M609.5 885.1h0M604.5 884.6h0M610.3 844.4h0M609.5 877.8h0M606.0 868.1h0M610.2 862.0h0M608.2 877.2h0M610.1 865.9h0M610.3 881.7h0M606.3 913.6h0M605.0 908.4h0M606.1 900.2h0M604.4 850.9h0M609.6 855.1h0M603.8 901.8h0M608.5 881.9h0M610.2 841.8h0M604.1 927.3h0M603.8 902.5h0M607.3 864.3h0M605.6 874.1h0M609.9 894.1h0M609.0 875.6h0M608.4 890.7h0M608.6 900.9h0M609.0 860.1h0M608.5 927.7h0M608.1 885.8h0M607.0 897.2h0M605.2 878.8h0M605.3 871.7h0M608.5 922.2h0M609.0 859.2h0M610.3 893.3h0M606.2 895.3h0M608.3 894.8h0M606.4 891.6h0M604.7 930.0h0M605.2 868.6h0M606.5 870.5h0M608.4 869.0h0M607.1 897.6h0M605.1 872.2h0M606.2 898.9h0M610.5 889.8h0M636.6 815.7h0M634.6 918.0h0M639.5 883.7h0M634.7 867.1h0M640.3 818.6h0M636.9 876.0h0M638.7 862.7h0M634.7 857.2h0M634.4 905.9h0M640.2 829.9h0M633.6 846.0h0M634.1 909.0h0M638.0 846.1h0M639.7 855.3h0M637.3 831.5h0M635.1 859.6h0M638.5 892.8h0M637.0 901.6h0M635.0 862.1h0M633.5 881.9h0M639.8 893.7h0M637.1 894.9h0M637.1 830.1h0M637.9 910.2h0M637.9 882.5h0M640.3 847.0h0M638.0 841.3h0M633.6 904.4h0M636.2 826.5h0M634.5 894.4h0M639.5 881.5h0M634.1 830.6h0M636.0 865.1h0M636.3 852.2h0M634.8 822.0h0M663.6 794.5h0M664.5 896.1h0M664.4 856.8h0M665.3 838.2h0M665.1 796.8h0M664.2 820.0h0M667.2 873.4h0M665.6 866.7h0M668.3 842.1h0M667.8 877.8h0M666.1 816.4h0M669.2 839.5h0M667.9 868.4h0M665.0 843.8h0M668.3 843.7h0M669.2 853.3h0M667.3 817.7h0M663.4 797.8h0M663.6 829.9h0M667.7 889.7h0M665.0 879.1h0M664.2 833.8h0M667.5 863.6h0M665.1 824.8h0M663.7 842.0h0M665.4 842.0h0M664.6 829.0h0M665.6 854.8h0M668.7 840.9h0M664.0 804.8h0M666.3 828.3h0M666.3 836.0h0M667.2 852.0h0M669.0 845.2h0M669.3 811.4h0M667.2 847.6h0M665.0 817.3h0M667.4 880.7h0M667.6 868.1h0M664.5 862.1h0M669.8 895.2h0M669.8 887.1h0M666.6 872.6h0M667.0 867.5h0M666.1 875.5h0" stroke="#FFA07A" stroke-width="6.3" stroke-linecap="round" fill="none"/><path d="M428.9,842.2 429.2,843.2 429.6,844.3 430.0,845.3 430.4,846.3 430.7,847.4 431.0,848.4 431.2,849.5 431.3,850.5 431.3,851.5 431.4,852.6 431.4,853.6 431.5,854.6 431.5,855.7 431.5,856.7 431.6,857.8 431.6,858.8 431.6,859.8 431.6,860.9 431.6,861.9 431.7,862.9 431.7,864.0 431.7,865.0 431.8,866.1 431.8,867.1 431.9,868.1 432.1,869.2 432.3,870.2 432.7,871.2 433.0,872.3 433.4,873.3 433.8,874.4 434.1,875.4 434.4,876.4 434.5,877.5 434.5,878.5 434.4,879.5 434.1,880.6 433.8,881.6 433.4,882.6 433.0,883.7 432.6,884.7 432.3,885.8 432.0,886.8 431.9,887.8 431.9,888.9 431.9,889.9 431.9,890.9 431.8,892.0 431.8,893.0 431.8,894.1 431.8,895.1 431.8,896.1 431.8,897.2 431.8,898.2 431.8,899.2 431.8,900.3 431.8,901.3 431.8,902.4 431.8,903.4 431.7,904.4 431.7,905.5 431.6,906.5 431.4,907.5 431.1,908.6 430.7,909.6 430.4,910.7 430.0,911.7 429.6,912.7 429.2,913.8 428.9,914.8 425.1,914.8 424.8,913.8 424.4,912.7 424.0,911.7 423.6,910.7 423.3,909.6 422.9,908.6 422.6,907.5 422.4,906.5 422.3,905.5 422.3,904.4 422.2,903.4 422.2,902.4 422.2,901.3 422.2,900.3 422.2,899.2 422.2,898.2 422.2,897.2 422.2,896.1 422.2,895.1 422.2,894.1 422.2,893.0 422.2,892.0 422.1,890.9 422.1,889.9 422.1,888.9 422.1,887.8 422.0,886.8 421.7,885.8 421.4,884.7 421.0,883.7 420.6,882.6 420.2,881.6 419.9,880.6 419.6,879.5 419.5,878.5 419.5,877.5 419.6,876.4 419.9,875.4 420.2,874.4 420.6,873.3 421.0,872.3 421.3,871.2 421.7,870.2 421.9,869.2 422.1,868.1 422.2,867.1 422.2,866.1 422.3,865.0 422.3,864.0 422.3,862.9 422.4,861.9 422.4,860.9 422.4,859.8 422.4,858.8 422.4,857.8 422.5,856.7 422.5,855.7 422.5,854.6 422.6,853.6 422.6,852.6 422.7,851.5 422.7,850.5 422.8,849.5 423.0,848.4 423.3,847.4 423.6,846.3 424.0,845.3 424.4,844.3 424.8,843.2 425.1,842.2ZM458.8,853.5 459.0,854.6 459.3,855.6 459.6,856.7 459.9,857.7 460.1,858.8 460.4,859.8 460.7,860.9 460.9,861.9 461.1,863.0 461.3,864.0 461.5,865.1 461.6,866.1 461.7,867.2 461.9,868.2 462.0,869.3 462.1,870.3 462.3,871.4 462.4,872.4 462.5,873.5 462.6,874.5 462.7,875.6 462.8,876.6 462.9,877.7 463.0,878.7 463.0,879.8 463.1,880.8 463.2,881.9 463.2,882.9 463.2,884.0 463.2,885.0 463.2,886.1 463.2,887.1 463.2,888.2 463.2,889.2 463.1,890.3 463.1,891.4 463.0,892.4 462.9,893.5 462.9,894.5 462.8,895.6 462.7,896.6 462.5,897.7 462.4,898.7 462.3,899.8 462.1,900.8 462.0,901.9 461.8,902.9 461.6,904.0 461.5,905.0 461.2,906.1 460.7,907.1 460.1,908.2 459.5,909.2 459.0,910.3 458.5,911.3 458.3,912.4 458.1,913.4 457.9,914.5 457.7,915.5 457.6,916.6 457.6,917.6 457.5,918.7 457.5,919.7 457.5,920.8 457.4,921.8 457.4,922.9 457.4,923.9 457.4,925.0 457.4,926.0 457.4,927.1 456.6,927.1 456.6,926.0 456.6,925.0 456.6,923.9 456.6,922.9 456.6,921.8 456.5,920.8 456.5,919.7 456.5,918.7 456.4,917.6 456.4,916.6 456.3,915.5 456.1,914.5 455.9,913.4 455.7,912.4 455.5,911.3 455.0,910.3 454.5,909.2 453.9,908.2 453.3,907.1 452.8,906.1 452.5,905.0 452.4,904.0 452.2,902.9 452.0,901.9 451.9,900.8 451.7,899.8 451.6,898.7 451.5,897.7 451.3,896.6 451.2,895.6 451.1,894.5 451.1,893.5 451.0,892.4 450.9,891.4 450.9,890.3 450.8,889.2 450.8,888.2 450.8,887.1 450.8,886.1 450.8,885.0 450.8,884.0 450.8,882.9 450.8,881.9 450.9,880.8 451.0,879.8 451.0,878.7 451.1,877.7 451.2,876.6 451.3,875.6 451.4,874.5 451.5,873.5 451.6,872.4 451.7,871.4 451.9,870.3 452.0,869.3 452.1,868.2 452.3,867.2 452.4,866.1 452.5,865.1 452.7,864.0 452.9,863.0 453.1,861.9 453.3,860.9 453.6,859.8 453.9,858.8 454.1,857.7 454.4,856.7 454.7,855.6 455.0,854.6 455.2,853.5ZM488.9,873.9 489.2,874.7 489.4,875.6 489.7,876.4 489.9,877.2 490.2,878.1 490.4,878.9 490.8,879.7 491.1,880.6 491.6,881.4 492.1,882.2 492.7,883.1 493.3,883.9 493.9,884.7 494.4,885.6 495.0,886.4 495.6,887.2 496.4,888.1 497.1,888.9 497.8,889.7 498.5,890.6 499.1,891.4 499.5,892.2 499.8,893.1 499.8,893.9 499.6,894.7 499.1,895.6 498.4,896.4 497.6,897.2 496.7,898.1 495.8,898.9 495.0,899.7 494.2,900.6 493.3,901.4 492.3,902.2 491.4,903.0 490.6,903.9 490.0,904.7 489.7,905.5 489.4,906.4 489.1,907.2 488.9,908.0 488.7,908.9 488.5,909.7 488.3,910.5 488.1,911.4 488.0,912.2 487.9,913.0 487.8,913.9 487.8,914.7 487.8,915.5 487.7,916.4 487.7,917.2 487.7,918.0 487.7,918.9 487.7,919.7 487.7,920.5 487.7,921.4 487.7,922.2 487.7,923.0 487.6,923.9 487.6,924.7 487.6,925.5 487.6,926.4 487.6,927.2 487.6,928.0 487.6,928.9 487.6,929.7 487.6,930.5 487.6,931.4 487.6,932.2 486.4,932.2 486.4,931.4 486.4,930.5 486.4,929.7 486.4,928.9 486.4,928.0 486.4,927.2 486.4,926.4 486.4,925.5 486.4,924.7 486.4,923.9 486.3,923.0 486.3,922.2 486.3,921.4 486.3,920.5 486.3,919.7 486.3,918.9 486.3,918.0 486.3,917.2 486.3,916.4 486.2,915.5 486.2,914.7 486.2,913.9 486.1,913.0 486.0,912.2 485.9,911.4 485.7,910.5 485.5,909.7 485.3,908.9 485.1,908.0 484.9,907.2 484.6,906.4 484.3,905.5 484.0,904.7 483.4,903.9 482.6,903.0 481.7,902.2 480.7,901.4 479.8,900.6 479.0,899.7 478.2,898.9 477.3,898.1 476.4,897.2 475.6,896.4 474.9,895.6 474.4,894.7 474.2,893.9 474.2,893.1 474.5,892.2 474.9,891.4 475.5,890.6 476.2,889.7 476.9,888.9 477.6,888.1 478.4,887.2 479.0,886.4 479.6,885.6 480.1,884.7 480.7,883.9 481.3,883.1 481.9,882.2 482.4,881.4 482.9,880.6 483.2,879.7 483.6,878.9 483.8,878.1 484.1,877.2 484.3,876.4 484.6,875.6 484.8,874.7 485.1,873.9ZM518.2,843.3 518.6,844.4 518.9,845.4 519.3,846.5 519.6,847.6 519.9,848.6 520.1,849.7 520.2,850.8 520.3,851.8 520.3,852.9 520.4,854.0 520.5,855.0 520.5,856.1 520.6,857.2 520.6,858.2 520.7,859.3 520.7,860.4 520.8,861.4 520.8,862.5 520.9,863.5 520.9,864.6 520.9,865.7 521.0,866.7 521.0,867.8 521.0,868.9 521.0,869.9 521.0,871.0 521.0,872.1 521.0,873.1 521.0,874.2 521.0,875.3 521.0,876.3 521.0,877.4 521.0,878.5 521.0,879.5 521.0,880.6 521.0,881.7 521.0,882.7 521.0,883.8 521.0,884.9 521.0,885.9 520.9,887.0 520.9,888.1 520.9,889.1 520.9,890.2 520.8,891.3 520.8,892.3 520.8,893.4 520.7,894.5 520.7,895.5 520.6,896.6 520.6,897.7 520.5,898.7 520.5,899.8 520.4,900.8 520.3,901.9 520.3,903.0 520.2,904.0 520.1,905.1 519.7,906.2 518.9,907.2 518.2,908.3 517.9,909.4 517.8,910.4 517.6,911.5 517.6,912.6 517.5,913.6 517.4,914.7 517.4,915.8 517.3,916.8 517.2,917.9 516.8,917.9 516.7,916.8 516.6,915.8 516.6,914.7 516.5,913.6 516.4,912.6 516.4,911.5 516.2,910.4 516.1,909.4 515.8,908.3 515.1,907.2 514.3,906.2 513.9,905.1 513.8,904.0 513.7,903.0 513.7,901.9 513.6,900.8 513.5,899.8 513.5,898.7 513.4,897.7 513.4,896.6 513.3,895.5 513.3,894.5 513.2,893.4 513.2,892.3 513.2,891.3 513.1,890.2 513.1,889.1 513.1,888.1 513.1,887.0 513.0,885.9 513.0,884.9 513.0,883.8 513.0,882.7 513.0,881.7 513.0,880.6 513.0,879.5 513.0,878.5 513.0,877.4 513.0,876.3 513.0,875.3 513.0,874.2 513.0,873.1 513.0,872.1 513.0,871.0 513.0,869.9 513.0,868.9 513.0,867.8 513.0,866.7 513.1,865.7 513.1,864.6 513.1,863.5 513.2,862.5 513.2,861.4 513.3,860.4 513.3,859.3 513.4,858.2 513.4,857.2 513.5,856.1 513.5,855.0 513.6,854.0 513.7,852.9 513.7,851.8 513.8,850.8 513.9,849.7 514.1,848.6 514.4,847.6 514.7,846.5 515.1,845.4 515.4,844.4 515.8,843.3ZM548.2,845.3 548.5,846.4 548.7,847.6 549.0,848.7 549.2,849.8 549.5,850.9 549.7,852.1 549.9,853.2 550.1,854.3 550.2,855.5 550.2,856.6 550.3,857.7 550.4,858.9 550.5,860.0 550.5,861.1 550.6,862.2 550.7,863.4 550.7,864.5 550.8,865.6 550.8,866.8 550.9,867.9 550.9,869.0 550.9,870.2 551.0,871.3 551.0,872.4 551.0,873.5 551.0,874.7 551.0,875.8 551.0,876.9 551.0,878.1 551.0,879.2 551.0,880.3 551.0,881.5 551.0,882.6 551.0,883.7 551.0,884.8 551.0,886.0 551.0,887.1 550.9,888.2 550.9,889.4 550.9,890.5 550.9,891.6 550.8,892.8 550.8,893.9 550.8,895.0 550.7,896.1 550.7,897.3 550.7,898.4 550.6,899.5 550.6,900.7 550.5,901.8 550.5,902.9 550.4,904.1 550.4,905.2 550.3,906.3 550.3,907.4 550.2,908.6 550.1,909.7 550.0,910.8 549.9,912.0 549.7,913.1 549.5,914.2 549.2,915.4 549.0,916.5 548.7,917.6 548.5,918.8 548.3,919.9 548.1,921.0 547.9,922.1 547.8,923.3 547.6,924.4 546.4,924.4 546.2,923.3 546.1,922.1 545.9,921.0 545.7,919.9 545.5,918.8 545.3,917.6 545.0,916.5 544.8,915.4 544.5,914.2 544.3,913.1 544.1,912.0 544.0,910.8 543.9,909.7 543.8,908.6 543.7,907.4 543.7,906.3 543.6,905.2 543.6,904.1 543.5,902.9 543.5,901.8 543.4,900.7 543.4,899.5 543.3,898.4 543.3,897.3 543.3,896.1 543.2,895.0 543.2,893.9 543.2,892.8 543.1,891.6 543.1,890.5 543.1,889.4 543.1,888.2 543.0,887.1 543.0,886.0 543.0,884.8 543.0,883.7 543.0,882.6 543.0,881.5 543.0,880.3 543.0,879.2 543.0,878.1 543.0,876.9 543.0,875.8 543.0,874.7 543.0,873.5 543.0,872.4 543.0,871.3 543.1,870.2 543.1,869.0 543.1,867.9 543.2,866.8 543.2,865.6 543.3,864.5 543.3,863.4 543.4,862.2 543.5,861.1 543.5,860.0 543.6,858.9 543.7,857.7 543.8,856.6 543.8,855.5 543.9,854.3 544.1,853.2 544.3,852.1 544.5,850.9 544.8,849.8 545.0,848.7 545.3,847.6 545.5,846.4 545.8,845.3ZM577.8,858.0 577.9,859.0 578.1,860.0 578.2,861.0 578.3,862.0 578.4,863.0 578.5,863.9 578.6,864.9 578.7,865.9 578.8,866.9 578.9,867.9 579.0,868.9 579.1,869.9 579.2,870.9 579.3,871.9 579.4,872.9 579.4,873.9 579.5,874.9 579.6,875.8 579.7,876.8 579.8,877.8 579.8,878.8 579.9,879.8 580.0,880.8 580.1,881.8 580.2,882.8 580.3,883.8 580.3,884.8 580.4,885.8 580.5,886.8 580.7,887.7 580.8,888.7 580.9,889.7 581.1,890.7 581.2,891.7 581.3,892.7 581.4,893.7 581.6,894.7 581.7,895.7 581.8,896.7 581.9,897.7 581.9,898.6 582.0,899.6 582.0,900.6 582.0,901.6 582.0,902.6 582.0,903.6 582.0,904.6 582.0,905.6 582.0,906.6 582.0,907.6 582.0,908.6 582.0,909.6 582.0,910.5 581.9,911.5 581.9,912.5 581.9,913.5 581.9,914.5 581.8,915.5 581.8,916.5 581.7,917.5 581.7,918.5 581.7,919.5 581.6,920.5 581.4,921.5 581.0,922.4 580.6,923.4 580.1,924.4 579.6,925.4 579.1,926.4 578.7,927.4 575.3,927.4 574.9,926.4 574.4,925.4 573.9,924.4 573.4,923.4 573.0,922.4 572.6,921.5 572.4,920.5 572.3,919.5 572.3,918.5 572.3,917.5 572.2,916.5 572.2,915.5 572.1,914.5 572.1,913.5 572.1,912.5 572.1,911.5 572.0,910.5 572.0,909.6 572.0,908.6 572.0,907.6 572.0,906.6 572.0,905.6 572.0,904.6 572.0,903.6 572.0,902.6 572.0,901.6 572.0,900.6 572.0,899.6 572.1,898.6 572.1,897.7 572.2,896.7 572.3,895.7 572.4,894.7 572.6,893.7 572.7,892.7 572.8,891.7 572.9,890.7 573.1,889.7 573.2,888.7 573.3,887.7 573.5,886.8 573.6,885.8 573.7,884.8 573.7,883.8 573.8,882.8 573.9,881.8 574.0,880.8 574.1,879.8 574.2,878.8 574.2,877.8 574.3,876.8 574.4,875.8 574.5,874.9 574.6,873.9 574.6,872.9 574.7,871.9 574.8,870.9 574.9,869.9 575.0,868.9 575.1,867.9 575.2,866.9 575.3,865.9 575.4,864.9 575.5,863.9 575.6,863.0 575.7,862.0 575.8,861.0 575.9,860.0 576.1,859.0 576.2,858.0ZM607.8,831.1 607.9,832.6 608.0,834.1 608.1,835.6 608.2,837.0 608.3,838.5 608.3,840.0 608.4,841.5 608.5,843.0 608.6,844.5 608.8,846.0 608.9,847.4 609.1,848.9 609.2,850.4 609.4,851.9 609.6,853.4 609.8,854.9 610.0,856.4 610.2,857.8 610.3,859.3 610.4,860.8 610.6,862.3 610.7,863.8 610.8,865.3 611.0,866.8 611.1,868.2 611.3,869.7 611.4,871.2 611.5,872.7 611.6,874.2 611.7,875.7 611.8,877.2 611.9,878.6 612.0,880.1 612.0,881.6 612.0,883.1 612.0,884.6 612.0,886.1 612.0,887.6 611.9,889.0 611.8,890.5 611.7,892.0 611.6,893.5 611.4,895.0 611.2,896.5 611.1,898.0 610.9,899.4 610.8,900.9 610.6,902.4 610.5,903.9 610.3,905.4 610.2,906.9 610.1,908.4 610.0,909.8 609.8,911.3 609.7,912.8 609.6,914.3 609.5,915.8 609.3,917.3 609.2,918.8 609.1,920.2 609.0,921.7 608.8,923.2 608.7,924.7 608.6,926.2 608.5,927.7 608.3,929.2 608.2,930.6 608.1,932.1 608.0,933.6 607.8,935.1 606.2,935.1 606.0,933.6 605.9,932.1 605.8,930.6 605.7,929.2 605.5,927.7 605.4,926.2 605.3,924.7 605.2,923.2 605.0,921.7 604.9,920.2 604.8,918.8 604.7,917.3 604.5,915.8 604.4,914.3 604.3,912.8 604.2,911.3 604.0,909.8 603.9,908.4 603.8,906.9 603.7,905.4 603.5,903.9 603.4,902.4 603.2,900.9 603.1,899.4 602.9,898.0 602.8,896.5 602.6,895.0 602.4,893.5 602.3,892.0 602.2,890.5 602.1,889.0 602.0,887.6 602.0,886.1 602.0,884.6 602.0,883.1 602.0,881.6 602.0,880.1 602.1,878.6 602.2,877.2 602.3,875.7 602.4,874.2 602.5,872.7 602.6,871.2 602.7,869.7 602.9,868.2 603.0,866.8 603.2,865.3 603.3,863.8 603.4,862.3 603.6,860.8 603.7,859.3 603.8,857.8 604.0,856.4 604.2,854.9 604.4,853.4 604.6,851.9 604.8,850.4 604.9,848.9 605.1,847.4 605.2,846.0 605.4,844.5 605.5,843.0 605.6,841.5 605.7,840.0 605.7,838.5 605.8,837.0 605.9,835.6 606.0,834.1 606.1,832.6 606.2,831.1ZM637.8,815.7 638.0,817.2 638.2,818.6 638.4,820.1 638.5,821.5 638.7,823.0 638.9,824.5 639.1,825.9 639.2,827.4 639.4,828.9 639.4,830.3 639.5,831.8 639.6,833.2 639.7,834.7 639.8,836.2 639.9,837.6 640.0,839.1 640.0,840.5 640.1,842.0 640.2,843.5 640.3,844.9 640.3,846.4 640.4,847.9 640.5,849.3 640.5,850.8 640.6,852.2 640.7,853.7 640.7,855.2 640.8,856.6 640.8,858.1 640.9,859.5 640.9,861.0 640.9,862.5 641.0,863.9 641.0,865.4 641.0,866.9 641.0,868.3 641.0,869.8 641.0,871.2 641.0,872.7 641.0,874.2 641.0,875.6 641.0,877.1 641.0,878.5 641.0,880.0 641.0,881.5 641.0,882.9 640.9,884.4 640.9,885.8 640.9,887.3 640.9,888.8 640.8,890.2 640.8,891.7 640.7,893.2 640.7,894.6 640.6,896.1 640.6,897.5 640.5,899.0 640.5,900.5 640.4,901.9 640.3,903.4 640.2,904.8 640.1,906.3 640.0,907.8 639.7,909.2 639.4,910.7 639.1,912.2 638.8,913.6 638.4,915.1 638.1,916.5 637.8,918.0 636.2,918.0 635.9,916.5 635.6,915.1 635.2,913.6 634.9,912.2 634.6,910.7 634.3,909.2 634.0,907.8 633.9,906.3 633.8,904.8 633.7,903.4 633.6,901.9 633.5,900.5 633.5,899.0 633.4,897.5 633.4,896.1 633.3,894.6 633.3,893.2 633.2,891.7 633.2,890.2 633.1,888.8 633.1,887.3 633.1,885.8 633.1,884.4 633.0,882.9 633.0,881.5 633.0,880.0 633.0,878.5 633.0,877.1 633.0,875.6 633.0,874.2 633.0,872.7 633.0,871.2 633.0,869.8 633.0,868.3 633.0,866.9 633.0,865.4 633.0,863.9 633.1,862.5 633.1,861.0 633.1,859.5 633.2,858.1 633.2,856.6 633.3,855.2 633.3,853.7 633.4,852.2 633.5,850.8 633.5,849.3 633.6,847.9 633.7,846.4 633.7,844.9 633.8,843.5 633.9,842.0 634.0,840.5 634.0,839.1 634.1,837.6 634.2,836.2 634.3,834.7 634.4,833.2 634.5,831.8 634.6,830.3 634.6,828.9 634.8,827.4 634.9,825.9 635.1,824.5 635.3,823.0 635.5,821.5 635.6,820.1 635.8,818.6 636.0,817.2 636.2,815.7ZM667.8,794.5 667.9,796.0 668.0,797.4 668.0,798.9 668.1,800.3 668.2,801.8 668.2,803.2 668.3,804.7 668.3,806.1 668.3,807.6 668.4,809.0 668.4,810.5 668.4,811.9 668.4,813.4 668.4,814.8 668.5,816.3 668.5,817.7 668.5,819.2 668.5,820.6 668.6,822.1 668.6,823.5 668.7,825.0 668.8,826.4 669.0,827.9 669.2,829.3 669.5,830.8 669.8,832.2 670.2,833.7 670.5,835.1 670.8,836.6 671.0,838.0 671.2,839.5 671.3,840.9 671.4,842.4 671.5,843.8 671.6,845.3 671.6,846.8 671.7,848.2 671.8,849.7 671.9,851.1 671.9,852.6 672.0,854.0 672.0,855.5 672.0,856.9 672.0,858.4 672.0,859.8 672.0,861.3 672.0,862.7 672.0,864.2 672.0,865.6 671.9,867.1 671.9,868.5 671.8,870.0 671.7,871.4 671.7,872.9 671.6,874.3 671.5,875.8 671.4,877.2 671.3,878.7 671.2,880.1 671.1,881.6 670.9,883.0 670.7,884.5 670.5,885.9 670.2,887.4 670.0,888.8 669.7,890.3 669.4,891.7 669.2,893.2 668.9,894.6 668.7,896.1 665.3,896.1 665.1,894.6 664.8,893.2 664.6,891.7 664.3,890.3 664.0,888.8 663.8,887.4 663.5,885.9 663.3,884.5 663.1,883.0 662.9,881.6 662.8,880.1 662.7,878.7 662.6,877.2 662.5,875.8 662.4,874.3 662.3,872.9 662.3,871.4 662.2,870.0 662.1,868.5 662.1,867.1 662.0,865.6 662.0,864.2 662.0,862.7 662.0,861.3 662.0,859.8 662.0,858.4 662.0,856.9 662.0,855.5 662.0,854.0 662.1,852.6 662.1,851.1 662.2,849.7 662.3,848.2 662.4,846.8 662.4,845.3 662.5,843.8 662.6,842.4 662.7,840.9 662.8,839.5 663.0,838.0 663.2,836.6 663.5,835.1 663.8,833.7 664.2,832.2 664.5,830.8 664.8,829.3 665.0,827.9 665.2,826.4 665.3,825.0 665.4,823.5 665.4,822.1 665.5,820.6 665.5,819.2 665.5,817.7 665.5,816.3 665.6,814.8 665.6,813.4 665.6,811.9 665.6,810.5 665.6,809.0 665.7,807.6 665.7,806.1 665.7,804.7 665.8,803.2 665.8,801.8 665.9,800.3 666.0,798.9 666.0,797.4 666.1,796.0 666.2,794.5Z" fill="none" stroke="#FFA07A" stroke-width="1.9" stroke-linejoin="round"/><path d="M427.0,842.2 L457.0,853.5 L487.0,873.9 L517.0,843.3 L547.0,845.3 L577.0,858.0 L607.0,831.1 L637.0,815.7 L667.0,794.5" fill="none" stroke="#bababa" stroke-width="1.7" stroke-dasharray="6.4,6.05"/><path d="M427.0,914.8 L457.0,927.1 L487.0,932.2 L517.0,917.9 L547.0,924.4 L577.0,927.4 L607.0,935.1 L637.0,918.0 L667.0,896.1" fill="none" stroke="#bababa" stroke-width="1.7" stroke-dasharray="6.4,6.05"/><path d="M419.5 881.5h15M449.5 886.2h15M479.5 893.7h15M509.5 874.9h15M539.5 876.8h15M569.5 901.6h15M599.5 884.7h15M629.5 873.3h15M659.5 846.8h15" stroke="#B22222" stroke-width="3.8"/><rect x="409.3" y="783.5" width="275.59999999999997" height="171.5999999999999" fill="none" stroke="#555" stroke-width="1"/><line x1="402.5" y1="909.8" x2="409.3" y2="909.8" stroke="#000" stroke-width="1.5"/><text x="398.8" y="914.5" font-size="14.5" text-anchor="end">200</text><line x1="402.5" y1="862.1" x2="409.3" y2="862.1" stroke="#000" stroke-width="1.5"/><text x="398.8" y="866.8000000000001" font-size="14.5" text-anchor="end">300</text><line x1="402.5" y1="814.4" x2="409.3" y2="814.4" stroke="#000" stroke-width="1.5"/><text x="398.8" y="819.1" font-size="14.5" text-anchor="end">400</text><line x1="427.0" y1="955.0999999999999" x2="427.0" y2="961.3999999999999" stroke="#000" stroke-width="1.5"/><line x1="457.0" y1="955.0999999999999" x2="457.0" y2="961.3999999999999" stroke="#000" stroke-width="1.5"/><line x1="487.0" y1="955.0999999999999" x2="487.0" y2="961.3999999999999" stroke="#000" stroke-width="1.5"/><line x1="517.0" y1="955.0999999999999" x2="517.0" y2="961.3999999999999" stroke="#000" stroke-width="1.5"/><line x1="547.0" y1="955.0999999999999" x2="547.0" y2="961.3999999999999" stroke="#000" stroke-width="1.5"/><line x1="577.0" y1="955.0999999999999" x2="577.0" y2="961.3999999999999" stroke="#000" stroke-width="1.5"/><line x1="607.0" y1="955.0999999999999" x2="607.0" y2="961.3999999999999" stroke="#000" stroke-width="1.5"/><line x1="637.0" y1="955.0999999999999" x2="637.0" y2="961.3999999999999" stroke="#000" stroke-width="1.5"/><line x1="667.0" y1="955.0999999999999" x2="667.0" y2="961.3999999999999" stroke="#000" stroke-width="1.5"/><text x="667.0" y="939.7" font-size="17" font-weight="bold" text-anchor="middle">j</text><text transform="translate(361.2,869.3) rotate(-90)" font-size="14.5" text-anchor="middle">CO<tspan font-size="9.5" dy="3">2</tspan><tspan dy="-3"> (ppm)</tspan></text><text transform="translate(432.5,975.0999999999999) rotate(-30)" font-size="14.5" text-anchor="end">0.3-0.0 Ma</text><text transform="translate(462.5,975.0999999999999) rotate(-30)" font-size="14.5" text-anchor="end">0.6-0.3 Ma</text><text transform="translate(492.5,975.0999999999999) rotate(-30)" font-size="14.5" text-anchor="end">0.9-0.6 Ma</text><text transform="translate(522.5,975.0999999999999) rotate(-30)" font-size="14.5" text-anchor="end">1.2-0.9 Ma</text><text transform="translate(552.5,975.0999999999999) rotate(-30)" font-size="14.5" text-anchor="end">1.5-1.2 Ma</text><text transform="translate(582.5,975.0999999999999) rotate(-30)" font-size="14.5" text-anchor="end">1.8-1.5 Ma</text><text transform="translate(612.5,975.0999999999999) rotate(-30)" font-size="14.5" text-anchor="end">2.1-1.8 Ma</text><text transform="translate(642.5,975.0999999999999) rotate(-30)" font-size="14.5" text-anchor="end">2.4-2.1 Ma</text><text transform="translate(672.5,975.0999999999999) rotate(-30)" font-size="14.5" text-anchor="end">2.7-2.4 Ma</text></svg></body></html>
